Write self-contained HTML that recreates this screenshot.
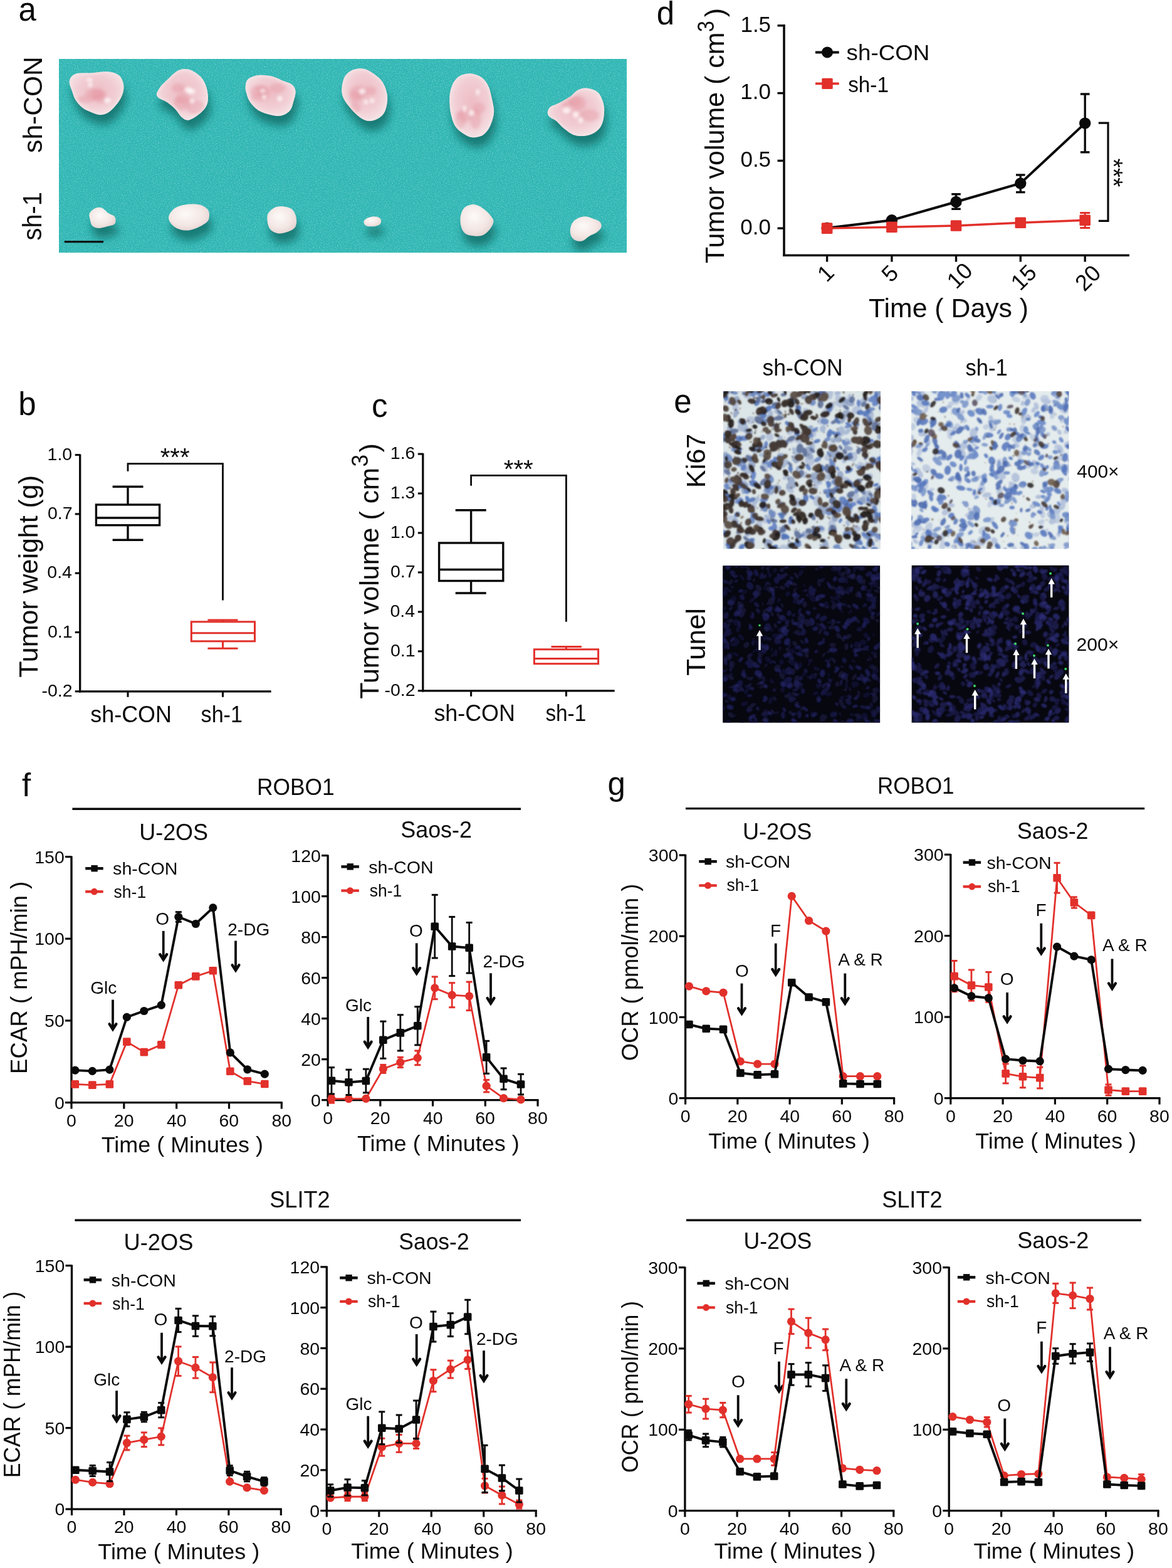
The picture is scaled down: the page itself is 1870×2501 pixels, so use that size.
<!DOCTYPE html>
<html><head><meta charset="utf-8"><title>Figure</title><style>html,body{margin:0;padding:0;background:#fff;}svg{display:block;}</style></head><body>
<svg width="1870" height="2501" viewBox="0 0 1870 2501" font-family="'Liberation Sans', Arial, Helvetica, sans-serif">
<rect width="1870" height="2501" fill="#ffffff"/>
<line x1="114" y1="1365.4" x2="114" y2="1760.3" stroke="#0a0a0a" stroke-width="3.4"/>
<line x1="112.3" y1="1758.6" x2="450.8" y2="1758.6" stroke="#0a0a0a" stroke-width="3.4"/>
<line x1="104" y1="1758.6" x2="114" y2="1758.6" stroke="#0a0a0a" stroke-width="3.2"/>
<text x="86.97" y="1768.8" font-size="28.5" fill="#0a0a0a" textLength="15.85" lengthAdjust="spacingAndGlyphs">0</text>
<line x1="104" y1="1627.93" x2="114" y2="1627.93" stroke="#0a0a0a" stroke-width="3.2"/>
<text x="71.12" y="1638.13" font-size="28.5" fill="#0a0a0a" textLength="31.7" lengthAdjust="spacingAndGlyphs">50</text>
<line x1="104" y1="1497.27" x2="114" y2="1497.27" stroke="#0a0a0a" stroke-width="3.2"/>
<text x="55.27" y="1507.47" font-size="28.5" fill="#0a0a0a" textLength="47.55" lengthAdjust="spacingAndGlyphs">100</text>
<line x1="104" y1="1366.6" x2="114" y2="1366.6" stroke="#0a0a0a" stroke-width="3.2"/>
<text x="55.27" y="1376.8" font-size="28.5" fill="#0a0a0a" textLength="47.55" lengthAdjust="spacingAndGlyphs">150</text>
<line x1="114" y1="1758.6" x2="114" y2="1768.6" stroke="#0a0a0a" stroke-width="3.2"/>
<text x="106.08" y="1796.8" font-size="28.5" fill="#0a0a0a" textLength="15.85" lengthAdjust="spacingAndGlyphs">0</text>
<line x1="197.82" y1="1758.6" x2="197.82" y2="1768.6" stroke="#0a0a0a" stroke-width="3.2"/>
<text x="181.82" y="1796.8" font-size="28.5" fill="#0a0a0a" textLength="31.7" lengthAdjust="spacingAndGlyphs">20</text>
<line x1="281.65" y1="1758.6" x2="281.65" y2="1768.6" stroke="#0a0a0a" stroke-width="3.2"/>
<text x="266.03" y="1796.8" font-size="28.5" fill="#0a0a0a" textLength="31.7" lengthAdjust="spacingAndGlyphs">40</text>
<line x1="365.48" y1="1758.6" x2="365.48" y2="1768.6" stroke="#0a0a0a" stroke-width="3.2"/>
<text x="349.46" y="1796.8" font-size="28.5" fill="#0a0a0a" textLength="31.7" lengthAdjust="spacingAndGlyphs">60</text>
<line x1="449.3" y1="1758.6" x2="449.3" y2="1768.6" stroke="#0a0a0a" stroke-width="3.2"/>
<text x="433.4" y="1796.8" font-size="28.5" fill="#0a0a0a" textLength="31.7" lengthAdjust="spacingAndGlyphs">80</text>
<text x="222.23" y="1339.6" font-size="36" fill="#0a0a0a" textLength="109.83" lengthAdjust="spacingAndGlyphs">U-2OS</text>
<text x="161.72" y="1838.1" font-size="35.5" fill="#0a0a0a" textLength="258.18" lengthAdjust="spacingAndGlyphs">Time ( Minutes )</text>
<text transform="translate(42.7,1712.99) rotate(-90)" font-size="36.5" fill="#0a0a0a" textLength="307.26" lengthAdjust="spacingAndGlyphs">ECAR ( mPH/min )</text>
<line x1="136.2" y1="1385.2" x2="164.7" y2="1385.2" stroke="#0a0a0a" stroke-width="4.4"/>
<rect x="145.4" y="1380" width="10.4" height="10.4" fill="#0a0a0a"/>
<line x1="136.2" y1="1422.2" x2="164.7" y2="1422.2" stroke="#e2302b" stroke-width="4.2"/>
<circle cx="150.4" cy="1422.2" r="5.4" fill="#e2302b"/>
<text x="180.11" y="1395.2" font-size="28.3" fill="#0a0a0a" textLength="103.29" lengthAdjust="spacingAndGlyphs">sh-CON</text>
<text x="181.61" y="1432.2" font-size="28.3" fill="#0a0a0a" textLength="51.49" lengthAdjust="spacingAndGlyphs">sh-1</text>
<line x1="180" y1="1594.6" x2="180" y2="1641.4" stroke="#0a0a0a" stroke-width="3.8"/>
<path d="M174.6,1633.4 L180,1641.8 L185.4,1633.4" fill="none" stroke="#0a0a0a" stroke-width="4.4" stroke-linejoin="miter" stroke-miterlimit="10" stroke-linecap="round"/>
<text x="144.2" y="1584.6" font-size="28" fill="#0a0a0a" textLength="42" lengthAdjust="spacingAndGlyphs">Glc</text>
<line x1="260.7" y1="1484.9" x2="260.7" y2="1530.3" stroke="#0a0a0a" stroke-width="3.8"/>
<path d="M255.3,1522.3 L260.7,1530.7 L266.1,1522.3" fill="none" stroke="#0a0a0a" stroke-width="4.4" stroke-linejoin="miter" stroke-miterlimit="10" stroke-linecap="round"/>
<text x="248.18" y="1475" font-size="28" fill="#0a0a0a" textLength="21.78" lengthAdjust="spacingAndGlyphs">O</text>
<line x1="376" y1="1500.6" x2="376" y2="1547.4" stroke="#0a0a0a" stroke-width="3.8"/>
<path d="M370.6,1539.4 L376,1547.8 L381.4,1539.4" fill="none" stroke="#0a0a0a" stroke-width="4.4" stroke-linejoin="miter" stroke-miterlimit="10" stroke-linecap="round"/>
<text x="363.3" y="1492" font-size="28" fill="#0a0a0a" textLength="66.9" lengthAdjust="spacingAndGlyphs">2-DG</text>
<polyline points="119.87,1729.33 147.36,1730.64 174.86,1729.33 202.35,1661.65 229.85,1678.11 257.34,1666.35 284.84,1571.22 312.33,1557.37 339.82,1548.23 367.32,1708.69 394.81,1724.37 422.31,1729.07" fill="none" stroke="#e2302b" stroke-width="2.8" stroke-linejoin="round"/>
<rect x="113.57" y="1723.03" width="12.6" height="12.6" fill="#e2302b" rx="1.5"/>
<rect x="141.06" y="1724.34" width="12.6" height="12.6" fill="#e2302b" rx="1.5"/>
<rect x="168.56" y="1723.03" width="12.6" height="12.6" fill="#e2302b" rx="1.5"/>
<rect x="196.05" y="1655.35" width="12.6" height="12.6" fill="#e2302b" rx="1.5"/>
<rect x="223.55" y="1671.81" width="12.6" height="12.6" fill="#e2302b" rx="1.5"/>
<rect x="251.04" y="1660.05" width="12.6" height="12.6" fill="#e2302b" rx="1.5"/>
<rect x="278.54" y="1564.92" width="12.6" height="12.6" fill="#e2302b" rx="1.5"/>
<rect x="306.03" y="1551.07" width="12.6" height="12.6" fill="#e2302b" rx="1.5"/>
<rect x="333.52" y="1541.93" width="12.6" height="12.6" fill="#e2302b" rx="1.5"/>
<rect x="361.02" y="1702.39" width="12.6" height="12.6" fill="#e2302b" rx="1.5"/>
<rect x="388.51" y="1718.07" width="12.6" height="12.6" fill="#e2302b" rx="1.5"/>
<rect x="416.01" y="1722.77" width="12.6" height="12.6" fill="#e2302b" rx="1.5"/>
<line x1="284.84" y1="1454.67" x2="284.84" y2="1470.35" stroke="#0a0a0a" stroke-width="2.8"/>
<line x1="279.84" y1="1454.67" x2="289.84" y2="1454.67" stroke="#0a0a0a" stroke-width="3"/>
<line x1="279.84" y1="1470.35" x2="289.84" y2="1470.35" stroke="#0a0a0a" stroke-width="3"/>
<polyline points="119.87,1707.12 147.36,1708.42 174.86,1706.07 202.35,1622.45 229.85,1612.51 257.34,1603.11 284.84,1462.51 312.33,1473.49 339.82,1447.87 367.32,1678.89 394.81,1705.81 422.31,1713.13" fill="none" stroke="#0a0a0a" stroke-width="3.9" stroke-linejoin="round"/>
<circle cx="119.87" cy="1707.12" r="6.6" fill="#0a0a0a"/>
<circle cx="147.36" cy="1708.42" r="6.6" fill="#0a0a0a"/>
<circle cx="174.86" cy="1706.07" r="6.6" fill="#0a0a0a"/>
<circle cx="202.35" cy="1622.45" r="6.6" fill="#0a0a0a"/>
<circle cx="229.85" cy="1612.51" r="6.6" fill="#0a0a0a"/>
<circle cx="257.34" cy="1603.11" r="6.6" fill="#0a0a0a"/>
<circle cx="284.84" cy="1462.51" r="6.6" fill="#0a0a0a"/>
<circle cx="312.33" cy="1473.49" r="6.6" fill="#0a0a0a"/>
<circle cx="339.82" cy="1447.87" r="6.6" fill="#0a0a0a"/>
<circle cx="367.32" cy="1678.89" r="6.6" fill="#0a0a0a"/>
<circle cx="394.81" cy="1705.81" r="6.6" fill="#0a0a0a"/>
<circle cx="422.31" cy="1713.13" r="6.6" fill="#0a0a0a"/>
<line x1="523.1" y1="1363.4" x2="523.1" y2="1756.3" stroke="#0a0a0a" stroke-width="3.4"/>
<line x1="521.4" y1="1754.6" x2="859.5" y2="1754.6" stroke="#0a0a0a" stroke-width="3.4"/>
<line x1="513.1" y1="1754.6" x2="523.1" y2="1754.6" stroke="#0a0a0a" stroke-width="3.2"/>
<text x="496.07" y="1764.8" font-size="28.5" fill="#0a0a0a" textLength="15.85" lengthAdjust="spacingAndGlyphs">0</text>
<line x1="513.1" y1="1689.6" x2="523.1" y2="1689.6" stroke="#0a0a0a" stroke-width="3.2"/>
<text x="480.22" y="1699.8" font-size="28.5" fill="#0a0a0a" textLength="31.7" lengthAdjust="spacingAndGlyphs">20</text>
<line x1="513.1" y1="1624.6" x2="523.1" y2="1624.6" stroke="#0a0a0a" stroke-width="3.2"/>
<text x="480.22" y="1634.8" font-size="28.5" fill="#0a0a0a" textLength="31.7" lengthAdjust="spacingAndGlyphs">40</text>
<line x1="513.1" y1="1559.6" x2="523.1" y2="1559.6" stroke="#0a0a0a" stroke-width="3.2"/>
<text x="480.22" y="1569.8" font-size="28.5" fill="#0a0a0a" textLength="31.7" lengthAdjust="spacingAndGlyphs">60</text>
<line x1="513.1" y1="1494.6" x2="523.1" y2="1494.6" stroke="#0a0a0a" stroke-width="3.2"/>
<text x="480.22" y="1504.8" font-size="28.5" fill="#0a0a0a" textLength="31.7" lengthAdjust="spacingAndGlyphs">80</text>
<line x1="513.1" y1="1429.6" x2="523.1" y2="1429.6" stroke="#0a0a0a" stroke-width="3.2"/>
<text x="464.37" y="1439.8" font-size="28.5" fill="#0a0a0a" textLength="47.55" lengthAdjust="spacingAndGlyphs">100</text>
<line x1="513.1" y1="1364.6" x2="523.1" y2="1364.6" stroke="#0a0a0a" stroke-width="3.2"/>
<text x="464.37" y="1374.8" font-size="28.5" fill="#0a0a0a" textLength="47.55" lengthAdjust="spacingAndGlyphs">120</text>
<line x1="523.1" y1="1754.6" x2="523.1" y2="1764.6" stroke="#0a0a0a" stroke-width="3.2"/>
<text x="515.18" y="1792.8" font-size="28.5" fill="#0a0a0a" textLength="15.85" lengthAdjust="spacingAndGlyphs">0</text>
<line x1="606.83" y1="1754.6" x2="606.83" y2="1764.6" stroke="#0a0a0a" stroke-width="3.2"/>
<text x="590.82" y="1792.8" font-size="28.5" fill="#0a0a0a" textLength="31.7" lengthAdjust="spacingAndGlyphs">20</text>
<line x1="690.55" y1="1754.6" x2="690.55" y2="1764.6" stroke="#0a0a0a" stroke-width="3.2"/>
<text x="674.93" y="1792.8" font-size="28.5" fill="#0a0a0a" textLength="31.7" lengthAdjust="spacingAndGlyphs">40</text>
<line x1="774.28" y1="1754.6" x2="774.28" y2="1764.6" stroke="#0a0a0a" stroke-width="3.2"/>
<text x="758.26" y="1792.8" font-size="28.5" fill="#0a0a0a" textLength="31.7" lengthAdjust="spacingAndGlyphs">60</text>
<line x1="858" y1="1754.6" x2="858" y2="1764.6" stroke="#0a0a0a" stroke-width="3.2"/>
<text x="842.1" y="1792.8" font-size="28.5" fill="#0a0a0a" textLength="31.7" lengthAdjust="spacingAndGlyphs">80</text>
<text x="639.24" y="1336.1" font-size="36" fill="#0a0a0a" textLength="113.77" lengthAdjust="spacingAndGlyphs">Saos-2</text>
<text x="569.92" y="1836.4" font-size="35.5" fill="#0a0a0a" textLength="258.88" lengthAdjust="spacingAndGlyphs">Time ( Minutes )</text>
<line x1="544.4" y1="1382.4" x2="572.9" y2="1382.4" stroke="#0a0a0a" stroke-width="4.4"/>
<rect x="553.6" y="1377.2" width="10.4" height="10.4" fill="#0a0a0a"/>
<line x1="544.4" y1="1420.6" x2="572.9" y2="1420.6" stroke="#e2302b" stroke-width="4.2"/>
<circle cx="558.6" cy="1420.6" r="5.4" fill="#e2302b"/>
<text x="588.31" y="1393.4" font-size="28.3" fill="#0a0a0a" textLength="103.29" lengthAdjust="spacingAndGlyphs">sh-CON</text>
<text x="589.81" y="1430.4" font-size="28.3" fill="#0a0a0a" textLength="51.49" lengthAdjust="spacingAndGlyphs">sh-1</text>
<line x1="587.2" y1="1622" x2="587.2" y2="1669.7" stroke="#0a0a0a" stroke-width="3.8"/>
<path d="M581.8,1661.7 L587.2,1670.1 L592.6,1661.7" fill="none" stroke="#0a0a0a" stroke-width="4.4" stroke-linejoin="miter" stroke-miterlimit="10" stroke-linecap="round"/>
<text x="551" y="1613.4" font-size="28" fill="#0a0a0a" textLength="42" lengthAdjust="spacingAndGlyphs">Glc</text>
<line x1="664.7" y1="1504.4" x2="664.7" y2="1552.2" stroke="#0a0a0a" stroke-width="3.8"/>
<path d="M659.3,1544.2 L664.7,1552.6 L670.1,1544.2" fill="none" stroke="#0a0a0a" stroke-width="4.4" stroke-linejoin="miter" stroke-miterlimit="10" stroke-linecap="round"/>
<text x="652.88" y="1494.2" font-size="28" fill="#0a0a0a" textLength="21.78" lengthAdjust="spacingAndGlyphs">O</text>
<line x1="783" y1="1552.3" x2="783" y2="1600" stroke="#0a0a0a" stroke-width="3.8"/>
<path d="M777.6,1592 L783,1600.4 L788.4,1592" fill="none" stroke="#0a0a0a" stroke-width="4.4" stroke-linejoin="miter" stroke-miterlimit="10" stroke-linecap="round"/>
<text x="770.6" y="1542.7" font-size="28" fill="#0a0a0a" textLength="66.9" lengthAdjust="spacingAndGlyphs">2-DG</text>
<line x1="528.96" y1="1746.15" x2="528.96" y2="1759.15" stroke="#e2302b" stroke-width="2.8"/>
<line x1="523.96" y1="1746.15" x2="533.96" y2="1746.15" stroke="#e2302b" stroke-width="3"/>
<line x1="523.96" y1="1759.15" x2="533.96" y2="1759.15" stroke="#e2302b" stroke-width="3"/>
<line x1="611.35" y1="1698.38" x2="611.35" y2="1711.38" stroke="#e2302b" stroke-width="2.8"/>
<line x1="606.35" y1="1698.38" x2="616.35" y2="1698.38" stroke="#e2302b" stroke-width="3"/>
<line x1="606.35" y1="1711.38" x2="616.35" y2="1711.38" stroke="#e2302b" stroke-width="3"/>
<line x1="638.81" y1="1686.35" x2="638.81" y2="1702.6" stroke="#e2302b" stroke-width="2.8"/>
<line x1="633.81" y1="1686.35" x2="643.81" y2="1686.35" stroke="#e2302b" stroke-width="3"/>
<line x1="633.81" y1="1702.6" x2="643.81" y2="1702.6" stroke="#e2302b" stroke-width="3"/>
<line x1="666.27" y1="1675.95" x2="666.27" y2="1698.7" stroke="#e2302b" stroke-width="2.8"/>
<line x1="661.27" y1="1675.95" x2="671.27" y2="1675.95" stroke="#e2302b" stroke-width="3"/>
<line x1="661.27" y1="1698.7" x2="671.27" y2="1698.7" stroke="#e2302b" stroke-width="3"/>
<line x1="693.73" y1="1557.97" x2="693.73" y2="1593.72" stroke="#e2302b" stroke-width="2.8"/>
<line x1="688.73" y1="1557.97" x2="698.73" y2="1557.97" stroke="#e2302b" stroke-width="3"/>
<line x1="688.73" y1="1593.72" x2="698.73" y2="1593.72" stroke="#e2302b" stroke-width="3"/>
<line x1="721.19" y1="1567.72" x2="721.19" y2="1606.72" stroke="#e2302b" stroke-width="2.8"/>
<line x1="716.19" y1="1567.72" x2="726.19" y2="1567.72" stroke="#e2302b" stroke-width="3"/>
<line x1="716.19" y1="1606.72" x2="726.19" y2="1606.72" stroke="#e2302b" stroke-width="3"/>
<line x1="748.66" y1="1566.1" x2="748.66" y2="1611.6" stroke="#e2302b" stroke-width="2.8"/>
<line x1="743.66" y1="1566.1" x2="753.66" y2="1566.1" stroke="#e2302b" stroke-width="3"/>
<line x1="743.66" y1="1611.6" x2="753.66" y2="1611.6" stroke="#e2302b" stroke-width="3"/>
<line x1="776.12" y1="1722.42" x2="776.12" y2="1741.92" stroke="#e2302b" stroke-width="2.8"/>
<line x1="771.12" y1="1722.42" x2="781.12" y2="1722.42" stroke="#e2302b" stroke-width="3"/>
<line x1="771.12" y1="1741.92" x2="781.12" y2="1741.92" stroke="#e2302b" stroke-width="3"/>
<polyline points="528.96,1752.65 556.42,1752.65 583.88,1752.32 611.35,1704.88 638.81,1694.47 666.27,1687.32 693.73,1575.85 721.19,1587.22 748.66,1588.85 776.12,1732.17 803.58,1751.67 831.04,1753.95" fill="none" stroke="#e2302b" stroke-width="2.8" stroke-linejoin="round"/>
<circle cx="528.96" cy="1752.65" r="6.6" fill="#e2302b"/>
<circle cx="556.42" cy="1752.65" r="6.6" fill="#e2302b"/>
<circle cx="583.88" cy="1752.32" r="6.6" fill="#e2302b"/>
<circle cx="611.35" cy="1704.88" r="6.6" fill="#e2302b"/>
<circle cx="638.81" cy="1694.47" r="6.6" fill="#e2302b"/>
<circle cx="666.27" cy="1687.32" r="6.6" fill="#e2302b"/>
<circle cx="693.73" cy="1575.85" r="6.6" fill="#e2302b"/>
<circle cx="721.19" cy="1587.22" r="6.6" fill="#e2302b"/>
<circle cx="748.66" cy="1588.85" r="6.6" fill="#e2302b"/>
<circle cx="776.12" cy="1732.17" r="6.6" fill="#e2302b"/>
<circle cx="803.58" cy="1751.67" r="6.6" fill="#e2302b"/>
<circle cx="831.04" cy="1753.95" r="6.6" fill="#e2302b"/>
<line x1="528.96" y1="1702.6" x2="528.96" y2="1744.85" stroke="#0a0a0a" stroke-width="2.8"/>
<line x1="523.96" y1="1702.6" x2="533.96" y2="1702.6" stroke="#0a0a0a" stroke-width="3"/>
<line x1="523.96" y1="1744.85" x2="533.96" y2="1744.85" stroke="#0a0a0a" stroke-width="3"/>
<line x1="556.42" y1="1706.17" x2="556.42" y2="1746.47" stroke="#0a0a0a" stroke-width="2.8"/>
<line x1="551.42" y1="1706.17" x2="561.42" y2="1706.17" stroke="#0a0a0a" stroke-width="3"/>
<line x1="551.42" y1="1746.47" x2="561.42" y2="1746.47" stroke="#0a0a0a" stroke-width="3"/>
<line x1="583.88" y1="1705.2" x2="583.88" y2="1742.9" stroke="#0a0a0a" stroke-width="2.8"/>
<line x1="578.88" y1="1705.2" x2="588.88" y2="1705.2" stroke="#0a0a0a" stroke-width="3"/>
<line x1="578.88" y1="1742.9" x2="588.88" y2="1742.9" stroke="#0a0a0a" stroke-width="3"/>
<line x1="611.35" y1="1629.15" x2="611.35" y2="1688.3" stroke="#0a0a0a" stroke-width="2.8"/>
<line x1="606.35" y1="1629.15" x2="616.35" y2="1629.15" stroke="#0a0a0a" stroke-width="3"/>
<line x1="606.35" y1="1688.3" x2="616.35" y2="1688.3" stroke="#0a0a0a" stroke-width="3"/>
<line x1="638.81" y1="1618.75" x2="638.81" y2="1675.95" stroke="#0a0a0a" stroke-width="2.8"/>
<line x1="633.81" y1="1618.75" x2="643.81" y2="1618.75" stroke="#0a0a0a" stroke-width="3"/>
<line x1="633.81" y1="1675.95" x2="643.81" y2="1675.95" stroke="#0a0a0a" stroke-width="3"/>
<line x1="666.27" y1="1605.75" x2="666.27" y2="1666.85" stroke="#0a0a0a" stroke-width="2.8"/>
<line x1="661.27" y1="1605.75" x2="671.27" y2="1605.75" stroke="#0a0a0a" stroke-width="3"/>
<line x1="661.27" y1="1666.85" x2="671.27" y2="1666.85" stroke="#0a0a0a" stroke-width="3"/>
<line x1="693.73" y1="1427.32" x2="693.73" y2="1528.07" stroke="#0a0a0a" stroke-width="2.8"/>
<line x1="688.73" y1="1427.32" x2="698.73" y2="1427.32" stroke="#0a0a0a" stroke-width="3"/>
<line x1="688.73" y1="1528.07" x2="698.73" y2="1528.07" stroke="#0a0a0a" stroke-width="3"/>
<line x1="721.19" y1="1462.42" x2="721.19" y2="1556.67" stroke="#0a0a0a" stroke-width="2.8"/>
<line x1="716.19" y1="1462.42" x2="726.19" y2="1462.42" stroke="#0a0a0a" stroke-width="3"/>
<line x1="716.19" y1="1556.67" x2="726.19" y2="1556.67" stroke="#0a0a0a" stroke-width="3"/>
<line x1="748.66" y1="1471.52" x2="748.66" y2="1552.12" stroke="#0a0a0a" stroke-width="2.8"/>
<line x1="743.66" y1="1471.52" x2="753.66" y2="1471.52" stroke="#0a0a0a" stroke-width="3"/>
<line x1="743.66" y1="1552.12" x2="753.66" y2="1552.12" stroke="#0a0a0a" stroke-width="3"/>
<line x1="776.12" y1="1660.35" x2="776.12" y2="1712.35" stroke="#0a0a0a" stroke-width="2.8"/>
<line x1="771.12" y1="1660.35" x2="781.12" y2="1660.35" stroke="#0a0a0a" stroke-width="3"/>
<line x1="771.12" y1="1712.35" x2="781.12" y2="1712.35" stroke="#0a0a0a" stroke-width="3"/>
<line x1="803.58" y1="1703.9" x2="803.58" y2="1737.7" stroke="#0a0a0a" stroke-width="2.8"/>
<line x1="798.58" y1="1703.9" x2="808.58" y2="1703.9" stroke="#0a0a0a" stroke-width="3"/>
<line x1="798.58" y1="1737.7" x2="808.58" y2="1737.7" stroke="#0a0a0a" stroke-width="3"/>
<line x1="831.04" y1="1713.32" x2="831.04" y2="1745.82" stroke="#0a0a0a" stroke-width="2.8"/>
<line x1="826.04" y1="1713.32" x2="836.04" y2="1713.32" stroke="#0a0a0a" stroke-width="3"/>
<line x1="826.04" y1="1745.82" x2="836.04" y2="1745.82" stroke="#0a0a0a" stroke-width="3"/>
<polyline points="528.96,1723.72 556.42,1726.32 583.88,1724.05 611.35,1658.72 638.81,1647.35 666.27,1636.3 693.73,1477.7 721.19,1509.55 748.66,1511.82 776.12,1686.35 803.58,1720.8 831.04,1729.57" fill="none" stroke="#0a0a0a" stroke-width="3.9" stroke-linejoin="round"/>
<rect x="522.66" y="1717.42" width="12.6" height="12.6" fill="#0a0a0a" rx="1.5"/>
<rect x="550.12" y="1720.02" width="12.6" height="12.6" fill="#0a0a0a" rx="1.5"/>
<rect x="577.58" y="1717.75" width="12.6" height="12.6" fill="#0a0a0a" rx="1.5"/>
<rect x="605.05" y="1652.42" width="12.6" height="12.6" fill="#0a0a0a" rx="1.5"/>
<rect x="632.51" y="1641.05" width="12.6" height="12.6" fill="#0a0a0a" rx="1.5"/>
<rect x="659.97" y="1630" width="12.6" height="12.6" fill="#0a0a0a" rx="1.5"/>
<rect x="687.43" y="1471.4" width="12.6" height="12.6" fill="#0a0a0a" rx="1.5"/>
<rect x="714.89" y="1503.25" width="12.6" height="12.6" fill="#0a0a0a" rx="1.5"/>
<rect x="742.36" y="1505.52" width="12.6" height="12.6" fill="#0a0a0a" rx="1.5"/>
<rect x="769.82" y="1680.05" width="12.6" height="12.6" fill="#0a0a0a" rx="1.5"/>
<rect x="797.28" y="1714.5" width="12.6" height="12.6" fill="#0a0a0a" rx="1.5"/>
<rect x="824.74" y="1723.27" width="12.6" height="12.6" fill="#0a0a0a" rx="1.5"/>
<line x1="114.5" y1="2017.5" x2="114.5" y2="2408.8" stroke="#0a0a0a" stroke-width="3.4"/>
<line x1="112.8" y1="2407.1" x2="449.8" y2="2407.1" stroke="#0a0a0a" stroke-width="3.4"/>
<line x1="104.5" y1="2407.1" x2="114.5" y2="2407.1" stroke="#0a0a0a" stroke-width="3.2"/>
<text x="87.47" y="2417.3" font-size="28.5" fill="#0a0a0a" textLength="15.85" lengthAdjust="spacingAndGlyphs">0</text>
<line x1="104.5" y1="2277.63" x2="114.5" y2="2277.63" stroke="#0a0a0a" stroke-width="3.2"/>
<text x="71.62" y="2287.83" font-size="28.5" fill="#0a0a0a" textLength="31.7" lengthAdjust="spacingAndGlyphs">50</text>
<line x1="104.5" y1="2148.17" x2="114.5" y2="2148.17" stroke="#0a0a0a" stroke-width="3.2"/>
<text x="55.77" y="2158.37" font-size="28.5" fill="#0a0a0a" textLength="47.55" lengthAdjust="spacingAndGlyphs">100</text>
<line x1="104.5" y1="2018.7" x2="114.5" y2="2018.7" stroke="#0a0a0a" stroke-width="3.2"/>
<text x="55.77" y="2028.9" font-size="28.5" fill="#0a0a0a" textLength="47.55" lengthAdjust="spacingAndGlyphs">150</text>
<line x1="114.5" y1="2407.1" x2="114.5" y2="2417.1" stroke="#0a0a0a" stroke-width="3.2"/>
<text x="106.58" y="2445.3" font-size="28.5" fill="#0a0a0a" textLength="15.85" lengthAdjust="spacingAndGlyphs">0</text>
<line x1="197.95" y1="2407.1" x2="197.95" y2="2417.1" stroke="#0a0a0a" stroke-width="3.2"/>
<text x="181.95" y="2445.3" font-size="28.5" fill="#0a0a0a" textLength="31.7" lengthAdjust="spacingAndGlyphs">20</text>
<line x1="281.4" y1="2407.1" x2="281.4" y2="2417.1" stroke="#0a0a0a" stroke-width="3.2"/>
<text x="265.78" y="2445.3" font-size="28.5" fill="#0a0a0a" textLength="31.7" lengthAdjust="spacingAndGlyphs">40</text>
<line x1="364.85" y1="2407.1" x2="364.85" y2="2417.1" stroke="#0a0a0a" stroke-width="3.2"/>
<text x="348.83" y="2445.3" font-size="28.5" fill="#0a0a0a" textLength="31.7" lengthAdjust="spacingAndGlyphs">60</text>
<line x1="448.3" y1="2407.1" x2="448.3" y2="2417.1" stroke="#0a0a0a" stroke-width="3.2"/>
<text x="432.4" y="2445.3" font-size="28.5" fill="#0a0a0a" textLength="31.7" lengthAdjust="spacingAndGlyphs">80</text>
<text x="197.53" y="1993.7" font-size="36" fill="#0a0a0a" textLength="111.03" lengthAdjust="spacingAndGlyphs">U-2OS</text>
<text x="156.32" y="2486.8" font-size="35.5" fill="#0a0a0a" textLength="257.88" lengthAdjust="spacingAndGlyphs">Time ( Minutes )</text>
<text transform="translate(32.3,2357.19) rotate(-90)" font-size="36.5" fill="#0a0a0a" textLength="297.56" lengthAdjust="spacingAndGlyphs">ECAR ( mPH/min )</text>
<line x1="133.6" y1="2041.4" x2="162.1" y2="2041.4" stroke="#0a0a0a" stroke-width="4.4"/>
<rect x="142.8" y="2036.2" width="10.4" height="10.4" fill="#0a0a0a"/>
<line x1="133.6" y1="2078.9" x2="162.1" y2="2078.9" stroke="#e2302b" stroke-width="4.2"/>
<circle cx="147.8" cy="2078.9" r="5.4" fill="#e2302b"/>
<text x="177.71" y="2051.9" font-size="28.3" fill="#0a0a0a" textLength="103.29" lengthAdjust="spacingAndGlyphs">sh-CON</text>
<text x="179.21" y="2088.9" font-size="28.3" fill="#0a0a0a" textLength="51.49" lengthAdjust="spacingAndGlyphs">sh-1</text>
<line x1="186.1" y1="2218.2" x2="186.1" y2="2266.3" stroke="#0a0a0a" stroke-width="3.8"/>
<path d="M180.7,2258.3 L186.1,2266.7 L191.5,2258.3" fill="none" stroke="#0a0a0a" stroke-width="4.4" stroke-linejoin="miter" stroke-miterlimit="10" stroke-linecap="round"/>
<text x="149.2" y="2209.6" font-size="28" fill="#0a0a0a" textLength="42" lengthAdjust="spacingAndGlyphs">Glc</text>
<line x1="258" y1="2125.8" x2="258" y2="2172.5" stroke="#0a0a0a" stroke-width="3.8"/>
<path d="M252.6,2164.5 L258,2172.9 L263.4,2164.5" fill="none" stroke="#0a0a0a" stroke-width="4.4" stroke-linejoin="miter" stroke-miterlimit="10" stroke-linecap="round"/>
<text x="245.58" y="2114.4" font-size="28" fill="#0a0a0a" textLength="21.78" lengthAdjust="spacingAndGlyphs">O</text>
<line x1="370" y1="2181.2" x2="370" y2="2229.4" stroke="#0a0a0a" stroke-width="3.8"/>
<path d="M364.6,2221.4 L370,2229.8 L375.4,2221.4" fill="none" stroke="#0a0a0a" stroke-width="4.4" stroke-linejoin="miter" stroke-miterlimit="10" stroke-linecap="round"/>
<text x="358.1" y="2172.7" font-size="28" fill="#0a0a0a" textLength="66.9" lengthAdjust="spacingAndGlyphs">2-DG</text>
<line x1="202.46" y1="2290.06" x2="202.46" y2="2312.85" stroke="#e2302b" stroke-width="2.8"/>
<line x1="197.46" y1="2290.06" x2="207.46" y2="2290.06" stroke="#e2302b" stroke-width="3"/>
<line x1="197.46" y1="2312.85" x2="207.46" y2="2312.85" stroke="#e2302b" stroke-width="3"/>
<line x1="229.83" y1="2284.88" x2="229.83" y2="2307.67" stroke="#e2302b" stroke-width="2.8"/>
<line x1="224.83" y1="2284.88" x2="234.83" y2="2284.88" stroke="#e2302b" stroke-width="3"/>
<line x1="224.83" y1="2307.67" x2="234.83" y2="2307.67" stroke="#e2302b" stroke-width="3"/>
<line x1="257.2" y1="2277.89" x2="257.2" y2="2304.82" stroke="#e2302b" stroke-width="2.8"/>
<line x1="252.2" y1="2277.89" x2="262.2" y2="2277.89" stroke="#e2302b" stroke-width="3"/>
<line x1="252.2" y1="2304.82" x2="262.2" y2="2304.82" stroke="#e2302b" stroke-width="3"/>
<line x1="284.57" y1="2147.91" x2="284.57" y2="2194.52" stroke="#e2302b" stroke-width="2.8"/>
<line x1="279.57" y1="2147.91" x2="289.57" y2="2147.91" stroke="#e2302b" stroke-width="3"/>
<line x1="279.57" y1="2194.52" x2="289.57" y2="2194.52" stroke="#e2302b" stroke-width="3"/>
<line x1="311.94" y1="2164.48" x2="311.94" y2="2198.14" stroke="#e2302b" stroke-width="2.8"/>
<line x1="306.94" y1="2164.48" x2="316.94" y2="2164.48" stroke="#e2302b" stroke-width="3"/>
<line x1="306.94" y1="2198.14" x2="316.94" y2="2198.14" stroke="#e2302b" stroke-width="3"/>
<line x1="339.31" y1="2173.02" x2="339.31" y2="2220.67" stroke="#e2302b" stroke-width="2.8"/>
<line x1="334.31" y1="2173.02" x2="344.31" y2="2173.02" stroke="#e2302b" stroke-width="3"/>
<line x1="334.31" y1="2220.67" x2="344.31" y2="2220.67" stroke="#e2302b" stroke-width="3"/>
<polyline points="120.34,2360.23 147.71,2364.38 175.08,2366.71 202.46,2301.46 229.83,2296.28 257.2,2291.36 284.57,2171.21 311.94,2181.31 339.31,2196.85 366.69,2363.08 394.06,2372.92 421.43,2377.32" fill="none" stroke="#e2302b" stroke-width="2.8" stroke-linejoin="round"/>
<circle cx="120.34" cy="2360.23" r="6.6" fill="#e2302b"/>
<circle cx="147.71" cy="2364.38" r="6.6" fill="#e2302b"/>
<circle cx="175.08" cy="2366.71" r="6.6" fill="#e2302b"/>
<circle cx="202.46" cy="2301.46" r="6.6" fill="#e2302b"/>
<circle cx="229.83" cy="2296.28" r="6.6" fill="#e2302b"/>
<circle cx="257.2" cy="2291.36" r="6.6" fill="#e2302b"/>
<circle cx="284.57" cy="2171.21" r="6.6" fill="#e2302b"/>
<circle cx="311.94" cy="2181.31" r="6.6" fill="#e2302b"/>
<circle cx="339.31" cy="2196.85" r="6.6" fill="#e2302b"/>
<circle cx="366.69" cy="2363.08" r="6.6" fill="#e2302b"/>
<circle cx="394.06" cy="2372.92" r="6.6" fill="#e2302b"/>
<circle cx="421.43" cy="2377.32" r="6.6" fill="#e2302b"/>
<line x1="147.71" y1="2337.45" x2="147.71" y2="2354.54" stroke="#0a0a0a" stroke-width="2.8"/>
<line x1="142.71" y1="2337.45" x2="152.71" y2="2337.45" stroke="#0a0a0a" stroke-width="3"/>
<line x1="142.71" y1="2354.54" x2="152.71" y2="2354.54" stroke="#0a0a0a" stroke-width="3"/>
<line x1="175.08" y1="2332.53" x2="175.08" y2="2362.56" stroke="#0a0a0a" stroke-width="2.8"/>
<line x1="170.08" y1="2332.53" x2="180.08" y2="2332.53" stroke="#0a0a0a" stroke-width="3"/>
<line x1="170.08" y1="2362.56" x2="180.08" y2="2362.56" stroke="#0a0a0a" stroke-width="3"/>
<line x1="202.46" y1="2252.78" x2="202.46" y2="2275.04" stroke="#0a0a0a" stroke-width="2.8"/>
<line x1="197.46" y1="2252.78" x2="207.46" y2="2252.78" stroke="#0a0a0a" stroke-width="3"/>
<line x1="197.46" y1="2275.04" x2="207.46" y2="2275.04" stroke="#0a0a0a" stroke-width="3"/>
<line x1="229.83" y1="2252.26" x2="229.83" y2="2267.79" stroke="#0a0a0a" stroke-width="2.8"/>
<line x1="224.83" y1="2252.26" x2="234.83" y2="2252.26" stroke="#0a0a0a" stroke-width="3"/>
<line x1="224.83" y1="2267.79" x2="234.83" y2="2267.79" stroke="#0a0a0a" stroke-width="3"/>
<line x1="257.2" y1="2237.5" x2="257.2" y2="2260.8" stroke="#0a0a0a" stroke-width="2.8"/>
<line x1="252.2" y1="2237.5" x2="262.2" y2="2237.5" stroke="#0a0a0a" stroke-width="3"/>
<line x1="252.2" y1="2260.8" x2="262.2" y2="2260.8" stroke="#0a0a0a" stroke-width="3"/>
<line x1="284.57" y1="2087.32" x2="284.57" y2="2124.6" stroke="#0a0a0a" stroke-width="2.8"/>
<line x1="279.57" y1="2087.32" x2="289.57" y2="2087.32" stroke="#0a0a0a" stroke-width="3"/>
<line x1="279.57" y1="2124.6" x2="289.57" y2="2124.6" stroke="#0a0a0a" stroke-width="3"/>
<line x1="311.94" y1="2098.71" x2="311.94" y2="2131.34" stroke="#0a0a0a" stroke-width="2.8"/>
<line x1="306.94" y1="2098.71" x2="316.94" y2="2098.71" stroke="#0a0a0a" stroke-width="3"/>
<line x1="306.94" y1="2131.34" x2="316.94" y2="2131.34" stroke="#0a0a0a" stroke-width="3"/>
<line x1="339.31" y1="2099.75" x2="339.31" y2="2130.82" stroke="#0a0a0a" stroke-width="2.8"/>
<line x1="334.31" y1="2099.75" x2="344.31" y2="2099.75" stroke="#0a0a0a" stroke-width="3"/>
<line x1="334.31" y1="2130.82" x2="344.31" y2="2130.82" stroke="#0a0a0a" stroke-width="3"/>
<line x1="366.69" y1="2337.71" x2="366.69" y2="2353.24" stroke="#0a0a0a" stroke-width="2.8"/>
<line x1="361.69" y1="2337.71" x2="371.69" y2="2337.71" stroke="#0a0a0a" stroke-width="3"/>
<line x1="361.69" y1="2353.24" x2="371.69" y2="2353.24" stroke="#0a0a0a" stroke-width="3"/>
<line x1="394.06" y1="2347.29" x2="394.06" y2="2362.82" stroke="#0a0a0a" stroke-width="2.8"/>
<line x1="389.06" y1="2347.29" x2="399.06" y2="2347.29" stroke="#0a0a0a" stroke-width="3"/>
<line x1="389.06" y1="2362.82" x2="399.06" y2="2362.82" stroke="#0a0a0a" stroke-width="3"/>
<line x1="421.43" y1="2356.61" x2="421.43" y2="2369.55" stroke="#0a0a0a" stroke-width="2.8"/>
<line x1="416.43" y1="2356.61" x2="426.43" y2="2356.61" stroke="#0a0a0a" stroke-width="3"/>
<line x1="416.43" y1="2369.55" x2="426.43" y2="2369.55" stroke="#0a0a0a" stroke-width="3"/>
<polyline points="120.34,2344.7 147.71,2345.99 175.08,2347.55 202.46,2263.91 229.83,2260.03 257.2,2249.15 284.57,2105.96 311.94,2115.02 339.31,2115.28 366.69,2345.47 394.06,2355.05 421.43,2363.08" fill="none" stroke="#0a0a0a" stroke-width="3.9" stroke-linejoin="round"/>
<rect x="114.04" y="2338.4" width="12.6" height="12.6" fill="#0a0a0a" rx="1.5"/>
<rect x="141.41" y="2339.69" width="12.6" height="12.6" fill="#0a0a0a" rx="1.5"/>
<rect x="168.78" y="2341.25" width="12.6" height="12.6" fill="#0a0a0a" rx="1.5"/>
<rect x="196.16" y="2257.61" width="12.6" height="12.6" fill="#0a0a0a" rx="1.5"/>
<rect x="223.53" y="2253.73" width="12.6" height="12.6" fill="#0a0a0a" rx="1.5"/>
<rect x="250.9" y="2242.85" width="12.6" height="12.6" fill="#0a0a0a" rx="1.5"/>
<rect x="278.27" y="2099.66" width="12.6" height="12.6" fill="#0a0a0a" rx="1.5"/>
<rect x="305.64" y="2108.72" width="12.6" height="12.6" fill="#0a0a0a" rx="1.5"/>
<rect x="333.01" y="2108.98" width="12.6" height="12.6" fill="#0a0a0a" rx="1.5"/>
<rect x="360.39" y="2339.17" width="12.6" height="12.6" fill="#0a0a0a" rx="1.5"/>
<rect x="387.76" y="2348.75" width="12.6" height="12.6" fill="#0a0a0a" rx="1.5"/>
<rect x="415.13" y="2356.78" width="12.6" height="12.6" fill="#0a0a0a" rx="1.5"/>
<line x1="521.3" y1="2019.6" x2="521.3" y2="2411.3" stroke="#0a0a0a" stroke-width="3.4"/>
<line x1="519.6" y1="2409.6" x2="856.7" y2="2409.6" stroke="#0a0a0a" stroke-width="3.4"/>
<line x1="511.3" y1="2409.6" x2="521.3" y2="2409.6" stroke="#0a0a0a" stroke-width="3.2"/>
<text x="494.27" y="2419.8" font-size="28.5" fill="#0a0a0a" textLength="15.85" lengthAdjust="spacingAndGlyphs">0</text>
<line x1="511.3" y1="2344.8" x2="521.3" y2="2344.8" stroke="#0a0a0a" stroke-width="3.2"/>
<text x="478.42" y="2355" font-size="28.5" fill="#0a0a0a" textLength="31.7" lengthAdjust="spacingAndGlyphs">20</text>
<line x1="511.3" y1="2280" x2="521.3" y2="2280" stroke="#0a0a0a" stroke-width="3.2"/>
<text x="478.42" y="2290.2" font-size="28.5" fill="#0a0a0a" textLength="31.7" lengthAdjust="spacingAndGlyphs">40</text>
<line x1="511.3" y1="2215.2" x2="521.3" y2="2215.2" stroke="#0a0a0a" stroke-width="3.2"/>
<text x="478.42" y="2225.4" font-size="28.5" fill="#0a0a0a" textLength="31.7" lengthAdjust="spacingAndGlyphs">60</text>
<line x1="511.3" y1="2150.4" x2="521.3" y2="2150.4" stroke="#0a0a0a" stroke-width="3.2"/>
<text x="478.42" y="2160.6" font-size="28.5" fill="#0a0a0a" textLength="31.7" lengthAdjust="spacingAndGlyphs">80</text>
<line x1="511.3" y1="2085.6" x2="521.3" y2="2085.6" stroke="#0a0a0a" stroke-width="3.2"/>
<text x="462.57" y="2095.8" font-size="28.5" fill="#0a0a0a" textLength="47.55" lengthAdjust="spacingAndGlyphs">100</text>
<line x1="511.3" y1="2020.8" x2="521.3" y2="2020.8" stroke="#0a0a0a" stroke-width="3.2"/>
<text x="462.57" y="2031" font-size="28.5" fill="#0a0a0a" textLength="47.55" lengthAdjust="spacingAndGlyphs">120</text>
<line x1="521.3" y1="2409.6" x2="521.3" y2="2419.6" stroke="#0a0a0a" stroke-width="3.2"/>
<text x="513.38" y="2447.8" font-size="28.5" fill="#0a0a0a" textLength="15.85" lengthAdjust="spacingAndGlyphs">0</text>
<line x1="604.77" y1="2409.6" x2="604.77" y2="2419.6" stroke="#0a0a0a" stroke-width="3.2"/>
<text x="588.77" y="2447.8" font-size="28.5" fill="#0a0a0a" textLength="31.7" lengthAdjust="spacingAndGlyphs">20</text>
<line x1="688.25" y1="2409.6" x2="688.25" y2="2419.6" stroke="#0a0a0a" stroke-width="3.2"/>
<text x="672.63" y="2447.8" font-size="28.5" fill="#0a0a0a" textLength="31.7" lengthAdjust="spacingAndGlyphs">40</text>
<line x1="771.73" y1="2409.6" x2="771.73" y2="2419.6" stroke="#0a0a0a" stroke-width="3.2"/>
<text x="755.71" y="2447.8" font-size="28.5" fill="#0a0a0a" textLength="31.7" lengthAdjust="spacingAndGlyphs">60</text>
<line x1="855.2" y1="2409.6" x2="855.2" y2="2419.6" stroke="#0a0a0a" stroke-width="3.2"/>
<text x="839.3" y="2447.8" font-size="28.5" fill="#0a0a0a" textLength="31.7" lengthAdjust="spacingAndGlyphs">80</text>
<text x="636.34" y="1993.2" font-size="36" fill="#0a0a0a" textLength="112.27" lengthAdjust="spacingAndGlyphs">Saos-2</text>
<text x="560.22" y="2486.4" font-size="35.5" fill="#0a0a0a" textLength="258.48" lengthAdjust="spacingAndGlyphs">Time ( Minutes )</text>
<line x1="542.2" y1="2038.2" x2="570.7" y2="2038.2" stroke="#0a0a0a" stroke-width="4.4"/>
<rect x="551.4" y="2033" width="10.4" height="10.4" fill="#0a0a0a"/>
<line x1="542.2" y1="2075.9" x2="570.7" y2="2075.9" stroke="#e2302b" stroke-width="4.2"/>
<circle cx="556.4" cy="2075.9" r="5.4" fill="#e2302b"/>
<text x="585.51" y="2047.7" font-size="28.3" fill="#0a0a0a" textLength="103.29" lengthAdjust="spacingAndGlyphs">sh-CON</text>
<text x="587.01" y="2084.6" font-size="28.3" fill="#0a0a0a" textLength="51.49" lengthAdjust="spacingAndGlyphs">sh-1</text>
<line x1="587.2" y1="2258.7" x2="587.2" y2="2306.5" stroke="#0a0a0a" stroke-width="3.8"/>
<path d="M581.8,2298.5 L587.2,2306.9 L592.6,2298.5" fill="none" stroke="#0a0a0a" stroke-width="4.4" stroke-linejoin="miter" stroke-miterlimit="10" stroke-linecap="round"/>
<text x="551.6" y="2249.1" font-size="28" fill="#0a0a0a" textLength="42" lengthAdjust="spacingAndGlyphs">Glc</text>
<line x1="664.7" y1="2128.1" x2="664.7" y2="2175.9" stroke="#0a0a0a" stroke-width="3.8"/>
<path d="M659.3,2167.9 L664.7,2176.3 L670.1,2167.9" fill="none" stroke="#0a0a0a" stroke-width="4.4" stroke-linejoin="miter" stroke-miterlimit="10" stroke-linecap="round"/>
<text x="652.88" y="2118.5" font-size="28" fill="#0a0a0a" textLength="21.78" lengthAdjust="spacingAndGlyphs">O</text>
<line x1="772" y1="2154.2" x2="772" y2="2202" stroke="#0a0a0a" stroke-width="3.8"/>
<path d="M766.6,2194 L772,2202.4 L777.4,2194" fill="none" stroke="#0a0a0a" stroke-width="4.4" stroke-linejoin="miter" stroke-miterlimit="10" stroke-linecap="round"/>
<text x="759.9" y="2144.7" font-size="28" fill="#0a0a0a" textLength="66.9" lengthAdjust="spacingAndGlyphs">2-DG</text>
<line x1="554.52" y1="2380.76" x2="554.52" y2="2393.72" stroke="#e2302b" stroke-width="2.8"/>
<line x1="549.52" y1="2380.76" x2="559.52" y2="2380.76" stroke="#e2302b" stroke-width="3"/>
<line x1="549.52" y1="2393.72" x2="559.52" y2="2393.72" stroke="#e2302b" stroke-width="3"/>
<line x1="581.9" y1="2380.76" x2="581.9" y2="2393.72" stroke="#e2302b" stroke-width="2.8"/>
<line x1="576.9" y1="2380.76" x2="586.9" y2="2380.76" stroke="#e2302b" stroke-width="3"/>
<line x1="576.9" y1="2393.72" x2="586.9" y2="2393.72" stroke="#e2302b" stroke-width="3"/>
<line x1="609.28" y1="2294.26" x2="609.28" y2="2322.12" stroke="#e2302b" stroke-width="2.8"/>
<line x1="604.28" y1="2294.26" x2="614.28" y2="2294.26" stroke="#e2302b" stroke-width="3"/>
<line x1="604.28" y1="2322.12" x2="614.28" y2="2322.12" stroke="#e2302b" stroke-width="3"/>
<line x1="636.66" y1="2288.42" x2="636.66" y2="2316.29" stroke="#e2302b" stroke-width="2.8"/>
<line x1="631.66" y1="2288.42" x2="641.66" y2="2288.42" stroke="#e2302b" stroke-width="3"/>
<line x1="631.66" y1="2316.29" x2="641.66" y2="2316.29" stroke="#e2302b" stroke-width="3"/>
<line x1="664.04" y1="2294.26" x2="664.04" y2="2310.46" stroke="#e2302b" stroke-width="2.8"/>
<line x1="659.04" y1="2294.26" x2="669.04" y2="2294.26" stroke="#e2302b" stroke-width="3"/>
<line x1="659.04" y1="2310.46" x2="669.04" y2="2310.46" stroke="#e2302b" stroke-width="3"/>
<line x1="691.42" y1="2184.74" x2="691.42" y2="2219.74" stroke="#e2302b" stroke-width="2.8"/>
<line x1="686.42" y1="2184.74" x2="696.42" y2="2184.74" stroke="#e2302b" stroke-width="3"/>
<line x1="686.42" y1="2219.74" x2="696.42" y2="2219.74" stroke="#e2302b" stroke-width="3"/>
<line x1="718.8" y1="2170.16" x2="718.8" y2="2198.03" stroke="#e2302b" stroke-width="2.8"/>
<line x1="713.8" y1="2170.16" x2="723.8" y2="2170.16" stroke="#e2302b" stroke-width="3"/>
<line x1="713.8" y1="2198.03" x2="723.8" y2="2198.03" stroke="#e2302b" stroke-width="3"/>
<line x1="746.18" y1="2154.29" x2="746.18" y2="2183.45" stroke="#e2302b" stroke-width="2.8"/>
<line x1="741.18" y1="2154.29" x2="751.18" y2="2154.29" stroke="#e2302b" stroke-width="3"/>
<line x1="741.18" y1="2183.45" x2="751.18" y2="2183.45" stroke="#e2302b" stroke-width="3"/>
<line x1="773.56" y1="2358.41" x2="773.56" y2="2381.09" stroke="#e2302b" stroke-width="2.8"/>
<line x1="768.56" y1="2358.41" x2="778.56" y2="2358.41" stroke="#e2302b" stroke-width="3"/>
<line x1="768.56" y1="2381.09" x2="778.56" y2="2381.09" stroke="#e2302b" stroke-width="3"/>
<line x1="800.94" y1="2371.04" x2="800.94" y2="2398.91" stroke="#e2302b" stroke-width="2.8"/>
<line x1="795.94" y1="2371.04" x2="805.94" y2="2371.04" stroke="#e2302b" stroke-width="3"/>
<line x1="795.94" y1="2398.91" x2="805.94" y2="2398.91" stroke="#e2302b" stroke-width="3"/>
<line x1="828.32" y1="2393.08" x2="828.32" y2="2406.04" stroke="#e2302b" stroke-width="2.8"/>
<line x1="823.32" y1="2393.08" x2="833.32" y2="2393.08" stroke="#e2302b" stroke-width="3"/>
<line x1="823.32" y1="2406.04" x2="833.32" y2="2406.04" stroke="#e2302b" stroke-width="3"/>
<polyline points="527.14,2389.19 554.52,2387.24 581.9,2387.24 609.28,2308.19 636.66,2302.36 664.04,2302.36 691.42,2202.24 718.8,2184.1 746.18,2168.87 773.56,2369.75 800.94,2384.98 828.32,2399.56" fill="none" stroke="#e2302b" stroke-width="2.8" stroke-linejoin="round"/>
<circle cx="527.14" cy="2389.19" r="6.6" fill="#e2302b"/>
<circle cx="554.52" cy="2387.24" r="6.6" fill="#e2302b"/>
<circle cx="581.9" cy="2387.24" r="6.6" fill="#e2302b"/>
<circle cx="609.28" cy="2308.19" r="6.6" fill="#e2302b"/>
<circle cx="636.66" cy="2302.36" r="6.6" fill="#e2302b"/>
<circle cx="664.04" cy="2302.36" r="6.6" fill="#e2302b"/>
<circle cx="691.42" cy="2202.24" r="6.6" fill="#e2302b"/>
<circle cx="718.8" cy="2184.1" r="6.6" fill="#e2302b"/>
<circle cx="746.18" cy="2168.87" r="6.6" fill="#e2302b"/>
<circle cx="773.56" cy="2369.75" r="6.6" fill="#e2302b"/>
<circle cx="800.94" cy="2384.98" r="6.6" fill="#e2302b"/>
<circle cx="828.32" cy="2399.56" r="6.6" fill="#e2302b"/>
<line x1="527.14" y1="2367.8" x2="527.14" y2="2387.24" stroke="#0a0a0a" stroke-width="2.8"/>
<line x1="522.14" y1="2367.8" x2="532.14" y2="2367.8" stroke="#0a0a0a" stroke-width="3"/>
<line x1="522.14" y1="2387.24" x2="532.14" y2="2387.24" stroke="#0a0a0a" stroke-width="3"/>
<line x1="554.52" y1="2359.7" x2="554.52" y2="2385.62" stroke="#0a0a0a" stroke-width="2.8"/>
<line x1="549.52" y1="2359.7" x2="559.52" y2="2359.7" stroke="#0a0a0a" stroke-width="3"/>
<line x1="549.52" y1="2385.62" x2="559.52" y2="2385.62" stroke="#0a0a0a" stroke-width="3"/>
<line x1="581.9" y1="2361.65" x2="581.9" y2="2384.98" stroke="#0a0a0a" stroke-width="2.8"/>
<line x1="576.9" y1="2361.65" x2="586.9" y2="2361.65" stroke="#0a0a0a" stroke-width="3"/>
<line x1="576.9" y1="2384.98" x2="586.9" y2="2384.98" stroke="#0a0a0a" stroke-width="3"/>
<line x1="609.28" y1="2251.81" x2="609.28" y2="2303.65" stroke="#0a0a0a" stroke-width="2.8"/>
<line x1="604.28" y1="2251.81" x2="614.28" y2="2251.81" stroke="#0a0a0a" stroke-width="3"/>
<line x1="604.28" y1="2303.65" x2="614.28" y2="2303.65" stroke="#0a0a0a" stroke-width="3"/>
<line x1="636.66" y1="2257" x2="636.66" y2="2301.06" stroke="#0a0a0a" stroke-width="2.8"/>
<line x1="631.66" y1="2257" x2="641.66" y2="2257" stroke="#0a0a0a" stroke-width="3"/>
<line x1="631.66" y1="2301.06" x2="641.66" y2="2301.06" stroke="#0a0a0a" stroke-width="3"/>
<line x1="664.04" y1="2233.99" x2="664.04" y2="2294.9" stroke="#0a0a0a" stroke-width="2.8"/>
<line x1="659.04" y1="2233.99" x2="669.04" y2="2233.99" stroke="#0a0a0a" stroke-width="3"/>
<line x1="659.04" y1="2294.9" x2="669.04" y2="2294.9" stroke="#0a0a0a" stroke-width="3"/>
<line x1="691.42" y1="2092.08" x2="691.42" y2="2140.03" stroke="#0a0a0a" stroke-width="2.8"/>
<line x1="686.42" y1="2092.08" x2="696.42" y2="2092.08" stroke="#0a0a0a" stroke-width="3"/>
<line x1="686.42" y1="2140.03" x2="696.42" y2="2140.03" stroke="#0a0a0a" stroke-width="3"/>
<line x1="718.8" y1="2094.67" x2="718.8" y2="2131.61" stroke="#0a0a0a" stroke-width="2.8"/>
<line x1="713.8" y1="2094.67" x2="723.8" y2="2094.67" stroke="#0a0a0a" stroke-width="3"/>
<line x1="713.8" y1="2131.61" x2="723.8" y2="2131.61" stroke="#0a0a0a" stroke-width="3"/>
<line x1="746.18" y1="2073.29" x2="746.18" y2="2127.72" stroke="#0a0a0a" stroke-width="2.8"/>
<line x1="741.18" y1="2073.29" x2="751.18" y2="2073.29" stroke="#0a0a0a" stroke-width="3"/>
<line x1="741.18" y1="2127.72" x2="751.18" y2="2127.72" stroke="#0a0a0a" stroke-width="3"/>
<line x1="773.56" y1="2305.27" x2="773.56" y2="2380.44" stroke="#0a0a0a" stroke-width="2.8"/>
<line x1="768.56" y1="2305.27" x2="778.56" y2="2305.27" stroke="#0a0a0a" stroke-width="3"/>
<line x1="768.56" y1="2380.44" x2="778.56" y2="2380.44" stroke="#0a0a0a" stroke-width="3"/>
<line x1="800.94" y1="2337.02" x2="800.94" y2="2377.85" stroke="#0a0a0a" stroke-width="2.8"/>
<line x1="795.94" y1="2337.02" x2="805.94" y2="2337.02" stroke="#0a0a0a" stroke-width="3"/>
<line x1="795.94" y1="2377.85" x2="805.94" y2="2377.85" stroke="#0a0a0a" stroke-width="3"/>
<line x1="828.32" y1="2359.06" x2="828.32" y2="2395.99" stroke="#0a0a0a" stroke-width="2.8"/>
<line x1="823.32" y1="2359.06" x2="833.32" y2="2359.06" stroke="#0a0a0a" stroke-width="3"/>
<line x1="823.32" y1="2395.99" x2="833.32" y2="2395.99" stroke="#0a0a0a" stroke-width="3"/>
<polyline points="527.14,2377.52 554.52,2372.66 581.9,2373.31 609.28,2277.73 636.66,2279.03 664.04,2264.45 691.42,2116.06 718.8,2113.14 746.18,2100.5 773.56,2342.86 800.94,2357.44 828.32,2377.52" fill="none" stroke="#0a0a0a" stroke-width="3.9" stroke-linejoin="round"/>
<rect x="520.84" y="2371.22" width="12.6" height="12.6" fill="#0a0a0a" rx="1.5"/>
<rect x="548.22" y="2366.36" width="12.6" height="12.6" fill="#0a0a0a" rx="1.5"/>
<rect x="575.6" y="2367.01" width="12.6" height="12.6" fill="#0a0a0a" rx="1.5"/>
<rect x="602.98" y="2271.43" width="12.6" height="12.6" fill="#0a0a0a" rx="1.5"/>
<rect x="630.36" y="2272.73" width="12.6" height="12.6" fill="#0a0a0a" rx="1.5"/>
<rect x="657.74" y="2258.15" width="12.6" height="12.6" fill="#0a0a0a" rx="1.5"/>
<rect x="685.12" y="2109.76" width="12.6" height="12.6" fill="#0a0a0a" rx="1.5"/>
<rect x="712.5" y="2106.84" width="12.6" height="12.6" fill="#0a0a0a" rx="1.5"/>
<rect x="739.88" y="2094.2" width="12.6" height="12.6" fill="#0a0a0a" rx="1.5"/>
<rect x="767.26" y="2336.56" width="12.6" height="12.6" fill="#0a0a0a" rx="1.5"/>
<rect x="794.64" y="2351.14" width="12.6" height="12.6" fill="#0a0a0a" rx="1.5"/>
<rect x="822.02" y="2371.22" width="12.6" height="12.6" fill="#0a0a0a" rx="1.5"/>
<line x1="1093.6" y1="1362.8" x2="1093.6" y2="1753.3" stroke="#0a0a0a" stroke-width="3.4"/>
<line x1="1091.9" y1="1751.6" x2="1428.1" y2="1751.6" stroke="#0a0a0a" stroke-width="3.4"/>
<line x1="1083.6" y1="1751.6" x2="1093.6" y2="1751.6" stroke="#0a0a0a" stroke-width="3.2"/>
<text x="1066.57" y="1761.8" font-size="28.5" fill="#0a0a0a" textLength="15.85" lengthAdjust="spacingAndGlyphs">0</text>
<line x1="1083.6" y1="1622.4" x2="1093.6" y2="1622.4" stroke="#0a0a0a" stroke-width="3.2"/>
<text x="1034.87" y="1632.6" font-size="28.5" fill="#0a0a0a" textLength="47.55" lengthAdjust="spacingAndGlyphs">100</text>
<line x1="1083.6" y1="1493.2" x2="1093.6" y2="1493.2" stroke="#0a0a0a" stroke-width="3.2"/>
<text x="1034.87" y="1503.4" font-size="28.5" fill="#0a0a0a" textLength="47.55" lengthAdjust="spacingAndGlyphs">200</text>
<line x1="1083.6" y1="1364" x2="1093.6" y2="1364" stroke="#0a0a0a" stroke-width="3.2"/>
<text x="1034.87" y="1374.2" font-size="28.5" fill="#0a0a0a" textLength="47.55" lengthAdjust="spacingAndGlyphs">300</text>
<line x1="1093.6" y1="1751.6" x2="1093.6" y2="1761.6" stroke="#0a0a0a" stroke-width="3.2"/>
<text x="1085.68" y="1789.8" font-size="28.5" fill="#0a0a0a" textLength="15.85" lengthAdjust="spacingAndGlyphs">0</text>
<line x1="1176.85" y1="1751.6" x2="1176.85" y2="1761.6" stroke="#0a0a0a" stroke-width="3.2"/>
<text x="1160.85" y="1789.8" font-size="28.5" fill="#0a0a0a" textLength="31.7" lengthAdjust="spacingAndGlyphs">20</text>
<line x1="1260.1" y1="1751.6" x2="1260.1" y2="1761.6" stroke="#0a0a0a" stroke-width="3.2"/>
<text x="1244.48" y="1789.8" font-size="28.5" fill="#0a0a0a" textLength="31.7" lengthAdjust="spacingAndGlyphs">40</text>
<line x1="1343.35" y1="1751.6" x2="1343.35" y2="1761.6" stroke="#0a0a0a" stroke-width="3.2"/>
<text x="1327.33" y="1789.8" font-size="28.5" fill="#0a0a0a" textLength="31.7" lengthAdjust="spacingAndGlyphs">60</text>
<line x1="1426.6" y1="1751.6" x2="1426.6" y2="1761.6" stroke="#0a0a0a" stroke-width="3.2"/>
<text x="1410.7" y="1789.8" font-size="28.5" fill="#0a0a0a" textLength="31.7" lengthAdjust="spacingAndGlyphs">80</text>
<text x="1185.03" y="1339.3" font-size="36" fill="#0a0a0a" textLength="110.33" lengthAdjust="spacingAndGlyphs">U-2OS</text>
<text x="1130.22" y="1832" font-size="35.5" fill="#0a0a0a" textLength="257.68" lengthAdjust="spacingAndGlyphs">Time ( Minutes )</text>
<text transform="translate(1018,1692.22) rotate(-90)" font-size="36.5" fill="#0a0a0a" textLength="282.59" lengthAdjust="spacingAndGlyphs">OCR ( pmol/min )</text>
<line x1="1115.3" y1="1374.1" x2="1143.8" y2="1374.1" stroke="#0a0a0a" stroke-width="4.4"/>
<rect x="1124.5" y="1368.9" width="10.4" height="10.4" fill="#0a0a0a"/>
<line x1="1115.3" y1="1412.4" x2="1143.8" y2="1412.4" stroke="#e2302b" stroke-width="4.2"/>
<circle cx="1129.5" cy="1412.4" r="5.4" fill="#e2302b"/>
<text x="1158.01" y="1384.3" font-size="28.3" fill="#0a0a0a" textLength="103.29" lengthAdjust="spacingAndGlyphs">sh-CON</text>
<text x="1159.51" y="1421.1" font-size="28.3" fill="#0a0a0a" textLength="51.49" lengthAdjust="spacingAndGlyphs">sh-1</text>
<line x1="1183.5" y1="1568.6" x2="1183.5" y2="1616.4" stroke="#0a0a0a" stroke-width="3.8"/>
<path d="M1178.1,1608.4 L1183.5,1616.8 L1188.9,1608.4" fill="none" stroke="#0a0a0a" stroke-width="4.4" stroke-linejoin="miter" stroke-miterlimit="10" stroke-linecap="round"/>
<text x="1172.88" y="1557.5" font-size="28" fill="#0a0a0a" textLength="21.78" lengthAdjust="spacingAndGlyphs">O</text>
<line x1="1237.7" y1="1504.7" x2="1237.7" y2="1554" stroke="#0a0a0a" stroke-width="3.8"/>
<path d="M1232.3,1546 L1237.7,1554.4 L1243.1,1546" fill="none" stroke="#0a0a0a" stroke-width="4.4" stroke-linejoin="miter" stroke-miterlimit="10" stroke-linecap="round"/>
<text x="1229" y="1493.7" font-size="28" fill="#0a0a0a" textLength="17.1" lengthAdjust="spacingAndGlyphs">F</text>
<line x1="1348.3" y1="1552.6" x2="1348.3" y2="1600.4" stroke="#0a0a0a" stroke-width="3.8"/>
<path d="M1342.9,1592.4 L1348.3,1600.8 L1353.7,1592.4" fill="none" stroke="#0a0a0a" stroke-width="4.4" stroke-linejoin="miter" stroke-miterlimit="10" stroke-linecap="round"/>
<text x="1337.24" y="1539.5" font-size="28" fill="#0a0a0a" textLength="71.59" lengthAdjust="spacingAndGlyphs">A &amp; R</text>
<polyline points="1099.43,1573.05 1126.73,1580.93 1154.04,1583.25 1181.35,1692.94 1208.65,1697.08 1235.96,1697.08 1263.26,1429.38 1290.57,1468.52 1317.88,1485.06 1345.18,1716.72 1372.49,1716.72 1399.79,1716.72" fill="none" stroke="#e2302b" stroke-width="2.8" stroke-linejoin="round"/>
<circle cx="1099.43" cy="1573.05" r="6.6" fill="#e2302b"/>
<circle cx="1126.73" cy="1580.93" r="6.6" fill="#e2302b"/>
<circle cx="1154.04" cy="1583.25" r="6.6" fill="#e2302b"/>
<circle cx="1181.35" cy="1692.94" r="6.6" fill="#e2302b"/>
<circle cx="1208.65" cy="1697.08" r="6.6" fill="#e2302b"/>
<circle cx="1235.96" cy="1697.08" r="6.6" fill="#e2302b"/>
<circle cx="1263.26" cy="1429.38" r="6.6" fill="#e2302b"/>
<circle cx="1290.57" cy="1468.52" r="6.6" fill="#e2302b"/>
<circle cx="1317.88" cy="1485.06" r="6.6" fill="#e2302b"/>
<circle cx="1345.18" cy="1716.72" r="6.6" fill="#e2302b"/>
<circle cx="1372.49" cy="1716.72" r="6.6" fill="#e2302b"/>
<circle cx="1399.79" cy="1716.72" r="6.6" fill="#e2302b"/>
<polyline points="1099.43,1634.03 1126.73,1640.75 1154.04,1641.91 1181.35,1711.55 1208.65,1714.39 1235.96,1713.23 1263.26,1567.23 1290.57,1590.49 1317.88,1598.24 1345.18,1728.34 1372.49,1728.99 1399.79,1728.99" fill="none" stroke="#0a0a0a" stroke-width="3.9" stroke-linejoin="round"/>
<rect x="1093.13" y="1627.73" width="12.6" height="12.6" fill="#0a0a0a" rx="1.5"/>
<rect x="1120.43" y="1634.45" width="12.6" height="12.6" fill="#0a0a0a" rx="1.5"/>
<rect x="1147.74" y="1635.61" width="12.6" height="12.6" fill="#0a0a0a" rx="1.5"/>
<rect x="1175.05" y="1705.25" width="12.6" height="12.6" fill="#0a0a0a" rx="1.5"/>
<rect x="1202.35" y="1708.09" width="12.6" height="12.6" fill="#0a0a0a" rx="1.5"/>
<rect x="1229.66" y="1706.93" width="12.6" height="12.6" fill="#0a0a0a" rx="1.5"/>
<rect x="1256.96" y="1560.93" width="12.6" height="12.6" fill="#0a0a0a" rx="1.5"/>
<rect x="1284.27" y="1584.19" width="12.6" height="12.6" fill="#0a0a0a" rx="1.5"/>
<rect x="1311.58" y="1591.94" width="12.6" height="12.6" fill="#0a0a0a" rx="1.5"/>
<rect x="1338.88" y="1722.04" width="12.6" height="12.6" fill="#0a0a0a" rx="1.5"/>
<rect x="1366.19" y="1722.69" width="12.6" height="12.6" fill="#0a0a0a" rx="1.5"/>
<rect x="1393.49" y="1722.69" width="12.6" height="12.6" fill="#0a0a0a" rx="1.5"/>
<line x1="1516.8" y1="1361.9" x2="1516.8" y2="1753.3" stroke="#0a0a0a" stroke-width="3.4"/>
<line x1="1515.1" y1="1751.6" x2="1851.5" y2="1751.6" stroke="#0a0a0a" stroke-width="3.4"/>
<line x1="1506.8" y1="1751.6" x2="1516.8" y2="1751.6" stroke="#0a0a0a" stroke-width="3.2"/>
<text x="1489.77" y="1761.8" font-size="28.5" fill="#0a0a0a" textLength="15.85" lengthAdjust="spacingAndGlyphs">0</text>
<line x1="1506.8" y1="1622.1" x2="1516.8" y2="1622.1" stroke="#0a0a0a" stroke-width="3.2"/>
<text x="1458.07" y="1632.3" font-size="28.5" fill="#0a0a0a" textLength="47.55" lengthAdjust="spacingAndGlyphs">100</text>
<line x1="1506.8" y1="1492.6" x2="1516.8" y2="1492.6" stroke="#0a0a0a" stroke-width="3.2"/>
<text x="1458.07" y="1502.8" font-size="28.5" fill="#0a0a0a" textLength="47.55" lengthAdjust="spacingAndGlyphs">200</text>
<line x1="1506.8" y1="1363.1" x2="1516.8" y2="1363.1" stroke="#0a0a0a" stroke-width="3.2"/>
<text x="1458.07" y="1373.3" font-size="28.5" fill="#0a0a0a" textLength="47.55" lengthAdjust="spacingAndGlyphs">300</text>
<line x1="1516.8" y1="1751.6" x2="1516.8" y2="1761.6" stroke="#0a0a0a" stroke-width="3.2"/>
<text x="1508.88" y="1789.8" font-size="28.5" fill="#0a0a0a" textLength="15.85" lengthAdjust="spacingAndGlyphs">0</text>
<line x1="1600.1" y1="1751.6" x2="1600.1" y2="1761.6" stroke="#0a0a0a" stroke-width="3.2"/>
<text x="1584.1" y="1789.8" font-size="28.5" fill="#0a0a0a" textLength="31.7" lengthAdjust="spacingAndGlyphs">20</text>
<line x1="1683.4" y1="1751.6" x2="1683.4" y2="1761.6" stroke="#0a0a0a" stroke-width="3.2"/>
<text x="1667.78" y="1789.8" font-size="28.5" fill="#0a0a0a" textLength="31.7" lengthAdjust="spacingAndGlyphs">40</text>
<line x1="1766.7" y1="1751.6" x2="1766.7" y2="1761.6" stroke="#0a0a0a" stroke-width="3.2"/>
<text x="1750.68" y="1789.8" font-size="28.5" fill="#0a0a0a" textLength="31.7" lengthAdjust="spacingAndGlyphs">60</text>
<line x1="1850" y1="1751.6" x2="1850" y2="1761.6" stroke="#0a0a0a" stroke-width="3.2"/>
<text x="1834.1" y="1789.8" font-size="28.5" fill="#0a0a0a" textLength="31.7" lengthAdjust="spacingAndGlyphs">80</text>
<text x="1622.84" y="1337.8" font-size="36" fill="#0a0a0a" textLength="113.77" lengthAdjust="spacingAndGlyphs">Saos-2</text>
<text x="1556.22" y="1832" font-size="35.5" fill="#0a0a0a" textLength="256.68" lengthAdjust="spacingAndGlyphs">Time ( Minutes )</text>
<line x1="1536.6" y1="1375.6" x2="1565.1" y2="1375.6" stroke="#0a0a0a" stroke-width="4.4"/>
<rect x="1545.8" y="1370.4" width="10.4" height="10.4" fill="#0a0a0a"/>
<line x1="1536.6" y1="1414.2" x2="1565.1" y2="1414.2" stroke="#e2302b" stroke-width="4.2"/>
<circle cx="1550.8" cy="1414.2" r="5.4" fill="#e2302b"/>
<text x="1574.41" y="1385.7" font-size="28.3" fill="#0a0a0a" textLength="103.29" lengthAdjust="spacingAndGlyphs">sh-CON</text>
<text x="1575.91" y="1422.9" font-size="28.3" fill="#0a0a0a" textLength="51.49" lengthAdjust="spacingAndGlyphs">sh-1</text>
<line x1="1607.1" y1="1583.1" x2="1607.1" y2="1629.4" stroke="#0a0a0a" stroke-width="3.8"/>
<path d="M1601.7,1621.4 L1607.1,1629.8 L1612.5,1621.4" fill="none" stroke="#0a0a0a" stroke-width="4.4" stroke-linejoin="miter" stroke-miterlimit="10" stroke-linecap="round"/>
<text x="1595.68" y="1570.9" font-size="28" fill="#0a0a0a" textLength="21.78" lengthAdjust="spacingAndGlyphs">O</text>
<line x1="1661.3" y1="1472.8" x2="1661.3" y2="1520.6" stroke="#0a0a0a" stroke-width="3.8"/>
<path d="M1655.9,1512.6 L1661.3,1521 L1666.7,1512.6" fill="none" stroke="#0a0a0a" stroke-width="4.4" stroke-linejoin="miter" stroke-miterlimit="10" stroke-linecap="round"/>
<text x="1652.4" y="1461.2" font-size="28" fill="#0a0a0a" textLength="17.1" lengthAdjust="spacingAndGlyphs">F</text>
<line x1="1774.5" y1="1529.4" x2="1774.5" y2="1576.6" stroke="#0a0a0a" stroke-width="3.8"/>
<path d="M1769.1,1568.6 L1774.5,1577 L1779.9,1568.6" fill="none" stroke="#0a0a0a" stroke-width="4.4" stroke-linejoin="miter" stroke-miterlimit="10" stroke-linecap="round"/>
<text x="1759.04" y="1516.9" font-size="28" fill="#0a0a0a" textLength="71.59" lengthAdjust="spacingAndGlyphs">A &amp; R</text>
<line x1="1522.63" y1="1532.49" x2="1522.63" y2="1581.7" stroke="#e2302b" stroke-width="2.8"/>
<line x1="1517.63" y1="1532.49" x2="1527.63" y2="1532.49" stroke="#e2302b" stroke-width="3"/>
<line x1="1517.63" y1="1581.7" x2="1527.63" y2="1581.7" stroke="#e2302b" stroke-width="3"/>
<line x1="1549.95" y1="1546.99" x2="1549.95" y2="1596.2" stroke="#e2302b" stroke-width="2.8"/>
<line x1="1544.95" y1="1546.99" x2="1554.95" y2="1546.99" stroke="#e2302b" stroke-width="3"/>
<line x1="1544.95" y1="1596.2" x2="1554.95" y2="1596.2" stroke="#e2302b" stroke-width="3"/>
<line x1="1577.28" y1="1550.49" x2="1577.28" y2="1598.4" stroke="#e2302b" stroke-width="2.8"/>
<line x1="1572.28" y1="1550.49" x2="1582.28" y2="1550.49" stroke="#e2302b" stroke-width="3"/>
<line x1="1572.28" y1="1598.4" x2="1582.28" y2="1598.4" stroke="#e2302b" stroke-width="3"/>
<line x1="1604.6" y1="1696.82" x2="1604.6" y2="1727.9" stroke="#e2302b" stroke-width="2.8"/>
<line x1="1599.6" y1="1696.82" x2="1609.6" y2="1696.82" stroke="#e2302b" stroke-width="3"/>
<line x1="1599.6" y1="1727.9" x2="1609.6" y2="1727.9" stroke="#e2302b" stroke-width="3"/>
<line x1="1631.92" y1="1699.8" x2="1631.92" y2="1734.76" stroke="#e2302b" stroke-width="2.8"/>
<line x1="1626.92" y1="1699.8" x2="1636.92" y2="1699.8" stroke="#e2302b" stroke-width="3"/>
<line x1="1626.92" y1="1734.76" x2="1636.92" y2="1734.76" stroke="#e2302b" stroke-width="3"/>
<line x1="1659.24" y1="1702.26" x2="1659.24" y2="1735.93" stroke="#e2302b" stroke-width="2.8"/>
<line x1="1654.24" y1="1702.26" x2="1664.24" y2="1702.26" stroke="#e2302b" stroke-width="3"/>
<line x1="1654.24" y1="1735.93" x2="1664.24" y2="1735.93" stroke="#e2302b" stroke-width="3"/>
<line x1="1686.57" y1="1376.31" x2="1686.57" y2="1424.22" stroke="#e2302b" stroke-width="2.8"/>
<line x1="1681.57" y1="1376.31" x2="1691.57" y2="1376.31" stroke="#e2302b" stroke-width="3"/>
<line x1="1681.57" y1="1424.22" x2="1691.57" y2="1424.22" stroke="#e2302b" stroke-width="3"/>
<line x1="1713.89" y1="1430.83" x2="1713.89" y2="1448.18" stroke="#e2302b" stroke-width="2.8"/>
<line x1="1708.89" y1="1430.83" x2="1718.89" y2="1430.83" stroke="#e2302b" stroke-width="3"/>
<line x1="1708.89" y1="1448.18" x2="1718.89" y2="1448.18" stroke="#e2302b" stroke-width="3"/>
<line x1="1768.53" y1="1729.84" x2="1768.53" y2="1747.2" stroke="#e2302b" stroke-width="2.8"/>
<line x1="1763.53" y1="1729.84" x2="1773.53" y2="1729.84" stroke="#e2302b" stroke-width="3"/>
<line x1="1763.53" y1="1747.2" x2="1773.53" y2="1747.2" stroke="#e2302b" stroke-width="3"/>
<polyline points="1522.63,1557.09 1549.95,1571.59 1577.28,1574.44 1604.6,1712.36 1631.92,1717.28 1659.24,1719.1 1686.57,1400.27 1713.89,1439.5 1741.21,1459.84 1768.53,1738.52 1795.86,1740.59 1823.18,1740.59" fill="none" stroke="#e2302b" stroke-width="2.8" stroke-linejoin="round"/>
<rect x="1516.33" y="1550.79" width="12.6" height="12.6" fill="#e2302b" rx="1.5"/>
<rect x="1543.65" y="1565.29" width="12.6" height="12.6" fill="#e2302b" rx="1.5"/>
<rect x="1570.98" y="1568.14" width="12.6" height="12.6" fill="#e2302b" rx="1.5"/>
<rect x="1598.3" y="1706.06" width="12.6" height="12.6" fill="#e2302b" rx="1.5"/>
<rect x="1625.62" y="1710.98" width="12.6" height="12.6" fill="#e2302b" rx="1.5"/>
<rect x="1652.94" y="1712.8" width="12.6" height="12.6" fill="#e2302b" rx="1.5"/>
<rect x="1680.27" y="1393.97" width="12.6" height="12.6" fill="#e2302b" rx="1.5"/>
<rect x="1707.59" y="1433.2" width="12.6" height="12.6" fill="#e2302b" rx="1.5"/>
<rect x="1734.91" y="1453.54" width="12.6" height="12.6" fill="#e2302b" rx="1.5"/>
<rect x="1762.23" y="1732.22" width="12.6" height="12.6" fill="#e2302b" rx="1.5"/>
<rect x="1789.56" y="1734.29" width="12.6" height="12.6" fill="#e2302b" rx="1.5"/>
<rect x="1816.88" y="1734.29" width="12.6" height="12.6" fill="#e2302b" rx="1.5"/>
<polyline points="1522.63,1575.87 1549.95,1588.95 1577.28,1591.93 1604.6,1689.18 1631.92,1691.51 1659.24,1692.68 1686.57,1510.08 1713.89,1525.1 1741.21,1530.93 1768.53,1705.11 1795.86,1706.53 1823.18,1707.44" fill="none" stroke="#0a0a0a" stroke-width="3.9" stroke-linejoin="round"/>
<circle cx="1522.63" cy="1575.87" r="6.6" fill="#0a0a0a"/>
<circle cx="1549.95" cy="1588.95" r="6.6" fill="#0a0a0a"/>
<circle cx="1577.28" cy="1591.93" r="6.6" fill="#0a0a0a"/>
<circle cx="1604.6" cy="1689.18" r="6.6" fill="#0a0a0a"/>
<circle cx="1631.92" cy="1691.51" r="6.6" fill="#0a0a0a"/>
<circle cx="1659.24" cy="1692.68" r="6.6" fill="#0a0a0a"/>
<circle cx="1686.57" cy="1510.08" r="6.6" fill="#0a0a0a"/>
<circle cx="1713.89" cy="1525.1" r="6.6" fill="#0a0a0a"/>
<circle cx="1741.21" cy="1530.93" r="6.6" fill="#0a0a0a"/>
<circle cx="1768.53" cy="1705.11" r="6.6" fill="#0a0a0a"/>
<circle cx="1795.86" cy="1706.53" r="6.6" fill="#0a0a0a"/>
<circle cx="1823.18" cy="1707.44" r="6.6" fill="#0a0a0a"/>
<line x1="1092.9" y1="2020.4" x2="1092.9" y2="2411.3" stroke="#0a0a0a" stroke-width="3.4"/>
<line x1="1091.2" y1="2409.6" x2="1427.3" y2="2409.6" stroke="#0a0a0a" stroke-width="3.4"/>
<line x1="1082.9" y1="2409.6" x2="1092.9" y2="2409.6" stroke="#0a0a0a" stroke-width="3.2"/>
<text x="1065.87" y="2419.8" font-size="28.5" fill="#0a0a0a" textLength="15.85" lengthAdjust="spacingAndGlyphs">0</text>
<line x1="1082.9" y1="2280.27" x2="1092.9" y2="2280.27" stroke="#0a0a0a" stroke-width="3.2"/>
<text x="1034.17" y="2290.47" font-size="28.5" fill="#0a0a0a" textLength="47.55" lengthAdjust="spacingAndGlyphs">100</text>
<line x1="1082.9" y1="2150.93" x2="1092.9" y2="2150.93" stroke="#0a0a0a" stroke-width="3.2"/>
<text x="1034.17" y="2161.13" font-size="28.5" fill="#0a0a0a" textLength="47.55" lengthAdjust="spacingAndGlyphs">200</text>
<line x1="1082.9" y1="2021.6" x2="1092.9" y2="2021.6" stroke="#0a0a0a" stroke-width="3.2"/>
<text x="1034.17" y="2031.8" font-size="28.5" fill="#0a0a0a" textLength="47.55" lengthAdjust="spacingAndGlyphs">300</text>
<line x1="1092.9" y1="2409.6" x2="1092.9" y2="2419.6" stroke="#0a0a0a" stroke-width="3.2"/>
<text x="1084.98" y="2447.8" font-size="28.5" fill="#0a0a0a" textLength="15.85" lengthAdjust="spacingAndGlyphs">0</text>
<line x1="1176.12" y1="2409.6" x2="1176.12" y2="2419.6" stroke="#0a0a0a" stroke-width="3.2"/>
<text x="1160.12" y="2447.8" font-size="28.5" fill="#0a0a0a" textLength="31.7" lengthAdjust="spacingAndGlyphs">20</text>
<line x1="1259.35" y1="2409.6" x2="1259.35" y2="2419.6" stroke="#0a0a0a" stroke-width="3.2"/>
<text x="1243.73" y="2447.8" font-size="28.5" fill="#0a0a0a" textLength="31.7" lengthAdjust="spacingAndGlyphs">40</text>
<line x1="1342.58" y1="2409.6" x2="1342.58" y2="2419.6" stroke="#0a0a0a" stroke-width="3.2"/>
<text x="1326.56" y="2447.8" font-size="28.5" fill="#0a0a0a" textLength="31.7" lengthAdjust="spacingAndGlyphs">60</text>
<line x1="1425.8" y1="2409.6" x2="1425.8" y2="2419.6" stroke="#0a0a0a" stroke-width="3.2"/>
<text x="1409.9" y="2447.8" font-size="28.5" fill="#0a0a0a" textLength="31.7" lengthAdjust="spacingAndGlyphs">80</text>
<text x="1186.53" y="1991.7" font-size="36" fill="#0a0a0a" textLength="108.83" lengthAdjust="spacingAndGlyphs">U-2OS</text>
<text x="1139.52" y="2485.7" font-size="35.5" fill="#0a0a0a" textLength="257.98" lengthAdjust="spacingAndGlyphs">Time ( Minutes )</text>
<text transform="translate(1018,2348.92) rotate(-90)" font-size="36.5" fill="#0a0a0a" textLength="273.89" lengthAdjust="spacingAndGlyphs">OCR ( pmol/min )</text>
<line x1="1112.4" y1="2046.9" x2="1140.9" y2="2046.9" stroke="#0a0a0a" stroke-width="4.4"/>
<rect x="1121.6" y="2041.7" width="10.4" height="10.4" fill="#0a0a0a"/>
<line x1="1112.4" y1="2085.5" x2="1140.9" y2="2085.5" stroke="#e2302b" stroke-width="4.2"/>
<circle cx="1126.6" cy="2085.5" r="5.4" fill="#e2302b"/>
<text x="1156.51" y="2057" font-size="28.3" fill="#0a0a0a" textLength="103.29" lengthAdjust="spacingAndGlyphs">sh-CON</text>
<text x="1158.01" y="2094.8" font-size="28.3" fill="#0a0a0a" textLength="51.49" lengthAdjust="spacingAndGlyphs">sh-1</text>
<line x1="1177.7" y1="2225.3" x2="1177.7" y2="2273.1" stroke="#0a0a0a" stroke-width="3.8"/>
<path d="M1172.3,2265.1 L1177.7,2273.5 L1183.1,2265.1" fill="none" stroke="#0a0a0a" stroke-width="4.4" stroke-linejoin="miter" stroke-miterlimit="10" stroke-linecap="round"/>
<text x="1166.98" y="2213.2" font-size="28" fill="#0a0a0a" textLength="21.78" lengthAdjust="spacingAndGlyphs">O</text>
<line x1="1243" y1="2171.7" x2="1243" y2="2218.9" stroke="#0a0a0a" stroke-width="3.8"/>
<path d="M1237.6,2210.9 L1243,2219.3 L1248.4,2210.9" fill="none" stroke="#0a0a0a" stroke-width="4.4" stroke-linejoin="miter" stroke-miterlimit="10" stroke-linecap="round"/>
<text x="1233.4" y="2160" font-size="28" fill="#0a0a0a" textLength="17.1" lengthAdjust="spacingAndGlyphs">F</text>
<line x1="1350.3" y1="2199.2" x2="1350.3" y2="2247" stroke="#0a0a0a" stroke-width="3.8"/>
<path d="M1344.9,2239 L1350.3,2247.4 L1355.7,2239" fill="none" stroke="#0a0a0a" stroke-width="4.4" stroke-linejoin="miter" stroke-miterlimit="10" stroke-linecap="round"/>
<text x="1339.54" y="2187" font-size="28" fill="#0a0a0a" textLength="71.59" lengthAdjust="spacingAndGlyphs">A &amp; R</text>
<line x1="1098.73" y1="2226.46" x2="1098.73" y2="2253.11" stroke="#e2302b" stroke-width="2.8"/>
<line x1="1093.73" y1="2226.46" x2="1103.73" y2="2226.46" stroke="#e2302b" stroke-width="3"/>
<line x1="1093.73" y1="2253.11" x2="1103.73" y2="2253.11" stroke="#e2302b" stroke-width="3"/>
<line x1="1126.02" y1="2231.25" x2="1126.02" y2="2263.07" stroke="#e2302b" stroke-width="2.8"/>
<line x1="1121.02" y1="2231.25" x2="1131.02" y2="2231.25" stroke="#e2302b" stroke-width="3"/>
<line x1="1121.02" y1="2263.07" x2="1131.02" y2="2263.07" stroke="#e2302b" stroke-width="3"/>
<line x1="1153.32" y1="2237.46" x2="1153.32" y2="2260.74" stroke="#e2302b" stroke-width="2.8"/>
<line x1="1148.32" y1="2237.46" x2="1158.32" y2="2237.46" stroke="#e2302b" stroke-width="3"/>
<line x1="1148.32" y1="2260.74" x2="1158.32" y2="2260.74" stroke="#e2302b" stroke-width="3"/>
<line x1="1235.21" y1="2316.61" x2="1235.21" y2="2337.3" stroke="#e2302b" stroke-width="2.8"/>
<line x1="1230.21" y1="2316.61" x2="1240.21" y2="2316.61" stroke="#e2302b" stroke-width="3"/>
<line x1="1230.21" y1="2337.3" x2="1240.21" y2="2337.3" stroke="#e2302b" stroke-width="3"/>
<line x1="1262.51" y1="2088.08" x2="1262.51" y2="2127.65" stroke="#e2302b" stroke-width="2.8"/>
<line x1="1257.51" y1="2088.08" x2="1267.51" y2="2088.08" stroke="#e2302b" stroke-width="3"/>
<line x1="1257.51" y1="2127.65" x2="1267.51" y2="2127.65" stroke="#e2302b" stroke-width="3"/>
<line x1="1289.81" y1="2102.17" x2="1289.81" y2="2150.03" stroke="#e2302b" stroke-width="2.8"/>
<line x1="1284.81" y1="2102.17" x2="1294.81" y2="2102.17" stroke="#e2302b" stroke-width="3"/>
<line x1="1284.81" y1="2150.03" x2="1294.81" y2="2150.03" stroke="#e2302b" stroke-width="3"/>
<line x1="1317.11" y1="2120.02" x2="1317.11" y2="2153.65" stroke="#e2302b" stroke-width="2.8"/>
<line x1="1312.11" y1="2120.02" x2="1322.11" y2="2120.02" stroke="#e2302b" stroke-width="3"/>
<line x1="1312.11" y1="2153.65" x2="1322.11" y2="2153.65" stroke="#e2302b" stroke-width="3"/>
<polyline points="1098.73,2239.79 1126.02,2247.16 1153.32,2249.1 1180.62,2326.96 1207.92,2326.96 1235.21,2326.96 1262.51,2107.87 1289.81,2126.1 1317.11,2136.84 1344.41,2341.96 1371.7,2344.29 1399,2345.71" fill="none" stroke="#e2302b" stroke-width="2.8" stroke-linejoin="round"/>
<circle cx="1098.73" cy="2239.79" r="6.6" fill="#e2302b"/>
<circle cx="1126.02" cy="2247.16" r="6.6" fill="#e2302b"/>
<circle cx="1153.32" cy="2249.1" r="6.6" fill="#e2302b"/>
<circle cx="1180.62" cy="2326.96" r="6.6" fill="#e2302b"/>
<circle cx="1207.92" cy="2326.96" r="6.6" fill="#e2302b"/>
<circle cx="1235.21" cy="2326.96" r="6.6" fill="#e2302b"/>
<circle cx="1262.51" cy="2107.87" r="6.6" fill="#e2302b"/>
<circle cx="1289.81" cy="2126.1" r="6.6" fill="#e2302b"/>
<circle cx="1317.11" cy="2136.84" r="6.6" fill="#e2302b"/>
<circle cx="1344.41" cy="2341.96" r="6.6" fill="#e2302b"/>
<circle cx="1371.7" cy="2344.29" r="6.6" fill="#e2302b"/>
<circle cx="1399" cy="2345.71" r="6.6" fill="#e2302b"/>
<line x1="1098.73" y1="2281.43" x2="1098.73" y2="2296.95" stroke="#0a0a0a" stroke-width="2.8"/>
<line x1="1093.73" y1="2281.43" x2="1103.73" y2="2281.43" stroke="#0a0a0a" stroke-width="3"/>
<line x1="1093.73" y1="2296.95" x2="1103.73" y2="2296.95" stroke="#0a0a0a" stroke-width="3"/>
<line x1="1126.02" y1="2286.99" x2="1126.02" y2="2307.69" stroke="#0a0a0a" stroke-width="2.8"/>
<line x1="1121.02" y1="2286.99" x2="1131.02" y2="2286.99" stroke="#0a0a0a" stroke-width="3"/>
<line x1="1121.02" y1="2307.69" x2="1131.02" y2="2307.69" stroke="#0a0a0a" stroke-width="3"/>
<line x1="1153.32" y1="2292.42" x2="1153.32" y2="2307.94" stroke="#0a0a0a" stroke-width="2.8"/>
<line x1="1148.32" y1="2292.42" x2="1158.32" y2="2292.42" stroke="#0a0a0a" stroke-width="3"/>
<line x1="1148.32" y1="2307.94" x2="1158.32" y2="2307.94" stroke="#0a0a0a" stroke-width="3"/>
<line x1="1262.51" y1="2175.64" x2="1262.51" y2="2209.26" stroke="#0a0a0a" stroke-width="2.8"/>
<line x1="1257.51" y1="2175.64" x2="1267.51" y2="2175.64" stroke="#0a0a0a" stroke-width="3"/>
<line x1="1257.51" y1="2209.26" x2="1267.51" y2="2209.26" stroke="#0a0a0a" stroke-width="3"/>
<line x1="1289.81" y1="2173.57" x2="1289.81" y2="2211.33" stroke="#0a0a0a" stroke-width="2.8"/>
<line x1="1284.81" y1="2173.57" x2="1294.81" y2="2173.57" stroke="#0a0a0a" stroke-width="3"/>
<line x1="1284.81" y1="2211.33" x2="1294.81" y2="2211.33" stroke="#0a0a0a" stroke-width="3"/>
<line x1="1317.11" y1="2177.83" x2="1317.11" y2="2218.45" stroke="#0a0a0a" stroke-width="2.8"/>
<line x1="1312.11" y1="2177.83" x2="1322.11" y2="2177.83" stroke="#0a0a0a" stroke-width="3"/>
<line x1="1312.11" y1="2218.45" x2="1322.11" y2="2218.45" stroke="#0a0a0a" stroke-width="3"/>
<polyline points="1098.73,2289.19 1126.02,2297.34 1153.32,2300.18 1180.62,2347.26 1207.92,2355.41 1235.21,2354.5 1262.51,2192.45 1289.81,2192.45 1317.11,2198.14 1344.41,2367.57 1371.7,2370.41 1399,2368.99" fill="none" stroke="#0a0a0a" stroke-width="3.9" stroke-linejoin="round"/>
<rect x="1092.43" y="2282.89" width="12.6" height="12.6" fill="#0a0a0a" rx="1.5"/>
<rect x="1119.72" y="2291.04" width="12.6" height="12.6" fill="#0a0a0a" rx="1.5"/>
<rect x="1147.02" y="2293.88" width="12.6" height="12.6" fill="#0a0a0a" rx="1.5"/>
<rect x="1174.32" y="2340.96" width="12.6" height="12.6" fill="#0a0a0a" rx="1.5"/>
<rect x="1201.62" y="2349.11" width="12.6" height="12.6" fill="#0a0a0a" rx="1.5"/>
<rect x="1228.91" y="2348.2" width="12.6" height="12.6" fill="#0a0a0a" rx="1.5"/>
<rect x="1256.21" y="2186.15" width="12.6" height="12.6" fill="#0a0a0a" rx="1.5"/>
<rect x="1283.51" y="2186.15" width="12.6" height="12.6" fill="#0a0a0a" rx="1.5"/>
<rect x="1310.81" y="2191.84" width="12.6" height="12.6" fill="#0a0a0a" rx="1.5"/>
<rect x="1338.11" y="2361.27" width="12.6" height="12.6" fill="#0a0a0a" rx="1.5"/>
<rect x="1365.4" y="2364.11" width="12.6" height="12.6" fill="#0a0a0a" rx="1.5"/>
<rect x="1392.7" y="2362.69" width="12.6" height="12.6" fill="#0a0a0a" rx="1.5"/>
<line x1="1514.2" y1="2020.4" x2="1514.2" y2="2411.3" stroke="#0a0a0a" stroke-width="3.4"/>
<line x1="1512.5" y1="2409.6" x2="1849.5" y2="2409.6" stroke="#0a0a0a" stroke-width="3.4"/>
<line x1="1504.2" y1="2409.6" x2="1514.2" y2="2409.6" stroke="#0a0a0a" stroke-width="3.2"/>
<text x="1487.17" y="2419.8" font-size="28.5" fill="#0a0a0a" textLength="15.85" lengthAdjust="spacingAndGlyphs">0</text>
<line x1="1504.2" y1="2280.27" x2="1514.2" y2="2280.27" stroke="#0a0a0a" stroke-width="3.2"/>
<text x="1455.47" y="2290.47" font-size="28.5" fill="#0a0a0a" textLength="47.55" lengthAdjust="spacingAndGlyphs">100</text>
<line x1="1504.2" y1="2150.93" x2="1514.2" y2="2150.93" stroke="#0a0a0a" stroke-width="3.2"/>
<text x="1455.47" y="2161.13" font-size="28.5" fill="#0a0a0a" textLength="47.55" lengthAdjust="spacingAndGlyphs">200</text>
<line x1="1504.2" y1="2021.6" x2="1514.2" y2="2021.6" stroke="#0a0a0a" stroke-width="3.2"/>
<text x="1455.47" y="2031.8" font-size="28.5" fill="#0a0a0a" textLength="47.55" lengthAdjust="spacingAndGlyphs">300</text>
<line x1="1514.2" y1="2409.6" x2="1514.2" y2="2419.6" stroke="#0a0a0a" stroke-width="3.2"/>
<text x="1506.28" y="2447.8" font-size="28.5" fill="#0a0a0a" textLength="15.85" lengthAdjust="spacingAndGlyphs">0</text>
<line x1="1597.65" y1="2409.6" x2="1597.65" y2="2419.6" stroke="#0a0a0a" stroke-width="3.2"/>
<text x="1581.65" y="2447.8" font-size="28.5" fill="#0a0a0a" textLength="31.7" lengthAdjust="spacingAndGlyphs">20</text>
<line x1="1681.1" y1="2409.6" x2="1681.1" y2="2419.6" stroke="#0a0a0a" stroke-width="3.2"/>
<text x="1665.48" y="2447.8" font-size="28.5" fill="#0a0a0a" textLength="31.7" lengthAdjust="spacingAndGlyphs">40</text>
<line x1="1764.55" y1="2409.6" x2="1764.55" y2="2419.6" stroke="#0a0a0a" stroke-width="3.2"/>
<text x="1748.53" y="2447.8" font-size="28.5" fill="#0a0a0a" textLength="31.7" lengthAdjust="spacingAndGlyphs">60</text>
<line x1="1848" y1="2409.6" x2="1848" y2="2419.6" stroke="#0a0a0a" stroke-width="3.2"/>
<text x="1832.1" y="2447.8" font-size="28.5" fill="#0a0a0a" textLength="31.7" lengthAdjust="spacingAndGlyphs">80</text>
<text x="1623.34" y="1991.2" font-size="36" fill="#0a0a0a" textLength="113.87" lengthAdjust="spacingAndGlyphs">Saos-2</text>
<text x="1553.42" y="2485.7" font-size="35.5" fill="#0a0a0a" textLength="256.68" lengthAdjust="spacingAndGlyphs">Time ( Minutes )</text>
<line x1="1527.8" y1="2037.3" x2="1556.3" y2="2037.3" stroke="#0a0a0a" stroke-width="4.4"/>
<rect x="1537" y="2032.1" width="10.4" height="10.4" fill="#0a0a0a"/>
<line x1="1527.8" y1="2075.9" x2="1556.3" y2="2075.9" stroke="#e2302b" stroke-width="4.2"/>
<circle cx="1542" cy="2075.9" r="5.4" fill="#e2302b"/>
<text x="1572.61" y="2047.7" font-size="28.3" fill="#0a0a0a" textLength="103.29" lengthAdjust="spacingAndGlyphs">sh-CON</text>
<text x="1574.11" y="2084.6" font-size="28.3" fill="#0a0a0a" textLength="51.49" lengthAdjust="spacingAndGlyphs">sh-1</text>
<line x1="1603.3" y1="2262.5" x2="1603.3" y2="2310.9" stroke="#0a0a0a" stroke-width="3.8"/>
<path d="M1597.9,2302.9 L1603.3,2311.3 L1608.7,2302.9" fill="none" stroke="#0a0a0a" stroke-width="4.4" stroke-linejoin="miter" stroke-miterlimit="10" stroke-linecap="round"/>
<text x="1591.28" y="2250.9" font-size="28" fill="#0a0a0a" textLength="21.78" lengthAdjust="spacingAndGlyphs">O</text>
<line x1="1661.9" y1="2139.7" x2="1661.9" y2="2187" stroke="#0a0a0a" stroke-width="3.8"/>
<path d="M1656.5,2179 L1661.9,2187.4 L1667.3,2179" fill="none" stroke="#0a0a0a" stroke-width="4.4" stroke-linejoin="miter" stroke-miterlimit="10" stroke-linecap="round"/>
<text x="1653.2" y="2126.7" font-size="28" fill="#0a0a0a" textLength="17.1" lengthAdjust="spacingAndGlyphs">F</text>
<line x1="1771" y1="2148.4" x2="1771" y2="2196.2" stroke="#0a0a0a" stroke-width="3.8"/>
<path d="M1765.6,2188.2 L1771,2196.6 L1776.4,2188.2" fill="none" stroke="#0a0a0a" stroke-width="4.4" stroke-linejoin="miter" stroke-miterlimit="10" stroke-linecap="round"/>
<text x="1760.84" y="2136" font-size="28" fill="#0a0a0a" textLength="71.59" lengthAdjust="spacingAndGlyphs">A &amp; R</text>
<line x1="1574.78" y1="2260.48" x2="1574.78" y2="2276" stroke="#e2302b" stroke-width="2.8"/>
<line x1="1569.78" y1="2260.48" x2="1579.78" y2="2260.48" stroke="#e2302b" stroke-width="3"/>
<line x1="1569.78" y1="2276" x2="1579.78" y2="2276" stroke="#e2302b" stroke-width="3"/>
<line x1="1684.27" y1="2047.34" x2="1684.27" y2="2078.38" stroke="#e2302b" stroke-width="2.8"/>
<line x1="1679.27" y1="2047.34" x2="1689.27" y2="2047.34" stroke="#e2302b" stroke-width="3"/>
<line x1="1679.27" y1="2078.38" x2="1689.27" y2="2078.38" stroke="#e2302b" stroke-width="3"/>
<line x1="1711.64" y1="2046.04" x2="1711.64" y2="2086.65" stroke="#e2302b" stroke-width="2.8"/>
<line x1="1706.64" y1="2046.04" x2="1716.64" y2="2046.04" stroke="#e2302b" stroke-width="3"/>
<line x1="1706.64" y1="2086.65" x2="1716.64" y2="2086.65" stroke="#e2302b" stroke-width="3"/>
<line x1="1739.01" y1="2054.06" x2="1739.01" y2="2088.98" stroke="#e2302b" stroke-width="2.8"/>
<line x1="1734.01" y1="2054.06" x2="1744.01" y2="2054.06" stroke="#e2302b" stroke-width="3"/>
<line x1="1734.01" y1="2088.98" x2="1744.01" y2="2088.98" stroke="#e2302b" stroke-width="3"/>
<line x1="1821.13" y1="2351.66" x2="1821.13" y2="2367.18" stroke="#e2302b" stroke-width="2.8"/>
<line x1="1816.13" y1="2351.66" x2="1826.13" y2="2351.66" stroke="#e2302b" stroke-width="3"/>
<line x1="1816.13" y1="2367.18" x2="1826.13" y2="2367.18" stroke="#e2302b" stroke-width="3"/>
<polyline points="1520.04,2259.57 1547.41,2264.49 1574.78,2268.24 1602.16,2353.6 1629.53,2351.53 1656.9,2350.75 1684.27,2062.86 1711.64,2066.35 1739.01,2071.52 1766.39,2355.93 1793.76,2357.35 1821.13,2359.42" fill="none" stroke="#e2302b" stroke-width="2.8" stroke-linejoin="round"/>
<circle cx="1520.04" cy="2259.57" r="6.6" fill="#e2302b"/>
<circle cx="1547.41" cy="2264.49" r="6.6" fill="#e2302b"/>
<circle cx="1574.78" cy="2268.24" r="6.6" fill="#e2302b"/>
<circle cx="1602.16" cy="2353.6" r="6.6" fill="#e2302b"/>
<circle cx="1629.53" cy="2351.53" r="6.6" fill="#e2302b"/>
<circle cx="1656.9" cy="2350.75" r="6.6" fill="#e2302b"/>
<circle cx="1684.27" cy="2062.86" r="6.6" fill="#e2302b"/>
<circle cx="1711.64" cy="2066.35" r="6.6" fill="#e2302b"/>
<circle cx="1739.01" cy="2071.52" r="6.6" fill="#e2302b"/>
<circle cx="1766.39" cy="2355.93" r="6.6" fill="#e2302b"/>
<circle cx="1793.76" cy="2357.35" r="6.6" fill="#e2302b"/>
<circle cx="1821.13" cy="2359.42" r="6.6" fill="#e2302b"/>
<line x1="1684.27" y1="2150.67" x2="1684.27" y2="2175.25" stroke="#0a0a0a" stroke-width="2.8"/>
<line x1="1679.27" y1="2150.67" x2="1689.27" y2="2150.67" stroke="#0a0a0a" stroke-width="3"/>
<line x1="1679.27" y1="2175.25" x2="1689.27" y2="2175.25" stroke="#0a0a0a" stroke-width="3"/>
<line x1="1711.64" y1="2143.69" x2="1711.64" y2="2174.73" stroke="#0a0a0a" stroke-width="2.8"/>
<line x1="1706.64" y1="2143.69" x2="1716.64" y2="2143.69" stroke="#0a0a0a" stroke-width="3"/>
<line x1="1706.64" y1="2174.73" x2="1716.64" y2="2174.73" stroke="#0a0a0a" stroke-width="3"/>
<line x1="1739.01" y1="2142.91" x2="1739.01" y2="2171.37" stroke="#0a0a0a" stroke-width="2.8"/>
<line x1="1734.01" y1="2142.91" x2="1744.01" y2="2142.91" stroke="#0a0a0a" stroke-width="3"/>
<line x1="1734.01" y1="2171.37" x2="1744.01" y2="2171.37" stroke="#0a0a0a" stroke-width="3"/>
<polyline points="1520.04,2283.37 1547.41,2286.22 1574.78,2287.77 1602.16,2364.07 1629.53,2363.17 1656.9,2364.07 1684.27,2162.96 1711.64,2159.21 1739.01,2157.14 1766.39,2367.57 1793.76,2368.99 1821.13,2369.89" fill="none" stroke="#0a0a0a" stroke-width="3.9" stroke-linejoin="round"/>
<rect x="1513.74" y="2277.07" width="12.6" height="12.6" fill="#0a0a0a" rx="1.5"/>
<rect x="1541.11" y="2279.92" width="12.6" height="12.6" fill="#0a0a0a" rx="1.5"/>
<rect x="1568.48" y="2281.47" width="12.6" height="12.6" fill="#0a0a0a" rx="1.5"/>
<rect x="1595.86" y="2357.77" width="12.6" height="12.6" fill="#0a0a0a" rx="1.5"/>
<rect x="1623.23" y="2356.87" width="12.6" height="12.6" fill="#0a0a0a" rx="1.5"/>
<rect x="1650.6" y="2357.77" width="12.6" height="12.6" fill="#0a0a0a" rx="1.5"/>
<rect x="1677.97" y="2156.66" width="12.6" height="12.6" fill="#0a0a0a" rx="1.5"/>
<rect x="1705.34" y="2152.91" width="12.6" height="12.6" fill="#0a0a0a" rx="1.5"/>
<rect x="1732.71" y="2150.84" width="12.6" height="12.6" fill="#0a0a0a" rx="1.5"/>
<rect x="1760.09" y="2361.27" width="12.6" height="12.6" fill="#0a0a0a" rx="1.5"/>
<rect x="1787.46" y="2362.69" width="12.6" height="12.6" fill="#0a0a0a" rx="1.5"/>
<rect x="1814.83" y="2363.59" width="12.6" height="12.6" fill="#0a0a0a" rx="1.5"/>
<text x="410.05" y="1267.9" font-size="36" fill="#0a0a0a" textLength="123.72" lengthAdjust="spacingAndGlyphs">ROBO1</text>
<text x="1400.05" y="1266.2" font-size="36" fill="#0a0a0a" textLength="122.52" lengthAdjust="spacingAndGlyphs">ROBO1</text>
<text x="430.24" y="1926.4" font-size="36" fill="#0a0a0a" textLength="96.36" lengthAdjust="spacingAndGlyphs">SLIT2</text>
<text x="1407.24" y="1925.9" font-size="36" fill="#0a0a0a" textLength="96.26" lengthAdjust="spacingAndGlyphs">SLIT2</text>
<line x1="115.4" y1="1290.2" x2="831" y2="1290.2" stroke="#0a0a0a" stroke-width="3.4"/>
<line x1="1094" y1="1289.6" x2="1826.2" y2="1289.6" stroke="#0a0a0a" stroke-width="3.4"/>
<line x1="119.4" y1="1946.2" x2="831" y2="1946.2" stroke="#0a0a0a" stroke-width="3.4"/>
<line x1="1095" y1="1946.2" x2="1821" y2="1946.2" stroke="#0a0a0a" stroke-width="3.4"/>
<text x="29.56" y="33.1" font-size="51" fill="#0a0a0a">a</text>
<text x="29.29" y="661.5" font-size="51" fill="#0a0a0a">b</text>
<text x="593.06" y="665.2" font-size="51" fill="#0a0a0a">c</text>
<text x="1047.86" y="38.5" font-size="51" fill="#0a0a0a">d</text>
<text x="1075.16" y="658" font-size="51" fill="#0a0a0a">e</text>
<text x="34.89" y="1269.8" font-size="51" fill="#0a0a0a">f</text>
<text x="969.46" y="1268.3" font-size="51" fill="#0a0a0a">g</text>
<line x1="1251" y1="39" x2="1251" y2="409" stroke="#0a0a0a" stroke-width="3.6"/>
<line x1="1249.2" y1="407.2" x2="1802" y2="407.2" stroke="#0a0a0a" stroke-width="3.6"/>
<line x1="1240.5" y1="40.81" x2="1251" y2="40.81" stroke="#0a0a0a" stroke-width="3.4"/>
<text x="1181.45" y="50.61" font-size="34.6" fill="#0a0a0a" textLength="48.61" lengthAdjust="spacingAndGlyphs">1.5</text>
<line x1="1240.5" y1="148.57" x2="1251" y2="148.57" stroke="#0a0a0a" stroke-width="3.4"/>
<text x="1181.35" y="158.37" font-size="34.6" fill="#0a0a0a" textLength="48.61" lengthAdjust="spacingAndGlyphs">1.0</text>
<line x1="1240.5" y1="256.34" x2="1251" y2="256.34" stroke="#0a0a0a" stroke-width="3.4"/>
<text x="1181.44" y="266.14" font-size="34.6" fill="#0a0a0a" textLength="48.62" lengthAdjust="spacingAndGlyphs">0.5</text>
<line x1="1240.5" y1="364.1" x2="1251" y2="364.1" stroke="#0a0a0a" stroke-width="3.4"/>
<text x="1181.33" y="373.9" font-size="34.6" fill="#0a0a0a" textLength="48.62" lengthAdjust="spacingAndGlyphs">0.0</text>
<line x1="1319.6" y1="407.2" x2="1319.6" y2="417.6" stroke="#0a0a0a" stroke-width="3.4"/>
<text transform="translate(1333.19,437.42) rotate(-45)" font-size="36" text-anchor="end" fill="#0a0a0a">1</text>
<line x1="1422.9" y1="407.2" x2="1422.9" y2="417.6" stroke="#0a0a0a" stroke-width="3.4"/>
<text transform="translate(1435.54,437.72) rotate(-45)" font-size="36" text-anchor="end" fill="#0a0a0a">5</text>
<line x1="1525.5" y1="407.2" x2="1525.5" y2="417.6" stroke="#0a0a0a" stroke-width="3.4"/>
<text transform="translate(1553.95,434.07) rotate(-45)" font-size="36" text-anchor="end" fill="#0a0a0a">10</text>
<line x1="1628.3" y1="407.2" x2="1628.3" y2="417.6" stroke="#0a0a0a" stroke-width="3.4"/>
<text transform="translate(1656.06,437) rotate(-45)" font-size="36" text-anchor="end" fill="#0a0a0a">15</text>
<line x1="1731.2" y1="407.2" x2="1731.2" y2="417.6" stroke="#0a0a0a" stroke-width="3.4"/>
<text transform="translate(1758.58,437.94) rotate(-45)" font-size="36" text-anchor="end" fill="#0a0a0a">20</text>
<text x="1386.05" y="505.8" font-size="43" fill="#0a0a0a" textLength="255.01" lengthAdjust="spacingAndGlyphs">Time ( Days )</text>
<text transform="translate(1155,420.05) rotate(-90)" font-size="43" fill="#0a0a0a">Tumor volume ( cm</text>
<text transform="translate(1138.6,51.01) rotate(-90)" font-size="37" fill="#0a0a0a" textLength="17.64" lengthAdjust="spacingAndGlyphs">3</text>
<text transform="translate(1155,27.35) rotate(-90)" font-size="43" fill="#0a0a0a">)</text>
<line x1="1301" y1="83.4" x2="1338.7" y2="83.4" stroke="#0a0a0a" stroke-width="4"/>
<circle cx="1320" cy="83.4" r="9" fill="#0a0a0a"/>
<line x1="1301" y1="133.4" x2="1338.7" y2="133.4" stroke="#e2302b" stroke-width="3.6"/>
<rect x="1311.3" y="124.7" width="17.4" height="17.4" fill="#e2302b" rx="1.5"/>
<text x="1350.63" y="95.9" font-size="34.8" fill="#0a0a0a" textLength="132.71" lengthAdjust="spacingAndGlyphs">sh-CON</text>
<text x="1353.13" y="146.7" font-size="34.8" fill="#0a0a0a" textLength="64.89" lengthAdjust="spacingAndGlyphs">sh-1</text>
<line x1="1525.5" y1="309.7" x2="1525.5" y2="333.3" stroke="#0a0a0a" stroke-width="3.4"/>
<line x1="1518.2" y1="309.7" x2="1532.8" y2="309.7" stroke="#0a0a0a" stroke-width="3.4"/>
<line x1="1518.2" y1="333.3" x2="1532.8" y2="333.3" stroke="#0a0a0a" stroke-width="3.4"/>
<line x1="1628.3" y1="279" x2="1628.3" y2="306.6" stroke="#0a0a0a" stroke-width="3.4"/>
<line x1="1621" y1="279" x2="1635.6" y2="279" stroke="#0a0a0a" stroke-width="3.4"/>
<line x1="1621" y1="306.6" x2="1635.6" y2="306.6" stroke="#0a0a0a" stroke-width="3.4"/>
<line x1="1731.2" y1="150" x2="1731.2" y2="242.8" stroke="#0a0a0a" stroke-width="3.4"/>
<line x1="1723.9" y1="150" x2="1738.5" y2="150" stroke="#0a0a0a" stroke-width="3.4"/>
<line x1="1723.9" y1="242.8" x2="1738.5" y2="242.8" stroke="#0a0a0a" stroke-width="3.4"/>
<polyline points="1319.6,363.8 1422.9,351.2 1525.5,322 1628.3,292.4 1731.2,196.6" fill="none" stroke="#0a0a0a" stroke-width="4" stroke-linejoin="round"/>
<circle cx="1319.6" cy="363.8" r="9.2" fill="#0a0a0a"/>
<circle cx="1422.9" cy="351.2" r="9.2" fill="#0a0a0a"/>
<circle cx="1525.5" cy="322" r="9.2" fill="#0a0a0a"/>
<circle cx="1628.3" cy="292.4" r="9.2" fill="#0a0a0a"/>
<circle cx="1731.2" cy="196.6" r="9.2" fill="#0a0a0a"/>
<line x1="1731.2" y1="339.5" x2="1731.2" y2="363.5" stroke="#e2302b" stroke-width="3"/>
<line x1="1723.2" y1="339.5" x2="1739.2" y2="339.5" stroke="#e2302b" stroke-width="3"/>
<line x1="1723.2" y1="363.5" x2="1739.2" y2="363.5" stroke="#e2302b" stroke-width="3"/>
<polyline points="1319.6,364.1 1422.9,362.3 1525.5,360 1628.3,355.3 1731.2,351.2" fill="none" stroke="#e2302b" stroke-width="3.4" stroke-linejoin="round"/>
<rect x="1310.8" y="355.3" width="17.6" height="17.6" fill="#e2302b" rx="1.5"/>
<rect x="1414.1" y="353.5" width="17.6" height="17.6" fill="#e2302b" rx="1.5"/>
<rect x="1516.7" y="351.2" width="17.6" height="17.6" fill="#e2302b" rx="1.5"/>
<rect x="1619.5" y="346.5" width="17.6" height="17.6" fill="#e2302b" rx="1.5"/>
<rect x="1722.4" y="342.4" width="17.6" height="17.6" fill="#e2302b" rx="1.5"/>
<polyline points="1752.8,196.2 1768,196.2 1768,352.4 1752.8,352.4" fill="none" stroke="#0a0a0a" stroke-width="3.2" stroke-linejoin="miter"/>
<text transform="translate(1762.88,252.4) rotate(90)" font-size="40" fill="#0a0a0a" textLength="46" lengthAdjust="spacingAndGlyphs">***</text>
<line x1="127.7" y1="724.6" x2="127.7" y2="1104.5" stroke="#0a0a0a" stroke-width="3.3"/>
<line x1="126.1" y1="1102.8" x2="432.6" y2="1102.8" stroke="#0a0a0a" stroke-width="3.3"/>
<line x1="119.7" y1="725.6" x2="127.7" y2="725.6" stroke="#0a0a0a" stroke-width="3.1"/>
<text x="75.6" y="733.8" font-size="28.5" fill="#0a0a0a" textLength="39.62" lengthAdjust="spacingAndGlyphs">1.0</text>
<line x1="119.7" y1="819.9" x2="127.7" y2="819.9" stroke="#0a0a0a" stroke-width="3.1"/>
<text x="75.91" y="828.1" font-size="28.5" fill="#0a0a0a" textLength="39.62" lengthAdjust="spacingAndGlyphs">0.7</text>
<line x1="119.7" y1="914.2" x2="127.7" y2="914.2" stroke="#0a0a0a" stroke-width="3.1"/>
<text x="75.31" y="922.4" font-size="28.5" fill="#0a0a0a" textLength="39.62" lengthAdjust="spacingAndGlyphs">0.4</text>
<line x1="119.7" y1="1008.5" x2="127.7" y2="1008.5" stroke="#0a0a0a" stroke-width="3.1"/>
<text x="75.88" y="1016.7" font-size="28.5" fill="#0a0a0a" textLength="39.62" lengthAdjust="spacingAndGlyphs">0.1</text>
<line x1="119.7" y1="1102.8" x2="127.7" y2="1102.8" stroke="#0a0a0a" stroke-width="3.1"/>
<text x="66.42" y="1111" font-size="28.5" fill="#0a0a0a" textLength="49.11" lengthAdjust="spacingAndGlyphs">-0.2</text>
<line x1="204" y1="1102.8" x2="204" y2="1111.8" stroke="#0a0a0a" stroke-width="3.1"/>
<line x1="355.5" y1="1102.8" x2="355.5" y2="1111.8" stroke="#0a0a0a" stroke-width="3.1"/>
<rect x="153.4" y="805" width="101.2" height="32.7" fill="none" stroke="#0a0a0a" stroke-width="3.4"/>
<line x1="153.4" y1="826" x2="254.6" y2="826" stroke="#0a0a0a" stroke-width="3.4"/>
<line x1="204" y1="805" x2="204" y2="776.3" stroke="#0a0a0a" stroke-width="3.4"/>
<line x1="204" y1="837.7" x2="204" y2="861.2" stroke="#0a0a0a" stroke-width="3.4"/>
<line x1="179.6" y1="776.3" x2="228.5" y2="776.3" stroke="#0a0a0a" stroke-width="3.4"/>
<line x1="179.6" y1="861.2" x2="228.5" y2="861.2" stroke="#0a0a0a" stroke-width="3.4"/>
<rect x="305.3" y="991.8" width="101.2" height="31" fill="none" stroke="#e2302b" stroke-width="3"/>
<line x1="305.3" y1="1009.7" x2="406.5" y2="1009.7" stroke="#e2302b" stroke-width="3"/>
<line x1="355.5" y1="991.8" x2="355.5" y2="989" stroke="#e2302b" stroke-width="3"/>
<line x1="331.4" y1="989" x2="379.5" y2="989" stroke="#e2302b" stroke-width="3"/>
<line x1="355.5" y1="1022.8" x2="355.5" y2="1034.2" stroke="#e2302b" stroke-width="3"/>
<line x1="331.4" y1="1034.2" x2="379.5" y2="1034.2" stroke="#e2302b" stroke-width="3"/>
<polyline points="204,751.8 204,739.7 355.5,739.7 355.5,957.5" fill="none" stroke="#0a0a0a" stroke-width="2.8" stroke-linejoin="miter"/>
<text x="255.7" y="742.98" font-size="40" fill="#0a0a0a" textLength="46.9" lengthAdjust="spacingAndGlyphs">***</text>
<text transform="translate(59.9,1080.75) rotate(-90)" font-size="43" fill="#0a0a0a" textLength="322.79" lengthAdjust="spacingAndGlyphs">Tumor weight (g)</text>
<text x="144.29" y="1151.7" font-size="36" fill="#0a0a0a" textLength="129.64" lengthAdjust="spacingAndGlyphs">sh-CON</text>
<text x="320.59" y="1151.7" font-size="36" fill="#0a0a0a" textLength="66.38" lengthAdjust="spacingAndGlyphs">sh-1</text>
<line x1="674.8" y1="723.11" x2="674.8" y2="1103.5" stroke="#0a0a0a" stroke-width="3.3"/>
<line x1="673.2" y1="1101.8" x2="980.7" y2="1101.8" stroke="#0a0a0a" stroke-width="3.3"/>
<line x1="666.8" y1="724.11" x2="674.8" y2="724.11" stroke="#0a0a0a" stroke-width="3.1"/>
<text x="622.84" y="732.31" font-size="28.5" fill="#0a0a0a" textLength="39.62" lengthAdjust="spacingAndGlyphs">1.6</text>
<line x1="666.8" y1="787.05" x2="674.8" y2="787.05" stroke="#0a0a0a" stroke-width="3.1"/>
<text x="622.84" y="795.25" font-size="28.5" fill="#0a0a0a" textLength="39.62" lengthAdjust="spacingAndGlyphs">1.3</text>
<line x1="666.8" y1="850" x2="674.8" y2="850" stroke="#0a0a0a" stroke-width="3.1"/>
<text x="622.7" y="858.2" font-size="28.5" fill="#0a0a0a" textLength="39.62" lengthAdjust="spacingAndGlyphs">1.0</text>
<line x1="666.8" y1="912.95" x2="674.8" y2="912.95" stroke="#0a0a0a" stroke-width="3.1"/>
<text x="623.01" y="921.15" font-size="28.5" fill="#0a0a0a" textLength="39.62" lengthAdjust="spacingAndGlyphs">0.7</text>
<line x1="666.8" y1="975.9" x2="674.8" y2="975.9" stroke="#0a0a0a" stroke-width="3.1"/>
<text x="622.41" y="984.1" font-size="28.5" fill="#0a0a0a" textLength="39.62" lengthAdjust="spacingAndGlyphs">0.4</text>
<line x1="666.8" y1="1038.85" x2="674.8" y2="1038.85" stroke="#0a0a0a" stroke-width="3.1"/>
<text x="622.98" y="1047.05" font-size="28.5" fill="#0a0a0a" textLength="39.62" lengthAdjust="spacingAndGlyphs">0.1</text>
<line x1="666.8" y1="1101.8" x2="674.8" y2="1101.8" stroke="#0a0a0a" stroke-width="3.1"/>
<text x="613.52" y="1110" font-size="28.5" fill="#0a0a0a" textLength="49.11" lengthAdjust="spacingAndGlyphs">-0.2</text>
<line x1="751.6" y1="1101.8" x2="751.6" y2="1110.8" stroke="#0a0a0a" stroke-width="3.1"/>
<line x1="903.4" y1="1101.8" x2="903.4" y2="1110.8" stroke="#0a0a0a" stroke-width="3.1"/>
<rect x="700.6" y="866" width="102.2" height="60.5" fill="none" stroke="#0a0a0a" stroke-width="3.4"/>
<line x1="700.6" y1="908.5" x2="802.8" y2="908.5" stroke="#0a0a0a" stroke-width="3.4"/>
<line x1="751.6" y1="866" x2="751.6" y2="813.8" stroke="#0a0a0a" stroke-width="3.4"/>
<line x1="751.6" y1="926.5" x2="751.6" y2="946" stroke="#0a0a0a" stroke-width="3.4"/>
<line x1="726.7" y1="813.8" x2="775.7" y2="813.8" stroke="#0a0a0a" stroke-width="3.4"/>
<line x1="726.7" y1="946" x2="775.7" y2="946" stroke="#0a0a0a" stroke-width="3.4"/>
<rect x="852.4" y="1035.8" width="102.2" height="22.9" fill="none" stroke="#e2302b" stroke-width="3"/>
<line x1="852.4" y1="1050.5" x2="954.6" y2="1050.5" stroke="#e2302b" stroke-width="3"/>
<line x1="903.4" y1="1035.8" x2="903.4" y2="1031.6" stroke="#e2302b" stroke-width="3"/>
<line x1="879.5" y1="1031.6" x2="927.9" y2="1031.6" stroke="#e2302b" stroke-width="3"/>
<polyline points="751.6,774.7 751.6,758.3 903.4,758.3 903.4,991.8" fill="none" stroke="#0a0a0a" stroke-width="2.8" stroke-linejoin="miter"/>
<text x="803.8" y="762.48" font-size="40" fill="#0a0a0a" textLength="46.8" lengthAdjust="spacingAndGlyphs">***</text>
<text transform="translate(604,1114.75) rotate(-90)" font-size="43" fill="#0a0a0a">Tumor volume ( cm</text>
<text transform="translate(587.4,744.61) rotate(-90)" font-size="37" fill="#0a0a0a" textLength="19.54" lengthAdjust="spacingAndGlyphs">3</text>
<text transform="translate(604,721.45) rotate(-90)" font-size="43" fill="#0a0a0a">)</text>
<text x="692.39" y="1150" font-size="36" fill="#0a0a0a" textLength="129.54" lengthAdjust="spacingAndGlyphs">sh-CON</text>
<text x="870.39" y="1150" font-size="36" fill="#0a0a0a" textLength="64.78" lengthAdjust="spacingAndGlyphs">sh-1</text>
<defs><filter id="blur6" x="-50%" y="-50%" width="200%" height="200%"><feGaussianBlur stdDeviation="7"/></filter><filter id="blur2" x="-50%" y="-50%" width="200%" height="200%"><feGaussianBlur stdDeviation="2.2"/></filter><filter id="cloth" x="0" y="0" width="100%" height="100%"><feTurbulence type="fractalNoise" baseFrequency="0.55 0.75" numOctaves="2" seed="3" result="n"/><feColorMatrix in="n" type="matrix" values="0 0 0 0 0.55  0 0 0 0 0.95  0 0 0 0 0.95  0 0 0 2.2 -0.95" result="c"/><feComposite in="c" in2="SourceGraphic" operator="in"/></filter><filter id="cloth2" x="0" y="0" width="100%" height="100%"><feTurbulence type="fractalNoise" baseFrequency="0.6 0.5" numOctaves="2" seed="8" result="n"/><feColorMatrix in="n" type="matrix" values="0 0 0 0 0.02  0 0 0 0 0.45  0 0 0 0 0.45  0 0 0 2.2 -0.95" result="c"/><feComposite in="c" in2="SourceGraphic" operator="in"/></filter><radialGradient id="tpink" cx="0.5" cy="0.45" r="0.62"><stop offset="0" stop-color="#eebcc4"/><stop offset="0.55" stop-color="#f1cdd3"/><stop offset="0.9" stop-color="#f5e1e4"/><stop offset="1" stop-color="#efdcdf"/></radialGradient><radialGradient id="twhite" cx="0.42" cy="0.38" r="0.7"><stop offset="0" stop-color="#fdfaf8"/><stop offset="0.6" stop-color="#f3e7e4"/><stop offset="1" stop-color="#e2d0cf"/></radialGradient><clipPath id="clipA"><rect x="94" y="94" width="906" height="309"/></clipPath></defs>
<rect x="94" y="94" width="906" height="309" fill="#2fb5b2"/>
<g clip-path="url(#clipA)">
<rect x="94" y="94" width="906" height="309" fill="#ffffff" opacity="0.45" filter="url(#cloth)"/>
<rect x="94" y="94" width="906" height="309" fill="#ffffff" opacity="0.35" filter="url(#cloth2)"/>
<path d="M114.86,144.94 C115.79,140.3 118.8,135.9 124.59,133.81 C130.39,131.73 140.82,132.98 149.62,132.42 C158.43,131.86 170.02,129.78 177.43,130.47 C184.85,131.17 190.18,133.25 194.12,136.59 C198.06,139.93 200.15,145.63 201.07,150.5 C202,155.36 201.3,160.69 199.68,165.79 C198.06,170.89 195.05,176.22 191.34,181.09 C187.63,185.96 182.07,191.98 177.43,195 C172.8,198.01 168.16,199.17 163.53,199.17 C158.89,199.17 154.26,196.85 149.62,195 C144.99,193.14 139.89,191.29 135.72,188.04 C131.54,184.8 127.37,179.93 124.59,175.53 C121.81,171.12 120.65,166.72 119.03,161.62 C117.41,156.52 113.93,149.57 114.86,144.94Z" fill="#0b6660" opacity="0.75" filter="url(#blur6)"/>
<path d="M253.91,165.79 C254.38,162.55 257.85,157.22 260.87,153.28 C263.88,149.34 267.36,146.33 271.99,142.15 C276.63,137.98 283.11,130.8 288.68,128.25 C294.24,125.7 299.8,125.47 305.36,126.86 C310.93,128.25 317.65,132.65 322.05,136.59 C326.45,140.53 329.47,144.94 331.78,150.5 C334.1,156.06 335.72,164.17 335.96,169.97 C336.19,175.76 335.49,180.63 333.17,185.26 C330.86,189.9 326.69,194.07 322.05,197.78 C317.42,201.48 310,206.58 305.36,207.51 C300.73,208.44 297.95,206.35 294.24,203.34 C290.53,200.33 287.29,193.6 283.11,189.43 C278.94,185.26 273.38,181.09 269.21,178.31 C265.04,175.53 260.63,174.83 258.08,172.75 C255.54,170.66 253.45,169.04 253.91,165.79Z" fill="#0b6660" opacity="0.75" filter="url(#blur6)"/>
<path d="M395.75,153.28 C396.21,149.57 396.44,145.03 399.92,142.15 C403.4,139.28 410.12,136.73 416.61,136.04 C423.1,135.34 432.37,136.5 438.86,137.98 C445.35,139.47 450.44,142.85 455.54,144.94 C460.64,147.02 466.11,147.72 469.45,150.5 C472.79,153.28 475.1,156.99 475.57,161.62 C476.03,166.26 473.71,173.21 472.23,178.31 C470.75,183.41 469.91,188.51 466.67,192.21 C463.42,195.92 457.86,199.4 452.76,200.56 C447.66,201.72 442.1,200.56 436.08,199.17 C430.05,197.78 422.17,195.69 416.61,192.21 C411.05,188.74 405.95,182.94 402.7,178.31 C399.46,173.67 398.3,168.57 397.14,164.4 C395.98,160.23 395.29,156.99 395.75,153.28Z" fill="#0b6660" opacity="0.75" filter="url(#blur6)"/>
<path d="M549.56,154.67 C550.26,149.11 551.88,141.23 555.12,136.59 C558.37,131.96 563.93,128.62 569.03,126.86 C574.13,125.1 580.15,124.63 585.72,126.02 C591.28,127.41 597.54,131.59 602.4,135.2 C607.27,138.82 611.67,142.39 614.92,147.72 C618.16,153.05 620.94,160.69 621.87,167.18 C622.8,173.67 621.87,181.09 620.48,186.65 C619.09,192.21 617,196.94 613.53,200.56 C610.05,204.17 604.26,207.19 599.62,208.34 C594.99,209.5 590.35,209.27 585.72,207.51 C581.08,205.75 576.21,201.72 571.81,197.78 C567.41,193.84 562.77,188.51 559.3,183.87 C555.82,179.24 552.58,174.83 550.95,169.97 C549.33,165.1 548.87,160.23 549.56,154.67Z" fill="#0b6660" opacity="0.75" filter="url(#blur6)"/>
<path d="M721.99,164.4 C723.01,158.84 724.77,152.35 727.55,147.72 C730.33,143.08 734.04,139 738.68,136.59 C743.31,134.18 749.8,132.79 755.36,133.25 C760.93,133.72 767.42,136.04 772.05,139.37 C776.69,142.71 780.39,147.72 783.17,153.28 C785.96,158.84 787.25,165.79 788.74,172.75 C790.22,179.7 792.54,187.58 792.07,195 C791.61,202.41 788.83,211.22 785.96,217.24 C783.08,223.27 779.47,228.14 774.83,231.15 C770.2,234.16 763.24,235.55 758.14,235.32 C753.05,235.09 748.87,232.77 744.24,229.76 C739.6,226.75 733.81,222.57 730.33,217.24 C726.86,211.91 724.86,203.8 723.38,197.78 C721.9,191.75 721.67,186.65 721.43,181.09 C721.2,175.53 720.97,169.97 721.99,164.4Z" fill="#0b6660" opacity="0.75" filter="url(#blur6)"/>
<path d="M877.73,195 C877.96,192.45 879.12,188.97 881.9,186.65 C884.68,184.33 889.09,183.87 894.42,181.09 C899.75,178.31 908.79,173.44 913.89,169.97 C918.98,166.49 920.84,162.46 925.01,160.23 C929.18,158.01 933.82,156.38 938.92,156.62 C944.01,156.85 951.43,158.93 955.6,161.62 C959.77,164.31 961.86,168.11 963.95,172.75 C966.03,177.38 967.89,182.94 968.12,189.43 C968.35,195.92 967.42,205.66 965.34,211.68 C963.25,217.71 960.01,222.11 955.6,225.59 C951.2,229.06 944.94,231.61 938.92,232.54 C932.89,233.47 925.47,233.24 919.45,231.15 C913.42,229.06 907.4,223.73 902.76,220.03 C898.13,216.32 895.35,211.91 891.64,208.9 C887.93,205.89 882.83,204.27 880.51,201.95 C878.2,199.63 877.5,197.54 877.73,195Z" fill="#0b6660" opacity="0.75" filter="url(#blur6)"/>
<path d="M146.84,356.3 C148.14,353.61 151.94,350 155.18,348.51 C158.43,347.03 162.6,346.1 166.31,347.4 C170.02,348.7 173.96,353.89 177.43,356.3 C180.91,358.71 185.54,359.08 187.17,361.86 C188.79,364.64 189.25,370.44 187.17,372.99 C185.08,375.53 179.06,376 174.65,377.16 C170.25,378.32 164.69,380.17 160.75,379.94 C156.81,379.71 153.24,378.32 151.01,375.77 C148.79,373.22 148.09,367.89 147.4,364.64 C146.7,361.4 145.54,358.99 146.84,356.3Z" fill="#0b6660" opacity="0.75" filter="url(#blur6)"/>
<path d="M273.38,360.47 C274.54,356.53 278.71,350.97 283.11,347.96 C287.52,344.94 293.31,343.32 299.8,342.39 C306.29,341.47 316.02,341 322.05,342.39 C328.08,343.78 333.41,347.03 335.96,350.74 C338.51,354.44 338.27,360.93 337.35,364.64 C336.42,368.35 334.33,370.2 330.39,372.99 C326.45,375.77 318.81,379.57 313.71,381.33 C308.61,383.09 304.44,383.79 299.8,383.55 C295.17,383.32 289.84,381.93 285.9,379.94 C281.96,377.95 278.25,374.84 276.16,371.6 C274.08,368.35 272.22,364.41 273.38,360.47Z" fill="#0b6660" opacity="0.75" filter="url(#blur6)"/>
<path d="M431.9,356.3 C433.76,352.96 437.7,349.25 441.64,347.4 C445.58,345.55 450.91,344.85 455.54,345.17 C460.18,345.5 465.97,346.57 469.45,349.35 C472.92,352.13 475.38,357.23 476.4,361.86 C477.42,366.5 477.65,373.22 475.57,377.16 C473.48,381.1 468.61,383.65 463.89,385.5 C459.16,387.35 452.07,388.98 447.2,388.28 C442.33,387.59 437.47,384.81 434.68,381.33 C431.9,377.85 430.98,371.6 430.51,367.42 C430.05,363.25 430.05,359.64 431.9,356.3Z" fill="#0b6660" opacity="0.75" filter="url(#blur6)"/>
<path d="M584.33,370.2 C584.33,368.26 585.95,366.13 588.5,364.64 C591.05,363.16 596.15,361.54 599.62,361.3 C603.1,361.07 607.27,362 609.36,363.25 C611.44,364.5 612.14,366.96 612.14,368.81 C612.14,370.67 611.44,372.99 609.36,374.38 C607.27,375.77 603.1,376.83 599.62,377.16 C596.15,377.48 591.05,377.48 588.5,376.32 C585.95,375.16 584.33,372.15 584.33,370.2Z" fill="#0b6660" opacity="0.75" filter="url(#blur6)"/>
<path d="M738.68,361.86 C739.37,356.76 741.46,351.2 744.24,347.96 C747.02,344.71 751.66,343.09 755.36,342.39 C759.07,341.7 762.78,342.39 766.49,343.78 C770.2,345.17 774.37,348.19 777.61,350.74 C780.86,353.29 783.64,356.07 785.96,359.08 C788.27,362.09 791.52,365.11 791.52,368.81 C791.52,372.52 788.74,377.62 785.96,381.33 C783.17,385.04 779,389.21 774.83,391.06 C770.66,392.92 765.56,392.78 760.93,392.45 C756.29,392.13 750.5,391.43 747.02,389.12 C743.54,386.8 741.46,383.09 740.07,378.55 C738.68,374.01 737.98,366.96 738.68,361.86Z" fill="#0b6660" opacity="0.75" filter="url(#blur6)"/>
<path d="M913.89,381.33 C914.35,377.62 915.74,373.22 918.06,370.2 C920.38,367.19 924.32,364.73 927.79,363.25 C931.27,361.77 935.21,361.07 938.92,361.3 C942.62,361.54 946.33,363.25 950.04,364.64 C953.75,366.03 958.94,367.33 961.16,369.65 C963.39,371.97 964.32,375.67 963.39,378.55 C962.46,381.42 958.75,384.57 955.6,386.89 C952.45,389.21 948.19,390.23 944.48,392.45 C940.77,394.68 937.06,399.08 933.35,400.24 C929.65,401.4 925.24,400.7 922.23,399.41 C919.22,398.11 916.67,395.47 915.28,392.45 C913.89,389.44 913.42,385.04 913.89,381.33Z" fill="#0b6660" opacity="0.75" filter="url(#blur6)"/>
</g>
<path d="M110.86,128.94 C111.79,124.3 114.8,119.9 120.59,117.81 C126.39,115.73 136.82,116.98 145.62,116.42 C154.43,115.86 166.02,113.78 173.43,114.47 C180.85,115.17 186.18,117.25 190.12,120.59 C194.06,123.93 196.15,129.63 197.07,134.5 C198,139.36 197.3,144.69 195.68,149.79 C194.06,154.89 191.05,160.22 187.34,165.09 C183.63,169.96 178.07,175.98 173.43,179 C168.8,182.01 164.16,183.17 159.53,183.17 C154.89,183.17 150.26,180.85 145.62,179 C140.99,177.14 135.89,175.29 131.72,172.04 C127.54,168.8 123.37,163.93 120.59,159.53 C117.81,155.12 116.65,150.72 115.03,145.62 C113.41,140.52 109.93,133.57 110.86,128.94Z" fill="url(#tpink)"/>
<path d="M249.91,149.79 C250.38,146.55 253.85,141.22 256.87,137.28 C259.88,133.34 263.36,130.33 267.99,126.15 C272.63,121.98 279.11,114.8 284.68,112.25 C290.24,109.7 295.8,109.47 301.36,110.86 C306.93,112.25 313.65,116.65 318.05,120.59 C322.45,124.53 325.47,128.94 327.78,134.5 C330.1,140.06 331.72,148.17 331.96,153.97 C332.19,159.76 331.49,164.63 329.17,169.26 C326.86,173.9 322.69,178.07 318.05,181.78 C313.42,185.48 306,190.58 301.36,191.51 C296.73,192.44 293.95,190.35 290.24,187.34 C286.53,184.33 283.29,177.6 279.11,173.43 C274.94,169.26 269.38,165.09 265.21,162.31 C261.04,159.53 256.63,158.83 254.08,156.75 C251.54,154.66 249.45,153.04 249.91,149.79Z" fill="url(#tpink)"/>
<path d="M391.75,137.28 C392.21,133.57 392.44,129.03 395.92,126.15 C399.4,123.28 406.12,120.73 412.61,120.04 C419.1,119.34 428.37,120.5 434.86,121.98 C441.35,123.47 446.44,126.85 451.54,128.94 C456.64,131.02 462.11,131.72 465.45,134.5 C468.79,137.28 471.1,140.99 471.57,145.62 C472.03,150.26 469.71,157.21 468.23,162.31 C466.75,167.41 465.91,172.51 462.67,176.21 C459.42,179.92 453.86,183.4 448.76,184.56 C443.66,185.72 438.1,184.56 432.08,183.17 C426.05,181.78 418.17,179.69 412.61,176.21 C407.05,172.74 401.95,166.94 398.7,162.31 C395.46,157.67 394.3,152.57 393.14,148.4 C391.98,144.23 391.29,140.99 391.75,137.28Z" fill="url(#tpink)"/>
<path d="M545.56,138.67 C546.26,133.11 547.88,125.23 551.12,120.59 C554.37,115.96 559.93,112.62 565.03,110.86 C570.13,109.1 576.15,108.63 581.72,110.02 C587.28,111.41 593.54,115.59 598.4,119.2 C603.27,122.82 607.67,126.39 610.92,131.72 C614.16,137.05 616.94,144.69 617.87,151.18 C618.8,157.67 617.87,165.09 616.48,170.65 C615.09,176.21 613,180.94 609.53,184.56 C606.05,188.17 600.26,191.19 595.62,192.34 C590.99,193.5 586.35,193.27 581.72,191.51 C577.08,189.75 572.21,185.72 567.81,181.78 C563.41,177.84 558.77,172.51 555.3,167.87 C551.82,163.24 548.58,158.83 546.95,153.97 C545.33,149.1 544.87,144.23 545.56,138.67Z" fill="url(#tpink)"/>
<path d="M717.99,148.4 C719.01,142.84 720.77,136.35 723.55,131.72 C726.33,127.08 730.04,123 734.68,120.59 C739.31,118.18 745.8,116.79 751.36,117.25 C756.93,117.72 763.42,120.04 768.05,123.37 C772.69,126.71 776.39,131.72 779.17,137.28 C781.96,142.84 783.25,149.79 784.74,156.75 C786.22,163.7 788.54,171.58 788.07,179 C787.61,186.41 784.83,195.22 781.96,201.24 C779.08,207.27 775.47,212.14 770.83,215.15 C766.2,218.16 759.24,219.55 754.14,219.32 C749.05,219.09 744.87,216.77 740.24,213.76 C735.6,210.75 729.81,206.57 726.33,201.24 C722.86,195.91 720.86,187.8 719.38,181.78 C717.9,175.75 717.67,170.65 717.43,165.09 C717.2,159.53 716.97,153.97 717.99,148.4Z" fill="url(#tpink)"/>
<path d="M873.73,179 C873.96,176.45 875.12,172.97 877.9,170.65 C880.68,168.33 885.09,167.87 890.42,165.09 C895.75,162.31 904.79,157.44 909.89,153.97 C914.98,150.49 916.84,146.46 921.01,144.23 C925.18,142.01 929.82,140.38 934.92,140.62 C940.01,140.85 947.43,142.93 951.6,145.62 C955.77,148.31 957.86,152.11 959.95,156.75 C962.03,161.38 963.89,166.94 964.12,173.43 C964.35,179.92 963.42,189.66 961.34,195.68 C959.25,201.71 956.01,206.11 951.6,209.59 C947.2,213.06 940.94,215.61 934.92,216.54 C928.89,217.47 921.47,217.24 915.45,215.15 C909.42,213.06 903.4,207.73 898.76,204.03 C894.13,200.32 891.35,195.91 887.64,192.9 C883.93,189.89 878.83,188.27 876.51,185.95 C874.2,183.63 873.5,181.54 873.73,179Z" fill="url(#tpink)"/>
<clipPath id="tc154"><path d="M110.86,128.94 C111.79,124.3 114.8,119.9 120.59,117.81 C126.39,115.73 136.82,116.98 145.62,116.42 C154.43,115.86 166.02,113.78 173.43,114.47 C180.85,115.17 186.18,117.25 190.12,120.59 C194.06,123.93 196.15,129.63 197.07,134.5 C198,139.36 197.3,144.69 195.68,149.79 C194.06,154.89 191.05,160.22 187.34,165.09 C183.63,169.96 178.07,175.98 173.43,179 C168.8,182.01 164.16,183.17 159.53,183.17 C154.89,183.17 150.26,180.85 145.62,179 C140.99,177.14 135.89,175.29 131.72,172.04 C127.54,168.8 123.37,163.93 120.59,159.53 C117.81,155.12 116.65,150.72 115.03,145.62 C113.41,140.52 109.93,133.57 110.86,128.94Z"/></clipPath><g clip-path="url(#tc154)">
<ellipse cx="152.71" cy="149.62" rx="16.59" ry="8.05" fill="#e4929e" opacity="0.35" filter="url(#blur2)"/>
<ellipse cx="155.1" cy="150.57" rx="10.21" ry="8.31" fill="#e4929e" opacity="0.35" filter="url(#blur2)"/>
<ellipse cx="160.36" cy="157.63" rx="9.43" ry="7.16" fill="#e4929e" opacity="0.35" filter="url(#blur2)"/>
<ellipse cx="137.11" cy="158.2" rx="14.6" ry="5.73" fill="#e4929e" opacity="0.35" filter="url(#blur2)"/>
<ellipse cx="171.39" cy="160.1" rx="5.7" ry="4.02" fill="#ffffff" opacity="0.7" filter="url(#blur2)"/>
<ellipse cx="142.95" cy="127.48" rx="5.27" ry="2.87" fill="#ffffff" opacity="0.7" filter="url(#blur2)"/>
<ellipse cx="144.08" cy="135.27" rx="3.55" ry="3.7" fill="#ffffff" opacity="0.7" filter="url(#blur2)"/>
<path d="M110.86,128.94 C111.79,124.3 114.8,119.9 120.59,117.81 C126.39,115.73 136.82,116.98 145.62,116.42 C154.43,115.86 166.02,113.78 173.43,114.47 C180.85,115.17 186.18,117.25 190.12,120.59 C194.06,123.93 196.15,129.63 197.07,134.5 C198,139.36 197.3,144.69 195.68,149.79 C194.06,154.89 191.05,160.22 187.34,165.09 C183.63,169.96 178.07,175.98 173.43,179 C168.8,182.01 164.16,183.17 159.53,183.17 C154.89,183.17 150.26,180.85 145.62,179 C140.99,177.14 135.89,175.29 131.72,172.04 C127.54,168.8 123.37,163.93 120.59,159.53 C117.81,155.12 116.65,150.72 115.03,145.62 C113.41,140.52 109.93,133.57 110.86,128.94Z" fill="none" stroke="#f6e6e8" stroke-width="5" opacity="0.7" filter="url(#blur2)"/>
</g>
<clipPath id="tc291"><path d="M249.91,149.79 C250.38,146.55 253.85,141.22 256.87,137.28 C259.88,133.34 263.36,130.33 267.99,126.15 C272.63,121.98 279.11,114.8 284.68,112.25 C290.24,109.7 295.8,109.47 301.36,110.86 C306.93,112.25 313.65,116.65 318.05,120.59 C322.45,124.53 325.47,128.94 327.78,134.5 C330.1,140.06 331.72,148.17 331.96,153.97 C332.19,159.76 331.49,164.63 329.17,169.26 C326.86,173.9 322.69,178.07 318.05,181.78 C313.42,185.48 306,190.58 301.36,191.51 C296.73,192.44 293.95,190.35 290.24,187.34 C286.53,184.33 283.29,177.6 279.11,173.43 C274.94,169.26 269.38,165.09 265.21,162.31 C261.04,159.53 256.63,158.83 254.08,156.75 C251.54,154.66 249.45,153.04 249.91,149.79Z"/></clipPath><g clip-path="url(#tc291)">
<ellipse cx="289.28" cy="164.99" rx="12.46" ry="10.58" fill="#e4929e" opacity="0.35" filter="url(#blur2)"/>
<ellipse cx="291.71" cy="157.74" rx="11.96" ry="8.25" fill="#e4929e" opacity="0.35" filter="url(#blur2)"/>
<ellipse cx="312.14" cy="171.17" rx="15.1" ry="11.02" fill="#e4929e" opacity="0.35" filter="url(#blur2)"/>
<ellipse cx="284.14" cy="140.28" rx="10.58" ry="6.91" fill="#e4929e" opacity="0.35" filter="url(#blur2)"/>
<ellipse cx="300.46" cy="143.14" rx="6.06" ry="4.16" fill="#ffffff" opacity="0.7" filter="url(#blur2)"/>
<ellipse cx="306.75" cy="161.16" rx="3.28" ry="3.73" fill="#ffffff" opacity="0.7" filter="url(#blur2)"/>
<ellipse cx="305.19" cy="145.94" rx="6.5" ry="4.19" fill="#ffffff" opacity="0.7" filter="url(#blur2)"/>
<path d="M249.91,149.79 C250.38,146.55 253.85,141.22 256.87,137.28 C259.88,133.34 263.36,130.33 267.99,126.15 C272.63,121.98 279.11,114.8 284.68,112.25 C290.24,109.7 295.8,109.47 301.36,110.86 C306.93,112.25 313.65,116.65 318.05,120.59 C322.45,124.53 325.47,128.94 327.78,134.5 C330.1,140.06 331.72,148.17 331.96,153.97 C332.19,159.76 331.49,164.63 329.17,169.26 C326.86,173.9 322.69,178.07 318.05,181.78 C313.42,185.48 306,190.58 301.36,191.51 C296.73,192.44 293.95,190.35 290.24,187.34 C286.53,184.33 283.29,177.6 279.11,173.43 C274.94,169.26 269.38,165.09 265.21,162.31 C261.04,159.53 256.63,158.83 254.08,156.75 C251.54,154.66 249.45,153.04 249.91,149.79Z" fill="none" stroke="#f6e6e8" stroke-width="5" opacity="0.7" filter="url(#blur2)"/>
</g>
<clipPath id="tc431"><path d="M391.75,137.28 C392.21,133.57 392.44,129.03 395.92,126.15 C399.4,123.28 406.12,120.73 412.61,120.04 C419.1,119.34 428.37,120.5 434.86,121.98 C441.35,123.47 446.44,126.85 451.54,128.94 C456.64,131.02 462.11,131.72 465.45,134.5 C468.79,137.28 471.1,140.99 471.57,145.62 C472.03,150.26 469.71,157.21 468.23,162.31 C466.75,167.41 465.91,172.51 462.67,176.21 C459.42,179.92 453.86,183.4 448.76,184.56 C443.66,185.72 438.1,184.56 432.08,183.17 C426.05,181.78 418.17,179.69 412.61,176.21 C407.05,172.74 401.95,166.94 398.7,162.31 C395.46,157.67 394.3,152.57 393.14,148.4 C391.98,144.23 391.29,140.99 391.75,137.28Z"/></clipPath><g clip-path="url(#tc431)">
<ellipse cx="414.38" cy="154.72" rx="14.2" ry="6.55" fill="#e4929e" opacity="0.35" filter="url(#blur2)"/>
<ellipse cx="414.94" cy="145.15" rx="15.68" ry="9.07" fill="#e4929e" opacity="0.35" filter="url(#blur2)"/>
<ellipse cx="416.17" cy="142.37" rx="8.79" ry="5.47" fill="#e4929e" opacity="0.35" filter="url(#blur2)"/>
<ellipse cx="443.27" cy="140.15" rx="12.45" ry="7.47" fill="#e4929e" opacity="0.35" filter="url(#blur2)"/>
<ellipse cx="421.54" cy="154.8" rx="3.61" ry="3.83" fill="#ffffff" opacity="0.7" filter="url(#blur2)"/>
<ellipse cx="419.18" cy="144.77" rx="3.87" ry="3.1" fill="#ffffff" opacity="0.7" filter="url(#blur2)"/>
<ellipse cx="446.46" cy="157.11" rx="4.16" ry="4.29" fill="#ffffff" opacity="0.7" filter="url(#blur2)"/>
<path d="M391.75,137.28 C392.21,133.57 392.44,129.03 395.92,126.15 C399.4,123.28 406.12,120.73 412.61,120.04 C419.1,119.34 428.37,120.5 434.86,121.98 C441.35,123.47 446.44,126.85 451.54,128.94 C456.64,131.02 462.11,131.72 465.45,134.5 C468.79,137.28 471.1,140.99 471.57,145.62 C472.03,150.26 469.71,157.21 468.23,162.31 C466.75,167.41 465.91,172.51 462.67,176.21 C459.42,179.92 453.86,183.4 448.76,184.56 C443.66,185.72 438.1,184.56 432.08,183.17 C426.05,181.78 418.17,179.69 412.61,176.21 C407.05,172.74 401.95,166.94 398.7,162.31 C395.46,157.67 394.3,152.57 393.14,148.4 C391.98,144.23 391.29,140.99 391.75,137.28Z" fill="none" stroke="#f6e6e8" stroke-width="5" opacity="0.7" filter="url(#blur2)"/>
</g>
<clipPath id="tc581"><path d="M545.56,138.67 C546.26,133.11 547.88,125.23 551.12,120.59 C554.37,115.96 559.93,112.62 565.03,110.86 C570.13,109.1 576.15,108.63 581.72,110.02 C587.28,111.41 593.54,115.59 598.4,119.2 C603.27,122.82 607.67,126.39 610.92,131.72 C614.16,137.05 616.94,144.69 617.87,151.18 C618.8,157.67 617.87,165.09 616.48,170.65 C615.09,176.21 613,180.94 609.53,184.56 C606.05,188.17 600.26,191.19 595.62,192.34 C590.99,193.5 586.35,193.27 581.72,191.51 C577.08,189.75 572.21,185.72 567.81,181.78 C563.41,177.84 558.77,172.51 555.3,167.87 C551.82,163.24 548.58,158.83 546.95,153.97 C545.33,149.1 544.87,144.23 545.56,138.67Z"/></clipPath><g clip-path="url(#tc581)">
<ellipse cx="571.26" cy="147.43" rx="13.41" ry="10.81" fill="#e4929e" opacity="0.35" filter="url(#blur2)"/>
<ellipse cx="567.27" cy="171.92" rx="8.77" ry="8.29" fill="#e4929e" opacity="0.35" filter="url(#blur2)"/>
<ellipse cx="591.58" cy="144.74" rx="9.37" ry="7.07" fill="#e4929e" opacity="0.35" filter="url(#blur2)"/>
<ellipse cx="566.9" cy="155.19" rx="8.99" ry="10.55" fill="#e4929e" opacity="0.35" filter="url(#blur2)"/>
<ellipse cx="578.01" cy="145.74" rx="5.67" ry="4.49" fill="#ffffff" opacity="0.7" filter="url(#blur2)"/>
<ellipse cx="583.87" cy="162.75" rx="3.42" ry="3.67" fill="#ffffff" opacity="0.7" filter="url(#blur2)"/>
<ellipse cx="593.53" cy="160.74" rx="3.61" ry="3.76" fill="#ffffff" opacity="0.7" filter="url(#blur2)"/>
<path d="M545.56,138.67 C546.26,133.11 547.88,125.23 551.12,120.59 C554.37,115.96 559.93,112.62 565.03,110.86 C570.13,109.1 576.15,108.63 581.72,110.02 C587.28,111.41 593.54,115.59 598.4,119.2 C603.27,122.82 607.67,126.39 610.92,131.72 C614.16,137.05 616.94,144.69 617.87,151.18 C618.8,157.67 617.87,165.09 616.48,170.65 C615.09,176.21 613,180.94 609.53,184.56 C606.05,188.17 600.26,191.19 595.62,192.34 C590.99,193.5 586.35,193.27 581.72,191.51 C577.08,189.75 572.21,185.72 567.81,181.78 C563.41,177.84 558.77,172.51 555.3,167.87 C551.82,163.24 548.58,158.83 546.95,153.97 C545.33,149.1 544.87,144.23 545.56,138.67Z" fill="none" stroke="#f6e6e8" stroke-width="5" opacity="0.7" filter="url(#blur2)"/>
</g>
<clipPath id="tc750"><path d="M717.99,148.4 C719.01,142.84 720.77,136.35 723.55,131.72 C726.33,127.08 730.04,123 734.68,120.59 C739.31,118.18 745.8,116.79 751.36,117.25 C756.93,117.72 763.42,120.04 768.05,123.37 C772.69,126.71 776.39,131.72 779.17,137.28 C781.96,142.84 783.25,149.79 784.74,156.75 C786.22,163.7 788.54,171.58 788.07,179 C787.61,186.41 784.83,195.22 781.96,201.24 C779.08,207.27 775.47,212.14 770.83,215.15 C766.2,218.16 759.24,219.55 754.14,219.32 C749.05,219.09 744.87,216.77 740.24,213.76 C735.6,210.75 729.81,206.57 726.33,201.24 C722.86,195.91 720.86,187.8 719.38,181.78 C717.9,175.75 717.67,170.65 717.43,165.09 C717.2,159.53 716.97,153.97 717.99,148.4Z"/></clipPath><g clip-path="url(#tc750)">
<ellipse cx="758.99" cy="189.94" rx="8.45" ry="15.92" fill="#e4929e" opacity="0.35" filter="url(#blur2)"/>
<ellipse cx="764.03" cy="172.75" rx="10.04" ry="9.01" fill="#e4929e" opacity="0.35" filter="url(#blur2)"/>
<ellipse cx="734.24" cy="191.08" rx="8.75" ry="13.92" fill="#e4929e" opacity="0.35" filter="url(#blur2)"/>
<ellipse cx="741.95" cy="183.98" rx="11.28" ry="10.56" fill="#e4929e" opacity="0.35" filter="url(#blur2)"/>
<ellipse cx="741.36" cy="173.6" rx="3.02" ry="4.78" fill="#ffffff" opacity="0.7" filter="url(#blur2)"/>
<ellipse cx="752.21" cy="180.34" rx="4.56" ry="4.94" fill="#ffffff" opacity="0.7" filter="url(#blur2)"/>
<ellipse cx="762.32" cy="147.25" rx="2.87" ry="4.91" fill="#ffffff" opacity="0.7" filter="url(#blur2)"/>
<path d="M717.99,148.4 C719.01,142.84 720.77,136.35 723.55,131.72 C726.33,127.08 730.04,123 734.68,120.59 C739.31,118.18 745.8,116.79 751.36,117.25 C756.93,117.72 763.42,120.04 768.05,123.37 C772.69,126.71 776.39,131.72 779.17,137.28 C781.96,142.84 783.25,149.79 784.74,156.75 C786.22,163.7 788.54,171.58 788.07,179 C787.61,186.41 784.83,195.22 781.96,201.24 C779.08,207.27 775.47,212.14 770.83,215.15 C766.2,218.16 759.24,219.55 754.14,219.32 C749.05,219.09 744.87,216.77 740.24,213.76 C735.6,210.75 729.81,206.57 726.33,201.24 C722.86,195.91 720.86,187.8 719.38,181.78 C717.9,175.75 717.67,170.65 717.43,165.09 C717.2,159.53 716.97,153.97 717.99,148.4Z" fill="none" stroke="#f6e6e8" stroke-width="5" opacity="0.7" filter="url(#blur2)"/>
</g>
<clipPath id="tc919"><path d="M873.73,179 C873.96,176.45 875.12,172.97 877.9,170.65 C880.68,168.33 885.09,167.87 890.42,165.09 C895.75,162.31 904.79,157.44 909.89,153.97 C914.98,150.49 916.84,146.46 921.01,144.23 C925.18,142.01 929.82,140.38 934.92,140.62 C940.01,140.85 947.43,142.93 951.6,145.62 C955.77,148.31 957.86,152.11 959.95,156.75 C962.03,161.38 963.89,166.94 964.12,173.43 C964.35,179.92 963.42,189.66 961.34,195.68 C959.25,201.71 956.01,206.11 951.6,209.59 C947.2,213.06 940.94,215.61 934.92,216.54 C928.89,217.47 921.47,217.24 915.45,215.15 C909.42,213.06 903.4,207.73 898.76,204.03 C894.13,200.32 891.35,195.91 887.64,192.9 C883.93,189.89 878.83,188.27 876.51,185.95 C874.2,183.63 873.5,181.54 873.73,179Z"/></clipPath><g clip-path="url(#tc919)">
<ellipse cx="916.91" cy="161.39" rx="10.63" ry="8.31" fill="#e4929e" opacity="0.35" filter="url(#blur2)"/>
<ellipse cx="922.62" cy="164.09" rx="12.31" ry="11.49" fill="#e4929e" opacity="0.35" filter="url(#blur2)"/>
<ellipse cx="941.07" cy="184.03" rx="15.29" ry="9.62" fill="#e4929e" opacity="0.35" filter="url(#blur2)"/>
<ellipse cx="903.11" cy="160.42" rx="9.2" ry="11.6" fill="#e4929e" opacity="0.35" filter="url(#blur2)"/>
<ellipse cx="926.63" cy="191.85" rx="3.69" ry="4.49" fill="#ffffff" opacity="0.7" filter="url(#blur2)"/>
<ellipse cx="918.72" cy="183.03" rx="4.77" ry="5.31" fill="#ffffff" opacity="0.7" filter="url(#blur2)"/>
<ellipse cx="904" cy="176.03" rx="6.28" ry="5.09" fill="#ffffff" opacity="0.7" filter="url(#blur2)"/>
<path d="M873.73,179 C873.96,176.45 875.12,172.97 877.9,170.65 C880.68,168.33 885.09,167.87 890.42,165.09 C895.75,162.31 904.79,157.44 909.89,153.97 C914.98,150.49 916.84,146.46 921.01,144.23 C925.18,142.01 929.82,140.38 934.92,140.62 C940.01,140.85 947.43,142.93 951.6,145.62 C955.77,148.31 957.86,152.11 959.95,156.75 C962.03,161.38 963.89,166.94 964.12,173.43 C964.35,179.92 963.42,189.66 961.34,195.68 C959.25,201.71 956.01,206.11 951.6,209.59 C947.2,213.06 940.94,215.61 934.92,216.54 C928.89,217.47 921.47,217.24 915.45,215.15 C909.42,213.06 903.4,207.73 898.76,204.03 C894.13,200.32 891.35,195.91 887.64,192.9 C883.93,189.89 878.83,188.27 876.51,185.95 C874.2,183.63 873.5,181.54 873.73,179Z" fill="none" stroke="#f6e6e8" stroke-width="5" opacity="0.7" filter="url(#blur2)"/>
</g>
<path d="M142.84,340.3 C144.14,337.61 147.94,334 151.18,332.51 C154.43,331.03 158.6,330.1 162.31,331.4 C166.02,332.7 169.96,337.89 173.43,340.3 C176.91,342.71 181.54,343.08 183.17,345.86 C184.79,348.64 185.25,354.44 183.17,356.99 C181.08,359.53 175.06,360 170.65,361.16 C166.25,362.32 160.69,364.17 156.75,363.94 C152.81,363.71 149.24,362.32 147.01,359.77 C144.79,357.22 144.09,351.89 143.4,348.64 C142.7,345.4 141.54,342.99 142.84,340.3Z" fill="url(#twhite)"/>
<path d="M269.38,344.47 C270.54,340.53 274.71,334.97 279.11,331.96 C283.52,328.94 289.31,327.32 295.8,326.39 C302.29,325.47 312.02,325 318.05,326.39 C324.08,327.78 329.41,331.03 331.96,334.74 C334.51,338.44 334.27,344.93 333.35,348.64 C332.42,352.35 330.33,354.2 326.39,356.99 C322.45,359.77 314.81,363.57 309.71,365.33 C304.61,367.09 300.44,367.79 295.8,367.55 C291.17,367.32 285.84,365.93 281.9,363.94 C277.96,361.95 274.25,358.84 272.16,355.6 C270.08,352.35 268.22,348.41 269.38,344.47Z" fill="url(#twhite)"/>
<path d="M427.9,340.3 C429.76,336.96 433.7,333.25 437.64,331.4 C441.58,329.55 446.91,328.85 451.54,329.17 C456.18,329.5 461.97,330.57 465.45,333.35 C468.92,336.13 471.38,341.23 472.4,345.86 C473.42,350.5 473.65,357.22 471.57,361.16 C469.48,365.1 464.61,367.65 459.89,369.5 C455.16,371.35 448.07,372.98 443.2,372.28 C438.33,371.59 433.47,368.81 430.68,365.33 C427.9,361.85 426.98,355.6 426.51,351.42 C426.05,347.25 426.05,343.64 427.9,340.3Z" fill="url(#twhite)"/>
<path d="M580.33,354.2 C580.33,352.26 581.95,350.13 584.5,348.64 C587.05,347.16 592.15,345.54 595.62,345.3 C599.1,345.07 603.27,346 605.36,347.25 C607.44,348.5 608.14,350.96 608.14,352.81 C608.14,354.67 607.44,356.99 605.36,358.38 C603.27,359.77 599.1,360.83 595.62,361.16 C592.15,361.48 587.05,361.48 584.5,360.32 C581.95,359.16 580.33,356.15 580.33,354.2Z" fill="url(#twhite)"/>
<path d="M734.68,345.86 C735.37,340.76 737.46,335.2 740.24,331.96 C743.02,328.71 747.66,327.09 751.36,326.39 C755.07,325.7 758.78,326.39 762.49,327.78 C766.2,329.17 770.37,332.19 773.61,334.74 C776.86,337.29 779.64,340.07 781.96,343.08 C784.27,346.09 787.52,349.11 787.52,352.81 C787.52,356.52 784.74,361.62 781.96,365.33 C779.17,369.04 775,373.21 770.83,375.06 C766.66,376.92 761.56,376.78 756.93,376.45 C752.29,376.13 746.5,375.43 743.02,373.12 C739.54,370.8 737.46,367.09 736.07,362.55 C734.68,358.01 733.98,350.96 734.68,345.86Z" fill="url(#twhite)"/>
<path d="M909.89,365.33 C910.35,361.62 911.74,357.22 914.06,354.2 C916.38,351.19 920.32,348.73 923.79,347.25 C927.27,345.77 931.21,345.07 934.92,345.3 C938.62,345.54 942.33,347.25 946.04,348.64 C949.75,350.03 954.94,351.33 957.16,353.65 C959.39,355.97 960.32,359.67 959.39,362.55 C958.46,365.42 954.75,368.57 951.6,370.89 C948.45,373.21 944.19,374.23 940.48,376.45 C936.77,378.68 933.06,383.08 929.35,384.24 C925.65,385.4 921.24,384.7 918.23,383.41 C915.22,382.11 912.67,379.47 911.28,376.45 C909.89,373.44 909.42,369.04 909.89,365.33Z" fill="url(#twhite)"/>
<line x1="102.8" y1="385.6" x2="165" y2="385.6" stroke="#111" stroke-width="3.2"/>
<text transform="translate(67.2,243.89) rotate(-90)" font-size="42.5" fill="#0a0a0a" textLength="153.65" lengthAdjust="spacingAndGlyphs">sh-CON</text>
<text transform="translate(66.4,383.39) rotate(-90)" font-size="42.5" fill="#0a0a0a" textLength="77.19" lengthAdjust="spacingAndGlyphs">sh-1</text>
<clipPath id="kc"><rect x="1154" y="624" width="251" height="251.5"/></clipPath>
<rect x="1154" y="624" width="251" height="251.5" fill="#dce5e7"/>
<g clip-path="url(#kc)"><g filter="url(#cbkc)">
<filter id="cbkc" x="-5%" y="-5%" width="110%" height="110%"><feGaussianBlur stdDeviation="0.8"/></filter>
<path fill="#9fb0cf" opacity="0.8" d="M1164.21 746.45a8.75 6.36 40 1 0 -13.4 -11.24a8.75 6.36 40 1 0 13.4 11.24M1249.12 850.9a6.21 3.33 63 1 0 -5.64 -11.07a6.21 3.33 63 1 0 5.64 11.07M1338.54 731.17a5.32 4.27 99 1 0 1.66 -10.51a5.32 4.27 99 1 0 -1.66 10.51M1353.44 642.63a7.28 4.77 33 1 0 -12.21 -7.93a7.28 4.77 33 1 0 12.21 7.93M1407.77 626.72a7.98 6.67 42 1 0 -11.86 -10.68a7.98 6.67 42 1 0 11.86 10.68M1229.19 874.96a6.93 5.11 52 1 0 -8.53 -10.92a6.93 5.11 52 1 0 8.53 10.92M1395.85 807.81a8.85 7.19 76 1 0 -4.28 -17.17a8.85 7.19 76 1 0 4.28 17.17M1357.64 717.59a5.83 3.8 23 1 0 -10.74 -4.56a5.83 3.8 23 1 0 10.74 4.56M1168.32 800.02a5.88 4.58 160 1 0 11.05 -4.02a5.88 4.58 160 1 0 -11.05 4.02M1178.96 737.76a5.17 4.11 75 1 0 -2.68 -9.99a5.17 4.11 75 1 0 2.68 9.99M1332.99 705.89a5.73 3.81 37 1 0 -9.16 -6.9a5.73 3.81 37 1 0 9.16 6.9M1331.52 628.43a5.22 3.42 166 1 0 10.13 -2.53a5.22 3.42 166 1 0 -10.13 2.53M1203.06 804.36a7.34 3.78 120 1 0 7.34 -12.71a7.34 3.78 120 1 0 -7.34 12.71M1190.21 855.62a5 4.19 123 1 0 5.45 -8.38a5 4.19 123 1 0 -5.45 8.38M1217.59 633.48a8.75 5.32 73 1 0 -5.12 -16.74a8.75 5.32 73 1 0 5.12 16.74M1275.42 658.68a7.3 4.78 75 1 0 -3.78 -14.1a7.3 4.78 75 1 0 3.78 14.1M1354.02 838.84a4.56 3.13 70 1 0 -3.12 -8.57a4.56 3.13 70 1 0 3.12 8.57M1359.84 832.54a7.49 3.81 109 1 0 4.87 -14.16a7.49 3.81 109 1 0 -4.87 14.16M1393.23 663.61a7.25 4.67 41 1 0 -10.94 -9.51a7.25 4.67 41 1 0 10.94 9.51M1171.41 773.66a7.84 6.33 34 1 0 -13 -8.77a7.84 6.33 34 1 0 13 8.77M1267.68 726a5.09 2.58 87 1 0 -0.53 -10.17a5.09 2.58 87 1 0 0.53 10.17M1294.79 636.86a8.39 5.68 116 1 0 7.35 -15.07a8.39 5.68 116 1 0 -7.35 15.07M1244.72 746.3a8.83 4.75 135 1 0 12.49 -12.49a8.83 4.75 135 1 0 -12.49 12.49M1352.95 818.52a4.88 3.99 125 1 0 5.59 -7.99a4.88 3.99 125 1 0 -5.59 7.99M1412.45 676.59a5.31 2.77 9 1 0 -10.49 -1.66a5.31 2.77 9 1 0 10.49 1.66M1398.78 803.2a7.53 5.01 39 1 0 -11.71 -9.48a7.53 5.01 39 1 0 11.71 9.48M1358.34 708.45a6.54 3.82 41 1 0 -9.88 -8.58a6.54 3.82 41 1 0 9.88 8.58M1241.14 706.7a6.61 3.96 119 1 0 6.41 -11.56a6.61 3.96 119 1 0 -6.41 11.56M1168.49 684.4a4.73 3.02 15 1 0 -9.13 -2.45a4.73 3.02 15 1 0 9.13 2.45M1221.96 726.66a5.88 3.04 9 1 0 -11.61 -1.84a5.88 3.04 9 1 0 11.61 1.84M1377.09 885.28a7 3.84 123 1 0 7.62 -11.73a7 3.84 123 1 0 -7.62 11.73M1347.38 692.68a6.31 3.45 137 1 0 9.23 -8.61a6.31 3.45 137 1 0 -9.23 8.61M1264.18 802.32a8.09 6.79 170 1 0 15.94 -2.81a8.09 6.79 170 1 0 -15.94 2.81M1373.08 643.55a7.96 5.04 142 1 0 12.55 -9.8a7.96 5.04 142 1 0 -12.55 9.8M1378.99 797.03a7.92 5.55 113 1 0 6.19 -14.58a7.92 5.55 113 1 0 -6.19 14.58M1176.79 674.5a6.11 3.41 158 1 0 11.33 -4.58a6.11 3.41 158 1 0 -11.33 4.58M1345.44 738.64a6.43 3.97 114 1 0 5.23 -11.75a6.43 3.97 114 1 0 -5.23 11.75M1295.67 720.52a7.88 4.61 90 1 0 -0 -15.76a7.88 4.61 90 1 0 0 15.76M1245.53 659.33a5.57 3.53 24 1 0 -10.18 -4.53a5.57 3.53 24 1 0 10.18 4.53M1151.49 759.85a7.14 4.03 99 1 0 2.23 -14.1a7.14 4.03 99 1 0 -2.23 14.1M1316.5 763.2a8.09 5.07 151 1 0 14.16 -7.85a8.09 5.07 151 1 0 -14.16 7.85M1388.41 802.39a8.93 5.24 25 1 0 -16.18 -7.55a8.93 5.24 25 1 0 16.18 7.55M1232.12 832.34a8.09 4.26 42 1 0 -12.02 -10.82a8.09 4.26 42 1 0 12.02 10.82M1371.54 746.89a4.95 2.81 40 1 0 -7.59 -6.37a4.95 2.81 40 1 0 7.59 6.37M1316.67 871.81a4.96 2.66 16 1 0 -9.55 -2.74a4.96 2.66 16 1 0 9.55 2.74M1209.59 719.52a6.56 4.85 21 1 0 -12.26 -4.7a6.56 4.85 21 1 0 12.26 4.7M1330.98 831.82a7.09 4.28 86 1 0 -0.99 -14.15a7.09 4.28 86 1 0 0.99 14.15M1373.25 845.05a5.6 3.69 33 1 0 -9.4 -6.1a5.6 3.69 33 1 0 9.4 6.1M1272.6 724.93a6.83 3.54 55 1 0 -7.83 -11.18a6.83 3.54 55 1 0 7.83 11.18M1155.04 836.78a5.25 3.25 77 1 0 -2.36 -10.23a5.25 3.25 77 1 0 2.36 10.23M1256.71 880.84a8.97 5.17 107 1 0 5.25 -17.16a8.97 5.17 107 1 0 -5.25 17.16M1225.13 744.9a5.79 4.25 31 1 0 -9.92 -5.96a5.79 4.25 31 1 0 9.92 5.96M1344.5 647.33a7.59 3.89 104 1 0 3.67 -14.74a7.59 3.89 104 1 0 -3.67 14.74M1193.89 682.44a8.64 7.16 7 1 0 -17.15 -2.11a8.64 7.16 7 1 0 17.15 2.11M1159.5 626.17a5.45 3.17 156 1 0 9.96 -4.43a5.45 3.17 156 1 0 -9.96 4.43M1224.62 671.19a8.69 4.58 114 1 0 7.07 -15.88a8.69 4.58 114 1 0 -7.07 15.88M1375.98 722.16a6.03 4.74 123 1 0 6.57 -10.12a6.03 4.74 123 1 0 -6.57 10.12M1340.67 696.15a8.23 5.92 99 1 0 2.58 -16.26a8.23 5.92 99 1 0 -2.58 16.26M1310.73 689.03a5.69 4.59 112 1 0 4.26 -10.54a5.69 4.59 112 1 0 -4.26 10.54M1311.15 771.19a8.56 5.34 31 1 0 -14.67 -8.81a8.56 5.34 31 1 0 14.67 8.81M1261.04 801.78a7.25 5.33 166 1 0 14.07 -3.51a7.25 5.33 166 1 0 -14.07 3.51M1202.67 750.92a8.71 5.4 4 1 0 -17.38 -1.22a8.71 5.4 4 1 0 17.38 1.22M1271.18 804.39a4.89 3.84 176 1 0 9.75 -0.68a4.89 3.84 176 1 0 -9.75 0.68"/>
<path fill="#aebcd6" opacity="0.8" d="M1301.81 782.34a7.68 4.02 90 1 0 -0 -15.37a7.68 4.02 90 1 0 0 15.37M1280.98 703.56a6.67 4.98 14 1 0 -12.93 -3.23a6.67 4.98 14 1 0 12.93 3.23M1194.33 872.62a5.38 4.12 118 1 0 5.06 -9.51a5.38 4.12 118 1 0 -5.06 9.51M1290.63 730.33a5.57 3.94 64 1 0 -4.88 -10.01a5.57 3.94 64 1 0 4.88 10.01M1313.37 665a8.91 6.44 126 1 0 10.47 -14.41a8.91 6.44 126 1 0 -10.47 14.41M1359.79 656.42a7.79 6.49 161 1 0 14.74 -5.07a7.79 6.49 161 1 0 -14.74 5.07M1263.71 886.81a8.34 7.01 116 1 0 7.31 -14.98a8.34 7.01 116 1 0 -7.31 14.98M1242.34 883.53a8.82 6.34 127 1 0 10.62 -14.09a8.82 6.34 127 1 0 -10.62 14.09M1192.45 753.01a6.82 4.72 128 1 0 8.4 -10.75a6.82 4.72 128 1 0 -8.4 10.75M1172.39 827.19a6.1 4.3 8 1 0 -12.08 -1.7a6.1 4.3 8 1 0 12.08 1.7M1233.53 865.63a7.42 5.22 2 1 0 -14.84 -0.52a7.42 5.22 2 1 0 14.84 0.52M1323.09 718.09a5.73 3.56 104 1 0 2.77 -11.12a5.73 3.56 104 1 0 -2.77 11.12M1388.44 673.15a8.4 5.52 93 1 0 0.88 -16.78a8.4 5.52 93 1 0 -0.88 16.78M1281.42 761.81a5.25 4.16 122 1 0 5.56 -8.9a5.25 4.16 122 1 0 -5.56 8.9M1315.39 731.33a7.31 5.63 163 1 0 13.98 -4.27a7.31 5.63 163 1 0 -13.98 4.27M1204.94 812.17a6.18 3.85 71 1 0 -4.03 -11.69a6.18 3.85 71 1 0 4.03 11.69M1229.82 703.2a6.81 5.67 75 1 0 -3.52 -13.15a6.81 5.67 75 1 0 3.52 13.15M1361.43 736.9a8.16 5.91 94 1 0 1.14 -16.28a8.16 5.91 94 1 0 -1.14 16.28M1382.54 763.49a5.96 4.81 144 1 0 9.65 -7.01a5.96 4.81 144 1 0 -9.65 7.01M1260.34 880.12a6.72 4.49 97 1 0 1.64 -13.34a6.72 4.49 97 1 0 -1.64 13.34M1400.55 864.11a7.18 4.24 77 1 0 -3.23 -13.99a7.18 4.24 77 1 0 3.23 13.99M1333.52 787.01a7.79 3.97 89 1 0 -0.27 -15.58a7.79 3.97 89 1 0 0.27 15.58M1322.62 834.09a5.1 2.55 141 1 0 7.92 -6.41a5.1 2.55 141 1 0 -7.92 6.41M1325.13 655.1a7.59 4.3 109 1 0 4.94 -14.36a7.59 4.3 109 1 0 -4.94 14.36M1302.85 807.5a8.79 6.39 98 1 0 2.45 -17.41a8.79 6.39 98 1 0 -2.45 17.41M1256.67 842.55a5.38 3.25 16 1 0 -10.35 -2.97a5.38 3.25 16 1 0 10.35 2.97M1363.37 805.84a6.45 3.87 120 1 0 6.45 -11.17a6.45 3.87 120 1 0 -6.45 11.17M1194.08 778.94a8.15 4.27 58 1 0 -8.64 -13.83a8.15 4.27 58 1 0 8.64 13.83M1315.95 632.85a4.99 3.16 18 1 0 -9.49 -3.08a4.99 3.16 18 1 0 9.49 3.08M1254.79 703.25a7.2 4.83 167 1 0 14.03 -3.24a7.2 4.83 167 1 0 -14.03 3.24M1213.92 841.06a5.78 4.86 60 1 0 -5.78 -10a5.78 4.86 60 1 0 5.78 10M1191.68 672.04a6.71 5.55 169 1 0 13.16 -2.56a6.71 5.55 169 1 0 -13.16 2.56M1147.35 750.05a8.5 6.1 109 1 0 5.54 -16.08a8.5 6.1 109 1 0 -5.54 16.08M1270.13 651.06a5.2 2.89 95 1 0 0.91 -10.35a5.2 2.89 95 1 0 -0.91 10.35M1380.32 746.46a6.98 3.76 41 1 0 -10.54 -9.16a6.98 3.76 41 1 0 10.54 9.16M1323.45 637.12a8.53 5.3 94 1 0 1.19 -17.03a8.53 5.3 94 1 0 -1.19 17.03M1346.01 667.88a5.44 2.8 155 1 0 9.86 -4.6a5.44 2.8 155 1 0 -9.86 4.6M1331.6 690.94a6.58 4.33 174 1 0 13.09 -1.38a6.58 4.33 174 1 0 -13.09 1.38M1187.28 633.49a8.26 6.55 144 1 0 13.36 -9.71a8.26 6.55 144 1 0 -13.36 9.71M1398.46 808.12a5.57 4.35 23 1 0 -10.25 -4.35a5.57 4.35 23 1 0 10.25 4.35M1202.35 754.25a6.31 4.33 21 1 0 -11.78 -4.52a6.31 4.33 21 1 0 11.78 4.52M1199.79 628.39a6.93 4.64 146 1 0 11.49 -7.75a6.93 4.64 146 1 0 -11.49 7.75M1280.74 654.76a4.56 3.48 176 1 0 9.09 -0.64a4.56 3.48 176 1 0 -9.09 0.64M1223.08 753.22a5.62 4.19 73 1 0 -3.29 -10.75a5.62 4.19 73 1 0 3.29 10.75M1352.76 790.25a8.8 6.64 179 1 0 17.59 -0.31a8.8 6.64 179 1 0 -17.59 0.31M1225.31 832.45a6.22 3.39 16 1 0 -11.96 -3.43a6.22 3.39 16 1 0 11.96 3.43M1351.7 767.12a4.62 2.39 33 1 0 -7.76 -5.04a4.62 2.39 33 1 0 7.76 5.04M1256.7 693.2a8.78 4.44 135 1 0 12.42 -12.42a8.78 4.44 135 1 0 -12.42 12.42M1343.82 648.78a6.89 3.86 36 1 0 -11.14 -8.1a6.89 3.86 36 1 0 11.14 8.1M1381.83 726.16a5.47 3.27 51 1 0 -6.89 -8.5a5.47 3.27 51 1 0 6.89 8.5M1355.84 799.03a8.59 4.48 126 1 0 10.1 -13.9a8.59 4.48 126 1 0 -10.1 13.9M1253.62 821.27a5.77 4.74 82 1 0 -1.61 -11.42a5.77 4.74 82 1 0 1.61 11.42M1331.34 757.68a5.78 3.05 22 1 0 -10.72 -4.33a5.78 3.05 22 1 0 10.72 4.33M1316.89 844.39a8.73 5.63 3 1 0 -17.44 -0.91a8.73 5.63 3 1 0 17.44 0.91M1391.79 685.36a4.67 2.48 76 1 0 -2.26 -9.06a4.67 2.48 76 1 0 2.26 9.06M1332.82 843.78a7.82 5.58 53 1 0 -9.42 -12.5a7.82 5.58 53 1 0 9.42 12.5M1279.61 856.2a5.58 4.69 139 1 0 8.42 -7.32a5.58 4.69 139 1 0 -8.42 7.32M1362.64 855.39a7.78 5.02 108 1 0 4.81 -14.79a7.78 5.02 108 1 0 -4.81 14.79M1281.68 857.35a5.86 3.51 154 1 0 10.53 -5.14a5.86 3.51 154 1 0 -10.53 5.14M1190.47 669.88a7.18 5.21 176 1 0 14.32 -1a7.18 5.21 176 1 0 -14.32 1M1345.15 638a6.68 5.29 18 1 0 -12.71 -4.13a6.68 5.29 18 1 0 12.71 4.13M1248.98 763.93a6.19 3.35 152 1 0 10.93 -5.81a6.19 3.35 152 1 0 -10.93 5.81M1190.29 622.77a6.21 3.85 18 1 0 -11.82 -3.84a6.21 3.85 18 1 0 11.82 3.84M1343.7 812.11a5.83 3.15 122 1 0 6.18 -9.89a5.83 3.15 122 1 0 -6.18 9.89M1156.61 633.66a7.96 5.13 110 1 0 5.45 -14.97a7.96 5.13 110 1 0 -5.45 14.97M1193.57 628.53a8.23 6.88 153 1 0 14.66 -7.47a8.23 6.88 153 1 0 -14.66 7.47M1197.37 737.01a5.7 4.35 95 1 0 0.99 -11.36a5.7 4.35 95 1 0 -0.99 11.36M1172.81 656.18a7.4 4.67 94 1 0 1.03 -14.76a7.4 4.67 94 1 0 -1.03 14.76M1298.72 739.88a8.42 7.05 35 1 0 -13.79 -9.66a8.42 7.05 35 1 0 13.79 9.66M1354.42 641.23a6.75 3.47 98 1 0 1.88 -13.37a6.75 3.47 98 1 0 -1.88 13.37M1356.67 768.07a6.48 3.47 31 1 0 -11.11 -6.67a6.48 3.47 31 1 0 11.11 6.67M1296.18 698.57a7.12 5.04 99 1 0 2.23 -14.07a7.12 5.04 99 1 0 -2.23 14.07M1300.36 769.37a4.69 3.56 29 1 0 -8.2 -4.55a4.69 3.56 29 1 0 8.2 4.55M1365.62 875.56a7.56 4.5 103 1 0 3.4 -14.73a7.56 4.5 103 1 0 -3.4 14.73M1385.64 745.59a5.2 2.99 67 1 0 -4.06 -9.57a5.2 2.99 67 1 0 4.06 9.57M1266.21 785.57a7.43 4.17 35 1 0 -12.17 -8.52a7.43 4.17 35 1 0 12.17 8.52M1213.32 670.5a6.99 4.11 80 1 0 -2.43 -13.76a6.99 4.11 80 1 0 2.43 13.76M1305.5 675.65a6.41 5.11 132 1 0 8.58 -9.53a6.41 5.11 132 1 0 -8.58 9.53"/>
<path fill="#8c9fc2" opacity="0.8" d="M1303.49 814.45a8.08 6.7 166 1 0 15.68 -3.91a8.08 6.7 166 1 0 -15.68 3.91M1244.71 668.09a5.16 2.7 77 1 0 -2.32 -10.05a5.16 2.7 77 1 0 2.32 10.05M1410.41 626.48a7.87 6.27 4 1 0 -15.71 -1.1a7.87 6.27 4 1 0 15.71 1.1M1361 716.38a7.1 3.57 11 1 0 -13.95 -2.71a7.1 3.57 11 1 0 13.95 2.71M1277.86 854.47a5.63 3.73 150 1 0 9.75 -5.63a5.63 3.73 150 1 0 -9.75 5.63M1229.62 778.66a8.63 5.34 179 1 0 17.26 -0.3a8.63 5.34 179 1 0 -17.26 0.3M1343.05 702.55a6.68 5.02 20 1 0 -12.55 -4.57a6.68 5.02 20 1 0 12.55 4.57M1238.38 803.21a5.76 3.86 176 1 0 11.5 -0.8a5.76 3.86 176 1 0 -11.5 0.8M1287.04 690.98a7.52 4.98 128 1 0 9.26 -11.86a7.52 4.98 128 1 0 -9.26 11.86M1322.48 810.88a7.79 4.36 148 1 0 13.21 -8.25a7.79 4.36 148 1 0 -13.21 8.25M1297.8 729.7a6.08 4.45 18 1 0 -11.56 -3.76a6.08 4.45 18 1 0 11.56 3.76M1369.06 803.23a6.96 5.83 140 1 0 10.67 -8.95a6.96 5.83 140 1 0 -10.67 8.95M1192.64 778.58a7.04 5.88 34 1 0 -11.67 -7.87a7.04 5.88 34 1 0 11.67 7.87M1174.44 840.53a7.48 4.74 83 1 0 -1.82 -14.84a7.48 4.74 83 1 0 1.82 14.84M1396.59 826.43a5.61 3.33 39 1 0 -8.71 -7.06a5.61 3.33 39 1 0 8.71 7.06M1399.12 697.96a7.24 4.82 165 1 0 13.98 -3.75a7.24 4.82 165 1 0 -13.98 3.75M1379.5 856.6a4.57 2.49 72 1 0 -2.83 -8.7a4.57 2.49 72 1 0 2.83 8.7M1187.68 751.08a6.97 4.7 84 1 0 -1.46 -13.87a6.97 4.7 84 1 0 1.46 13.87M1411.21 805.89a4.72 3.75 56 1 0 -5.28 -7.83a4.72 3.75 56 1 0 5.28 7.83M1319.37 874.52a7.71 4.22 74 1 0 -4.25 -14.81a7.71 4.22 74 1 0 4.25 14.81M1381.15 656.58a5.83 4.07 173 1 0 11.57 -1.42a5.83 4.07 173 1 0 -11.57 1.42M1231.88 866.36a6.97 4.03 16 1 0 -13.41 -3.84a6.97 4.03 16 1 0 13.41 3.84M1287.7 727.67a8.32 6.91 109 1 0 5.42 -15.73a8.32 6.91 109 1 0 -5.42 15.73M1186.73 788.21a6.09 3.55 85 1 0 -1.06 -12.14a6.09 3.55 85 1 0 1.06 12.14M1332.57 832.77a6.2 4.67 91 1 0 0.22 -12.4a6.2 4.67 91 1 0 -0.22 12.4M1235.36 785.21a8.83 5.53 9 1 0 -17.43 -2.76a8.83 5.53 9 1 0 17.43 2.76M1200.91 631.89a5.54 2.92 102 1 0 2.3 -10.83a5.54 2.92 102 1 0 -2.3 10.83M1363.26 645.44a8.93 4.97 19 1 0 -16.89 -5.82a8.93 4.97 19 1 0 16.89 5.82M1201.11 690.22a7.54 4.52 16 1 0 -14.5 -4.16a7.54 4.52 16 1 0 14.5 4.16M1274.29 736.92a6.49 4.99 41 1 0 -9.79 -8.51a6.49 4.99 41 1 0 9.79 8.51M1271.27 751.83a4.51 2.45 107 1 0 2.64 -8.62a4.51 2.45 107 1 0 -2.64 8.62M1161.02 877.69a4.65 3.26 123 1 0 5.06 -7.8a4.65 3.26 123 1 0 -5.06 7.8M1326.11 851.24a7.3 5.7 96 1 0 1.53 -14.53a7.3 5.7 96 1 0 -1.53 14.53M1229.13 632.08a5.9 3.74 121 1 0 6.08 -10.12a5.9 3.74 121 1 0 -6.08 10.12M1323.26 724.03a8.92 7.01 177 1 0 17.82 -0.93a8.92 7.01 177 1 0 -17.82 0.93M1245.8 622.18a6.26 3.52 167 1 0 12.19 -2.81a6.26 3.52 167 1 0 -12.19 2.81M1389.45 859.49a7.26 4.61 27 1 0 -12.94 -6.59a7.26 4.61 27 1 0 12.94 6.59M1309.44 822.14a5.51 2.88 144 1 0 8.92 -6.48a5.51 2.88 144 1 0 -8.92 6.48M1193.98 630.11a5.02 3.5 154 1 0 9.02 -4.4a5.02 3.5 154 1 0 -9.02 4.4M1192.82 741.66a6.23 5.08 178 1 0 12.45 -0.43a6.23 5.08 178 1 0 -12.45 0.43M1171.32 666.17a7.27 3.9 112 1 0 5.45 -13.48a7.27 3.9 112 1 0 -5.45 13.48M1229.52 823.13a5.32 4.33 140 1 0 8.16 -6.84a5.32 4.33 140 1 0 -8.16 6.84M1340.85 675.54a6.05 3.32 127 1 0 7.28 -9.66a6.05 3.32 127 1 0 -7.28 9.66M1278.19 634.19a6.39 3.73 170 1 0 12.59 -2.22a6.39 3.73 170 1 0 -12.59 2.22M1172.43 693.88a4.93 3.29 46 1 0 -6.85 -7.1a4.93 3.29 46 1 0 6.85 7.1M1154.01 824.26a6.12 3.1 64 1 0 -5.37 -11.01a6.12 3.1 64 1 0 5.37 11.01M1404.5 741.13a6.62 3.51 71 1 0 -4.31 -12.53a6.62 3.51 71 1 0 4.31 12.53M1396.1 804.98a6.79 3.52 100 1 0 2.36 -13.36a6.79 3.52 100 1 0 -2.36 13.36M1254.44 776.67a8.56 6.21 162 1 0 16.28 -5.29a8.56 6.21 162 1 0 -16.28 5.29M1343.94 659.56a6.83 5.75 179 1 0 13.66 -0.24a6.83 5.75 179 1 0 -13.66 0.24M1148.4 624.36a6.23 3.64 170 1 0 12.28 -2.16a6.23 3.64 170 1 0 -12.28 2.16M1342.19 763.27a6.25 5.15 76 1 0 -3.02 -12.13a6.25 5.15 76 1 0 3.02 12.13M1253.19 726.06a6.55 3.42 0 1 0 -13.11 -0a6.55 3.42 0 1 0 13.11 0M1154.25 732.61a6.36 4.36 113 1 0 4.97 -11.7a6.36 4.36 113 1 0 -4.97 11.7M1291.85 759.86a7.63 5.7 175 1 0 15.21 -1.33a7.63 5.7 175 1 0 -15.21 1.33M1169.15 641.74a6.57 4.78 138 1 0 9.77 -8.79a6.57 4.78 138 1 0 -9.77 8.79M1213.98 700.85a4.51 3.45 132 1 0 6.03 -6.7a4.51 3.45 132 1 0 -6.03 6.7M1399.82 674.94a4.9 3.05 20 1 0 -9.2 -3.35a4.9 3.05 20 1 0 9.2 3.35M1266.25 771.69a6.76 5.63 55 1 0 -7.76 -11.08a6.76 5.63 55 1 0 7.76 11.08"/>
<path fill="#5f7fc2" opacity="0.9" d="M1165.16 877.32a5.54 3.72 66 1 0 -4.5 -10.12a5.54 3.72 66 1 0 4.5 10.12M1412.92 726.76a4.26 2.02 10 1 0 -8.4 -1.48a4.26 2.02 10 1 0 8.4 1.48M1353.09 858.39a6.03 2.93 106 1 0 3.32 -11.58a6.03 2.93 106 1 0 -3.32 11.58M1394.45 870.66a5.86 2.85 62 1 0 -5.51 -10.36a5.86 2.85 62 1 0 5.51 10.36M1187.76 785.67a5.83 3.45 154 1 0 10.47 -5.11a5.83 3.45 154 1 0 -10.47 5.11M1296.04 688.7a5.43 2.54 142 1 0 8.55 -6.68a5.43 2.54 142 1 0 -8.55 6.68M1251.05 821.34a5.16 2.67 8 1 0 -10.22 -1.44a5.16 2.67 8 1 0 10.22 1.44M1330.07 785.24a7.18 3.63 126 1 0 8.45 -11.62a7.18 3.63 126 1 0 -8.45 11.62M1292.71 750.24a5.86 3.4 58 1 0 -6.21 -9.94a5.86 3.4 58 1 0 6.21 9.94M1385.85 855.17a5.88 3.24 19 1 0 -11.11 -3.83a5.88 3.24 19 1 0 11.11 3.83M1200.61 766.01a7.55 3.85 101 1 0 2.88 -14.82a7.55 3.85 101 1 0 -2.88 14.82M1396.4 819.52a6.8 4.17 83 1 0 -1.66 -13.51a6.8 4.17 83 1 0 1.66 13.51M1228.71 835.46a4.28 2.73 56 1 0 -4.79 -7.1a4.28 2.73 56 1 0 4.79 7.1M1226 843.14a7.12 3.97 173 1 0 14.12 -1.73a7.12 3.97 173 1 0 -14.12 1.73M1383.06 851.78a7.06 5.33 174 1 0 14.04 -1.48a7.06 5.33 174 1 0 -14.04 1.48M1364.24 777.25a4.29 2.5 105 1 0 2.22 -8.29a4.29 2.5 105 1 0 -2.22 8.29M1327.13 744.15a4.39 3.3 83 1 0 -1.07 -8.72a4.39 3.3 83 1 0 1.07 8.72M1225.2 745.06a7.56 4.79 131 1 0 9.92 -11.41a7.56 4.79 131 1 0 -9.92 11.41M1180.8 699.34a6.27 4.12 179 1 0 12.54 -0.22a6.27 4.12 179 1 0 -12.54 0.22M1370.31 648.71a5.75 3.14 87 1 0 -0.6 -11.49a5.75 3.14 87 1 0 0.6 11.49M1181.08 707.69a5.39 4.02 3 1 0 -10.77 -0.56a5.39 4.02 3 1 0 10.77 0.56M1173.88 801.36a4.48 3.42 162 1 0 8.52 -2.77a4.48 3.42 162 1 0 -8.52 2.77M1338.53 750.89a4.04 2.25 59 1 0 -4.16 -6.93a4.04 2.25 59 1 0 4.16 6.93M1337.87 817.38a7.65 4.93 98 1 0 2.13 -15.15a7.65 4.93 98 1 0 -2.13 15.15M1227.51 631.98a5.04 3.08 30 1 0 -8.73 -5.04a5.04 3.08 30 1 0 8.73 5.04M1394.37 703.07a4.96 3.3 1 1 0 -9.93 -0.17a4.96 3.3 1 1 0 9.93 0.17M1190.26 738.51a6.24 3.23 26 1 0 -11.22 -5.47a6.24 3.23 26 1 0 11.22 5.47M1249.34 856.32a4.32 2.47 177 1 0 8.62 -0.45a4.32 2.47 177 1 0 -8.62 0.45M1386.06 639.65a7.95 4.69 153 1 0 14.17 -7.22a7.95 4.69 153 1 0 -14.17 7.22M1392.41 646.67a7.11 4.82 138 1 0 10.57 -9.51a7.11 4.82 138 1 0 -10.57 9.51M1322.46 657.35a7.99 4.63 101 1 0 3.05 -15.69a7.99 4.63 101 1 0 -3.05 15.69M1238.81 842.19a5.24 2.96 59 1 0 -5.4 -8.99a5.24 2.96 59 1 0 5.4 8.99M1347.27 709.36a4.35 2.71 76 1 0 -2.1 -8.44a4.35 2.71 76 1 0 2.1 8.44M1267.04 867.29a5.75 4.18 164 1 0 11.06 -3.17a5.75 4.18 164 1 0 -11.06 3.17M1358.2 807.8a4.77 2.84 40 1 0 -7.31 -6.14a4.77 2.84 40 1 0 7.31 6.14M1161.73 780.88a5.29 3.59 65 1 0 -4.47 -9.58a5.29 3.59 65 1 0 4.47 9.58M1374.01 882.4a7.15 4.79 49 1 0 -9.38 -10.8a7.15 4.79 49 1 0 9.38 10.8M1182.86 750.12a5.47 3.71 127 1 0 6.58 -8.74a5.47 3.71 127 1 0 -6.58 8.74M1312.99 783.54a5.63 3.06 174 1 0 11.2 -1.18a5.63 3.06 174 1 0 -11.2 1.18M1350.23 796.87a5.7 4.34 6 1 0 -11.34 -1.19a5.7 4.34 6 1 0 11.34 1.19M1320.84 794.43a7.96 4.53 99 1 0 2.49 -15.73a7.96 4.53 99 1 0 -2.49 15.73M1185.72 800a4.28 3.2 37 1 0 -6.84 -5.15a4.28 3.2 37 1 0 6.84 5.15M1163.34 768.78a6.7 3.76 148 1 0 11.37 -7.1a6.7 3.76 148 1 0 -11.37 7.1M1360.38 772.2a6.55 4.24 24 1 0 -11.97 -5.33a6.55 4.24 24 1 0 11.97 5.33M1198.14 736.61a4.67 2.51 85 1 0 -0.81 -9.3a4.67 2.51 85 1 0 0.81 9.3M1369.3 676.31a5.71 3.08 11 1 0 -11.2 -2.18a5.71 3.08 11 1 0 11.2 2.18M1247.41 735.39a5.48 4.38 50 1 0 -7.04 -8.39a5.48 4.38 50 1 0 7.04 8.39M1246.1 858.61a5.74 4.19 161 1 0 10.86 -3.74a5.74 4.19 161 1 0 -10.86 3.74M1221 715.23a6.03 3.05 100 1 0 2.09 -11.88a6.03 3.05 100 1 0 -2.09 11.88M1148.86 704.09a7.75 5.79 101 1 0 2.96 -15.21a7.75 5.79 101 1 0 -2.96 15.21M1341.34 693.29a4.25 3.09 22 1 0 -7.88 -3.18a4.25 3.09 22 1 0 7.88 3.18M1212.34 798.37a6.46 3.74 171 1 0 12.76 -2.02a6.46 3.74 171 1 0 -12.76 2.02M1389.07 877.3a6.11 4.15 172 1 0 12.1 -1.7a6.11 4.15 172 1 0 -12.1 1.7M1354.11 805.75a6.03 3.62 169 1 0 11.84 -2.3a6.03 3.62 169 1 0 -11.84 2.3M1316.86 746.99a7.61 5.79 2 1 0 -15.22 -0.53a7.61 5.79 2 1 0 15.22 0.53"/>
<path fill="#5274ba" opacity="0.9" d="M1231.53 650.08a6.53 4.87 149 1 0 11.19 -6.72a6.53 4.87 149 1 0 -11.19 6.72M1185.48 700.53a5.82 4.29 10 1 0 -11.45 -2.02a5.82 4.29 10 1 0 11.45 2.02M1381.57 877.93a4.53 3.08 46 1 0 -6.3 -6.52a4.53 3.08 46 1 0 6.3 6.52M1270.93 654.75a4.81 3.81 129 1 0 6.05 -7.48a4.81 3.81 129 1 0 -6.05 7.48M1360.77 808.55a7.57 4.81 0 1 0 -15.13 -0a7.57 4.81 0 1 0 15.13 0M1343.26 803.83a6.45 3.95 158 1 0 11.96 -4.83a6.45 3.95 158 1 0 -11.96 4.83M1157.86 639.72a4.75 3.59 100 1 0 1.65 -9.36a4.75 3.59 100 1 0 -1.65 9.36M1377.68 663.87a7.84 4.28 134 1 0 10.9 -11.28a7.84 4.28 134 1 0 -10.9 11.28M1352.8 734.09a6.64 4.52 113 1 0 5.19 -12.22a6.64 4.52 113 1 0 -5.19 12.22M1209.22 772.35a6.86 5.17 11 1 0 -13.48 -2.62a6.86 5.17 11 1 0 13.48 2.62M1321.22 778.5a4.38 3.09 104 1 0 2.12 -8.49a4.38 3.09 104 1 0 -2.12 8.49M1161.12 642.49a6.51 3.58 168 1 0 12.73 -2.71a6.51 3.58 168 1 0 -12.73 2.71M1179.59 722.79a4.78 2.47 103 1 0 2.15 -9.31a4.78 2.47 103 1 0 -2.15 9.31M1359.1 680.36a5.82 2.69 31 1 0 -9.98 -6a5.82 2.69 31 1 0 9.98 6M1219.7 667.41a5.08 2.4 44 1 0 -7.31 -7.06a5.08 2.4 44 1 0 7.31 7.06M1298.13 705.33a5.57 3.13 162 1 0 10.6 -3.44a5.57 3.13 162 1 0 -10.6 3.44M1376.64 825.34a5.18 2.6 2 1 0 -10.36 -0.36a5.18 2.6 2 1 0 10.36 0.36M1325.23 775.68a5.13 3.62 52 1 0 -6.31 -8.08a5.13 3.62 52 1 0 6.31 8.08M1176.97 779.28a6.82 4.82 124 1 0 7.63 -11.31a6.82 4.82 124 1 0 -7.63 11.31M1397.75 880.04a4.06 1.85 42 1 0 -6.03 -5.43a4.06 1.85 42 1 0 6.03 5.43M1260.8 836.37a6.71 3.4 98 1 0 1.87 -13.28a6.71 3.4 98 1 0 -1.87 13.28M1394.22 741.16a6.27 4.99 82 1 0 -1.74 -12.41a6.27 4.99 82 1 0 1.74 12.41M1366.79 658.26a5.95 3.96 178 1 0 11.89 -0.42a5.95 3.96 178 1 0 -11.89 0.42M1167.91 869.85a5.27 3.3 10 1 0 -10.39 -1.83a5.27 3.3 10 1 0 10.39 1.83M1194.25 861.81a5.11 2.83 171 1 0 10.09 -1.6a5.11 2.83 171 1 0 -10.09 1.6M1261.84 679.63a5.74 3.22 38 1 0 -9.05 -7.07a5.74 3.22 38 1 0 9.05 7.07M1163.06 800.39a7.46 3.62 76 1 0 -3.61 -14.47a7.46 3.62 76 1 0 3.61 14.47M1339 833.99a4.03 2.24 119 1 0 3.9 -7.04a4.03 2.24 119 1 0 -3.9 7.04M1345.42 878.68a4.4 2.78 19 1 0 -8.31 -2.86a4.4 2.78 19 1 0 8.31 2.86M1285.27 801.4a6.69 4.23 93 1 0 0.7 -13.36a6.69 4.23 93 1 0 -0.7 13.36M1240.51 684.81a5.25 3.27 53 1 0 -6.32 -8.39a5.25 3.27 53 1 0 6.32 8.39M1412.28 733.73a6.69 4.1 13 1 0 -13.03 -3.01a6.69 4.1 13 1 0 13.03 3.01M1385.48 800.85a4.16 2.38 88 1 0 -0.29 -8.31a4.16 2.38 88 1 0 0.29 8.31M1222.34 778.23a6.01 3.73 174 1 0 11.96 -1.26a6.01 3.73 174 1 0 -11.96 1.26M1388.9 803.71a7.56 3.7 134 1 0 10.5 -10.88a7.56 3.7 134 1 0 -10.5 10.88M1230.28 877.84a6.63 4.08 143 1 0 10.59 -7.98a6.63 4.08 143 1 0 -10.59 7.98M1274.55 856.12a4.27 2.34 160 1 0 8.02 -2.92a4.27 2.34 160 1 0 -8.02 2.92M1332.79 694.13a4.01 2.63 53 1 0 -4.83 -6.4a4.01 2.63 53 1 0 4.83 6.4M1306.02 854.48a6.02 3.75 28 1 0 -10.62 -5.65a6.02 3.75 28 1 0 10.62 5.65M1393.39 774.8a4.6 2.39 161 1 0 8.69 -2.99a4.6 2.39 161 1 0 -8.69 2.99M1376.58 804.54a5.5 2.7 28 1 0 -9.72 -5.17a5.5 2.7 28 1 0 9.72 5.17M1269.23 695.1a5.46 4.24 118 1 0 5.12 -9.64a5.46 4.24 118 1 0 -5.12 9.64M1307.96 630.46a7.51 5.83 122 1 0 7.96 -12.74a7.51 5.83 122 1 0 -7.96 12.74M1159.3 629.39a6.99 5.43 39 1 0 -10.87 -8.8a6.99 5.43 39 1 0 10.87 8.8M1195.53 801.93a6.09 3.36 65 1 0 -5.15 -11.04a6.09 3.36 65 1 0 5.15 11.04M1404.65 822.84a5.04 3.98 20 1 0 -9.47 -3.45a5.04 3.98 20 1 0 9.47 3.45M1180.03 876.86a5.47 4.06 128 1 0 6.74 -8.62a5.47 4.06 128 1 0 -6.74 8.62M1218.12 667.6a5.41 4 98 1 0 1.51 -10.71a5.41 4 98 1 0 -1.51 10.71M1171.89 824.34a5.39 3.59 137 1 0 7.89 -7.35a5.39 3.59 137 1 0 -7.89 7.35M1299.53 796.14a4.97 2.67 37 1 0 -7.94 -5.99a4.97 2.67 37 1 0 7.94 5.99M1397.56 634.57a4.57 3.24 95 1 0 0.8 -9.11a4.57 3.24 95 1 0 -0.8 9.11M1195.22 800.05a5.43 3.31 149 1 0 9.3 -5.59a5.43 3.31 149 1 0 -9.3 5.59M1262 752.91a5.58 3.42 83 1 0 -1.36 -11.08a5.58 3.42 83 1 0 1.36 11.08M1204.56 647.01a6.22 4.11 125 1 0 7.14 -10.19a6.22 4.11 125 1 0 -7.14 10.19M1237.35 737.79a4.86 2.78 82 1 0 -1.35 -9.62a4.86 2.78 82 1 0 1.35 9.62M1248.7 828.12a5.55 4.1 76 1 0 -2.69 -10.77a5.55 4.1 76 1 0 2.69 10.77M1321.37 698.03a7.04 4 108 1 0 4.35 -13.39a7.04 4 108 1 0 -4.35 13.39M1329.54 821.64a6.81 4.86 87 1 0 -0.71 -13.6a6.81 4.86 87 1 0 0.71 13.6M1259.75 858.39a7.24 3.96 24 1 0 -13.23 -5.89a7.24 3.96 24 1 0 13.23 5.89M1206.18 828.05a6.03 4.29 53 1 0 -7.26 -9.63a6.03 4.29 53 1 0 7.26 9.63M1375.8 868.92a7.76 3.66 46 1 0 -10.78 -11.16a7.76 3.66 46 1 0 10.78 11.16M1218.73 656.89a7.55 4.31 146 1 0 12.52 -8.44a7.55 4.31 146 1 0 -12.52 8.44M1348.7 754.03a6.78 3.57 150 1 0 11.74 -6.78a6.78 3.57 150 1 0 -11.74 6.78M1403.09 824.79a6.44 4.59 136 1 0 9.27 -8.95a6.44 4.59 136 1 0 -9.27 8.95M1376.88 761.11a5.7 2.94 164 1 0 10.96 -3.14a5.7 2.94 164 1 0 -10.96 3.14M1339.83 675.92a5.96 3.24 52 1 0 -7.34 -9.4a5.96 3.24 52 1 0 7.34 9.4"/>
<path fill="#6d88c0" opacity="0.9" d="M1214.16 629.82a6.26 3.45 27 1 0 -11.16 -5.68a6.26 3.45 27 1 0 11.16 5.68M1232.4 770a7.19 4.84 65 1 0 -6.08 -13.04a7.19 4.84 65 1 0 6.08 13.04M1406.46 658.88a4.67 2.25 114 1 0 3.8 -8.53a4.67 2.25 114 1 0 -3.8 8.53M1314.67 844.51a4.65 3.23 26 1 0 -8.36 -4.08a4.65 3.23 26 1 0 8.36 4.08M1199.9 631.33a6.31 3.9 125 1 0 7.24 -10.34a6.31 3.9 125 1 0 -7.24 10.34M1358.77 777.69a5.84 4.5 134 1 0 8.12 -8.41a5.84 4.5 134 1 0 -8.12 8.41M1324.81 727.39a4.41 2.63 58 1 0 -4.67 -7.48a4.41 2.63 58 1 0 4.67 7.48M1385.26 677.1a4.94 2.34 128 1 0 6.09 -7.79a4.94 2.34 128 1 0 -6.09 7.79M1162.9 851.72a7.96 4.14 16 1 0 -15.3 -4.39a7.96 4.14 16 1 0 15.3 4.39M1224.07 740.43a4.28 2.94 62 1 0 -4.02 -7.57a4.28 2.94 62 1 0 4.02 7.57M1194.8 786.97a5.7 4.53 53 1 0 -6.86 -9.1a5.7 4.53 53 1 0 6.86 9.1M1331.66 743.86a7.49 3.52 58 1 0 -7.93 -12.7a7.49 3.52 58 1 0 7.93 12.7M1396.14 652.85a4.25 2.39 9 1 0 -8.4 -1.33a4.25 2.39 9 1 0 8.4 1.33M1364.2 787.07a7.39 3.78 121 1 0 7.61 -12.67a7.39 3.78 121 1 0 -7.61 12.67M1334.87 850.34a6.67 3.06 29 1 0 -11.67 -6.47a6.67 3.06 29 1 0 11.67 6.47M1204.02 633.53a5.9 3.08 57 1 0 -6.43 -9.9a5.9 3.08 57 1 0 6.43 9.9M1350.11 858.65a6.34 4.9 89 1 0 -0.22 -12.67a6.34 4.9 89 1 0 0.22 12.67M1315.19 703.34a5.12 3.14 153 1 0 9.12 -4.65a5.12 3.14 153 1 0 -9.12 4.65M1391.24 670.94a6.19 3.21 41 1 0 -9.34 -8.12a6.19 3.21 41 1 0 9.34 8.12M1205.74 823.75a5.03 3.15 44 1 0 -7.24 -6.99a5.03 3.15 44 1 0 7.24 6.99M1384.05 872.07a7.02 3.98 111 1 0 5.03 -13.12a7.02 3.98 111 1 0 -5.03 13.12M1329.13 873.08a5.97 3.72 168 1 0 11.69 -2.48a5.97 3.72 168 1 0 -11.69 2.48M1267.92 642.4a5.98 4.62 59 1 0 -6.16 -10.26a5.98 4.62 59 1 0 6.16 10.26M1235 826.32a7.77 4.46 63 1 0 -7.05 -13.84a7.77 4.46 63 1 0 7.05 13.84M1172.27 766.66a5.01 3.19 161 1 0 9.48 -3.26a5.01 3.19 161 1 0 -9.48 3.26M1381.92 858.52a4.6 3.66 141 1 0 7.15 -5.79a4.6 3.66 141 1 0 -7.15 5.79M1217.85 740.05a7.85 3.55 122 1 0 8.32 -13.32a7.85 3.55 122 1 0 -8.32 13.32M1367.14 747.59a4.27 2.05 148 1 0 7.25 -4.53a4.27 2.05 148 1 0 -7.25 4.53M1167.5 736.35a7.35 4.83 53 1 0 -8.84 -11.74a7.35 4.83 53 1 0 8.84 11.74M1175.53 742.25a4.29 2.62 171 1 0 8.47 -1.34a4.29 2.62 171 1 0 -8.47 1.34M1369.07 869.04a6.91 3.29 71 1 0 -4.5 -13.06a6.91 3.29 71 1 0 4.5 13.06M1371.24 677.66a4.72 3.3 7 1 0 -9.37 -1.15a4.72 3.3 7 1 0 9.37 1.15M1339.95 769.58a6.8 4.89 5 1 0 -13.54 -1.18a6.8 4.89 5 1 0 13.54 1.18M1323.52 822.34a6.76 5.37 81 1 0 -2.12 -13.36a6.76 5.37 81 1 0 2.12 13.36M1227.12 786.79a6.95 3.91 67 1 0 -5.43 -12.79a6.95 3.91 67 1 0 5.43 12.79M1200.65 835.59a6.13 4.77 84 1 0 -1.28 -12.2a6.13 4.77 84 1 0 1.28 12.2M1205.02 717.15a7.93 4.1 169 1 0 15.57 -3.03a7.93 4.1 169 1 0 -15.57 3.03M1223.09 815.88a7.62 5.01 56 1 0 -8.52 -12.63a7.62 5.01 56 1 0 8.52 12.63M1244.82 846.99a4.7 3 176 1 0 9.37 -0.66a4.7 3 176 1 0 -9.37 0.66M1211.57 673.44a6.6 4.22 169 1 0 12.96 -2.52a6.6 4.22 169 1 0 -12.96 2.52M1408.66 859.84a7.88 3.88 32 1 0 -13.36 -8.35a7.88 3.88 32 1 0 13.36 8.35M1347.44 681.57a4.7 2.38 169 1 0 9.23 -1.79a4.7 2.38 169 1 0 -9.23 1.79M1322.3 673.57a6.63 5.18 11 1 0 -13.02 -2.53a6.63 5.18 11 1 0 13.02 2.53M1235.95 682.95a4.44 3.38 119 1 0 4.31 -7.77a4.44 3.38 119 1 0 -4.31 7.77M1167.14 719a4.29 3.31 142 1 0 6.75 -5.28a4.29 3.31 142 1 0 -6.75 5.28M1337.4 814.63a5.07 3.03 97 1 0 1.24 -10.06a5.07 3.03 97 1 0 -1.24 10.06M1282.77 630.38a5.99 2.83 84 1 0 -1.25 -11.92a5.99 2.83 84 1 0 1.25 11.92M1264.34 870.84a7.21 3.58 171 1 0 14.23 -2.25a7.21 3.58 171 1 0 -14.23 2.25M1285.39 694.27a6.14 4.84 178 1 0 12.26 -0.43a6.14 4.84 178 1 0 -12.26 0.43M1346.34 710.73a5.58 2.99 145 1 0 9.15 -6.4a5.58 2.99 145 1 0 -9.15 6.4M1177.32 627.38a6.32 3.02 10 1 0 -12.44 -2.19a6.32 3.02 10 1 0 12.44 2.19M1299.23 735.99a6.15 3.37 151 1 0 10.75 -5.96a6.15 3.37 151 1 0 -10.75 5.96M1293.32 646.13a5.03 3.62 142 1 0 7.93 -6.2a5.03 3.62 142 1 0 -7.93 6.2M1401.71 784.4a5.97 3.64 161 1 0 11.29 -3.89a5.97 3.64 161 1 0 -11.29 3.89"/>
<path fill="#5d6f98" opacity="0.9" d="M1256.07 709.83a4.38 2.07 86 1 0 -0.61 -8.75a4.38 2.07 86 1 0 0.61 8.75M1308.49 651.24a6.62 4.52 97 1 0 1.61 -13.14a6.62 4.52 97 1 0 -1.61 13.14M1240.31 831.8a6.12 3.05 13 1 0 -11.92 -2.75a6.12 3.05 13 1 0 11.92 2.75M1190.85 675.58a6.78 4.78 26 1 0 -12.19 -5.94a6.78 4.78 26 1 0 12.19 5.94M1308.13 640a5.15 3.26 75 1 0 -2.67 -9.96a5.15 3.26 75 1 0 2.67 9.96M1278.69 668.89a7.85 4.68 72 1 0 -4.85 -14.94a7.85 4.68 72 1 0 4.85 14.94M1256.5 702.77a6.94 4.03 152 1 0 12.26 -6.52a6.94 4.03 152 1 0 -12.26 6.52M1263.69 743.59a4.76 2.46 44 1 0 -6.85 -6.61a4.76 2.46 44 1 0 6.85 6.61M1354.55 652.71a5.54 2.86 33 1 0 -9.28 -6.03a5.54 2.86 33 1 0 9.28 6.03M1333.07 849.01a6.73 4.83 59 1 0 -6.93 -11.54a6.73 4.83 59 1 0 6.93 11.54M1358.47 873.65a4.64 3.12 155 1 0 8.42 -3.93a4.64 3.12 155 1 0 -8.42 3.93M1247.92 660.51a5.15 2.33 38 1 0 -8.12 -6.34a5.15 2.33 38 1 0 8.12 6.34M1275.78 723.32a7.95 5.59 94 1 0 1.11 -15.87a7.95 5.59 94 1 0 -1.11 15.87M1213.04 773.46a7.54 4.26 137 1 0 11.04 -10.29a7.54 4.26 137 1 0 -11.04 10.29M1197.26 735.56a5.76 4.25 58 1 0 -6.11 -9.77a5.76 4.25 58 1 0 6.11 9.77M1165.17 756.78a5.88 3.56 38 1 0 -9.26 -7.24a5.88 3.56 38 1 0 9.26 7.24M1363.72 770.12a5.81 3.95 157 1 0 10.69 -4.54a5.81 3.95 157 1 0 -10.69 4.54M1361.39 729.53a7.76 3.79 2 1 0 -15.51 -0.54a7.76 3.79 2 1 0 15.51 0.54M1154.22 738.72a4.65 2.63 177 1 0 9.28 -0.49a4.65 2.63 177 1 0 -9.28 0.49M1245.13 847.71a7.99 3.96 138 1 0 11.87 -10.69a7.99 3.96 138 1 0 -11.87 10.69M1234.65 667.83a7.94 3.6 174 1 0 15.78 -1.66a7.94 3.6 174 1 0 -15.78 1.66M1228.61 673.99a4.62 3.55 132 1 0 6.19 -6.87a4.62 3.55 132 1 0 -6.19 6.87M1212.28 625.54a5.21 2.76 52 1 0 -6.41 -8.21a5.21 2.76 52 1 0 6.41 8.21M1380.34 788.21a6.76 3.23 47 1 0 -9.23 -9.89a6.76 3.23 47 1 0 9.23 9.89M1351.86 792.53a6.71 4.52 145 1 0 10.98 -7.69a6.71 4.52 145 1 0 -10.98 7.69M1311.34 630.29a4.92 2.7 96 1 0 1.03 -9.78a4.92 2.7 96 1 0 -1.03 9.78M1358.03 642.89a5.58 4.42 103 1 0 2.51 -10.87a5.58 4.42 103 1 0 -2.51 10.87M1300.12 829.45a6.64 3.65 58 1 0 -7.04 -11.26a6.64 3.65 58 1 0 7.04 11.26M1274.12 761.94a6.89 4.95 119 1 0 6.68 -12.05a6.89 4.95 119 1 0 -6.68 12.05M1395.86 835.27a7.31 3.46 109 1 0 4.76 -13.83a7.31 3.46 109 1 0 -4.76 13.83M1295.76 847.71a5.27 4.12 11 1 0 -10.34 -2.01a5.27 4.12 11 1 0 10.34 2.01M1379.07 732.98a4.01 2.17 134 1 0 5.57 -5.77a4.01 2.17 134 1 0 -5.57 5.77M1402.9 653.41a6.33 4.27 129 1 0 7.97 -9.84a6.33 4.27 129 1 0 -7.97 9.84M1192.66 627.8a4.48 2.65 2 1 0 -8.96 -0.31a4.48 2.65 2 1 0 8.96 0.31M1208.24 642.08a6.09 3.13 114 1 0 4.95 -11.12a6.09 3.13 114 1 0 -4.95 11.12M1298.3 849.92a5.78 2.93 92 1 0 0.4 -11.55a5.78 2.93 92 1 0 -0.4 11.55M1368.48 724.28a5.64 3.73 107 1 0 3.3 -10.79a5.64 3.73 107 1 0 -3.3 10.79M1374.71 648.13a4.79 3.39 134 1 0 6.65 -6.88a4.79 3.39 134 1 0 -6.65 6.88M1300.03 721.5a5.26 2.78 40 1 0 -8.06 -6.76a5.26 2.78 40 1 0 8.06 6.76M1325.87 675.27a5.58 2.83 154 1 0 10.03 -4.89a5.58 2.83 154 1 0 -10.03 4.89M1213.93 641.7a4.44 2.9 153 1 0 7.91 -4.03a4.44 2.9 153 1 0 -7.91 4.03M1398.83 787.06a7.41 5.9 127 1 0 8.92 -11.84a7.41 5.9 127 1 0 -8.92 11.84M1350.43 724.16a4.53 3.24 55 1 0 -5.19 -7.42a4.53 3.24 55 1 0 5.19 7.42M1245.54 630.08a4.68 2.69 175 1 0 9.32 -0.82a4.68 2.69 175 1 0 -9.32 0.82M1320.07 754.47a7.27 4.1 89 1 0 -0.25 -14.53a7.27 4.1 89 1 0 0.25 14.53M1199.59 872.51a5.99 4.28 88 1 0 -0.42 -11.98a5.99 4.28 88 1 0 0.42 11.98M1159.18 624.79a5.5 2.97 126 1 0 6.46 -8.89a5.5 2.97 126 1 0 -6.46 8.89M1276.4 859.33a7.39 4.72 60 1 0 -7.39 -12.81a7.39 4.72 60 1 0 7.39 12.81M1217.73 674.04a7.73 5.87 31 1 0 -13.26 -7.97a7.73 5.87 31 1 0 13.26 7.97M1343.47 717.43a4.22 2.55 58 1 0 -4.48 -7.16a4.22 2.55 58 1 0 4.48 7.16M1325.45 803.86a6.41 5.13 117 1 0 5.82 -11.42a6.41 5.13 117 1 0 -5.82 11.42M1246.34 820.44a4.32 3.03 170 1 0 8.5 -1.5a4.32 3.03 170 1 0 -8.5 1.5M1322.12 786.75a6.48 4.87 155 1 0 11.74 -5.47a6.48 4.87 155 1 0 -11.74 5.47M1174.4 850.06a5.18 2.38 167 1 0 10.1 -2.33a5.18 2.38 167 1 0 -10.1 2.33M1195.02 863.12a5.77 2.61 40 1 0 -8.83 -7.41a5.77 2.61 40 1 0 8.83 7.41M1221.49 751.56a5.81 3.1 45 1 0 -8.21 -8.21a5.81 3.1 45 1 0 8.21 8.21M1190.42 737.2a6.82 3.43 22 1 0 -12.65 -5.11a6.82 3.43 22 1 0 12.65 5.11M1391.67 792.36a4.25 2.96 55 1 0 -4.88 -6.97a4.25 2.96 55 1 0 4.88 6.97M1163.73 688.3a7.46 3.95 174 1 0 14.84 -1.56a7.46 3.95 174 1 0 -14.84 1.56M1232.01 853.34a7.76 3.68 160 1 0 14.59 -5.31a7.76 3.68 160 1 0 -14.59 5.31M1388.86 678.19a6.12 2.91 83 1 0 -1.49 -12.15a6.12 2.91 83 1 0 1.49 12.15M1153.57 705.74a4.56 3.61 86 1 0 -0.64 -9.09a4.56 3.61 86 1 0 0.64 9.09M1285.39 728.79a7.49 3.81 79 1 0 -2.86 -14.7a7.49 3.81 79 1 0 2.86 14.7M1334.3 805.2a4.97 3.35 152 1 0 8.77 -4.66a4.97 3.35 152 1 0 -8.77 4.66M1394.42 686.99a7.26 5.39 103 1 0 3.27 -14.15a7.26 5.39 103 1 0 -3.27 14.15"/>
<path fill="#2a2220" opacity="0.92" d="M1303.16 622.04a4.87 3.22 18 1 0 -9.25 -3.01a4.87 3.22 18 1 0 9.25 3.01M1375.91 816.81a3.88 2.07 176 1 0 7.75 -0.54a3.88 2.07 176 1 0 -7.75 0.54M1379.8 848.01a6.62 5.05 94 1 0 0.92 -13.21a6.62 5.05 94 1 0 -0.92 13.21M1160.16 698.58a6.35 5.68 102 1 0 2.64 -12.41a6.35 5.68 102 1 0 -2.64 12.41M1166.75 809.21a7.71 3.98 98 1 0 2.15 -15.28a7.71 3.98 98 1 0 -2.15 15.28M1172.82 710.31a5.27 2.75 20 1 0 -9.9 -3.6a5.27 2.75 20 1 0 9.9 3.6M1267.21 835.49a4.01 3.23 64 1 0 -3.52 -7.21a4.01 3.23 64 1 0 3.52 7.21M1155.72 856.23a6.63 4.77 133 1 0 9.04 -9.69a6.63 4.77 133 1 0 -9.04 9.69M1160.37 673.19a6.19 4.49 100 1 0 2.15 -12.2a6.19 4.49 100 1 0 -2.15 12.2M1331.98 697.91a3.89 2.01 130 1 0 5 -5.95a3.89 2.01 130 1 0 -5 5.95M1265.4 821.81a5.73 2.89 156 1 0 10.46 -4.66a5.73 2.89 156 1 0 -10.46 4.66M1409.05 743.03a6.34 5.26 19 1 0 -11.98 -4.13a6.34 5.26 19 1 0 11.98 4.13M1167.77 704.12a6.72 3.44 114 1 0 5.47 -12.28a6.72 3.44 114 1 0 -5.47 12.28M1377.35 811.43a4 2.89 177 1 0 7.99 -0.42a4 2.89 177 1 0 -7.99 0.42M1247.95 647.91a6.48 5.5 136 1 0 9.33 -9.01a6.48 5.5 136 1 0 -9.33 9.01M1367.34 856.03a5.63 3.69 49 1 0 -7.38 -8.49a5.63 3.69 49 1 0 7.38 8.49M1274.65 691.85a5.73 4.28 50 1 0 -7.36 -8.78a5.73 4.28 50 1 0 7.36 8.78M1293.74 875.78a4.4 2.58 49 1 0 -5.77 -6.64a4.4 2.58 49 1 0 5.77 6.64M1151.95 812.47a7.72 5.1 147 1 0 12.94 -8.4a7.72 5.1 147 1 0 -12.94 8.4M1328.64 794.29a4.68 2.99 65 1 0 -3.95 -8.48a4.68 2.99 65 1 0 3.95 8.48M1282.78 829.85a7.45 6.34 65 1 0 -6.3 -13.5a7.45 6.34 65 1 0 6.3 13.5M1381.58 639.49a5.48 3.08 78 1 0 -2.28 -10.73a5.48 3.08 78 1 0 2.28 10.73M1272.89 776a4.15 2.39 62 1 0 -3.89 -7.32a4.15 2.39 62 1 0 3.89 7.32M1351.12 828.18a5.33 3.96 112 1 0 3.99 -9.89a5.33 3.96 112 1 0 -3.99 9.89M1175.79 846.88a5.57 4.21 154 1 0 10.02 -4.89a5.57 4.21 154 1 0 -10.02 4.89M1331.67 755.33a4.2 3.42 71 1 0 -2.74 -7.95a4.2 3.42 71 1 0 2.74 7.95M1197.92 784.66a5.01 2.59 47 1 0 -6.84 -7.33a5.01 2.59 47 1 0 6.84 7.33M1193.23 757.51a6.6 3.79 0 1 0 -13.2 -0a6.6 3.79 0 1 0 13.2 0M1183.7 676.94a4.83 4.3 108 1 0 2.98 -9.18a4.83 4.3 108 1 0 -2.98 9.18M1379.24 711.97a6.23 3.94 68 1 0 -4.67 -11.56a6.23 3.94 68 1 0 4.67 11.56M1396.74 689.67a7.29 5.83 146 1 0 12.09 -8.15a7.29 5.83 146 1 0 -12.09 8.15M1281.17 659.22a7.74 4.48 173 1 0 15.36 -1.89a7.74 4.48 173 1 0 -15.36 1.89M1223.45 658.01a6.97 5.96 28 1 0 -12.3 -6.54a6.97 5.96 28 1 0 12.3 6.54M1308.94 663.06a7.79 4.92 163 1 0 14.9 -4.56a7.79 4.92 163 1 0 -14.9 4.56M1387.65 873.01a7.58 3.87 97 1 0 1.85 -15.06a7.58 3.87 97 1 0 -1.85 15.06M1389.91 777.89a5.76 4.17 72 1 0 -3.56 -10.95a5.76 4.17 72 1 0 3.56 10.95M1379.91 810.94a5.51 2.8 0 1 0 -11.01 -0a5.51 2.8 0 1 0 11.01 0M1218.15 848.31a7.41 5.1 30 1 0 -12.83 -7.41a7.41 5.1 30 1 0 12.83 7.41M1191.73 809.12a4.07 3.05 144 1 0 6.58 -4.78a4.07 3.05 144 1 0 -6.58 4.78M1302.92 668.29a5.32 3.08 20 1 0 -9.99 -3.64a5.32 3.08 20 1 0 9.99 3.64M1321.96 851.05a6.74 4.6 164 1 0 12.95 -3.71a6.74 4.6 164 1 0 -12.95 3.71M1243.62 696.49a4.51 2.47 29 1 0 -7.88 -4.37a4.51 2.47 29 1 0 7.88 4.37M1311.14 753.48a5.97 3.51 64 1 0 -5.23 -10.73a5.97 3.51 64 1 0 5.23 10.73M1336.39 822.89a7.03 4.32 43 1 0 -10.28 -9.59a7.03 4.32 43 1 0 10.28 9.59M1243.72 831.46a5.63 2.91 178 1 0 11.25 -0.39a5.63 2.91 178 1 0 -11.25 0.39M1231.47 872.65a4.66 3.21 37 1 0 -7.44 -5.61a4.66 3.21 37 1 0 7.44 5.61M1369.21 833.75a7.75 4.22 71 1 0 -5.04 -14.65a7.75 4.22 71 1 0 5.04 14.65M1276.37 665.89a6.75 5.81 176 1 0 13.48 -0.94a6.75 5.81 176 1 0 -13.48 0.94M1189.2 851.37a7.59 5.07 135 1 0 10.73 -10.73a7.59 5.07 135 1 0 -10.73 10.73M1299.72 849.96a5.97 5.17 128 1 0 7.35 -9.41a5.97 5.17 128 1 0 -7.35 9.41M1331.98 720.7a5.82 4.6 65 1 0 -4.92 -10.55a5.82 4.6 65 1 0 4.92 10.55M1245.18 749.25a4.84 3.9 57 1 0 -5.27 -8.11a4.84 3.9 57 1 0 5.27 8.11M1332 663.72a5.1 4.01 176 1 0 10.18 -0.71a5.1 4.01 176 1 0 -10.18 0.71M1253.89 641.27a6.99 3.64 161 1 0 13.21 -4.55a6.99 3.64 161 1 0 -13.21 4.55M1389.68 806.44a4.13 2.4 23 1 0 -7.61 -3.23a4.13 2.4 23 1 0 7.61 3.23M1200.5 712.5a6.52 4.89 149 1 0 11.18 -6.72a6.52 4.89 149 1 0 -11.18 6.72M1178.82 805.51a4.87 3.91 142 1 0 7.67 -5.99a4.87 3.91 142 1 0 -7.67 5.99M1372.64 756.24a7.37 4.53 118 1 0 6.92 -13.02a7.37 4.53 118 1 0 -6.92 13.02M1400.24 803.19a6.52 3.55 76 1 0 -3.15 -12.65a6.52 3.55 76 1 0 3.15 12.65M1387.89 713.76a4.61 2.85 23 1 0 -8.49 -3.6a4.61 2.85 23 1 0 8.49 3.6M1363.98 832.01a6.26 4.38 32 1 0 -10.62 -6.64a6.26 4.38 32 1 0 10.62 6.64M1336.11 771.6a4.96 3.57 110 1 0 3.4 -9.33a4.96 3.57 110 1 0 -3.4 9.33M1179.31 806.79a5.48 2.98 165 1 0 10.59 -2.84a5.48 2.98 165 1 0 -10.59 2.84M1202.32 753.6a7 3.99 64 1 0 -6.14 -12.59a7 3.99 64 1 0 6.14 12.59M1356.9 750.56a4.62 3.86 48 1 0 -6.18 -6.86a4.62 3.86 48 1 0 6.18 6.86M1395.8 831.02a5.87 3.9 10 1 0 -11.57 -2.04a5.87 3.9 10 1 0 11.57 2.04M1257.72 758.4a4 2.49 18 1 0 -7.6 -2.47a4 2.49 18 1 0 7.6 2.47M1283.42 745.3a4.65 2.99 2 1 0 -9.29 -0.32a4.65 2.99 2 1 0 9.29 0.32M1351.06 663.14a6.07 5.13 177 1 0 12.12 -0.64a6.07 5.13 177 1 0 -12.12 0.64M1395.58 788.81a7.7 4.01 140 1 0 11.79 -9.9a7.7 4.01 140 1 0 -11.79 9.9M1283.82 682.1a4.77 2.46 33 1 0 -7.99 -5.19a4.77 2.46 33 1 0 7.99 5.19M1222.62 677.65a4.64 3.79 25 1 0 -8.42 -3.92a4.64 3.79 25 1 0 8.42 3.92M1409 753.78a7.6 4.76 73 1 0 -4.45 -14.54a7.6 4.76 73 1 0 4.45 14.54M1290.58 627.48a5.15 3.74 90 1 0 -0 -10.3a5.15 3.74 90 1 0 0 10.3M1207.09 625.11a6.61 3.47 163 1 0 12.63 -3.86a6.61 3.47 163 1 0 -12.63 3.86M1381.14 777.87a7.69 4.99 139 1 0 11.61 -10.09a7.69 4.99 139 1 0 -11.61 10.09"/>
<path fill="#362c27" opacity="0.92" d="M1386.32 679.04a3.98 2.29 128 1 0 4.9 -6.27a3.98 2.29 128 1 0 -4.9 6.27M1238.14 787.76a6.39 3.27 95 1 0 1.11 -12.74a6.39 3.27 95 1 0 -1.11 12.74M1384.08 715.96a6.24 4.01 140 1 0 9.56 -8.02a6.24 4.01 140 1 0 -9.56 8.02M1304.8 824.78a6.98 6.12 99 1 0 2.18 -13.78a6.98 6.12 99 1 0 -2.18 13.78M1354.23 674.17a5.07 2.81 102 1 0 2.11 -9.91a5.07 2.81 102 1 0 -2.11 9.91M1170.08 791.68a6.66 4.32 85 1 0 -1.16 -13.28a6.66 4.32 85 1 0 1.16 13.28M1218.96 828.41a7.48 3.85 8 1 0 -14.82 -2.08a7.48 3.85 8 1 0 14.82 2.08M1274.38 645.59a5.55 3.54 61 1 0 -5.39 -9.72a5.55 3.54 61 1 0 5.39 9.72M1346.43 733.64a4.54 2.97 145 1 0 7.44 -5.21a4.54 2.97 145 1 0 -7.44 5.21M1244.29 853.09a5.84 3.87 33 1 0 -9.79 -6.36a5.84 3.87 33 1 0 9.79 6.36M1222.85 779.57a7.46 5.71 104 1 0 3.61 -14.48a7.46 5.71 104 1 0 -3.61 14.48M1381.94 816.16a7.3 4.26 177 1 0 14.58 -0.76a7.3 4.26 177 1 0 -14.58 0.76M1273.71 802.44a6.51 5.19 176 1 0 12.99 -0.91a6.51 5.19 176 1 0 -12.99 0.91M1237.42 746.24a6.64 5.93 137 1 0 9.72 -9.06a6.64 5.93 137 1 0 -9.72 9.06M1228.64 718.14a7.41 4.47 159 1 0 13.84 -5.31a7.41 4.47 159 1 0 -13.84 5.31M1265.59 661.4a5.77 3.23 61 1 0 -5.6 -10.1a5.77 3.23 61 1 0 5.6 10.1M1170.88 839.39a6.44 3.26 176 1 0 12.85 -0.9a6.44 3.26 176 1 0 -12.85 0.9M1206.52 704.24a4.32 3.34 144 1 0 6.99 -5.08a4.32 3.34 144 1 0 -6.99 5.08M1217.74 883.43a4.51 3.22 91 1 0 0.16 -9.02a4.51 3.22 91 1 0 -0.16 9.02M1254.12 713.75a7.17 5.16 58 1 0 -7.6 -12.17a7.17 5.16 58 1 0 7.6 12.17M1269.97 805.88a6.8 5.68 48 1 0 -9.11 -10.11a6.8 5.68 48 1 0 9.11 10.11M1229.24 715.75a6.82 6.08 129 1 0 8.59 -10.61a6.82 6.08 129 1 0 -8.59 10.61M1269.51 701.4a6.83 3.6 148 1 0 11.59 -7.24a6.83 3.6 148 1 0 -11.59 7.24M1175.57 863.46a5.7 5.03 111 1 0 4.08 -10.63a5.7 5.03 111 1 0 -4.08 10.63M1243.27 742.9a6.75 4.88 17 1 0 -12.92 -3.95a6.75 4.88 17 1 0 12.92 3.95M1406.29 711.79a7.13 6.37 27 1 0 -12.71 -6.48a7.13 6.37 27 1 0 12.71 6.48M1365.2 693.55a5.19 3.71 79 1 0 -1.98 -10.19a5.19 3.71 79 1 0 1.98 10.19M1345.55 783.67a5.99 4.23 7 1 0 -11.88 -1.46a5.99 4.23 7 1 0 11.88 1.46M1265.68 688.31a6.76 4.4 70 1 0 -4.62 -12.7a6.76 4.4 70 1 0 4.62 12.7M1215.22 713.66a6.77 4.93 54 1 0 -7.96 -10.95a6.77 4.93 54 1 0 7.96 10.95M1286.79 773.3a5.83 4.29 138 1 0 8.66 -7.8a5.83 4.29 138 1 0 -8.66 7.8M1154.57 792.86a5.22 2.84 94 1 0 0.73 -10.41a5.22 2.84 94 1 0 -0.73 10.41M1206.45 848.64a6.44 4.93 7 1 0 -12.77 -1.57a6.44 4.93 7 1 0 12.77 1.57M1188.48 672.47a4.55 2.59 27 1 0 -8.1 -4.13a4.55 2.59 27 1 0 8.1 4.13M1262.75 817.25a5.46 3.26 137 1 0 7.98 -7.44a5.46 3.26 137 1 0 -7.98 7.44M1400.32 805a4.72 2.63 37 1 0 -7.55 -5.69a4.72 2.63 37 1 0 7.55 5.69M1158.58 706.24a7.66 6.36 120 1 0 7.66 -13.28a7.66 6.36 120 1 0 -7.66 13.28M1165.38 875.32a6.36 4.05 123 1 0 6.92 -10.66a6.36 4.05 123 1 0 -6.92 10.66M1276.05 783.73a5.97 4.26 130 1 0 7.68 -9.15a5.97 4.26 130 1 0 -7.68 9.15M1172.25 866.75a3.91 3.47 108 1 0 2.42 -7.43a3.91 3.47 108 1 0 -2.42 7.43M1320.66 875.68a6.6 4.43 1 1 0 -13.2 -0.23a6.6 4.43 1 1 0 13.2 0.23M1323.48 755.82a7.48 5.49 117 1 0 6.79 -13.32a7.48 5.49 117 1 0 -6.79 13.32M1191.89 735.94a4.48 3.69 29 1 0 -7.84 -4.35a4.48 3.69 29 1 0 7.84 4.35M1382.22 653.08a4.97 3.46 109 1 0 3.24 -9.4a4.97 3.46 109 1 0 -3.24 9.4M1260 844.99a5.76 2.96 43 1 0 -8.42 -7.85a5.76 2.96 43 1 0 8.42 7.85M1338.87 810.59a7.2 6.23 58 1 0 -7.63 -12.22a7.2 6.23 58 1 0 7.63 12.22M1206.36 641.38a6.86 4.18 13 1 0 -13.37 -3.09a6.86 4.18 13 1 0 13.37 3.09M1299.14 749.75a4.17 2.54 167 1 0 8.12 -1.88a4.17 2.54 167 1 0 -8.12 1.88M1384.13 729.5a5.6 4.77 46 1 0 -7.78 -8.06a5.6 4.77 46 1 0 7.78 8.06M1248.47 713.33a7.01 5.71 48 1 0 -9.38 -10.41a7.01 5.71 48 1 0 9.38 10.41M1359.05 776.73a3.85 2.78 61 1 0 -3.74 -6.74a3.85 2.78 61 1 0 3.74 6.74M1166.68 710.76a7.53 6.28 167 1 0 14.67 -3.39a7.53 6.28 167 1 0 -14.67 3.39M1206.4 719.08a4.47 3.42 173 1 0 8.87 -1.09a4.47 3.42 173 1 0 -8.87 1.09M1309.33 829.06a4.95 3.67 107 1 0 2.89 -9.46a4.95 3.67 107 1 0 -2.89 9.46M1195.08 761.59a5.01 4.33 11 1 0 -9.84 -1.91a5.01 4.33 11 1 0 9.84 1.91M1160.56 631.33a7.68 4.51 10 1 0 -15.12 -2.67a7.68 4.51 10 1 0 15.12 2.67M1167.57 819.02a5.58 3.61 77 1 0 -2.51 -10.87a5.58 3.61 77 1 0 2.51 10.87M1397.85 690.1a3.89 3.4 155 1 0 7.05 -3.29a3.89 3.4 155 1 0 -7.05 3.29M1172.55 841.85a6.14 5.2 80 1 0 -2.13 -12.09a6.14 5.2 80 1 0 2.13 12.09M1178.42 782.71a6.91 3.71 48 1 0 -9.24 -10.27a6.91 3.71 48 1 0 9.24 10.27M1209.13 662.17a6.46 4.98 109 1 0 4.21 -12.23a6.46 4.98 109 1 0 -4.21 12.23M1187.57 809.69a5.36 3.99 113 1 0 4.19 -9.87a5.36 3.99 113 1 0 -4.19 9.87M1149.28 825.48a6.87 6.1 137 1 0 10.05 -9.37a6.87 6.1 137 1 0 -10.05 9.37M1287.17 692.92a7.48 5.63 72 1 0 -4.62 -14.23a7.48 5.63 72 1 0 4.62 14.23M1364.04 777a6.34 5.04 116 1 0 5.56 -11.4a6.34 5.04 116 1 0 -5.56 11.4M1284.34 743.41a4.06 2.42 51 1 0 -5.11 -6.31a4.06 2.42 51 1 0 5.11 6.31"/>
<path fill="#1e1a19" opacity="0.92" d="M1258.11 648.7a5.93 4.79 140 1 0 9.08 -7.62a5.93 4.79 140 1 0 -9.08 7.62M1330.27 763.85a5.83 4.21 75 1 0 -3.02 -11.26a5.83 4.21 75 1 0 3.02 11.26M1346.72 727.77a7.08 5.91 6 1 0 -14.09 -1.48a7.08 5.91 6 1 0 14.09 1.48M1212.78 808.94a5.72 5.1 141 1 0 8.88 -7.19a5.72 5.1 141 1 0 -8.88 7.19M1273.92 866.72a4.52 2.77 65 1 0 -3.82 -8.2a4.52 2.77 65 1 0 3.82 8.2M1233.06 641.57a6.37 5.06 13 1 0 -12.41 -2.87a6.37 5.06 13 1 0 12.41 2.87M1389.17 855.24a4.33 2.31 42 1 0 -6.44 -5.8a4.33 2.31 42 1 0 6.44 5.8M1199.16 874.55a7.23 5.47 43 1 0 -10.58 -9.87a7.23 5.47 43 1 0 10.58 9.87M1362.32 862.72a7.12 5.4 134 1 0 9.89 -10.25a7.12 5.4 134 1 0 -9.89 10.25M1383.23 822.55a5.69 4.76 12 1 0 -11.14 -2.37a5.69 4.76 12 1 0 11.14 2.37M1234.06 862.11a5.15 3.85 111 1 0 3.69 -9.62a5.15 3.85 111 1 0 -3.69 9.62M1296.49 633.37a6.56 4.84 154 1 0 11.8 -5.75a6.56 4.84 154 1 0 -11.8 5.75M1176.62 794.67a7.75 3.97 17 1 0 -14.83 -4.53a7.75 3.97 17 1 0 14.83 4.53M1276.7 661.56a5.83 4.08 51 1 0 -7.34 -9.06a5.83 4.08 51 1 0 7.34 9.06M1344.77 668.47a6.29 4.65 60 1 0 -6.29 -10.89a6.29 4.65 60 1 0 6.29 10.89M1293.59 691.89a5.18 4.57 31 1 0 -8.87 -5.33a5.18 4.57 31 1 0 8.87 5.33M1308.31 859.15a4.41 3.73 66 1 0 -3.59 -8.07a4.41 3.73 66 1 0 3.59 8.07M1358.55 774a6.69 3.72 28 1 0 -11.81 -6.28a6.69 3.72 28 1 0 11.81 6.28M1165.32 683.44a7.66 4.69 98 1 0 2.13 -15.17a7.66 4.69 98 1 0 -2.13 15.17M1159.57 735.88a4.28 2.49 82 1 0 -1.19 -8.48a4.28 2.49 82 1 0 1.19 8.48M1357.54 857.3a6.3 4.62 16 1 0 -12.12 -3.48a6.3 4.62 16 1 0 12.12 3.48M1189.6 687.03a5.18 2.93 172 1 0 10.26 -1.44a5.18 2.93 172 1 0 -10.26 1.44M1182.75 723.27a6.23 3.64 20 1 0 -11.71 -4.26a6.23 3.64 20 1 0 11.71 4.26M1182.55 716.64a5.78 2.98 27 1 0 -10.31 -5.25a5.78 2.98 27 1 0 10.31 5.25M1193.5 623.98a5.56 4.74 162 1 0 10.57 -3.43a5.56 4.74 162 1 0 -10.57 3.43M1153.71 798.59a4.73 3.58 106 1 0 2.61 -9.1a4.73 3.58 106 1 0 -2.61 9.1M1391.02 763.61a7.2 4.99 14 1 0 -13.97 -3.48a7.2 4.99 14 1 0 13.97 3.48M1290.43 824.75a4.36 3.66 137 1 0 6.37 -5.94a4.36 3.66 137 1 0 -6.37 5.94M1206.11 718.55a5.88 3.58 21 1 0 -10.99 -4.22a5.88 3.58 21 1 0 10.99 4.22M1218.57 866.63a4.19 2.43 103 1 0 1.89 -8.17a4.19 2.43 103 1 0 -1.89 8.17M1389.12 703.44a7.33 6.32 10 1 0 -14.44 -2.55a7.33 6.32 10 1 0 14.44 2.55M1208.21 681.97a4.03 3.37 20 1 0 -7.58 -2.76a4.03 3.37 20 1 0 7.58 2.76M1217.76 738.01a4.43 2.36 119 1 0 4.3 -7.76a4.43 2.36 119 1 0 -4.3 7.76M1317.02 862.2a4.4 2.99 0 1 0 -8.8 -0a4.4 2.99 0 1 0 8.8 0M1404.3 684.47a4.32 2.7 41 1 0 -6.53 -5.67a4.32 2.7 41 1 0 6.53 5.67M1257.21 755.55a4.68 3.9 35 1 0 -7.67 -5.37a4.68 3.9 35 1 0 7.67 5.37M1236.28 862.02a4.2 3.38 81 1 0 -1.31 -8.29a4.2 3.38 81 1 0 1.31 8.29M1317.37 650.89a6.56 3.98 147 1 0 11 -7.14a6.56 3.98 147 1 0 -11 7.14M1377.7 631.89a5.36 3.43 127 1 0 6.45 -8.56a5.36 3.43 127 1 0 -6.45 8.56M1283.61 836.35a5.66 4.12 102 1 0 2.35 -11.07a5.66 4.12 102 1 0 -2.35 11.07M1380.33 781.36a7.01 5.49 22 1 0 -13.01 -5.25a7.01 5.49 22 1 0 13.01 5.25M1282.8 629a5.58 3.29 113 1 0 4.36 -10.27a5.58 3.29 113 1 0 -4.36 10.27M1300.36 857.01a4.68 4.12 84 1 0 -0.98 -9.31a4.68 4.12 84 1 0 0.98 9.31M1338.21 641.84a6.42 3.75 142 1 0 10.13 -7.91a6.42 3.75 142 1 0 -10.13 7.91M1243.7 640.96a4.04 2.28 71 1 0 -2.63 -7.64a4.04 2.28 71 1 0 2.63 7.64M1304.14 754.03a7.31 5.4 104 1 0 3.54 -14.18a7.31 5.4 104 1 0 -3.54 14.18M1346.89 778.44a4.81 3.58 41 1 0 -7.25 -6.3a4.81 3.58 41 1 0 7.25 6.3M1276.86 833.55a6.63 3.5 66 1 0 -5.4 -12.12a6.63 3.5 66 1 0 5.4 12.12M1311.52 729.64a7.39 5.25 69 1 0 -5.3 -13.8a7.39 5.25 69 1 0 5.3 13.8M1306.48 721.1a3.81 2.91 131 1 0 5 -5.76a3.81 2.91 131 1 0 -5 5.76M1377.69 835.81a3.85 3.01 134 1 0 5.35 -5.54a3.85 3.01 134 1 0 -5.35 5.54M1232.76 628.58a4.42 3.69 25 1 0 -8.01 -3.74a4.42 3.69 25 1 0 8.01 3.74M1159.22 629.78a4.89 4.01 86 1 0 -0.68 -9.75a4.89 4.01 86 1 0 0.68 9.75M1235.64 861.68a7.21 5.18 121 1 0 7.43 -12.37a7.21 5.18 121 1 0 -7.43 12.37M1161.36 787.59a5.17 2.91 39 1 0 -8.03 -6.5a5.17 2.91 39 1 0 8.03 6.5M1253.73 629.51a4.03 2.2 76 1 0 -1.95 -7.82a4.03 2.2 76 1 0 1.95 7.82M1289.32 776.02a3.83 3.33 149 1 0 6.57 -3.95a3.83 3.33 149 1 0 -6.57 3.95M1257.77 871.4a5.72 4.55 165 1 0 11.05 -2.96a5.72 4.55 165 1 0 -11.05 2.96M1339.57 866.99a7.47 4.88 69 1 0 -5.35 -13.94a7.47 4.88 69 1 0 5.35 13.94M1240.18 875.55a7.23 3.82 8 1 0 -14.32 -2.01a7.23 3.82 8 1 0 14.32 2.01M1391.19 828.88a7.78 4.43 58 1 0 -8.24 -13.19a7.78 4.43 58 1 0 8.24 13.19M1267.96 797.91a5.94 4.03 50 1 0 -7.64 -9.1a5.94 4.03 50 1 0 7.64 9.1M1213.85 778.91a6.94 3.87 36 1 0 -11.22 -8.15a6.94 3.87 36 1 0 11.22 8.15"/>
<path fill="#463b35" opacity="0.92" d="M1192.33 779.21a6.59 3.85 34 1 0 -10.92 -7.37a6.59 3.85 34 1 0 10.92 7.37M1209.2 737.71a6.92 4.74 46 1 0 -9.61 -9.95a6.92 4.74 46 1 0 9.61 9.95M1226.12 811.76a4.27 3.07 88 1 0 -0.3 -8.53a4.27 3.07 88 1 0 0.3 8.53M1272.2 632.38a5.24 4.64 130 1 0 6.74 -8.03a5.24 4.64 130 1 0 -6.74 8.03M1362.53 873.49a4.58 2.57 35 1 0 -7.51 -5.26a4.58 2.57 35 1 0 7.51 5.26M1155.93 801.69a5.94 4.64 100 1 0 2.06 -11.71a5.94 4.64 100 1 0 -2.06 11.71M1230.29 632.59a5.68 2.9 162 1 0 10.81 -3.51a5.68 2.9 162 1 0 -10.81 3.51M1172.14 764.39a4.46 3.87 134 1 0 6.2 -6.42a4.46 3.87 134 1 0 -6.2 6.42M1178.16 774.68a7.77 6.57 86 1 0 -1.08 -15.5a7.77 6.57 86 1 0 1.08 15.5M1356.39 821.56a5.97 5.14 46 1 0 -8.3 -8.59a5.97 5.14 46 1 0 8.3 8.59M1235.53 677.7a5.4 4.51 18 1 0 -10.26 -3.34a5.4 4.51 18 1 0 10.26 3.34M1285.55 707.47a5.81 3.04 174 1 0 11.55 -1.21a5.81 3.04 174 1 0 -11.55 1.21M1217.89 637.03a3.82 2.97 92 1 0 0.27 -7.64a3.82 2.97 92 1 0 -0.27 7.64M1302.29 636.46a6.06 4.97 29 1 0 -10.61 -5.88a6.06 4.97 29 1 0 10.61 5.88M1192.41 883.52a4.98 3.31 119 1 0 4.82 -8.7a4.98 3.31 119 1 0 -4.82 8.7M1189.91 699.84a6.15 5.2 142 1 0 9.69 -7.57a6.15 5.2 142 1 0 -9.69 7.57M1370.16 702.28a6.27 5.49 5 1 0 -12.49 -1.09a6.27 5.49 5 1 0 12.49 1.09M1188.22 846.62a6.06 4.05 2 1 0 -12.12 -0.42a6.06 4.05 2 1 0 12.12 0.42M1161.66 655.49a5.42 4.75 45 1 0 -7.67 -7.67a5.42 4.75 45 1 0 7.67 7.67M1192.96 873.46a5.83 4.45 156 1 0 10.66 -4.75a5.83 4.45 156 1 0 -10.66 4.75M1232.47 852.06a4.69 2.53 128 1 0 5.77 -7.39a4.69 2.53 128 1 0 -5.77 7.39M1175.48 710.11a3.86 3.16 171 1 0 7.63 -1.21a3.86 3.16 171 1 0 -7.63 1.21M1406.24 749.24a7.27 6.09 67 1 0 -5.68 -13.39a7.27 6.09 67 1 0 5.68 13.39M1291.99 699.97a7.74 6.59 2 1 0 -15.48 -0.54a7.74 6.59 2 1 0 15.48 0.54M1181.56 645.08a4.41 3 62 1 0 -4.15 -7.8a4.41 3 62 1 0 4.15 7.8M1396.59 671.66a5.32 3.88 151 1 0 9.3 -5.16a5.32 3.88 151 1 0 -9.3 5.16M1336.49 715.55a7.22 5.47 8 1 0 -14.31 -2.01a7.22 5.47 8 1 0 14.31 2.01M1155.67 744.44a6.45 5.72 154 1 0 11.59 -5.65a6.45 5.72 154 1 0 -11.59 5.65M1304.05 783.83a7.02 5.21 6 1 0 -13.95 -1.47a7.02 5.21 6 1 0 13.95 1.47M1371.21 774.51a5.25 3.13 27 1 0 -9.35 -4.77a5.25 3.13 27 1 0 9.35 4.77M1242.81 786.15a5.34 4.58 179 1 0 10.67 -0.19a5.34 4.58 179 1 0 -10.67 0.19M1168.23 736.54a7.15 6.43 170 1 0 14.08 -2.48a7.15 6.43 170 1 0 -14.08 2.48M1367.48 754.96a6.44 5.63 166 1 0 12.49 -3.12a6.44 5.63 166 1 0 -12.49 3.12M1304.14 667.38a3.87 1.98 80 1 0 -1.34 -7.62a3.87 1.98 80 1 0 1.34 7.62M1292.47 644.37a6.73 5.55 67 1 0 -5.26 -12.4a6.73 5.55 67 1 0 5.26 12.4M1200.29 824.39a4.89 4.3 154 1 0 8.79 -4.29a4.89 4.3 154 1 0 -8.79 4.29M1397.06 736.65a5.68 4.02 26 1 0 -10.21 -4.98a5.68 4.02 26 1 0 10.21 4.98M1311.45 806.93a5.7 4.18 159 1 0 10.65 -4.09a5.7 4.18 159 1 0 -10.65 4.09M1191.77 838.35a5.95 5.02 111 1 0 4.27 -11.11a5.95 5.02 111 1 0 -4.27 11.11M1239.91 808.89a7.37 3.94 155 1 0 13.36 -6.23a7.37 3.94 155 1 0 -13.36 6.23M1352.79 798.11a4.2 3.06 170 1 0 8.27 -1.46a4.2 3.06 170 1 0 -8.27 1.46M1351.46 778.53a4.77 4.15 56 1 0 -5.34 -7.91a4.77 4.15 56 1 0 5.34 7.91M1286.94 857.3a5.98 4.44 166 1 0 11.61 -2.89a5.98 4.44 166 1 0 -11.61 2.89M1267.65 730.14a7.38 5.57 176 1 0 14.73 -1.03a7.38 5.57 176 1 0 -14.73 1.03M1209.4 851.12a6.24 4.37 161 1 0 11.8 -4.06a6.24 4.37 161 1 0 -11.8 4.06M1239.11 689.78a7.46 4.36 91 1 0 0.26 -14.91a7.46 4.36 91 1 0 -0.26 14.91M1179.62 823.81a4.13 2.92 49 1 0 -5.41 -6.23a4.13 2.92 49 1 0 5.41 6.23M1226.74 676.03a6.76 5.72 112 1 0 5.06 -12.53a6.76 5.72 112 1 0 -5.06 12.53M1203.76 788.17a4.1 3 78 1 0 -1.71 -8.03a4.1 3 78 1 0 1.71 8.03M1284.15 694.74a6.88 5.8 131 1 0 9.03 -10.39a6.88 5.8 131 1 0 -9.03 10.39M1284.01 701.87a6.7 4.86 82 1 0 -1.87 -13.27a6.7 4.86 82 1 0 1.87 13.27M1364.26 704.93a7.22 6.4 161 1 0 13.66 -4.7a7.22 6.4 161 1 0 -13.66 4.7M1160.11 867.38a6.65 5.92 139 1 0 10.04 -8.73a6.65 5.92 139 1 0 -10.04 8.73M1383.05 721.48a5.49 4.68 48 1 0 -7.35 -8.16a5.49 4.68 48 1 0 7.35 8.16M1413.61 640.44a7.63 6.85 16 1 0 -14.67 -4.21a7.63 6.85 16 1 0 14.67 4.21M1302.68 753.9a6.36 4.17 108 1 0 3.93 -12.11a6.36 4.17 108 1 0 -3.93 12.11M1237.15 855.06a4.85 3.87 1 1 0 -9.7 -0.17a4.85 3.87 1 1 0 9.7 0.17M1266.91 679.12a5.24 3.9 22 1 0 -9.72 -3.93a5.24 3.9 22 1 0 9.72 3.93M1195.66 817.6a6.6 5.27 115 1 0 5.58 -11.96a6.6 5.27 115 1 0 -5.58 11.96M1264.45 881.41a6.43 4.37 125 1 0 7.38 -10.54a6.43 4.37 125 1 0 -7.38 10.54M1302.24 743.67a3.8 2.03 152 1 0 6.72 -3.57a3.8 2.03 152 1 0 -6.72 3.57M1238.63 652.82a6.13 4.2 116 1 0 5.38 -11.02a6.13 4.2 116 1 0 -5.38 11.02M1332.58 737.79a4.38 2.39 83 1 0 -1.07 -8.7a4.38 2.39 83 1 0 1.07 8.7M1375.48 842.3a7.06 3.84 140 1 0 10.82 -9.08a7.06 3.84 140 1 0 -10.82 9.08M1363.03 679.91a7.58 4.3 112 1 0 5.68 -14.05a7.58 4.3 112 1 0 -5.68 14.05M1384.29 680.06a7.29 4.28 64 1 0 -6.39 -13.1a7.29 4.28 64 1 0 6.39 13.1M1394.3 743.75a6.75 4.04 5 1 0 -13.46 -1.18a6.75 4.04 5 1 0 13.46 1.18"/>
<path fill="#57493f" opacity="0.92" d="M1156.35 672.4a6.38 5 90 1 0 -0 -12.76a6.38 5 90 1 0 0 12.76M1248.48 731.08a4.78 3.59 144 1 0 7.73 -5.62a4.78 3.59 144 1 0 -7.73 5.62M1317.83 715.6a6.58 4.01 78 1 0 -2.74 -12.87a6.58 4.01 78 1 0 2.74 12.87M1237.91 688.78a4.99 2.5 159 1 0 9.32 -3.58a4.99 2.5 159 1 0 -9.32 3.58M1362.74 848.03a4.43 2.97 50 1 0 -5.69 -6.78a4.43 2.97 50 1 0 5.69 6.78M1368.54 754.66a4.83 3.29 158 1 0 8.95 -3.62a4.83 3.29 158 1 0 -8.95 3.62M1257.67 689.77a4.84 2.97 77 1 0 -2.18 -9.43a4.84 2.97 77 1 0 2.18 9.43M1243.83 744.98a6.59 4.62 103 1 0 2.97 -12.85a6.59 4.62 103 1 0 -2.97 12.85M1323.1 718.58a6.36 5.25 141 1 0 9.89 -8.01a6.36 5.25 141 1 0 -9.89 8.01M1312.03 639.73a7.57 6.18 118 1 0 7.1 -13.36a7.57 6.18 118 1 0 -7.1 13.36M1296.42 860.97a4.58 2.99 157 1 0 8.43 -3.58a4.58 2.99 157 1 0 -8.43 3.58M1398.19 795.74a7.18 5.98 109 1 0 4.67 -13.57a7.18 5.98 109 1 0 -4.67 13.57M1306.44 639.74a5.33 2.84 127 1 0 6.41 -8.51a5.33 2.84 127 1 0 -6.41 8.51M1221.1 689.97a4.8 3.72 165 1 0 9.28 -2.49a4.8 3.72 165 1 0 -9.28 2.49M1296.33 749.14a7.34 4.08 150 1 0 12.71 -7.34a7.34 4.08 150 1 0 -12.71 7.34M1410.1 706.97a4.41 2.4 7 1 0 -8.75 -1.07a4.41 2.4 7 1 0 8.75 1.07M1228.64 762.66a5.02 4.31 35 1 0 -8.22 -5.76a5.02 4.31 35 1 0 8.22 5.76M1344.32 764.99a6.16 4.55 10 1 0 -12.12 -2.14a6.16 4.55 10 1 0 12.12 2.14M1196.49 873.85a4.84 3.96 98 1 0 1.35 -9.59a4.84 3.96 98 1 0 -1.35 9.59M1276.35 762a7.25 5.74 42 1 0 -10.77 -9.7a7.25 5.74 42 1 0 10.77 9.7M1204.4 845.36a4.92 4.41 118 1 0 4.62 -8.68a4.92 4.41 118 1 0 -4.62 8.68M1262.83 686.79a4.72 3.06 41 1 0 -7.13 -6.2a4.72 3.06 41 1 0 7.13 6.2M1166.67 749.74a4.49 3.47 167 1 0 8.74 -2.02a4.49 3.47 167 1 0 -8.74 2.02M1337.88 866.5a6.96 4.93 100 1 0 2.42 -13.7a6.96 4.93 100 1 0 -2.42 13.7M1408.57 834.49a5.83 4.99 77 1 0 -2.62 -11.35a5.83 4.99 77 1 0 2.62 11.35M1227.04 792.3a6.5 4.94 2 1 0 -13 -0.45a6.5 4.94 2 1 0 13 0.45M1352.1 822.96a7.77 6.82 79 1 0 -2.97 -15.26a7.77 6.82 79 1 0 2.97 15.26M1387.6 799.36a5.33 4.25 171 1 0 10.53 -1.67a5.33 4.25 171 1 0 -10.53 1.67M1261.24 633.41a6.97 6.2 152 1 0 12.31 -6.55a6.97 6.2 152 1 0 -12.31 6.55M1388.47 628.99a6.16 3.8 95 1 0 1.07 -12.27a6.16 3.8 95 1 0 -1.07 12.27M1308.85 806.7a6.96 3.87 85 1 0 -1.21 -13.86a6.96 3.87 85 1 0 1.21 13.86M1148.4 831.39a6.64 5.06 155 1 0 12.03 -5.61a6.64 5.06 155 1 0 -12.03 5.61M1164.69 700.15a5.86 4.81 148 1 0 9.94 -6.21a5.86 4.81 148 1 0 -9.94 6.21M1347.87 845.1a4.19 3.75 167 1 0 8.16 -1.88a4.19 3.75 167 1 0 -8.16 1.88M1304.52 765.74a7.64 6.34 135 1 0 10.8 -10.8a7.64 6.34 135 1 0 -10.8 10.8M1318.39 814.86a5.46 2.99 160 1 0 10.27 -3.74a5.46 2.99 160 1 0 -10.27 3.74M1167.47 842.08a7.14 5.99 42 1 0 -10.61 -9.56a7.14 5.99 42 1 0 10.61 9.56M1409.13 634.41a4.34 2.73 85 1 0 -0.76 -8.65a4.34 2.73 85 1 0 0.76 8.65M1340.78 767.85a5.1 2.9 53 1 0 -6.14 -8.15a5.1 2.9 53 1 0 6.14 8.15M1230.81 724.1a6.49 5.66 15 1 0 -12.54 -3.36a6.49 5.66 15 1 0 12.54 3.36M1158.06 770.48a4.67 3.1 107 1 0 2.73 -8.93a4.67 3.1 107 1 0 -2.73 8.93M1319.71 712.61a4.72 3.83 16 1 0 -9.07 -2.6a4.72 3.83 16 1 0 9.07 2.6M1204.8 815.03a4.73 3.59 10 1 0 -9.32 -1.64a4.73 3.59 10 1 0 9.32 1.64M1171.77 793.69a5.37 3.35 146 1 0 8.9 -6.01a5.37 3.35 146 1 0 -8.9 6.01M1221.77 733.94a6.89 6.16 109 1 0 4.49 -13.04a6.89 6.16 109 1 0 -4.49 13.04M1382.12 749.67a6.11 3.87 115 1 0 5.16 -11.07a6.11 3.87 115 1 0 -5.16 11.07M1282.99 790.18a5.78 3.51 110 1 0 3.95 -10.85a5.78 3.51 110 1 0 -3.95 10.85M1178.37 767.87a7.3 4.6 21 1 0 -13.62 -5.23a7.3 4.6 21 1 0 13.62 5.23M1171.81 646.53a7.2 5.4 66 1 0 -5.86 -13.16a7.2 5.4 66 1 0 5.86 13.16M1363.02 705.99a4.48 3.25 93 1 0 0.47 -8.94a4.48 3.25 93 1 0 -0.47 8.94M1204.95 734.28a5.65 3.84 87 1 0 -0.59 -11.28a5.65 3.84 87 1 0 0.59 11.28M1290.99 874.91a4.8 3.57 51 1 0 -6.04 -7.46a4.8 3.57 51 1 0 6.04 7.46M1386.42 693.77a7.29 6.12 80 1 0 -2.53 -14.35a7.29 6.12 80 1 0 2.53 14.35M1238.27 803.52a4.64 3.75 128 1 0 5.72 -7.32a4.64 3.75 128 1 0 -5.72 7.32M1189.92 632.26a5.21 3.03 112 1 0 3.9 -9.66a5.21 3.03 112 1 0 -3.9 9.66M1329.63 823.33a6.34 4.11 170 1 0 12.49 -2.2a6.34 4.11 170 1 0 -12.49 2.2M1216.89 686.7a4.96 4 158 1 0 9.2 -3.72a4.96 4 158 1 0 -9.2 3.72M1279.3 629.62a6.32 4.14 98 1 0 1.76 -12.52a6.32 4.14 98 1 0 -1.76 12.52M1206.09 708.93a5.88 4.24 89 1 0 -0.21 -11.77a5.88 4.24 89 1 0 0.21 11.77M1393.48 849.58a5.05 4.52 116 1 0 4.42 -9.07a5.05 4.52 116 1 0 -4.42 9.07M1251.83 666.86a3.93 2.04 108 1 0 2.43 -7.47a3.93 2.04 108 1 0 -2.43 7.47M1341.03 776.09a7.66 6.54 65 1 0 -6.47 -13.88a7.66 6.54 65 1 0 6.47 13.88M1250.96 734.19a6.26 5.1 20 1 0 -11.76 -4.28a6.26 5.1 20 1 0 11.76 4.28M1357.2 685.04a6.15 3.54 166 1 0 11.94 -2.98a6.15 3.54 166 1 0 -11.94 2.98M1256.19 817.96a7.1 6.32 57 1 0 -7.73 -11.91a7.1 6.32 57 1 0 7.73 11.91M1337.15 856.3a6.78 3.51 32 1 0 -11.51 -7.19a6.78 3.51 32 1 0 11.51 7.19M1278.27 815.31a3.81 3.16 12 1 0 -7.45 -1.58a3.81 3.16 12 1 0 7.45 1.58M1285.09 759.94a4.87 3.27 173 1 0 9.67 -1.19a4.87 3.27 173 1 0 -9.67 1.19"/>
<path fill="#3a2e26" opacity="0.8" d="M1262.81 817.31a1.27 0.77 128 1 0 1.56 -2a1.27 0.77 128 1 0 -1.56 2M1207.86 636.53a1.76 1.4 67 1 0 -1.38 -3.25a1.76 1.4 67 1 0 1.38 3.25M1180.36 700.03a1.34 1.09 150 1 0 2.33 -1.34a1.34 1.09 150 1 0 -2.33 1.34M1196.06 688.68a1.57 1.56 43 1 0 -2.3 -2.14a1.57 1.56 43 1 0 2.3 2.14M1313.91 690.35a1.18 0.9 130 1 0 1.52 -1.81a1.18 0.9 130 1 0 -1.52 1.81M1178.37 821.33a0.8 0.54 51 1 0 -1.01 -1.25a0.8 0.54 51 1 0 1.01 1.25M1386.64 783.28a0.97 0.69 150 1 0 1.67 -0.97a0.97 0.69 150 1 0 -1.67 0.97M1265.44 722.99a0.82 0.62 95 1 0 0.14 -1.63a0.82 0.62 95 1 0 -0.14 1.63M1204.77 635.96a1.79 1.33 41 1 0 -2.7 -2.35a1.79 1.33 41 1 0 2.7 2.35M1197.82 680.03a0.8 0.55 157 1 0 1.48 -0.63a0.8 0.55 157 1 0 -1.48 0.63M1262.52 826.12a1.68 1.12 3 1 0 -3.36 -0.18a1.68 1.12 3 1 0 3.36 0.18M1244.44 716.53a1.33 0.82 15 1 0 -2.57 -0.69a1.33 0.82 15 1 0 2.57 0.69M1273.86 834.46a1.14 0.84 152 1 0 2.02 -1.07a1.14 0.84 152 1 0 -2.02 1.07M1369.12 712.89a1.36 0.83 11 1 0 -2.67 -0.52a1.36 0.83 11 1 0 2.67 0.52M1213.23 814.13a1.02 0.8 151 1 0 1.79 -0.99a1.02 0.8 151 1 0 -1.79 0.99M1161.37 750.45a1.69 1.14 147 1 0 2.84 -1.84a1.69 1.14 147 1 0 -2.84 1.84M1306.67 768.51a0.85 0.71 25 1 0 -1.53 -0.71a0.85 0.71 25 1 0 1.53 0.71M1157.6 857.54a1.76 1.1 52 1 0 -2.16 -2.77a1.76 1.1 52 1 0 2.16 2.77M1195.58 623a1.13 0.99 24 1 0 -2.06 -0.92a1.13 0.99 24 1 0 2.06 0.92M1257.13 868.69a1.1 0.86 179 1 0 2.21 -0.04a1.1 0.86 179 1 0 -2.21 0.04M1361.57 839.56a1.47 0.99 99 1 0 0.46 -2.9a1.47 0.99 99 1 0 -0.46 2.9M1257.24 764.39a1.01 0.92 140 1 0 1.55 -1.3a1.01 0.92 140 1 0 -1.55 1.3M1308.49 630.77a1.72 1.67 77 1 0 -0.77 -3.35a1.72 1.67 77 1 0 0.77 3.35M1319.2 824.53a1.2 0.84 173 1 0 2.39 -0.29a1.2 0.84 173 1 0 -2.39 0.29M1375.59 810.83a0.95 0.95 176 1 0 1.9 -0.13a0.95 0.95 176 1 0 -1.9 0.13M1216.76 790.39a1.31 1.25 57 1 0 -1.43 -2.2a1.31 1.25 57 1 0 1.43 2.2M1277.89 684.25a1.67 1.04 89 1 0 -0.06 -3.33a1.67 1.04 89 1 0 0.06 3.33M1244.62 649.74a1.44 1.04 64 1 0 -1.26 -2.59a1.44 1.04 64 1 0 1.26 2.59M1259.95 862.82a1.38 1.2 13 1 0 -2.69 -0.62a1.38 1.2 13 1 0 2.69 0.62M1166.6 779.06a1.74 1.31 32 1 0 -2.95 -1.84a1.74 1.31 32 1 0 2.95 1.84M1161.87 759.76a1.17 0.96 175 1 0 2.33 -0.2a1.17 0.96 175 1 0 -2.33 0.2M1205.86 691.19a1.47 1.44 27 1 0 -2.63 -1.34a1.47 1.44 27 1 0 2.63 1.34M1197.15 761.64a1.72 1.13 119 1 0 1.67 -3.01a1.72 1.13 119 1 0 -1.67 3.01M1317.8 633.06a1.11 1 139 1 0 1.68 -1.46a1.11 1 139 1 0 -1.68 1.46M1286.89 741.97a1.24 0.78 164 1 0 2.39 -0.68a1.24 0.78 164 1 0 -2.39 0.68M1369.11 660.74a1.31 0.91 93 1 0 0.14 -2.61a1.31 0.91 93 1 0 -0.14 2.61M1375.67 766.7a1.75 1.47 85 1 0 -0.3 -3.48a1.75 1.47 85 1 0 0.3 3.48M1366.43 871.43a1.07 0.7 30 1 0 -1.86 -1.07a1.07 0.7 30 1 0 1.86 1.07M1310.81 758.62a1.57 1.23 175 1 0 3.14 -0.27a1.57 1.23 175 1 0 -3.14 0.27M1305.82 645.73a1.12 0.79 172 1 0 2.21 -0.31a1.12 0.79 172 1 0 -2.21 0.31M1213.63 634.79a1.67 1.17 109 1 0 1.09 -3.16a1.67 1.17 109 1 0 -1.09 3.16M1346.12 839.45a1.3 0.9 120 1 0 1.3 -2.25a1.3 0.9 120 1 0 -1.3 2.25M1203.88 796.33a0.9 0.77 89 1 0 -0.03 -1.8a0.9 0.77 89 1 0 0.03 1.8M1175.95 718.39a1.77 1.43 118 1 0 1.67 -3.13a1.77 1.43 118 1 0 -1.67 3.13M1319.62 680.16a1.24 0.87 134 1 0 1.73 -1.79a1.24 0.87 134 1 0 -1.73 1.79M1241.64 678.75a1.7 1.11 118 1 0 1.59 -3a1.7 1.11 118 1 0 -1.59 3M1319.32 663.41a1.4 1.31 118 1 0 1.32 -2.48a1.4 1.31 118 1 0 -1.32 2.48M1168.49 659.09a1.34 1.16 9 1 0 -2.65 -0.42a1.34 1.16 9 1 0 2.65 0.42M1353.43 859.77a1.21 0.75 153 1 0 2.15 -1.1a1.21 0.75 153 1 0 -2.15 1.1M1271.25 843.86a1.18 1.09 1 1 0 -2.35 -0.04a1.18 1.09 1 1 0 2.35 0.04M1248.27 858.96a0.89 0.6 155 1 0 1.62 -0.76a0.89 0.6 155 1 0 -1.62 0.76M1275.7 845.79a0.99 0.69 10 1 0 -1.96 -0.35a0.99 0.69 10 1 0 1.96 0.35M1365.74 699.31a1.41 1.12 138 1 0 2.1 -1.89a1.41 1.12 138 1 0 -2.1 1.89M1290.29 633.99a1.55 1.14 83 1 0 -0.38 -3.07a1.55 1.14 83 1 0 0.38 3.07M1224.28 713.83a1.69 1.38 3 1 0 -3.37 -0.18a1.69 1.38 3 1 0 3.37 0.18M1347.89 626.74a1.62 1.06 11 1 0 -3.19 -0.62a1.62 1.06 11 1 0 3.19 0.62M1183.62 799.05a1.41 1.25 32 1 0 -2.39 -1.49a1.41 1.25 32 1 0 2.39 1.49M1178.43 624.5a0.97 0.67 146 1 0 1.6 -1.08a0.97 0.67 146 1 0 -1.6 1.08M1273.28 649.06a1.72 1.56 28 1 0 -3.04 -1.62a1.72 1.56 28 1 0 3.04 1.62M1207.74 673.6a1.23 0.89 103 1 0 0.55 -2.4a1.23 0.89 103 1 0 -0.55 2.4M1216.07 738a1.18 0.8 143 1 0 1.89 -1.43a1.18 0.8 143 1 0 -1.89 1.43M1303.16 833.45a1.11 0.95 120 1 0 1.11 -1.92a1.11 0.95 120 1 0 -1.11 1.92M1363.25 849.35a1.72 1.7 136 1 0 2.48 -2.39a1.72 1.7 136 1 0 -2.48 2.39M1178.49 776.84a1.43 1.31 28 1 0 -2.53 -1.35a1.43 1.31 28 1 0 2.53 1.35M1245.87 675.72a1.38 1.01 21 1 0 -2.58 -0.99a1.38 1.01 21 1 0 2.58 0.99M1398.06 780.19a1.49 0.91 17 1 0 -2.85 -0.87a1.49 0.91 17 1 0 2.85 0.87M1295.11 822.88a1.16 1.01 119 1 0 1.12 -2.03a1.16 1.01 119 1 0 -1.12 2.03M1177.45 755.89a1.44 1.27 95 1 0 0.25 -2.86a1.44 1.27 95 1 0 -0.25 2.86M1274.69 621.57a1.09 0.95 52 1 0 -1.35 -1.72a1.09 0.95 52 1 0 1.35 1.72M1359.83 743.93a1.21 1.05 87 1 0 -0.13 -2.43a1.21 1.05 87 1 0 0.13 2.43M1231.61 747.28a1.39 1.01 5 1 0 -2.77 -0.24a1.39 1.01 5 1 0 2.77 0.24M1404.77 780.84a1.67 1.59 104 1 0 0.81 -3.25a1.67 1.59 104 1 0 -0.81 3.25M1350.92 804.89a1.01 1 99 1 0 0.32 -1.99a1.01 1 99 1 0 -0.32 1.99M1195.89 705.04a1.02 0.7 173 1 0 2.03 -0.25a1.02 0.7 173 1 0 -2.03 0.25M1338.97 672.64a0.92 0.71 136 1 0 1.33 -1.28a0.92 0.71 136 1 0 -1.33 1.28M1164.47 780.53a0.9 0.85 27 1 0 -1.6 -0.82a0.9 0.85 27 1 0 1.6 0.82M1402.48 642.95a0.82 0.55 116 1 0 0.72 -1.47a0.82 0.55 116 1 0 -0.72 1.47M1366.84 752.95a1.23 1.14 94 1 0 0.17 -2.45a1.23 1.14 94 1 0 -0.17 2.45M1324.72 765.05a1.14 0.73 45 1 0 -1.61 -1.61a1.14 0.73 45 1 0 1.61 1.61M1375.69 719.94a1.41 0.94 61 1 0 -1.36 -2.46a1.41 0.94 61 1 0 1.36 2.46M1237.09 630.91a1.48 1.15 144 1 0 2.39 -1.74a1.48 1.15 144 1 0 -2.39 1.74M1323.55 828.19a1.63 1.37 84 1 0 -0.34 -3.24a1.63 1.37 84 1 0 0.34 3.24M1233.67 830.98a1.49 1.11 83 1 0 -0.36 -2.96a1.49 1.11 83 1 0 0.36 2.96M1386.54 650.34a1.31 0.91 163 1 0 2.5 -0.77a1.31 0.91 163 1 0 -2.5 0.77M1370.88 622.27a1.38 1.11 113 1 0 1.08 -2.54a1.38 1.11 113 1 0 -1.08 2.54M1233.56 645.6a1.33 1.25 115 1 0 1.12 -2.41a1.33 1.25 115 1 0 -1.12 2.41M1172.42 654.81a1.75 1.38 135 1 0 2.47 -2.47a1.75 1.38 135 1 0 -2.47 2.47M1228.86 642.02a0.86 0.75 123 1 0 0.94 -1.44a0.86 0.75 123 1 0 -0.94 1.44M1360.89 631.58a1.54 0.95 90 1 0 -0 -3.07a1.54 0.95 90 1 0 0 3.07M1329.55 803.16a1.68 1.46 86 1 0 -0.23 -3.35a1.68 1.46 86 1 0 0.23 3.35M1390.68 829.11a1.47 1.47 1 1 0 -2.94 -0.05a1.47 1.47 1 1 0 2.94 0.05M1261.56 755.05a1.55 1.01 116 1 0 1.36 -2.79a1.55 1.01 116 1 0 -1.36 2.79M1223.56 724.62a1.78 1.59 130 1 0 2.29 -2.73a1.78 1.59 130 1 0 -2.29 2.73M1369.26 623.41a1.51 1.12 67 1 0 -1.18 -2.77a1.51 1.12 67 1 0 1.18 2.77M1257.16 623.07a1.07 0.7 174 1 0 2.12 -0.22a1.07 0.7 174 1 0 -2.12 0.22M1264.52 860.07a1.71 1.58 84 1 0 -0.36 -3.39a1.71 1.58 84 1 0 0.36 3.39M1229.47 872.27a0.91 0.88 31 1 0 -1.55 -0.93a0.91 0.88 31 1 0 1.55 0.93M1171.57 729.16a1.06 0.83 141 1 0 1.64 -1.33a1.06 0.83 141 1 0 -1.64 1.33M1189.13 880.93a1.49 1.13 100 1 0 0.52 -2.93a1.49 1.13 100 1 0 -0.52 2.93M1256.72 660.92a1.75 1.54 167 1 0 3.41 -0.79a1.75 1.54 167 1 0 -3.41 0.79M1295.35 701.77a1.14 1.04 106 1 0 0.63 -2.19a1.14 1.04 106 1 0 -0.63 2.19M1388.23 683.18a0.83 0.69 179 1 0 1.67 -0.03a0.83 0.69 179 1 0 -1.67 0.03M1179.17 658.82a1.17 0.83 13 1 0 -2.29 -0.53a1.17 0.83 13 1 0 2.29 0.53M1259.59 718.05a1.27 1.07 115 1 0 1.08 -2.31a1.27 1.07 115 1 0 -1.08 2.31M1154.31 805.26a1.33 1.14 60 1 0 -1.33 -2.31a1.33 1.14 60 1 0 1.33 2.31M1264.54 729.39a1.21 1.17 77 1 0 -0.54 -2.36a1.21 1.17 77 1 0 0.54 2.36M1190.45 696.85a1.14 0.89 119 1 0 1.1 -1.99a1.14 0.89 119 1 0 -1.1 1.99M1314.5 787.43a1.27 0.98 131 1 0 1.67 -1.92a1.27 0.98 131 1 0 -1.67 1.92M1243.6 876.87a1.61 1.51 36 1 0 -2.6 -1.89a1.61 1.51 36 1 0 2.6 1.89M1253.88 727.54a1.38 0.96 43 1 0 -2.02 -1.88a1.38 0.96 43 1 0 2.02 1.88M1176.75 622.68a0.91 0.71 52 1 0 -1.12 -1.43a0.91 0.71 52 1 0 1.12 1.43M1318.01 786.88a1.19 1.12 32 1 0 -2.02 -1.26a1.19 1.12 32 1 0 2.02 1.26M1194.98 767.93a1.53 0.93 173 1 0 3.03 -0.37a1.53 0.93 173 1 0 -3.03 0.37M1328.45 704.11a0.91 0.79 179 1 0 1.81 -0.03a0.91 0.79 179 1 0 -1.81 0.03M1306.03 672.46a1.05 0.82 52 1 0 -1.3 -1.66a1.05 0.82 52 1 0 1.3 1.66M1201.65 660.34a1.02 0.96 98 1 0 0.28 -2.02a1.02 0.96 98 1 0 -0.28 2.02M1401.25 677.52a1.65 1.37 137 1 0 2.42 -2.26a1.65 1.37 137 1 0 -2.42 2.26M1406.97 708.38a1.21 0.81 6 1 0 -2.4 -0.25a1.21 0.81 6 1 0 2.4 0.25M1405.01 718.47a1.34 1.14 174 1 0 2.66 -0.28a1.34 1.14 174 1 0 -2.66 0.28M1193.81 625.58a1.67 1.05 54 1 0 -1.96 -2.7a1.67 1.05 54 1 0 1.96 2.7M1158.48 641.56a0.91 0.67 6 1 0 -1.81 -0.19a0.91 0.67 6 1 0 1.81 0.19M1290.94 725.88a1 0.84 48 1 0 -1.33 -1.48a1 0.84 48 1 0 1.33 1.48M1220.56 641.09a1.67 1.54 11 1 0 -3.27 -0.64a1.67 1.54 11 1 0 3.27 0.64M1354.39 830.96a1.6 1.23 63 1 0 -1.45 -2.85a1.6 1.23 63 1 0 1.45 2.85M1286.53 857.51a0.81 0.78 48 1 0 -1.09 -1.21a0.81 0.78 48 1 0 1.09 1.21M1201.83 732.33a1.45 1.02 50 1 0 -1.87 -2.22a1.45 1.02 50 1 0 1.87 2.22M1386.02 722.49a0.95 0.6 169 1 0 1.87 -0.36a0.95 0.6 169 1 0 -1.87 0.36"/>
<path fill="#6a5a4a" opacity="0.8" d="M1202.07 674.19a1.15 1.08 74 1 0 -0.63 -2.21a1.15 1.08 74 1 0 0.63 2.21M1244.08 767.44a1.26 1.24 47 1 0 -1.73 -1.85a1.26 1.24 47 1 0 1.73 1.85M1383.15 631.79a0.82 0.77 119 1 0 0.8 -1.44a0.82 0.77 119 1 0 -0.8 1.44M1304.73 688.39a1.15 0.98 59 1 0 -1.19 -1.97a1.15 0.98 59 1 0 1.19 1.97M1402.26 853.09a1.79 1.47 174 1 0 3.56 -0.37a1.79 1.47 174 1 0 -3.56 0.37M1334.9 684.86a1.39 1.24 151 1 0 2.44 -1.35a1.39 1.24 151 1 0 -2.44 1.35M1215.25 689.75a1.12 0.9 106 1 0 0.62 -2.16a1.12 0.9 106 1 0 -0.62 2.16M1348.8 805.03a1.23 1.18 171 1 0 2.42 -0.38a1.23 1.18 171 1 0 -2.42 0.38M1320.38 803.24a1.1 0.68 50 1 0 -1.41 -1.68a1.1 0.68 50 1 0 1.41 1.68M1238.33 782.52a1.31 0.99 58 1 0 -1.38 -2.22a1.31 0.99 58 1 0 1.38 2.22M1308.8 787.16a1.06 0.95 80 1 0 -0.37 -2.1a1.06 0.95 80 1 0 0.37 2.1M1357.13 682.35a1.33 1.31 93 1 0 0.14 -2.65a1.33 1.31 93 1 0 -0.14 2.65M1173.28 784.93a1.52 1.25 102 1 0 0.63 -2.97a1.52 1.25 102 1 0 -0.63 2.97M1322.07 711.87a1.18 0.83 179 1 0 2.36 -0.04a1.18 0.83 179 1 0 -2.36 0.04M1280.67 697.21a1.77 1.09 144 1 0 2.87 -2.08a1.77 1.09 144 1 0 -2.87 2.08M1266.14 846.31a0.83 0.61 178 1 0 1.65 -0.06a0.83 0.61 178 1 0 -1.65 0.06M1229.01 826.95a1.49 0.9 143 1 0 2.38 -1.79a1.49 0.9 143 1 0 -2.38 1.79M1185.03 825.9a1.68 1.62 87 1 0 -0.18 -3.35a1.68 1.62 87 1 0 0.18 3.35M1163.82 714.75a1.4 1.26 113 1 0 1.09 -2.57a1.4 1.26 113 1 0 -1.09 2.57M1193.99 672.89a1.79 1.53 91 1 0 0.06 -3.58a1.79 1.53 91 1 0 -0.06 3.58M1210.81 791.53a1.14 0.69 74 1 0 -0.63 -2.19a1.14 0.69 74 1 0 0.63 2.19M1341.49 655.62a1.31 1.1 44 1 0 -1.88 -1.82a1.31 1.1 44 1 0 1.88 1.82M1204.77 665.27a0.92 0.84 140 1 0 1.41 -1.18a0.92 0.84 140 1 0 -1.41 1.18M1405.17 665.92a1.16 0.83 140 1 0 1.78 -1.49a1.16 0.83 140 1 0 -1.78 1.49M1277.67 690.81a1.2 0.77 129 1 0 1.51 -1.86a1.2 0.77 129 1 0 -1.51 1.86M1290.65 846.53a0.93 0.79 27 1 0 -1.66 -0.85a0.93 0.79 27 1 0 1.66 0.85M1243.12 719.13a1.1 0.95 86 1 0 -0.15 -2.19a1.1 0.95 86 1 0 0.15 2.19M1207.85 734.43a0.97 0.81 38 1 0 -1.53 -1.19a0.97 0.81 38 1 0 1.53 1.19M1252.14 699.02a0.82 0.78 94 1 0 0.11 -1.64a0.82 0.78 94 1 0 -0.11 1.64M1203.62 744.46a1.19 0.79 103 1 0 0.53 -2.32a1.19 0.79 103 1 0 -0.53 2.32M1156.08 735.67a1.22 0.81 103 1 0 0.55 -2.37a1.22 0.81 103 1 0 -0.55 2.37M1161.38 672.07a1.47 1.29 58 1 0 -1.55 -2.49a1.47 1.29 58 1 0 1.55 2.49M1233.8 786.02a1.19 0.72 106 1 0 0.66 -2.29a1.19 0.72 106 1 0 -0.66 2.29M1166.62 625.38a1.58 1.3 167 1 0 3.07 -0.71a1.58 1.3 167 1 0 -3.07 0.71M1253.51 658.06a1.63 1.19 75 1 0 -0.84 -3.14a1.63 1.19 75 1 0 0.84 3.14M1261.69 778.69a1.4 1.16 132 1 0 1.87 -2.08a1.4 1.16 132 1 0 -1.87 2.08M1164.46 738.5a1.74 1.66 56 1 0 -1.95 -2.89a1.74 1.66 56 1 0 1.95 2.89M1310.41 639.04a1.61 1.01 7 1 0 -3.19 -0.39a1.61 1.01 7 1 0 3.19 0.39M1182.24 739.36a1.05 0.83 49 1 0 -1.38 -1.59a1.05 0.83 49 1 0 1.38 1.59M1404.83 743.84a0.93 0.67 131 1 0 1.22 -1.4a0.93 0.67 131 1 0 -1.22 1.4M1326.02 656.24a0.82 0.52 114 1 0 0.66 -1.49a0.82 0.52 114 1 0 -0.66 1.49M1184.48 716.56a0.92 0.75 63 1 0 -0.84 -1.64a0.92 0.75 63 1 0 0.84 1.64M1205.7 770.96a1.39 1.01 14 1 0 -2.69 -0.67a1.39 1.01 14 1 0 2.69 0.67M1404.88 635.18a1.41 1.33 103 1 0 0.63 -2.75a1.41 1.33 103 1 0 -0.63 2.75M1280.31 827.64a1.56 1.16 144 1 0 2.52 -1.83a1.56 1.16 144 1 0 -2.52 1.83M1249.85 662.34a0.82 0.61 156 1 0 1.49 -0.66a0.82 0.61 156 1 0 -1.49 0.66M1180.86 653.02a1.35 0.97 85 1 0 -0.24 -2.69a1.35 0.97 85 1 0 0.24 2.69M1388.67 776.49a1.68 1.34 6 1 0 -3.35 -0.35a1.68 1.34 6 1 0 3.35 0.35M1220.52 653.14a1.6 1.25 88 1 0 -0.11 -3.2a1.6 1.25 88 1 0 0.11 3.2M1219.81 632.31a1.53 1.33 41 1 0 -2.31 -2.01a1.53 1.33 41 1 0 2.31 2.01M1334.28 778.73a1.02 0.9 78 1 0 -0.43 -2a1.02 0.9 78 1 0 0.43 2M1386.53 653.42a1.71 1.28 4 1 0 -3.41 -0.24a1.71 1.28 4 1 0 3.41 0.24M1294.36 840.91a1.61 1.52 178 1 0 3.22 -0.11a1.61 1.52 178 1 0 -3.22 0.11M1282.9 744.02a1.4 1.3 47 1 0 -1.92 -2.05a1.4 1.3 47 1 0 1.92 2.05M1242.65 771.04a1.37 0.9 18 1 0 -2.61 -0.85a1.37 0.9 18 1 0 2.61 0.85M1335.54 654.73a0.8 0.56 39 1 0 -1.24 -1.01a0.8 0.56 39 1 0 1.24 1.01M1279.25 669.56a1.3 0.95 3 1 0 -2.6 -0.14a1.3 0.95 3 1 0 2.6 0.14M1280.33 644.33a1.6 1.01 3 1 0 -3.2 -0.17a1.6 1.01 3 1 0 3.2 0.17M1370.05 678.4a0.96 0.61 102 1 0 0.4 -1.88a0.96 0.61 102 1 0 -0.4 1.88M1409.5 786.36a0.92 0.9 54 1 0 -1.08 -1.48a0.92 0.9 54 1 0 1.08 1.48M1304.26 842.26a1.15 1.09 140 1 0 1.76 -1.48a1.15 1.09 140 1 0 -1.76 1.48M1360.05 741.63a1.08 0.92 152 1 0 1.91 -1.01a1.08 0.92 152 1 0 -1.91 1.01M1198.25 706.15a1.45 1.07 111 1 0 1.04 -2.71a1.45 1.07 111 1 0 -1.04 2.71M1373.24 850.42a1.01 0.66 128 1 0 1.24 -1.59a1.01 0.66 128 1 0 -1.24 1.59M1224.34 764.38a1.4 0.97 40 1 0 -2.15 -1.81a1.4 0.97 40 1 0 2.15 1.81M1366.04 841.31a1.61 1.22 90 1 0 -0 -3.21a1.61 1.22 90 1 0 0 3.21M1370.55 817.13a1.13 0.8 95 1 0 0.2 -2.25a1.13 0.8 95 1 0 -0.2 2.25M1168.6 675.53a1.05 0.81 156 1 0 1.92 -0.85a1.05 0.81 156 1 0 -1.92 0.85M1297.68 774.38a1.6 1.31 163 1 0 3.06 -0.93a1.6 1.31 163 1 0 -3.06 0.93M1258.52 845.75a1.73 1.43 157 1 0 3.19 -1.35a1.73 1.43 157 1 0 -3.19 1.35M1180.37 711.37a1.14 0.95 77 1 0 -0.51 -2.21a1.14 0.95 77 1 0 0.51 2.21M1344.39 624.48a1.42 1.26 178 1 0 2.83 -0.1a1.42 1.26 178 1 0 -2.83 0.1M1320.71 875.2a1.6 1.6 103 1 0 0.72 -3.13a1.6 1.6 103 1 0 -0.72 3.13M1399.4 827.89a1.3 1.28 156 1 0 2.37 -1.06a1.3 1.28 156 1 0 -2.37 1.06M1392 815.47a1.38 1.13 156 1 0 2.52 -1.12a1.38 1.13 156 1 0 -2.52 1.12M1221.83 814.48a0.96 0.65 125 1 0 1.1 -1.56a0.96 0.65 125 1 0 -1.1 1.56M1362.28 770.99a0.91 0.55 123 1 0 0.99 -1.52a0.91 0.55 123 1 0 -0.99 1.52M1237.2 875.9a0.85 0.67 45 1 0 -1.2 -1.2a0.85 0.67 45 1 0 1.2 1.2M1149.07 699.02a1.53 1.38 150 1 0 2.65 -1.53a1.53 1.38 150 1 0 -2.65 1.53M1204.7 705.82a1.13 0.81 84 1 0 -0.24 -2.24a1.13 0.81 84 1 0 0.24 2.24M1268.59 760.05a1.08 0.95 171 1 0 2.13 -0.34a1.08 0.95 171 1 0 -2.13 0.34M1347.7 812.95a0.88 0.74 73 1 0 -0.51 -1.68a0.88 0.74 73 1 0 0.51 1.68M1359.16 834.26a1.03 1.02 23 1 0 -1.9 -0.8a1.03 1.02 23 1 0 1.9 0.8M1226.96 643.94a1.33 0.87 112 1 0 0.99 -2.46a1.33 0.87 112 1 0 -0.99 2.46M1269.43 738.8a0.81 0.7 56 1 0 -0.91 -1.35a0.81 0.7 56 1 0 0.91 1.35M1360.22 740.43a1.66 1.2 163 1 0 3.18 -0.97a1.66 1.2 163 1 0 -3.18 0.97M1249.87 662.37a1.24 1.21 22 1 0 -2.29 -0.93a1.24 1.21 22 1 0 2.29 0.93M1313.24 753.36a1.67 1.06 33 1 0 -2.81 -1.82a1.67 1.06 33 1 0 2.81 1.82M1211.85 657.17a1.32 0.92 99 1 0 0.41 -2.62a1.32 0.92 99 1 0 -0.41 2.62M1281.78 644.11a0.93 0.63 41 1 0 -1.4 -1.22a0.93 0.63 41 1 0 1.4 1.22M1179.85 706.31a1.34 1.08 106 1 0 0.74 -2.58a1.34 1.08 106 1 0 -0.74 2.58M1282.14 634.73a1.21 1.04 5 1 0 -2.41 -0.21a1.21 1.04 5 1 0 2.41 0.21M1322.5 859.45a1.77 1.75 81 1 0 -0.56 -3.51a1.77 1.75 81 1 0 0.56 3.51M1160.61 810.17a1.64 1.4 102 1 0 0.68 -3.22a1.64 1.4 102 1 0 -0.68 3.22M1182.36 835.86a1.73 1.62 93 1 0 0.18 -3.46a1.73 1.62 93 1 0 -0.18 3.46M1311.67 824.67a1.27 1.25 46 1 0 -1.76 -1.83a1.27 1.25 46 1 0 1.76 1.83M1373.47 772.24a1.57 1.52 76 1 0 -0.76 -3.05a1.57 1.52 76 1 0 0.76 3.05M1161.61 655.85a1.04 0.78 90 1 0 -0 -2.08a1.04 0.78 90 1 0 0 2.08M1154.4 669.61a1.01 0.83 76 1 0 -0.49 -1.96a1.01 0.83 76 1 0 0.49 1.96M1368.16 830.71a1.3 0.96 146 1 0 2.16 -1.46a1.3 0.96 146 1 0 -2.16 1.46M1308.79 876.02a0.83 0.65 162 1 0 1.58 -0.51a0.83 0.65 162 1 0 -1.58 0.51M1386.77 856.13a1.1 0.68 169 1 0 2.16 -0.42a1.1 0.68 169 1 0 -2.16 0.42M1340.66 703.01a1.21 1.11 153 1 0 2.15 -1.1a1.21 1.11 153 1 0 -2.15 1.1M1391.1 852.64a1.13 0.89 87 1 0 -0.12 -2.25a1.13 0.89 87 1 0 0.12 2.25M1332.56 641.27a0.95 0.57 23 1 0 -1.75 -0.74a0.95 0.57 23 1 0 1.75 0.74M1207.34 811.1a1.28 1.07 158 1 0 2.38 -0.96a1.28 1.07 158 1 0 -2.38 0.96M1265.87 632.85a1.13 0.79 100 1 0 0.39 -2.23a1.13 0.79 100 1 0 -0.39 2.23M1275.25 698.13a1.06 0.82 131 1 0 1.4 -1.61a1.06 0.82 131 1 0 -1.4 1.61M1275.54 877.94a1.55 1.12 165 1 0 3 -0.8a1.55 1.12 165 1 0 -3 0.8M1162.91 800.49a1.43 1.1 82 1 0 -0.4 -2.82a1.43 1.1 82 1 0 0.4 2.82M1231.48 685.09a1.67 1.42 145 1 0 2.74 -1.92a1.67 1.42 145 1 0 -2.74 1.92M1220.52 632.71a1.34 0.86 97 1 0 0.33 -2.67a1.34 0.86 97 1 0 -0.33 2.67M1330.94 710.19a1.29 1.06 143 1 0 2.06 -1.55a1.29 1.06 143 1 0 -2.06 1.55M1325.84 728.95a1.63 1.54 43 1 0 -2.38 -2.22a1.63 1.54 43 1 0 2.38 2.22M1348.71 663.22a1.17 1.05 7 1 0 -2.31 -0.28a1.17 1.05 7 1 0 2.31 0.28M1390.79 711.79a1.76 1.57 126 1 0 2.07 -2.84a1.76 1.57 126 1 0 -2.07 2.84M1237 645.44a1.46 1.3 92 1 0 0.1 -2.91a1.46 1.3 92 1 0 -0.1 2.91M1390.83 794.19a0.95 0.9 16 1 0 -1.83 -0.53a0.95 0.9 16 1 0 1.83 0.53M1361.17 840.62a1.36 1.22 148 1 0 2.3 -1.44a1.36 1.22 148 1 0 -2.3 1.44M1239.13 674.49a0.84 0.62 49 1 0 -1.11 -1.27a0.84 0.62 49 1 0 1.11 1.27M1396.66 864.08a0.93 0.63 141 1 0 1.45 -1.17a0.93 0.63 141 1 0 -1.45 1.17M1301.77 780.25a1.46 1.03 179 1 0 2.92 -0.05a1.46 1.03 179 1 0 -2.92 0.05M1308.14 820.46a1.46 0.96 176 1 0 2.92 -0.2a1.46 0.96 176 1 0 -2.92 0.2M1190.73 835.11a0.88 0.59 128 1 0 1.08 -1.38a0.88 0.59 128 1 0 -1.08 1.38M1242.06 722.04a0.95 0.83 78 1 0 -0.4 -1.86a0.95 0.83 78 1 0 0.4 1.86M1386.36 764.51a1.29 1.07 178 1 0 2.58 -0.09a1.29 1.07 178 1 0 -2.58 0.09M1204.59 688.22a1.44 1.24 129 1 0 1.81 -2.24a1.44 1.24 129 1 0 -1.81 2.24M1383.34 853.45a1.07 0.72 117 1 0 0.97 -1.91a1.07 0.72 117 1 0 -0.97 1.91M1184.29 827a1.66 1.62 46 1 0 -2.3 -2.38a1.66 1.62 46 1 0 2.3 2.38M1317.06 766.54a1.06 0.7 26 1 0 -1.91 -0.93a1.06 0.7 26 1 0 1.91 0.93M1368.09 668.61a1.4 0.87 168 1 0 2.74 -0.58a1.4 0.87 168 1 0 -2.74 0.58M1366.46 769.18a1.24 1.12 167 1 0 2.41 -0.56a1.24 1.12 167 1 0 -2.41 0.56M1234.62 632.36a1.33 1.12 1 1 0 -2.66 -0.05a1.33 1.12 1 1 0 2.66 0.05"/>
</g></g>
<clipPath id="ks"><rect x="1454" y="624" width="251.5" height="251.5"/></clipPath>
<rect x="1454" y="624" width="251.5" height="251.5" fill="#e5eced"/>
<g clip-path="url(#ks)"><g filter="url(#cbks)">
<filter id="cbks" x="-5%" y="-5%" width="110%" height="110%"><feGaussianBlur stdDeviation="0.8"/></filter>
<path fill="#a6b6d6" opacity="0.75" d="M1529.2 663.65a6.6 3.47 137 1 0 9.66 -9.01a6.6 3.47 137 1 0 -9.66 9.01M1473.01 646.47a5.7 4.5 31 1 0 -9.77 -5.87a5.7 4.5 31 1 0 9.77 5.87M1617.8 772.17a4.25 2.99 12 1 0 -8.31 -1.77a4.25 2.99 12 1 0 8.31 1.77M1655.18 747.68a7.69 4.82 63 1 0 -6.99 -13.71a7.69 4.82 63 1 0 6.99 13.71M1524.95 878.82a4.47 2.89 87 1 0 -0.47 -8.93a4.47 2.89 87 1 0 0.47 8.93M1543.99 712.62a5.99 4.66 17 1 0 -11.45 -3.5a5.99 4.66 17 1 0 11.45 3.5M1460.37 741.02a4.67 2.53 15 1 0 -9.03 -2.42a4.67 2.53 15 1 0 9.03 2.42M1646.35 657.55a4.99 3.18 127 1 0 6.01 -7.97a4.99 3.18 127 1 0 -6.01 7.97M1636.78 881.76a6.73 4.26 59 1 0 -6.93 -11.54a6.73 4.26 59 1 0 6.93 11.54M1465.79 662.58a6.63 3.35 150 1 0 11.49 -6.63a6.63 3.35 150 1 0 -11.49 6.63M1691.31 799.92a6.06 4.34 173 1 0 12.03 -1.48a6.06 4.34 173 1 0 -12.03 1.48M1557.26 726.68a5.93 3.79 48 1 0 -7.93 -8.81a5.93 3.79 48 1 0 7.93 8.81M1709.51 736.29a4.44 3.15 26 1 0 -7.98 -3.89a4.44 3.15 26 1 0 7.98 3.89M1604.49 761.66a7.8 5.57 18 1 0 -14.83 -4.82a7.8 5.57 18 1 0 14.83 4.82M1466.92 646.8a5.37 3.18 177 1 0 10.73 -0.56a5.37 3.18 177 1 0 -10.73 0.56M1576.2 673.8a7.81 4.89 176 1 0 15.58 -1.09a7.81 4.89 176 1 0 -15.58 1.09M1619.85 784.53a7.15 5.48 49 1 0 -9.39 -10.8a7.15 5.48 49 1 0 9.39 10.8M1662.27 816.9a4.91 3.34 91 1 0 0.17 -9.81a4.91 3.34 91 1 0 -0.17 9.81M1565.64 871.1a7.95 6.63 93 1 0 0.83 -15.88a7.95 6.63 93 1 0 -0.83 15.88M1502.74 680.58a4.79 2.74 159 1 0 8.94 -3.43a4.79 2.74 159 1 0 -8.94 3.43M1567.36 790.82a7.2 3.81 169 1 0 14.13 -2.75a7.2 3.81 169 1 0 -14.13 2.75M1560.01 869.35a6.9 3.86 32 1 0 -11.7 -7.31a6.9 3.86 32 1 0 11.7 7.31M1626.75 711.25a6.19 3.38 3 1 0 -12.37 -0.65a6.19 3.38 3 1 0 12.37 0.65M1590.02 866.92a5.74 4.62 54 1 0 -6.74 -9.28a5.74 4.62 54 1 0 6.74 9.28M1661.74 851.35a4.52 2.5 130 1 0 5.81 -6.93a4.52 2.5 130 1 0 -5.81 6.93M1681.56 825.46a6.43 4.96 38 1 0 -10.14 -7.92a6.43 4.96 38 1 0 10.14 7.92M1655.65 653.4a6.24 3.66 70 1 0 -4.27 -11.73a6.24 3.66 70 1 0 4.27 11.73M1688.14 856.29a4.81 3.16 106 1 0 2.65 -9.25a4.81 3.16 106 1 0 -2.65 9.25M1590.07 640.16a7.94 6.16 26 1 0 -14.27 -6.96a7.94 6.16 26 1 0 14.27 6.96M1630.45 647.24a4.23 3.13 108 1 0 2.61 -8.05a4.23 3.13 108 1 0 -2.61 8.05M1515.84 626.21a4.35 2.57 155 1 0 7.89 -3.68a4.35 2.57 155 1 0 -7.89 3.68M1692.66 693.46a4.52 3.09 61 1 0 -4.38 -7.9a4.52 3.09 61 1 0 4.38 7.9M1655.94 881.3a4.15 2.1 129 1 0 5.22 -6.45a4.15 2.1 129 1 0 -5.22 6.45M1621.93 769.05a7.55 6.34 78 1 0 -3.14 -14.78a7.55 6.34 78 1 0 3.14 14.78M1697.97 711.2a7.33 5.48 162 1 0 13.94 -4.53a7.33 5.48 162 1 0 -13.94 4.53M1451.68 719.76a5.32 4.49 82 1 0 -1.48 -10.53a5.32 4.49 82 1 0 1.48 10.53M1478.39 692.5a6.62 3.89 1 1 0 -13.25 -0.23a6.62 3.89 1 1 0 13.25 0.23M1642.8 809.25a5.98 3.58 158 1 0 11.08 -4.48a5.98 3.58 158 1 0 -11.08 4.48M1453.8 836.89a7.57 5.45 179 1 0 15.13 -0.26a7.57 5.45 179 1 0 -15.13 0.26M1692.37 815.81a6.27 4.92 4 1 0 -12.52 -0.88a6.27 4.92 4 1 0 12.52 0.88M1445.75 831.77a6.99 4.73 137 1 0 10.23 -9.54a6.99 4.73 137 1 0 -10.23 9.54M1676.92 641.37a7.64 4.59 11 1 0 -15 -2.92a7.64 4.59 11 1 0 15 2.92M1471.23 663.14a5.02 3.81 77 1 0 -2.26 -9.77a5.02 3.81 77 1 0 2.26 9.77M1448.17 636.01a5.08 3.73 177 1 0 10.14 -0.53a5.08 3.73 177 1 0 -10.14 0.53M1622.41 700.78a6.07 4.02 119 1 0 5.88 -10.61a6.07 4.02 119 1 0 -5.88 10.61M1705.06 766.98a5.25 2.78 121 1 0 5.4 -8.99a5.25 2.78 121 1 0 -5.4 8.99M1480.37 711.18a5.3 3.28 101 1 0 2.02 -10.4a5.3 3.28 101 1 0 -2.02 10.4M1667.68 694.13a4.21 3.08 162 1 0 8 -2.6a4.21 3.08 162 1 0 -8 2.6M1674.4 834.81a6.52 5.35 141 1 0 10.14 -8.21a6.52 5.35 141 1 0 -10.14 8.21M1521.55 693.14a6.95 5.07 103 1 0 3.13 -13.55a6.95 5.07 103 1 0 -3.13 13.55M1532.28 768.28a5.58 3.12 41 1 0 -8.42 -7.32a5.58 3.12 41 1 0 8.42 7.32M1556.99 765.21a4.98 2.79 142 1 0 7.84 -6.13a4.98 2.79 142 1 0 -7.84 6.13M1517.76 872.58a4.5 3.05 161 1 0 8.52 -2.93a4.5 3.05 161 1 0 -8.52 2.93M1509.88 648.78a4.62 3.15 174 1 0 9.18 -0.97a4.62 3.15 174 1 0 -9.18 0.97M1691.33 813.16a6.59 5.06 117 1 0 5.98 -11.74a6.59 5.06 117 1 0 -5.98 11.74M1705.15 785.44a6.11 3.99 28 1 0 -10.79 -5.74a6.11 3.99 28 1 0 10.79 5.74M1471.7 761.4a6.33 4.03 57 1 0 -6.9 -10.62a6.33 4.03 57 1 0 6.9 10.62M1447.07 699.76a5.84 4.88 165 1 0 11.29 -3.02a5.84 4.88 165 1 0 -11.29 3.02M1637.95 719.39a5.59 2.81 74 1 0 -3.08 -10.74a5.59 2.81 74 1 0 3.08 10.74M1504.42 821.53a5.18 4.32 126 1 0 6.09 -8.38a5.18 4.32 126 1 0 -6.09 8.38M1675.89 749.46a7.64 3.97 152 1 0 13.49 -7.18a7.64 3.97 152 1 0 -13.49 7.18M1688.11 638.04a4.09 2.9 106 1 0 2.26 -7.87a4.09 2.9 106 1 0 -2.26 7.87M1635.22 673.49a5.8 4.34 80 1 0 -2.01 -11.42a5.8 4.34 80 1 0 2.01 11.42M1498.31 623.38a5.12 3.19 31 1 0 -8.78 -5.27a5.12 3.19 31 1 0 8.78 5.27M1553.5 821.45a5.23 4.09 22 1 0 -9.71 -3.92a5.23 4.09 22 1 0 9.71 3.92M1462.34 632.9a4.25 3.49 65 1 0 -3.59 -7.7a4.25 3.49 65 1 0 3.59 7.7M1638.99 855.27a5.36 3.19 157 1 0 9.86 -4.19a5.36 3.19 157 1 0 -9.86 4.19M1523.3 805.97a5.27 3.14 0 1 0 -10.53 -0a5.27 3.14 0 1 0 10.53 0M1547.21 825.77a4.32 2.46 40 1 0 -6.61 -5.55a4.32 2.46 40 1 0 6.61 5.55M1604.08 796.15a6.99 5.57 170 1 0 13.77 -2.43a6.99 5.57 170 1 0 -13.77 2.43M1497.47 686.85a4.98 2.76 148 1 0 8.45 -5.28a4.98 2.76 148 1 0 -8.45 5.28M1538.79 729.61a7.97 5.4 59 1 0 -8.21 -13.66a7.97 5.4 59 1 0 8.21 13.66M1690.74 634.32a5.17 2.8 48 1 0 -6.93 -7.69a5.17 2.8 48 1 0 6.93 7.69M1694.42 723.41a7.46 4.91 66 1 0 -6.07 -13.64a7.46 4.91 66 1 0 6.07 13.64M1481.81 674.15a5.02 3.56 166 1 0 9.74 -2.43a5.02 3.56 166 1 0 -9.74 2.43M1468.78 633.97a5.98 4 104 1 0 2.89 -11.61a5.98 4 104 1 0 -2.89 11.61M1652.02 793.35a4.62 3.17 167 1 0 9 -2.08a4.62 3.17 167 1 0 -9 2.08M1551.03 698.01a7.95 5.84 106 1 0 4.38 -15.29a7.95 5.84 106 1 0 -4.38 15.29M1530.77 772.43a5.43 3.51 93 1 0 0.57 -10.84a5.43 3.51 93 1 0 -0.57 10.84M1484.23 647.62a6.31 3.96 41 1 0 -9.53 -8.28a6.31 3.96 41 1 0 9.53 8.28M1645.26 668.23a5.39 3 43 1 0 -7.89 -7.35a5.39 3 43 1 0 7.89 7.35M1465.94 806.82a6.75 5.48 163 1 0 12.92 -3.95a6.75 5.48 163 1 0 -12.92 3.95M1607.29 782.33a4.78 3.18 144 1 0 7.74 -5.62a4.78 3.18 144 1 0 -7.74 5.62M1464.47 866.4a4.63 2.89 38 1 0 -7.29 -5.7a4.63 2.89 38 1 0 7.29 5.7M1697.17 832.33a4.77 3.86 172 1 0 9.45 -1.33a4.77 3.86 172 1 0 -9.45 1.33M1578.73 669.9a4.01 3.39 119 1 0 3.89 -7.02a4.01 3.39 119 1 0 -3.89 7.02M1475.55 658.6a5.72 3.04 113 1 0 4.47 -10.53a5.72 3.04 113 1 0 -4.47 10.53M1455.61 659.7a7.69 4.69 130 1 0 9.88 -11.78a7.69 4.69 130 1 0 -9.88 11.78M1468.65 753.85a5.51 4.59 34 1 0 -9.14 -6.16a5.51 4.59 34 1 0 9.14 6.16M1676.96 883.72a6.93 5.44 49 1 0 -9.09 -10.46a6.93 5.44 49 1 0 9.09 10.46M1710.57 752.88a7.83 6.42 42 1 0 -11.63 -10.47a7.83 6.42 42 1 0 11.63 10.47"/>
<path fill="#b6c4dc" opacity="0.75" d="M1542.74 640.68a6.03 3.09 111 1 0 4.32 -11.26a6.03 3.09 111 1 0 -4.32 11.26M1466.56 845.35a5.16 2.84 30 1 0 -8.93 -5.16a5.16 2.84 30 1 0 8.93 5.16M1598.34 800.26a4.41 3.09 48 1 0 -5.9 -6.56a4.41 3.09 48 1 0 5.9 6.56M1471.52 809.79a6.26 4.48 127 1 0 7.53 -9.99a6.26 4.48 127 1 0 -7.53 9.99M1631.72 689.63a6.3 4.31 87 1 0 -0.66 -12.58a6.3 4.31 87 1 0 0.66 12.58M1686 734.26a7.85 4.14 142 1 0 12.37 -9.66a7.85 4.14 142 1 0 -12.37 9.66M1688.49 743.14a6.66 3.47 179 1 0 13.31 -0.23a6.66 3.47 179 1 0 -13.31 0.23M1616.92 884.93a7.29 4.37 98 1 0 2.03 -14.43a7.29 4.37 98 1 0 -2.03 14.43M1491.42 729.03a5.11 2.8 110 1 0 3.5 -9.61a5.11 2.8 110 1 0 -3.5 9.61M1513.59 624.4a5.68 3.57 144 1 0 9.18 -6.67a5.68 3.57 144 1 0 -9.18 6.67M1562.26 850.72a7.81 5.76 143 1 0 12.47 -9.4a7.81 5.76 143 1 0 -12.47 9.4M1609.09 663.55a5.01 3.11 93 1 0 0.52 -10a5.01 3.11 93 1 0 -0.52 10M1477.54 846.99a7.97 5.29 123 1 0 8.68 -13.37a7.97 5.29 123 1 0 -8.68 13.37M1649.41 703.36a6.57 3.5 66 1 0 -5.35 -12.01a6.57 3.5 66 1 0 5.35 12.01M1682.68 716.16a4.89 3.37 128 1 0 6.02 -7.71a4.89 3.37 128 1 0 -6.02 7.71M1701.51 827.62a5.89 3.34 154 1 0 10.59 -5.16a5.89 3.34 154 1 0 -10.59 5.16M1691.04 827.96a7 4.67 45 1 0 -9.9 -9.9a7 4.67 45 1 0 9.9 9.9M1653.41 713.36a7.2 6.05 101 1 0 2.75 -14.14a7.2 6.05 101 1 0 -2.75 14.14M1482.84 858.2a7.23 3.98 152 1 0 12.76 -6.78a7.23 3.98 152 1 0 -12.76 6.78M1517.37 700.56a4.96 3.5 66 1 0 -4.04 -9.07a4.96 3.5 66 1 0 4.04 9.07M1659.64 637.13a6.96 5.67 169 1 0 13.66 -2.66a6.96 5.67 169 1 0 -13.66 2.66M1482.28 781.13a4.48 2.34 174 1 0 8.91 -0.94a4.48 2.34 174 1 0 -8.91 0.94M1656.41 753.47a6.25 4.79 16 1 0 -12.01 -3.44a6.25 4.79 16 1 0 12.01 3.44M1536.69 878.62a6.42 3.66 70 1 0 -4.39 -12.07a6.42 3.66 70 1 0 4.39 12.07M1577.75 833.92a6.03 3.54 133 1 0 8.23 -8.82a6.03 3.54 133 1 0 -8.23 8.82M1555.75 707.4a6.68 4.34 54 1 0 -7.86 -10.82a6.68 4.34 54 1 0 7.86 10.82M1648.9 853.66a4.62 3.47 169 1 0 9.07 -1.76a4.62 3.47 169 1 0 -9.07 1.76M1494.29 852.3a7.87 4.54 24 1 0 -14.38 -6.4a7.87 4.54 24 1 0 14.38 6.4M1677.36 668.51a6.67 3.86 110 1 0 4.56 -12.54a6.67 3.86 110 1 0 -4.56 12.54M1543.26 671.16a5.27 3.97 4 1 0 -10.52 -0.74a5.27 3.97 4 1 0 10.52 0.74M1589.97 735.76a4.07 2.51 159 1 0 7.6 -2.92a4.07 2.51 159 1 0 -7.6 2.92M1524.88 634.15a7.12 4.23 33 1 0 -11.94 -7.75a7.12 4.23 33 1 0 11.94 7.75M1664.78 800.72a7.78 5 137 1 0 11.39 -10.62a7.78 5 137 1 0 -11.39 10.62M1462.77 847.55a5.82 3.6 141 1 0 9.04 -7.32a5.82 3.6 141 1 0 -9.04 7.32M1697.07 689.58a4.72 3.9 160 1 0 8.88 -3.23a4.72 3.9 160 1 0 -8.88 3.23M1589.89 678.82a5.78 4.25 69 1 0 -4.14 -10.8a5.78 4.25 69 1 0 4.14 10.8M1577.83 685.15a5.79 4.23 166 1 0 11.23 -2.8a5.79 4.23 166 1 0 -11.23 2.8M1559.03 711.49a4.22 2.3 18 1 0 -8.02 -2.61a4.22 2.3 18 1 0 8.02 2.61M1557.59 639.55a6.66 4.22 129 1 0 8.38 -10.35a6.66 4.22 129 1 0 -8.38 10.35M1606.95 803.63a4.18 2.36 68 1 0 -3.13 -7.75a4.18 2.36 68 1 0 3.13 7.75M1459.36 853.83a4.87 2.75 85 1 0 -0.85 -9.71a4.87 2.75 85 1 0 0.85 9.71M1524.13 643.78a5.6 2.88 5 1 0 -11.15 -0.98a5.6 2.88 5 1 0 11.15 0.98M1533.88 684.41a6.34 4.35 39 1 0 -9.86 -7.98a6.34 4.35 39 1 0 9.86 7.98M1471.4 637.38a6.55 5.47 96 1 0 1.37 -13.03a6.55 5.47 96 1 0 -1.37 13.03M1591.21 788.23a6.5 4.8 125 1 0 7.46 -10.66a6.5 4.8 125 1 0 -7.46 10.66M1627.66 639.4a6.95 4.09 19 1 0 -13.14 -4.52a6.95 4.09 19 1 0 13.14 4.52M1508.69 820.68a4.92 3.58 117 1 0 4.47 -8.77a4.92 3.58 117 1 0 -4.47 8.77M1527.41 645.43a6.03 5.11 68 1 0 -4.52 -11.18a6.03 5.11 68 1 0 4.52 11.18M1508.37 868.23a4.84 3.41 36 1 0 -7.84 -5.69a4.84 3.41 36 1 0 7.84 5.69M1703.66 657.83a7.28 4.94 28 1 0 -12.86 -6.84a7.28 4.94 28 1 0 12.86 6.84M1515.99 852.95a5.94 3.02 0 1 0 -11.89 -0a5.94 3.02 0 1 0 11.89 0M1626.15 732.08a6.91 4.46 96 1 0 1.44 -13.74a6.91 4.46 96 1 0 -1.44 13.74M1695.67 674.43a4.05 3.07 64 1 0 -3.55 -7.27a4.05 3.07 64 1 0 3.55 7.27M1464.43 728.32a7.48 3.94 109 1 0 4.87 -14.14a7.48 3.94 109 1 0 -4.87 14.14M1514.17 694.98a6.04 3.42 95 1 0 1.05 -12.04a6.04 3.42 95 1 0 -1.05 12.04M1642.41 636.81a6.93 4.56 35 1 0 -11.35 -7.95a6.93 4.56 35 1 0 11.35 7.95M1574.3 862.6a6.2 3.47 106 1 0 3.42 -11.92a6.2 3.47 106 1 0 -3.42 11.92M1504.46 861.06a5.99 3.46 85 1 0 -1.04 -11.93a5.99 3.46 85 1 0 1.04 11.93M1540.07 716.21a7.24 4.13 5 1 0 -14.42 -1.26a7.24 4.13 5 1 0 14.42 1.26M1554.02 814.8a4.84 2.88 15 1 0 -9.35 -2.51a4.84 2.88 15 1 0 9.35 2.51M1472.14 857.92a5.54 4.02 110 1 0 3.79 -10.41a5.54 4.02 110 1 0 -3.79 10.41M1668.13 850.02a4.09 2.09 121 1 0 4.21 -7.01a4.09 2.09 121 1 0 -4.21 7.01M1446.31 728.34a7.71 6.08 119 1 0 7.47 -13.48a7.71 6.08 119 1 0 -7.47 13.48M1600.16 631.38a7.13 4.14 9 1 0 -14.08 -2.23a7.13 4.14 9 1 0 14.08 2.23M1568.5 682.13a4.99 4.17 166 1 0 9.68 -2.41a4.99 4.17 166 1 0 -9.68 2.41M1471.44 672.95a7.54 5.48 20 1 0 -14.17 -5.16a7.54 5.48 20 1 0 14.17 5.16M1503.65 730.3a5.48 3.69 178 1 0 10.96 -0.38a5.48 3.69 178 1 0 -10.96 0.38M1505.96 876.18a5.25 4.13 59 1 0 -5.4 -8.99a5.25 4.13 59 1 0 5.4 8.99M1705.17 865.57a5.32 3 134 1 0 7.39 -7.65a5.32 3 134 1 0 -7.39 7.65M1458.85 797.9a5.51 3.48 84 1 0 -1.15 -10.97a5.51 3.48 84 1 0 1.15 10.97M1633.87 676.89a6.17 4.05 82 1 0 -1.72 -12.21a6.17 4.05 82 1 0 1.72 12.21M1635.2 745.37a6.53 3.83 160 1 0 12.27 -4.46a6.53 3.83 160 1 0 -12.27 4.46M1455.47 686.53a5.9 4.93 98 1 0 1.64 -11.69a5.9 4.93 98 1 0 -1.64 11.69M1691.59 831.6a4.53 3.05 2 1 0 -9.06 -0.32a4.53 3.05 2 1 0 9.06 0.32M1664.51 826.89a6.43 3.95 81 1 0 -2.01 -12.7a6.43 3.95 81 1 0 2.01 12.7M1560.29 792.45a5.93 4.09 41 1 0 -8.95 -7.78a5.93 4.09 41 1 0 8.95 7.78M1683.88 878.4a5.06 2.68 24 1 0 -9.24 -4.12a5.06 2.68 24 1 0 9.24 4.12M1577.76 809.75a5.79 3.37 106 1 0 3.19 -11.13a5.79 3.37 106 1 0 -3.19 11.13M1654.51 700.91a5.12 3.04 65 1 0 -4.33 -9.28a5.12 3.04 65 1 0 4.33 9.28M1621.81 880.93a4.41 2.94 59 1 0 -4.54 -7.56a4.41 2.94 59 1 0 4.54 7.56M1477 781.16a6.48 3.73 94 1 0 0.9 -12.93a6.48 3.73 94 1 0 -0.9 12.93M1656.2 834.6a5.64 3.55 158 1 0 10.45 -4.22a5.64 3.55 158 1 0 -10.45 4.22M1557.35 730.08a7.77 5.06 40 1 0 -11.9 -9.99a7.77 5.06 40 1 0 11.9 9.99M1459.93 765.59a6.56 5.37 22 1 0 -12.17 -4.92a6.56 5.37 22 1 0 12.17 4.92M1482.87 752.82a7.22 6.05 50 1 0 -9.28 -11.06a7.22 6.05 50 1 0 9.28 11.06M1490.57 866.51a7.9 5.29 13 1 0 -15.4 -3.56a7.9 5.29 13 1 0 15.4 3.56M1618.1 706.03a5.56 3.67 160 1 0 10.45 -3.8a5.56 3.67 160 1 0 -10.45 3.8M1618.07 704.97a5 3.18 94 1 0 0.7 -9.97a5 3.18 94 1 0 -0.7 9.97M1562.2 786.76a7.28 5.77 121 1 0 7.49 -12.47a7.28 5.77 121 1 0 -7.49 12.47"/>
<path fill="#6585c6" opacity="0.88" d="M1555.02 715.98a3.69 2.29 156 1 0 6.74 -3a3.69 2.29 156 1 0 -6.74 3M1489.05 864.87a4.47 2.25 24 1 0 -8.18 -3.64a4.47 2.25 24 1 0 8.18 3.64M1618.21 852.2a6.63 3.92 67 1 0 -5.18 -12.2a6.63 3.92 67 1 0 5.18 12.2M1611.66 754.31a5.47 2.78 0 1 0 -10.94 -0a5.47 2.78 0 1 0 10.94 0M1469.78 628.41a4.24 2.15 26 1 0 -7.63 -3.72a4.24 2.15 26 1 0 7.63 3.72M1632.31 627.66a6.88 4.89 119 1 0 6.67 -12.03a6.88 4.89 119 1 0 -6.67 12.03M1644.75 741.2a4.4 2.14 59 1 0 -4.54 -7.55a4.4 2.14 59 1 0 4.54 7.55M1484.8 857.91a7.2 5.62 67 1 0 -5.63 -13.26a7.2 5.62 67 1 0 5.63 13.26M1522.26 866.46a7.08 3.4 129 1 0 8.91 -11a7.08 3.4 129 1 0 -8.91 11M1463.39 652.56a5.99 3.03 36 1 0 -9.69 -7.04a5.99 3.03 36 1 0 9.69 7.04M1463.82 657.69a6.07 2.82 17 1 0 -11.62 -3.55a6.07 2.82 17 1 0 11.62 3.55M1463.5 776.67a4.95 3.65 136 1 0 7.13 -6.88a4.95 3.65 136 1 0 -7.13 6.88M1495.78 631.04a7.3 5.61 162 1 0 13.88 -4.51a7.3 5.61 162 1 0 -13.88 4.51M1527.82 711.65a4.54 2.6 72 1 0 -2.81 -8.64a4.54 2.6 72 1 0 2.81 8.64M1669.63 783.83a3.62 2.15 111 1 0 2.6 -6.77a3.62 2.15 111 1 0 -2.6 6.77M1498.41 621.31a4.31 3.09 13 1 0 -8.4 -1.94a4.31 3.09 13 1 0 8.4 1.94M1573.27 648.74a6.05 2.89 178 1 0 12.08 -0.42a6.05 2.89 178 1 0 -12.08 0.42M1545.24 852.47a4.43 2.71 136 1 0 6.38 -6.16a4.43 2.71 136 1 0 -6.38 6.16M1621.36 788.3a5.32 2.97 160 1 0 9.99 -3.64a5.32 2.97 160 1 0 -9.99 3.64M1685.28 706.74a3.54 2.63 27 1 0 -6.31 -3.22a3.54 2.63 27 1 0 6.31 3.22M1472.52 773.37a5.66 3.97 131 1 0 7.43 -8.55a5.66 3.97 131 1 0 -7.43 8.55M1591.21 714.22a5.83 3.96 53 1 0 -7.02 -9.31a5.83 3.96 53 1 0 7.02 9.31M1499.11 804.99a5.62 3.99 112 1 0 4.21 -10.43a5.62 3.99 112 1 0 -4.21 10.43M1591.43 692.23a4.44 2.21 126 1 0 5.22 -7.18a4.44 2.21 126 1 0 -5.22 7.18M1580.38 859.18a6.3 3.38 42 1 0 -9.37 -8.43a6.3 3.38 42 1 0 9.37 8.43M1615.7 633.31a5.94 4.09 84 1 0 -1.24 -11.81a5.94 4.09 84 1 0 1.24 11.81M1603.78 783.32a6.29 4.14 174 1 0 12.5 -1.31a6.29 4.14 174 1 0 -12.5 1.31M1683.54 634.54a3.63 1.71 166 1 0 7.04 -1.76a3.63 1.71 166 1 0 -7.04 1.76M1547.63 705.98a5.9 4.63 124 1 0 6.6 -9.78a5.9 4.63 124 1 0 -6.6 9.78M1519.58 622.71a4.55 2.72 150 1 0 7.88 -4.55a4.55 2.72 150 1 0 -7.88 4.55M1609.76 800.71a5.36 2.8 65 1 0 -4.53 -9.72a5.36 2.8 65 1 0 4.53 9.72M1650.38 664.9a5.89 3.36 132 1 0 7.88 -8.75a5.89 3.36 132 1 0 -7.88 8.75M1519.93 631.37a4.3 2.21 21 1 0 -8.04 -3.08a4.3 2.21 21 1 0 8.04 3.08M1691.29 806.61a3.86 2.17 59 1 0 -3.98 -6.62a3.86 2.17 59 1 0 3.98 6.62M1555.28 720.26a5.02 3.03 36 1 0 -8.12 -5.9a5.02 3.03 36 1 0 8.12 5.9M1575.16 862.37a6.7 3.38 56 1 0 -7.49 -11.1a6.7 3.38 56 1 0 7.49 11.1M1689.5 851.37a7.05 3.52 114 1 0 5.74 -12.89a7.05 3.52 114 1 0 -5.74 12.89M1666.95 748.91a6.01 3.01 56 1 0 -6.72 -9.97a6.01 3.01 56 1 0 6.72 9.97M1656.53 690.95a3.94 2.4 123 1 0 4.29 -6.6a3.94 2.4 123 1 0 -4.29 6.6M1711.94 862.61a3.89 2.14 41 1 0 -5.87 -5.1a3.89 2.14 41 1 0 5.87 5.1M1664.92 757.38a4.42 2.26 153 1 0 7.88 -4.01a4.42 2.26 153 1 0 -7.88 4.01M1615.36 664.14a4.75 3.06 7 1 0 -9.42 -1.16a4.75 3.06 7 1 0 9.42 1.16M1588.46 805.1a3.91 2.95 45 1 0 -5.53 -5.53a3.91 2.95 45 1 0 5.53 5.53M1526.01 743.37a5.84 4.19 28 1 0 -10.32 -5.49a5.84 4.19 28 1 0 10.32 5.49M1708.77 822.78a7.25 4.87 10 1 0 -14.28 -2.52a7.25 4.87 10 1 0 14.28 2.52M1667.89 783.58a7.17 4.79 160 1 0 13.48 -4.91a7.17 4.79 160 1 0 -13.48 4.91M1570.73 768.06a5.95 3.65 79 1 0 -2.27 -11.68a5.95 3.65 79 1 0 2.27 11.68M1660.13 807.01a7.16 3.54 26 1 0 -12.87 -6.28a7.16 3.54 26 1 0 12.87 6.28M1584.17 760.47a6.24 3.66 91 1 0 0.22 -12.48a6.24 3.66 91 1 0 -0.22 12.48M1629.26 817.57a3.87 2.23 93 1 0 0.4 -7.73a3.87 2.23 93 1 0 -0.4 7.73M1668.63 675.75a7.07 4.2 15 1 0 -13.66 -3.66a7.07 4.2 15 1 0 13.66 3.66M1540.09 883.72a6.05 2.81 105 1 0 3.13 -11.68a6.05 2.81 105 1 0 -3.13 11.68M1611.68 658.4a5.57 3.5 7 1 0 -11.06 -1.36a5.57 3.5 7 1 0 11.06 1.36M1467.89 871.1a5.46 3.35 110 1 0 3.74 -10.26a5.46 3.35 110 1 0 -3.74 10.26M1516.32 631.63a6.01 4.52 149 1 0 10.31 -6.2a6.01 4.52 149 1 0 -10.31 6.2M1539.58 741.68a5.04 2.37 101 1 0 1.92 -9.9a5.04 2.37 101 1 0 -1.92 9.9M1560.28 729.04a6.35 2.91 62 1 0 -5.96 -11.21a6.35 2.91 62 1 0 5.96 11.21M1594.45 655.3a5.64 3.3 103 1 0 2.54 -10.98a5.64 3.3 103 1 0 -2.54 10.98M1699.26 650.17a6.55 4.45 10 1 0 -12.91 -2.28a6.55 4.45 10 1 0 12.91 2.28M1702.91 800.38a3.65 2.05 88 1 0 -0.25 -7.29a3.65 2.05 88 1 0 0.25 7.29M1594.54 876.95a6.05 3.87 63 1 0 -5.49 -10.78a6.05 3.87 63 1 0 5.49 10.78M1698.16 753.36a6.64 3.73 91 1 0 0.23 -13.27a6.64 3.73 91 1 0 -0.23 13.27M1510.82 636.32a5.77 3.86 103 1 0 2.59 -11.24a5.77 3.86 103 1 0 -2.59 11.24M1696.54 753.63a5.5 2.78 76 1 0 -2.66 -10.67a5.5 2.78 76 1 0 2.66 10.67M1485.98 683a4.05 2.73 102 1 0 1.69 -7.93a4.05 2.73 102 1 0 -1.69 7.93M1703.59 846.15a5.42 2.85 95 1 0 0.94 -10.79a5.42 2.85 95 1 0 -0.94 10.79M1447.99 834.05a6.2 4.02 120 1 0 6.2 -10.74a6.2 4.02 120 1 0 -6.2 10.74M1704.18 678.47a6.5 3.43 64 1 0 -5.7 -11.68a6.5 3.43 64 1 0 5.7 11.68M1585.17 804.5a6.44 4.95 145 1 0 10.55 -7.39a6.44 4.95 145 1 0 -10.55 7.39M1666.85 801.61a6.7 3.33 128 1 0 8.25 -10.56a6.7 3.33 128 1 0 -8.25 10.56M1551.93 781.46a5.12 2.39 10 1 0 -10.08 -1.78a5.12 2.39 10 1 0 10.08 1.78M1488.76 813.95a4.87 3.49 174 1 0 9.68 -1.02a4.87 3.49 174 1 0 -9.68 1.02M1457.79 778.39a3.9 2.5 154 1 0 7.01 -3.42a3.9 2.5 154 1 0 -7.01 3.42M1452.58 880.94a5.26 3.82 124 1 0 5.88 -8.72a5.26 3.82 124 1 0 -5.88 8.72M1457.65 709.42a4.1 2.57 8 1 0 -8.13 -1.14a4.1 2.57 8 1 0 8.13 1.14M1626.86 739.69a4.42 3.47 132 1 0 5.91 -6.56a4.42 3.47 132 1 0 -5.91 6.56M1539.23 758.78a4.75 2.35 159 1 0 8.86 -3.4a4.75 2.35 159 1 0 -8.86 3.4M1695.82 705.68a4.84 3 58 1 0 -5.13 -8.21a4.84 3 58 1 0 5.13 8.21M1637.1 691.2a5.79 3.94 87 1 0 -0.61 -11.56a5.79 3.94 87 1 0 0.61 11.56M1677.82 790.52a4.29 3.03 33 1 0 -7.19 -4.67a4.29 3.03 33 1 0 7.19 4.67M1476.39 833.97a7 3.99 34 1 0 -11.61 -7.83a7 3.99 34 1 0 11.61 7.83M1656.45 876.61a5.1 3.97 3 1 0 -10.18 -0.53a5.1 3.97 3 1 0 10.18 0.53M1560.23 877.81a7.25 4.85 31 1 0 -12.43 -7.47a7.25 4.85 31 1 0 12.43 7.47M1646.68 858.87a6.98 5.23 41 1 0 -10.54 -9.16a6.98 5.23 41 1 0 10.54 9.16M1688.14 721.41a4.35 3.16 6 1 0 -8.65 -0.91a4.35 3.16 6 1 0 8.65 0.91M1702.84 629.59a7.15 3.59 90 1 0 -0 -14.29a7.15 3.59 90 1 0 0 14.29M1675.45 875.46a3.63 1.93 160 1 0 6.83 -2.48a3.63 1.93 160 1 0 -6.83 2.48M1463.81 752.93a4.43 2.66 26 1 0 -7.96 -3.88a4.43 2.66 26 1 0 7.96 3.88M1582.16 622.03a4.4 2.81 162 1 0 8.36 -2.72a4.4 2.81 162 1 0 -8.36 2.72M1643.82 692.07a4.21 2.28 17 1 0 -8.05 -2.46a4.21 2.28 17 1 0 8.05 2.46M1503.47 638.59a6.66 5.21 68 1 0 -4.99 -12.35a6.66 5.21 68 1 0 4.99 12.35M1554.68 663.09a6.54 4.96 36 1 0 -10.59 -7.69a6.54 4.96 36 1 0 10.59 7.69M1668.04 792.69a3.85 2.57 8 1 0 -7.62 -1.07a3.85 2.57 8 1 0 7.62 1.07M1610.14 720.11a3.68 2.22 93 1 0 0.38 -7.34a3.68 2.22 93 1 0 -0.38 7.34M1559.25 728.37a7.24 4.89 6 1 0 -14.41 -1.51a7.24 4.89 6 1 0 14.41 1.51M1653.37 821.08a3.97 2.09 19 1 0 -7.51 -2.59a3.97 2.09 19 1 0 7.51 2.59M1587.39 628.43a7.45 4.07 67 1 0 -5.83 -13.72a7.45 4.07 67 1 0 5.83 13.72M1631.05 663.15a7.22 4.11 116 1 0 6.33 -12.98a7.22 4.11 116 1 0 -6.33 12.98"/>
<path fill="#5576bd" opacity="0.88" d="M1682.47 742.27a4.52 3.56 122 1 0 4.79 -7.66a4.52 3.56 122 1 0 -4.79 7.66M1606.46 783.23a4.45 2.58 50 1 0 -5.72 -6.82a4.45 2.58 50 1 0 5.72 6.82M1554.22 789.78a4.61 2.61 96 1 0 0.96 -9.18a4.61 2.61 96 1 0 -0.96 9.18M1455.7 625.6a4.92 2.4 91 1 0 0.17 -9.84a4.92 2.4 91 1 0 -0.17 9.84M1555.16 701.61a4.03 2.33 121 1 0 4.16 -6.92a4.03 2.33 121 1 0 -4.16 6.92M1659.07 725.59a5.84 3.78 43 1 0 -8.54 -7.97a5.84 3.78 43 1 0 8.54 7.97M1681.17 821.78a6.34 3.71 63 1 0 -5.76 -11.31a6.34 3.71 63 1 0 5.76 11.31M1668.32 785.85a4.65 2.25 25 1 0 -8.43 -3.93a4.65 2.25 25 1 0 8.43 3.93M1701.81 758.38a5.81 2.94 54 1 0 -6.83 -9.4a5.81 2.94 54 1 0 6.83 9.4M1677.29 629.37a4.32 2.34 139 1 0 6.53 -5.67a4.32 2.34 139 1 0 -6.53 5.67M1570.9 854.03a4.45 2.3 77 1 0 -2 -8.68a4.45 2.3 77 1 0 2 8.68M1637.82 879.34a6.39 4.23 89 1 0 -0.22 -12.78a6.39 4.23 89 1 0 0.22 12.78M1515.37 870.02a4.53 3.56 26 1 0 -8.15 -3.98a4.53 3.56 26 1 0 8.15 3.98M1625.96 773.49a6.09 4.54 170 1 0 11.99 -2.11a6.09 4.54 170 1 0 -11.99 2.11M1668.04 747.93a3.58 2.69 132 1 0 4.79 -5.32a3.58 2.69 132 1 0 -4.79 5.32M1613.44 840.14a5.59 3.32 116 1 0 4.9 -10.04a5.59 3.32 116 1 0 -4.9 10.04M1693.08 785.93a6.2 4.05 27 1 0 -11.05 -5.63a6.2 4.05 27 1 0 11.05 5.63M1498.73 655.59a6.61 4.84 162 1 0 12.57 -4.08a6.61 4.84 162 1 0 -12.57 4.08M1651.29 685.78a6.32 4.36 109 1 0 4.11 -11.95a6.32 4.36 109 1 0 -4.11 11.95M1532.91 751.83a5.99 2.88 92 1 0 0.42 -11.98a5.99 2.88 92 1 0 -0.42 11.98M1691.46 845.43a3.73 2.76 83 1 0 -0.91 -7.4a3.73 2.76 83 1 0 0.91 7.4M1622.23 688.23a3.91 1.95 59 1 0 -4.02 -6.7a3.91 1.95 59 1 0 4.02 6.7M1648.49 712.76a4.11 3.15 136 1 0 5.91 -5.71a4.11 3.15 136 1 0 -5.91 5.71M1580.55 752.59a7.09 3.27 106 1 0 3.91 -13.63a7.09 3.27 106 1 0 -3.91 13.63M1534.42 847.18a4.96 3.06 134 1 0 6.9 -7.14a4.96 3.06 134 1 0 -6.9 7.14M1509.98 795.34a5.33 3.82 25 1 0 -9.66 -4.51a5.33 3.82 25 1 0 9.66 4.51M1677.33 660.61a4.74 3.31 77 1 0 -2.13 -9.23a4.74 3.31 77 1 0 2.13 9.23M1560.92 624.72a5.05 3.32 168 1 0 9.88 -2.1a5.05 3.32 168 1 0 -9.88 2.1M1575.68 730.18a3.91 2.64 54 1 0 -4.59 -6.32a3.91 2.64 54 1 0 4.59 6.32M1615.96 732.13a3.54 2.42 22 1 0 -6.56 -2.65a3.54 2.42 22 1 0 6.56 2.65M1636.66 668.83a3.7 2.67 177 1 0 7.39 -0.39a3.7 2.67 177 1 0 -7.39 0.39M1536.84 870.49a6.41 3.94 42 1 0 -9.53 -8.58a6.41 3.94 42 1 0 9.53 8.58M1659.14 740.36a3.85 2.82 16 1 0 -7.4 -2.12a3.85 2.82 16 1 0 7.4 2.12M1548.18 769.62a5.11 3.22 38 1 0 -8.05 -6.29a5.11 3.22 38 1 0 8.05 6.29M1468.37 676.6a6.98 4.52 150 1 0 12.1 -6.98a6.98 4.52 150 1 0 -12.1 6.98M1513.33 824.72a5.2 4.07 151 1 0 9.1 -5.05a5.2 4.07 151 1 0 -9.1 5.05M1584.5 741.33a6.66 5.2 73 1 0 -3.89 -12.73a6.66 5.2 73 1 0 3.89 12.73M1547.01 634.22a5.14 2.81 46 1 0 -7.14 -7.39a5.14 2.81 46 1 0 7.14 7.39M1669.74 855.24a6.42 4.6 44 1 0 -9.24 -8.92a6.42 4.6 44 1 0 9.24 8.92M1486.81 799.72a6.01 3.11 78 1 0 -2.5 -11.76a6.01 3.11 78 1 0 2.5 11.76M1588.44 759.78a5.65 2.58 22 1 0 -10.48 -4.23a5.65 2.58 22 1 0 10.48 4.23M1484.54 854.32a5.67 3 58 1 0 -6.01 -9.61a5.67 3 58 1 0 6.01 9.61M1510.42 733.81a6.03 3.48 135 1 0 8.53 -8.53a6.03 3.48 135 1 0 -8.53 8.53M1467.28 778.71a7.23 4.37 130 1 0 9.29 -11.07a7.23 4.37 130 1 0 -9.29 11.07M1584.94 694.56a7.45 4.12 5 1 0 -14.84 -1.3a7.45 4.12 5 1 0 14.84 1.3M1660.01 712.69a6.55 4.14 173 1 0 13.01 -1.6a6.55 4.14 173 1 0 -13.01 1.6M1553.21 764.93a3.97 2.34 146 1 0 6.58 -4.44a3.97 2.34 146 1 0 -6.58 4.44M1527.15 765.99a6.71 4.04 96 1 0 1.4 -13.35a6.71 4.04 96 1 0 -1.4 13.35M1599.26 716.36a7.29 5.01 134 1 0 10.13 -10.49a7.29 5.01 134 1 0 -10.13 10.49M1471.45 720.01a5.1 3.3 146 1 0 8.46 -5.71a5.1 3.3 146 1 0 -8.46 5.71M1560.19 783.18a4.5 2.09 150 1 0 7.79 -4.5a4.5 2.09 150 1 0 -7.79 4.5M1697.99 755.8a7.3 3.91 99 1 0 2.28 -14.42a7.3 3.91 99 1 0 -2.28 14.42M1698.32 736.64a7.15 4.6 99 1 0 2.24 -14.13a7.15 4.6 99 1 0 -2.24 14.13M1655.83 685.38a4.02 2.08 139 1 0 6.07 -5.27a4.02 2.08 139 1 0 -6.07 5.27M1605.11 719.12a4.49 2.97 54 1 0 -5.27 -7.26a4.49 2.97 54 1 0 5.27 7.26M1461.24 807.91a4.08 1.86 22 1 0 -7.57 -3.06a4.08 1.86 22 1 0 7.57 3.06M1662.9 818.42a4.27 3 22 1 0 -7.92 -3.2a4.27 3 22 1 0 7.92 3.2M1522.49 836.47a5.1 2.93 118 1 0 4.78 -9a5.1 2.93 118 1 0 -4.78 9M1680.89 647.32a4.67 2.54 155 1 0 8.46 -3.94a4.67 2.54 155 1 0 -8.46 3.94M1494.57 815.63a5.71 3.83 45 1 0 -8.07 -8.07a5.71 3.83 45 1 0 8.07 8.07M1650.29 637.1a6.31 4.62 66 1 0 -5.13 -11.53a6.31 4.62 66 1 0 5.13 11.53M1496.78 712.33a3.87 2.6 35 1 0 -6.34 -4.44a3.87 2.6 35 1 0 6.34 4.44M1489.63 790.01a6.29 3.13 36 1 0 -10.18 -7.4a6.29 3.13 36 1 0 10.18 7.4M1540.73 835.48a5.69 4.08 43 1 0 -8.33 -7.77a5.69 4.08 43 1 0 8.33 7.77M1454.04 749.85a3.67 2.8 77 1 0 -1.65 -7.16a3.67 2.8 77 1 0 1.65 7.16M1620.42 789.41a7.24 4.91 64 1 0 -6.35 -13.02a7.24 4.91 64 1 0 6.35 13.02M1539.9 870.23a5.6 4.28 174 1 0 11.14 -1.17a5.6 4.28 174 1 0 -11.14 1.17M1475.94 811.25a4.74 3.16 97 1 0 1.16 -9.41a4.74 3.16 97 1 0 -1.16 9.41M1585.94 755.89a5.21 3.32 160 1 0 9.8 -3.57a5.21 3.32 160 1 0 -9.8 3.57M1604.92 701.93a5.78 4.53 123 1 0 6.3 -9.7a5.78 4.53 123 1 0 -6.3 9.7M1532.38 714.35a7.04 3.24 48 1 0 -9.42 -10.46a7.04 3.24 48 1 0 9.42 10.46M1546.21 686.81a5.27 2.85 58 1 0 -5.58 -8.93a5.27 2.85 58 1 0 5.58 8.93M1495.79 799.57a6.34 3.35 117 1 0 5.75 -11.29a6.34 3.35 117 1 0 -5.75 11.29M1595.17 872.85a4.27 2.63 23 1 0 -7.85 -3.33a4.27 2.63 23 1 0 7.85 3.33M1466.23 786.21a6.08 4.01 121 1 0 6.26 -10.42a6.08 4.01 121 1 0 -6.26 10.42M1508.69 848.32a5.93 3.98 171 1 0 11.72 -1.86a5.93 3.98 171 1 0 -11.72 1.86M1516.25 694.09a5.5 2.98 145 1 0 9.01 -6.31a5.5 2.98 145 1 0 -9.01 6.31M1616.77 788.97a4.95 2.72 60 1 0 -4.95 -8.58a4.95 2.72 60 1 0 4.95 8.58M1622.59 703.91a6.55 4.65 130 1 0 8.42 -10.04a6.55 4.65 130 1 0 -8.42 10.04M1505.78 760.19a7 4.72 7 1 0 -13.9 -1.71a7 4.72 7 1 0 13.9 1.71M1656.78 733.31a5.65 3.71 142 1 0 8.91 -6.96a5.65 3.71 142 1 0 -8.91 6.96M1468.93 832.52a7.41 3.72 160 1 0 13.92 -5.07a7.41 3.72 160 1 0 -13.92 5.07M1460.54 767.48a5.14 3.97 168 1 0 10.05 -2.14a5.14 3.97 168 1 0 -10.05 2.14M1457.97 631.73a6.34 3.39 90 1 0 -0 -12.67a6.34 3.39 90 1 0 0 12.67M1531.83 734.13a4.61 3.5 127 1 0 5.55 -7.37a4.61 3.5 127 1 0 -5.55 7.37M1706.69 830.24a5.41 4.2 68 1 0 -4.05 -10.03a5.41 4.2 68 1 0 4.05 10.03M1665.72 697.63a4.83 2.99 63 1 0 -4.38 -8.6a4.83 2.99 63 1 0 4.38 8.6M1540.12 780.01a7.33 3.84 13 1 0 -14.28 -3.3a7.33 3.84 13 1 0 14.28 3.3M1669.54 814.28a3.68 2.66 112 1 0 2.76 -6.83a3.68 2.66 112 1 0 -2.76 6.83M1569.23 659.68a7.24 5 28 1 0 -12.79 -6.8a7.24 5 28 1 0 12.79 6.8M1460.44 855.11a3.76 1.84 124 1 0 4.2 -6.23a3.76 1.84 124 1 0 -4.2 6.23M1591.72 843.87a7.33 3.5 55 1 0 -8.41 -12.01a7.33 3.5 55 1 0 8.41 12.01M1511.27 757.44a7.45 5.16 96 1 0 1.56 -14.83a7.45 5.16 96 1 0 -1.56 14.83M1682.44 748.23a6.39 4.04 122 1 0 6.77 -10.83a6.39 4.04 122 1 0 -6.77 10.83M1713.37 642.23a6.53 3.77 52 1 0 -8.04 -10.29a6.53 3.77 52 1 0 8.04 10.29M1659.16 685.66a4.19 3.09 117 1 0 3.8 -7.47a4.19 3.09 117 1 0 -3.8 7.47M1618.89 809.68a4.2 2.65 1 1 0 -8.39 -0.15a4.2 2.65 1 1 0 8.39 0.15M1512.55 766.03a3.5 1.89 151 1 0 6.13 -3.4a3.5 1.89 151 1 0 -6.13 3.4M1500.82 637.07a5.09 2.53 2 1 0 -10.17 -0.36a5.09 2.53 2 1 0 10.17 0.36M1482.71 644.48a6.51 4.22 14 1 0 -12.64 -3.15a6.51 4.22 14 1 0 12.64 3.15M1633.49 748.86a3.72 2.57 106 1 0 2.05 -7.15a3.72 2.57 106 1 0 -2.05 7.15M1709.61 838.93a6.99 3.5 85 1 0 -1.22 -13.92a6.99 3.5 85 1 0 1.22 13.92"/>
<path fill="#7a95c9" opacity="0.88" d="M1461 713.61a6.52 3.3 157 1 0 12.01 -5.1a6.52 3.3 157 1 0 -12.01 5.1M1645.49 719.41a5 2.9 37 1 0 -7.99 -6.02a5 2.9 37 1 0 7.99 6.02M1540.17 642.04a4.42 2.94 12 1 0 -8.65 -1.84a4.42 2.94 12 1 0 8.65 1.84M1657.55 688.94a6.06 4.81 149 1 0 10.38 -6.24a6.06 4.81 149 1 0 -10.38 6.24M1515.45 767.54a5.24 3.81 133 1 0 7.15 -7.67a5.24 3.81 133 1 0 -7.15 7.67M1499.32 859.18a6.87 3.58 40 1 0 -10.52 -8.83a6.87 3.58 40 1 0 10.52 8.83M1574.34 760.72a3.53 1.62 59 1 0 -3.63 -6.04a3.53 1.62 59 1 0 3.63 6.04M1545.19 805.07a5.65 2.97 23 1 0 -10.4 -4.42a5.65 2.97 23 1 0 10.4 4.42M1536.56 649.91a6.28 4.64 126 1 0 7.38 -10.16a6.28 4.64 126 1 0 -7.38 10.16M1536.39 705.55a4.12 3.07 169 1 0 8.09 -1.57a4.12 3.07 169 1 0 -8.09 1.57M1499.59 737.36a6.59 4.3 32 1 0 -11.18 -6.99a6.59 4.3 32 1 0 11.18 6.99M1700.87 651.28a5.04 4 77 1 0 -2.27 -9.82a5.04 4 77 1 0 2.27 9.82M1574.25 629.01a6.92 4.17 56 1 0 -7.74 -11.47a6.92 4.17 56 1 0 7.74 11.47M1686.09 686.18a5.1 3.57 40 1 0 -7.81 -6.56a5.1 3.57 40 1 0 7.81 6.56M1519.2 681.49a6.36 4.98 51 1 0 -8.01 -9.89a6.36 4.98 51 1 0 8.01 9.89M1701.86 669.87a5.56 4.31 157 1 0 10.23 -4.34a5.56 4.31 157 1 0 -10.23 4.34M1568.63 701.31a5.69 2.81 120 1 0 5.69 -9.86a5.69 2.81 120 1 0 -5.69 9.86M1568.44 830.52a6.7 3.85 167 1 0 13.05 -3.01a6.7 3.85 167 1 0 -13.05 3.01M1602.49 803.3a7.41 3.57 140 1 0 11.35 -9.52a7.41 3.57 140 1 0 -11.35 9.52M1540.28 730.83a7.34 3.5 163 1 0 14.04 -4.29a7.34 3.5 163 1 0 -14.04 4.29M1524.98 713.07a4.51 2.11 74 1 0 -2.48 -8.66a4.51 2.11 74 1 0 2.48 8.66M1539.13 751.88a4.83 3.84 129 1 0 6.09 -7.51a4.83 3.84 129 1 0 -6.09 7.51M1704.05 796.44a6.67 3.77 81 1 0 -2.09 -13.17a6.67 3.77 81 1 0 2.09 13.17M1679.46 729.6a3.9 3.03 3 1 0 -7.79 -0.41a3.9 3.03 3 1 0 7.79 0.41M1636.63 647.23a6.01 4.2 117 1 0 5.46 -10.72a6.01 4.2 117 1 0 -5.46 10.72M1544.14 828.21a7.28 5.27 145 1 0 11.93 -8.35a7.28 5.27 145 1 0 -11.93 8.35M1519.29 639.09a7.4 5.15 153 1 0 13.18 -6.72a7.4 5.15 153 1 0 -13.18 6.72M1530.51 660.75a7.06 5.63 37 1 0 -11.28 -8.5a7.06 5.63 37 1 0 11.28 8.5M1699.68 831.43a5.69 4.11 127 1 0 6.85 -9.09a5.69 4.11 127 1 0 -6.85 9.09M1591.52 764.79a5.44 3.17 59 1 0 -5.6 -9.32a5.44 3.17 59 1 0 5.6 9.32M1577 672.46a4.35 2.1 179 1 0 8.7 -0.15a4.35 2.1 179 1 0 -8.7 0.15M1702.08 797.05a5.07 3.08 40 1 0 -7.77 -6.52a5.07 3.08 40 1 0 7.77 6.52M1702.47 881.33a4.39 2.03 65 1 0 -3.71 -7.95a4.39 2.03 65 1 0 3.71 7.95M1458 658.37a6.52 5.08 173 1 0 12.94 -1.59a6.52 5.08 173 1 0 -12.94 1.59M1602.52 740.6a6.11 3.76 95 1 0 1.07 -12.17a6.11 3.76 95 1 0 -1.07 12.17M1690.53 723.51a3.59 1.71 86 1 0 -0.5 -7.16a3.59 1.71 86 1 0 0.5 7.16M1502.33 741.48a7.06 4.26 38 1 0 -11.12 -8.69a7.06 4.26 38 1 0 11.12 8.69M1559.47 687.51a3.6 2.34 75 1 0 -1.86 -6.96a3.6 2.34 75 1 0 1.86 6.96M1664.53 657.06a6.52 5.15 110 1 0 4.46 -12.25a6.52 5.15 110 1 0 -4.46 12.25M1664.39 877.68a4.08 2.75 113 1 0 3.19 -7.51a4.08 2.75 113 1 0 -3.19 7.51M1458.02 800.99a5.58 4.15 14 1 0 -10.83 -2.7a5.58 4.15 14 1 0 10.83 2.7M1690.97 748.79a6.99 3.8 47 1 0 -9.53 -10.22a6.99 3.8 47 1 0 9.53 10.22M1635.82 776.26a5.91 2.73 13 1 0 -11.52 -2.66a5.91 2.73 13 1 0 11.52 2.66M1533.94 685.22a4.84 2.92 144 1 0 7.83 -5.69a4.84 2.92 144 1 0 -7.83 5.69M1657.81 840.35a3.71 2.34 174 1 0 7.39 -0.78a3.71 2.34 174 1 0 -7.39 0.78M1616.71 685.99a5.58 3.36 10 1 0 -10.99 -1.94a5.58 3.36 10 1 0 10.99 1.94M1476.6 713.34a4.17 1.96 131 1 0 5.47 -6.29a4.17 1.96 131 1 0 -5.47 6.29M1685.09 859.77a5.81 3.17 22 1 0 -10.77 -4.35a5.81 3.17 22 1 0 10.77 4.35M1671.55 782.78a5.78 3.92 51 1 0 -7.28 -8.98a5.78 3.92 51 1 0 7.28 8.98M1447.61 715.79a6.95 3.71 142 1 0 10.95 -8.55a6.95 3.71 142 1 0 -10.95 8.55M1554.44 795.06a4.06 2.12 156 1 0 7.42 -3.3a4.06 2.12 156 1 0 -7.42 3.3M1659.78 759.89a6.46 4.58 121 1 0 6.65 -11.07a6.46 4.58 121 1 0 -6.65 11.07M1475.07 863.02a4.8 3.57 62 1 0 -4.5 -8.47a4.8 3.57 62 1 0 4.5 8.47M1510 732.15a7.14 3.24 12 1 0 -13.97 -2.97a7.14 3.24 12 1 0 13.97 2.97M1673.23 872.23a5.45 3.29 159 1 0 10.17 -3.9a5.45 3.29 159 1 0 -10.17 3.9M1660.42 753.29a3.94 3.01 176 1 0 7.86 -0.55a3.94 3.01 176 1 0 -7.86 0.55M1668.34 881.5a7.05 4.21 40 1 0 -10.81 -9.07a7.05 4.21 40 1 0 10.81 9.07M1664.83 777.05a6.17 3.2 127 1 0 7.43 -9.86a6.17 3.2 127 1 0 -7.43 9.86M1621.61 802.68a5.82 2.91 60 1 0 -5.82 -10.07a5.82 2.91 60 1 0 5.82 10.07M1525.61 856.22a6.76 3.76 154 1 0 12.16 -5.93a6.76 3.76 154 1 0 -12.16 5.93M1576.4 709.94a5.24 2.87 6 1 0 -10.43 -1.1a5.24 2.87 6 1 0 10.43 1.1M1593.55 747.86a6.68 3.57 94 1 0 0.93 -13.33a6.68 3.57 94 1 0 -0.93 13.33M1655.48 681.33a4.25 3.24 17 1 0 -8.13 -2.49a4.25 3.24 17 1 0 8.13 2.49M1688.13 666.12a4.97 3.62 176 1 0 9.91 -0.69a4.97 3.62 176 1 0 -9.91 0.69M1681.44 632.73a6.32 3.86 102 1 0 2.63 -12.35a6.32 3.86 102 1 0 -2.63 12.35M1637.27 633.3a3.66 1.85 50 1 0 -4.71 -5.61a3.66 1.85 50 1 0 4.71 5.61M1593.46 806.36a4.52 2.72 175 1 0 9 -0.79a4.52 2.72 175 1 0 -9 0.79M1562.46 819.26a7.49 4.99 56 1 0 -8.38 -12.42a7.49 4.99 56 1 0 8.38 12.42M1611.1 742.86a6.56 4.86 29 1 0 -11.48 -6.37a6.56 4.86 29 1 0 11.48 6.37M1473.15 816.13a3.6 2.12 37 1 0 -5.75 -4.33a3.6 2.12 37 1 0 5.75 4.33M1617.67 716.86a4.42 2.2 94 1 0 0.62 -8.82a4.42 2.2 94 1 0 -0.62 8.82M1463.84 782.5a6.83 4.3 36 1 0 -11.06 -8.03a6.83 4.3 36 1 0 11.06 8.03M1451.84 872.27a4.21 2.96 96 1 0 0.88 -8.36a4.21 2.96 96 1 0 -0.88 8.36M1708.62 871.14a5.98 4.39 15 1 0 -11.55 -3.1a5.98 4.39 15 1 0 11.55 3.1M1692.28 646.37a7.45 3.88 29 1 0 -13.04 -7.23a7.45 3.88 29 1 0 13.04 7.23M1541.29 768.03a5.12 2.41 86 1 0 -0.71 -10.22a5.12 2.41 86 1 0 0.71 10.22M1682.07 827.85a5.51 4.21 60 1 0 -5.51 -9.55a5.51 4.21 60 1 0 5.51 9.55M1558.62 824.67a7.22 4.73 36 1 0 -11.68 -8.49a7.22 4.73 36 1 0 11.68 8.49M1685.82 773.4a3.82 1.96 148 1 0 6.48 -4.05a3.82 1.96 148 1 0 -6.48 4.05M1538.12 670.22a7.09 4.55 42 1 0 -10.54 -9.49a7.09 4.55 42 1 0 10.54 9.49M1508.16 626.82a3.69 2.24 154 1 0 6.63 -3.24a3.69 2.24 154 1 0 -6.63 3.24M1530.15 846.64a3.61 2.24 156 1 0 6.59 -2.94a3.61 2.24 156 1 0 -6.59 2.94M1489.18 846.75a6.69 3.21 156 1 0 12.21 -5.44a6.69 3.21 156 1 0 -12.21 5.44M1683.25 769.31a7.45 3.5 157 1 0 13.72 -5.82a7.45 3.5 157 1 0 -13.72 5.82M1494.65 626.52a4.34 2.76 23 1 0 -7.99 -3.39a4.34 2.76 23 1 0 7.99 3.39M1646 825.63a4.74 3.41 116 1 0 4.15 -8.52a4.74 3.41 116 1 0 -4.15 8.52M1584.99 675.97a6.61 3.57 155 1 0 11.98 -5.59a6.61 3.57 155 1 0 -11.98 5.59M1544.14 808.41a5.27 3.95 54 1 0 -6.19 -8.52a5.27 3.95 54 1 0 6.19 8.52M1614.62 624.94a6.73 5.18 172 1 0 13.32 -1.87a6.73 5.18 172 1 0 -13.32 1.87M1549.15 765.91a6.24 3.77 171 1 0 12.33 -1.95a6.24 3.77 171 1 0 -12.33 1.95M1565.5 774.59a5.39 3.65 120 1 0 5.39 -9.34a5.39 3.65 120 1 0 -5.39 9.34M1603.24 882.55a4.44 2.97 96 1 0 0.93 -8.83a4.44 2.97 96 1 0 -0.93 8.83M1629.25 722.8a5.61 3.72 173 1 0 11.13 -1.37a5.61 3.72 173 1 0 -11.13 1.37M1471.09 832.57a6.16 4.76 67 1 0 -4.81 -11.34a6.16 4.76 67 1 0 4.81 11.34M1623.16 836.07a7.08 5.33 11 1 0 -13.89 -2.7a7.08 5.33 11 1 0 13.89 2.7M1554.2 840.2a6.77 3.34 39 1 0 -10.52 -8.52a6.77 3.34 39 1 0 10.52 8.52M1471.56 791.68a6.94 3.61 108 1 0 4.29 -13.19a6.94 3.61 108 1 0 -4.29 13.19M1637.07 701.27a5.13 3.47 65 1 0 -4.34 -9.3a5.13 3.47 65 1 0 4.34 9.3M1508.52 842.63a4.02 2.68 148 1 0 6.81 -4.26a4.02 2.68 148 1 0 -6.81 4.26M1639.3 726.54a3.66 2.52 141 1 0 5.69 -4.61a3.66 2.52 141 1 0 -5.69 4.61M1625.13 703.82a4.49 2.62 111 1 0 3.22 -8.39a4.49 2.62 111 1 0 -3.22 8.39"/>
<path fill="#4d6cb2" opacity="0.88" d="M1655.33 695.17a6.57 3.07 92 1 0 0.46 -13.14a6.57 3.07 92 1 0 -0.46 13.14M1588.93 775.32a7.03 3.42 137 1 0 10.28 -9.59a7.03 3.42 137 1 0 -10.28 9.59M1636.1 815.38a4.39 2.42 160 1 0 8.24 -3a4.39 2.42 160 1 0 -8.24 3M1458.57 836.77a7.07 4.65 148 1 0 11.99 -7.49a7.07 4.65 148 1 0 -11.99 7.49M1606.11 793.63a4.29 2.55 132 1 0 5.74 -6.37a4.29 2.55 132 1 0 -5.74 6.37M1665.71 666.3a4.74 2.63 12 1 0 -9.27 -1.97a4.74 2.63 12 1 0 9.27 1.97M1494.22 722.79a5.9 3.44 161 1 0 11.17 -3.84a5.9 3.44 161 1 0 -11.17 3.84M1632.8 719.27a4.78 3.77 128 1 0 5.89 -7.54a4.78 3.77 128 1 0 -5.89 7.54M1617.68 714.2a5.11 3 22 1 0 -9.47 -3.82a5.11 3 22 1 0 9.47 3.82M1566.59 675.68a6.05 2.95 52 1 0 -7.45 -9.54a6.05 2.95 52 1 0 7.45 9.54M1573 662.02a5.91 3.5 62 1 0 -5.55 -10.44a5.91 3.5 62 1 0 5.55 10.44M1620.2 687.15a5.03 2.37 19 1 0 -9.51 -3.27a5.03 2.37 19 1 0 9.51 3.27M1527.49 731.13a7.31 5.78 100 1 0 2.54 -14.41a7.31 5.78 100 1 0 -2.54 14.41M1571.75 770.26a4.4 3.47 90 1 0 -0 -8.81a4.4 3.47 90 1 0 0 8.81M1493.24 709.29a6.28 3.92 75 1 0 -3.25 -12.14a6.28 3.92 75 1 0 3.25 12.14M1482.3 876.19a3.85 3.08 102 1 0 1.6 -7.53a3.85 3.08 102 1 0 -1.6 7.53M1594.68 636.39a4.7 2.13 48 1 0 -6.29 -6.99a4.7 2.13 48 1 0 6.29 6.99M1601.87 793.46a6.66 5.11 156 1 0 12.16 -5.41a6.66 5.11 156 1 0 -12.16 5.41M1564.54 703.82a5.22 3.52 13 1 0 -10.18 -2.35a5.22 3.52 13 1 0 10.18 2.35M1593.93 632.38a3.98 2.92 147 1 0 6.67 -4.33a3.98 2.92 147 1 0 -6.67 4.33M1677.32 656.62a3.57 2.51 62 1 0 -3.35 -6.31a3.57 2.51 62 1 0 3.35 6.31M1698.75 657.32a7.32 3.71 106 1 0 4.03 -14.06a7.32 3.71 106 1 0 -4.03 14.06M1676.33 811.82a3.56 1.79 79 1 0 -1.36 -6.99a3.56 1.79 79 1 0 1.36 6.99M1705.97 688.19a5.05 2.94 59 1 0 -5.2 -8.66a5.05 2.94 59 1 0 5.2 8.66M1553.96 759.7a4.54 3.37 82 1 0 -1.26 -8.99a4.54 3.37 82 1 0 1.26 8.99M1456.85 880.38a5 2.43 161 1 0 9.45 -3.25a5 2.43 161 1 0 -9.45 3.25M1469.95 766.56a6.98 4.26 16 1 0 -13.42 -3.85a6.98 4.26 16 1 0 13.42 3.85M1466.85 766.76a3.61 2.79 66 1 0 -2.94 -6.6a3.61 2.79 66 1 0 2.94 6.6M1493.34 758.12a6.02 4.37 54 1 0 -7.08 -9.75a6.02 4.37 54 1 0 7.08 9.75M1543.94 838.84a6.96 4.33 3 1 0 -13.9 -0.73a6.96 4.33 3 1 0 13.9 0.73M1459.41 808.03a5.8 4.35 91 1 0 0.2 -11.6a5.8 4.35 91 1 0 -0.2 11.6M1702.07 643.39a4.93 2.64 82 1 0 -1.37 -9.76a4.93 2.64 82 1 0 1.37 9.76M1596.81 856.82a4.67 2.28 126 1 0 5.49 -7.55a4.67 2.28 126 1 0 -5.49 7.55M1471.22 803.33a4.28 1.95 153 1 0 7.63 -3.89a4.28 1.95 153 1 0 -7.63 3.89M1628.62 740.26a5.09 3.98 4 1 0 -10.15 -0.71a5.09 3.98 4 1 0 10.15 0.71M1472.5 735.54a5.52 2.52 35 1 0 -9.04 -6.33a5.52 2.52 35 1 0 9.04 6.33M1508.11 680.36a5.55 3.24 149 1 0 9.51 -5.72a5.55 3.24 149 1 0 -9.51 5.72M1589.74 780.87a4.89 3.33 132 1 0 6.55 -7.27a4.89 3.33 132 1 0 -6.55 7.27M1557.6 830.31a6.99 4.63 97 1 0 1.7 -13.88a6.99 4.63 97 1 0 -1.7 13.88M1626.33 698.28a4.91 2.82 134 1 0 6.82 -7.06a4.91 2.82 134 1 0 -6.82 7.06M1617.42 628.19a6.48 5.16 97 1 0 1.58 -12.87a6.48 5.16 97 1 0 -1.58 12.87M1591.35 753.96a7.18 5.18 137 1 0 10.5 -9.8a7.18 5.18 137 1 0 -10.5 9.8M1655.8 705.7a6.26 2.83 77 1 0 -2.82 -12.2a6.26 2.83 77 1 0 2.82 12.2M1679.63 856.66a5.56 2.78 50 1 0 -7.14 -8.51a5.56 2.78 50 1 0 7.14 8.51M1496.19 717.09a4.25 3.35 74 1 0 -2.34 -8.16a4.25 3.35 74 1 0 2.34 8.16M1507.63 730.98a6.02 3.93 76 1 0 -2.91 -11.68a6.02 3.93 76 1 0 2.91 11.68M1583.16 683.83a5.31 2.63 66 1 0 -4.32 -9.7a5.31 2.63 66 1 0 4.32 9.7M1678.38 657.05a5.55 3.55 69 1 0 -3.98 -10.37a5.55 3.55 69 1 0 3.98 10.37M1587.22 717.86a7.3 4.41 87 1 0 -0.76 -14.58a7.3 4.41 87 1 0 0.76 14.58M1585.66 797.87a4.32 2.96 32 1 0 -7.33 -4.58a4.32 2.96 32 1 0 7.33 4.58M1633.51 746.33a5.43 3.79 1 1 0 -10.86 -0.19a5.43 3.79 1 1 0 10.86 0.19M1475.83 706.93a7.35 3.72 113 1 0 5.74 -13.53a7.35 3.72 113 1 0 -5.74 13.53M1594.93 700.14a5.73 2.67 119 1 0 5.56 -10.02a5.73 2.67 119 1 0 -5.56 10.02M1478.4 809.47a7.42 4.8 27 1 0 -13.22 -6.74a7.42 4.8 27 1 0 13.22 6.74M1474.78 636.1a6.34 4.83 16 1 0 -12.19 -3.5a6.34 4.83 16 1 0 12.19 3.5M1625.78 739.91a3.84 2.62 95 1 0 0.67 -7.65a3.84 2.62 95 1 0 -0.67 7.65M1607.06 869.7a5.56 3.4 175 1 0 11.08 -0.97a5.56 3.4 175 1 0 -11.08 0.97M1636.58 870.97a5.34 2.63 34 1 0 -8.85 -5.97a5.34 2.63 34 1 0 8.85 5.97M1664.16 656.84a4.99 3.53 91 1 0 0.17 -9.98a4.99 3.53 91 1 0 -0.17 9.98M1454.4 856.44a4.47 2.57 177 1 0 8.93 -0.47a4.47 2.57 177 1 0 -8.93 0.47M1465.05 687.42a4.1 3.18 175 1 0 8.17 -0.71a4.1 3.18 175 1 0 -8.17 0.71M1668.68 776.84a4.5 3.6 68 1 0 -3.37 -8.35a4.5 3.6 68 1 0 3.37 8.35M1501.75 838.18a6.41 3.63 119 1 0 6.21 -11.21a6.41 3.63 119 1 0 -6.21 11.21M1711.09 633.31a5.74 4.13 51 1 0 -7.23 -8.93a5.74 4.13 51 1 0 7.23 8.93M1487.55 680.17a7.06 4.83 103 1 0 3.17 -13.75a7.06 4.83 103 1 0 -3.17 13.75M1712.56 714.56a6.6 3.96 17 1 0 -12.62 -3.86a6.6 3.96 17 1 0 12.62 3.86M1622.55 780.51a4.82 3.42 66 1 0 -3.92 -8.81a4.82 3.42 66 1 0 3.92 8.81M1540.15 760.27a4.6 2.47 142 1 0 7.24 -5.66a4.6 2.47 142 1 0 -7.24 5.66M1640.07 741.93a5.09 3.03 164 1 0 9.78 -2.81a5.09 3.03 164 1 0 -9.78 2.81M1535.08 636.03a5.31 2.92 84 1 0 -1.11 -10.57a5.31 2.92 84 1 0 1.11 10.57M1705.92 853.11a6.37 3.76 81 1 0 -1.99 -12.59a6.37 3.76 81 1 0 1.99 12.59M1548.73 720.65a6.15 3.89 77 1 0 -2.77 -11.99a6.15 3.89 77 1 0 2.77 11.99M1625.97 693.55a4.66 2.83 28 1 0 -8.23 -4.38a4.66 2.83 28 1 0 8.23 4.38M1545.45 759.56a4.45 2.58 87 1 0 -0.47 -8.89a4.45 2.58 87 1 0 0.47 8.89M1532.35 767.94a7.17 3.87 67 1 0 -5.6 -13.2a7.17 3.87 67 1 0 5.6 13.2M1463.62 679.05a6.94 3.32 114 1 0 5.65 -12.68a6.94 3.32 114 1 0 -5.65 12.68M1602.35 745.17a5.35 3.98 106 1 0 2.95 -10.28a5.35 3.98 106 1 0 -2.95 10.28M1526.78 691.49a6.94 4.47 130 1 0 8.92 -10.63a6.94 4.47 130 1 0 -8.92 10.63M1527.11 658.01a4.33 2.94 118 1 0 4.07 -7.65a4.33 2.94 118 1 0 -4.07 7.65"/>
<path fill="#3b322c" opacity="0.88" d="M1639.69 625.41a3.24 2.85 82 1 0 -0.9 -6.41a3.24 2.85 82 1 0 0.9 6.41M1477.19 864.27a6.49 5.68 134 1 0 9.01 -9.33a6.49 5.68 134 1 0 -9.01 9.33M1515.08 816.16a3.63 2.96 76 1 0 -1.75 -7.04a3.63 2.96 76 1 0 1.75 7.04M1585.7 653.68a4.64 2.62 137 1 0 6.78 -6.33a4.64 2.62 137 1 0 -6.78 6.33M1690.18 810.53a4.87 2.9 24 1 0 -8.9 -3.96a4.87 2.9 24 1 0 8.9 3.96M1665.46 712.97a5.84 4 46 1 0 -8.11 -8.4a5.84 4 46 1 0 8.11 8.4M1456.06 758.2a4.16 2.19 154 1 0 7.47 -3.64a4.16 2.19 154 1 0 -7.47 3.64M1680.97 732.48a4.07 2.52 154 1 0 7.31 -3.57a4.07 2.52 154 1 0 -7.31 3.57M1621.3 660.46a5.64 3.39 106 1 0 3.11 -10.84a5.64 3.39 106 1 0 -3.11 10.84M1612.19 696.61a5.67 3.49 139 1 0 8.56 -7.44a5.67 3.49 139 1 0 -8.56 7.44M1663.87 841.12a3.42 2.33 3 1 0 -6.84 -0.36a3.42 2.33 3 1 0 6.84 0.36M1670.95 809.13a6.26 3.54 45 1 0 -8.85 -8.85a6.26 3.54 45 1 0 8.85 8.85"/>
<path fill="#4d4038" opacity="0.88" d="M1572.39 863.7a4.56 3.88 14 1 0 -8.84 -2.2a4.56 3.88 14 1 0 8.84 2.2M1503.26 810.86a5.62 4.61 136 1 0 8.09 -7.81a5.62 4.61 136 1 0 -8.09 7.81M1491.23 859.7a3.72 2.01 24 1 0 -6.8 -3.03a3.72 2.01 24 1 0 6.8 3.03M1631.14 660.74a3.2 2.49 10 1 0 -6.3 -1.11a3.2 2.49 10 1 0 6.3 1.11M1638.97 703.49a3.9 2.81 54 1 0 -4.59 -6.32a3.9 2.81 54 1 0 4.59 6.32M1530.63 712.49a5.63 3.93 23 1 0 -10.36 -4.4a5.63 3.93 23 1 0 10.36 4.4M1580.51 846.11a5.09 3.65 22 1 0 -9.44 -3.82a5.09 3.65 22 1 0 9.44 3.82M1690.11 633.5a5.1 4.52 88 1 0 -0.36 -10.19a5.1 4.52 88 1 0 0.36 10.19M1551.24 632.35a3.14 2.3 105 1 0 1.62 -6.06a3.14 2.3 105 1 0 -1.62 6.06M1583.78 718.12a3.69 2.44 52 1 0 -4.55 -5.82a3.69 2.44 52 1 0 4.55 5.82M1480.92 638.53a5.77 4.5 53 1 0 -6.95 -9.22a5.77 4.5 53 1 0 6.95 9.22M1511.99 684.68a5.71 4.03 15 1 0 -11.04 -2.96a5.71 4.03 15 1 0 11.04 2.96M1465.62 707.7a3.34 1.96 177 1 0 6.68 -0.35a3.34 1.96 177 1 0 -6.68 0.35M1535.09 866.78a5.75 2.95 62 1 0 -5.4 -10.16a5.75 2.95 62 1 0 5.4 10.16M1643.3 798.17a3.53 2.25 35 1 0 -5.78 -4.05a3.53 2.25 35 1 0 5.78 4.05M1598.39 832.24a4.72 3.82 127 1 0 5.69 -7.55a4.72 3.82 127 1 0 -5.69 7.55M1641.74 842.23a3.84 2.82 143 1 0 6.13 -4.62a3.84 2.82 143 1 0 -6.13 4.62M1663.41 671.72a3.95 3.49 92 1 0 0.28 -7.9a3.95 3.49 92 1 0 -0.28 7.9M1582.86 871.57a4.77 4.27 48 1 0 -6.39 -7.1a4.77 4.27 48 1 0 6.39 7.1M1460.36 707.64a3.48 3.07 69 1 0 -2.49 -6.5a3.48 3.07 69 1 0 2.49 6.5M1578.52 877.12a4.26 3.67 82 1 0 -1.19 -8.44a4.26 3.67 82 1 0 1.19 8.44M1668.89 750.47a3.17 2.26 35 1 0 -5.19 -3.64a3.17 2.26 35 1 0 5.19 3.64M1685.3 778.79a6.4 5.19 92 1 0 0.45 -12.79a6.4 5.19 92 1 0 -0.45 12.79M1477.93 865.27a5.18 3.63 104 1 0 2.51 -10.05a5.18 3.63 104 1 0 -2.51 10.05"/>
<path fill="#2a2422" opacity="0.88" d="M1492.76 668.39a4.17 2.75 9 1 0 -8.23 -1.3a4.17 2.75 9 1 0 8.23 1.3M1560.24 839.39a3.27 2.58 41 1 0 -4.93 -4.29a3.27 2.58 41 1 0 4.93 4.29M1491.83 867.86a4.16 3.48 122 1 0 4.41 -7.06a4.16 3.48 122 1 0 -4.41 7.06M1485.02 649.25a6.08 3.32 127 1 0 7.31 -9.71a6.08 3.32 127 1 0 -7.31 9.71M1507.14 784.56a5.96 4.86 23 1 0 -10.97 -4.66a5.96 4.86 23 1 0 10.97 4.66M1489.31 724.08a5.24 4.58 131 1 0 6.87 -7.91a5.24 4.58 131 1 0 -6.87 7.91M1649.17 775.59a5.29 3.99 17 1 0 -10.12 -3.1a5.29 3.99 17 1 0 10.12 3.1M1507.29 855.98a5.14 4.4 100 1 0 1.78 -10.12a5.14 4.4 100 1 0 -1.78 10.12M1691.48 832.45a3.21 2.44 126 1 0 3.77 -5.19a3.21 2.44 126 1 0 -3.77 5.19M1586.51 850.12a3.57 2.84 43 1 0 -5.22 -4.87a3.57 2.84 43 1 0 5.22 4.87M1475.95 691.32a4.38 2.86 120 1 0 4.38 -7.58a4.38 2.86 120 1 0 -4.38 7.58M1587.96 805.22a4.07 3.01 92 1 0 0.28 -8.13a4.07 3.01 92 1 0 -0.28 8.13"/>
<path fill="#6a5848" opacity="0.88" d="M1583.12 627.38a5.52 4.39 42 1 0 -8.21 -7.39a5.52 4.39 42 1 0 8.21 7.39M1655.39 870.79a4.45 3.4 65 1 0 -3.76 -8.07a4.45 3.4 65 1 0 3.76 8.07M1695.84 796.45a3.81 3.39 83 1 0 -0.93 -7.56a3.81 3.39 83 1 0 0.93 7.56M1493.88 699.58a5.29 4.12 50 1 0 -6.8 -8.11a5.29 4.12 50 1 0 6.8 8.11M1693.73 793.25a3.18 2.01 115 1 0 2.68 -5.76a3.18 2.01 115 1 0 -2.68 5.76M1470.75 670.1a5.94 5.35 108 1 0 3.67 -11.31a5.94 5.35 108 1 0 -3.67 11.31M1505.59 677a4.16 3.7 0 1 0 -8.32 -0a4.16 3.7 0 1 0 8.32 0M1683.86 770.52a6.27 5.36 12 1 0 -12.26 -2.61a6.27 5.36 12 1 0 12.26 2.61M1622.48 727.64a5.19 4.2 87 1 0 -0.54 -10.37a5.19 4.2 87 1 0 0.54 10.37M1697.91 852.42a4.66 3.1 76 1 0 -2.26 -9.05a4.66 3.1 76 1 0 2.26 9.05M1455.92 713.11a6.47 3.72 113 1 0 5.06 -11.92a6.47 3.72 113 1 0 -5.06 11.92M1624.9 830.04a3.42 2.65 10 1 0 -6.74 -1.19a3.42 2.65 10 1 0 6.74 1.19M1554.26 627.64a5.99 3.24 62 1 0 -5.62 -10.57a5.99 3.24 62 1 0 5.62 10.57M1584.27 709.77a3.93 2.43 78 1 0 -1.64 -7.69a3.93 2.43 78 1 0 1.64 7.69M1543.53 702.77a4.79 2.69 155 1 0 8.69 -4.05a4.79 2.69 155 1 0 -8.69 4.05M1553.94 874.47a5.27 4.33 173 1 0 10.46 -1.28a5.27 4.33 173 1 0 -10.46 1.28M1518.93 855.6a4.66 3.49 112 1 0 3.49 -8.64a4.66 3.49 112 1 0 -3.49 8.64M1698.99 852.55a6.06 3.27 154 1 0 10.9 -5.32a6.06 3.27 154 1 0 -10.9 5.32"/>
<path fill="#585060" opacity="0.88" d="M1517.47 828.53a4.02 3.15 151 1 0 7.03 -3.9a4.02 3.15 151 1 0 -7.03 3.9M1565.57 786.87a3.17 2.68 18 1 0 -6.03 -1.96a3.17 2.68 18 1 0 6.03 1.96M1667.57 699.97a3.81 2.8 81 1 0 -1.19 -7.53a3.81 2.8 81 1 0 1.19 7.53M1489.5 695.56a6.13 5.13 58 1 0 -6.49 -10.39a6.13 5.13 58 1 0 6.49 10.39M1642.03 741.75a5.61 3.06 41 1 0 -8.47 -7.37a5.61 3.06 41 1 0 8.47 7.37M1607.09 649.4a4.99 2.74 169 1 0 9.81 -1.91a4.99 2.74 169 1 0 -9.81 1.91M1515.32 803.56a4.06 2.12 119 1 0 3.94 -7.1a4.06 2.12 119 1 0 -3.94 7.1M1555.79 647.87a5.28 4.41 86 1 0 -0.74 -10.54a5.28 4.41 86 1 0 0.74 10.54M1486.25 764.41a3.29 2.16 119 1 0 3.19 -5.76a3.29 2.16 119 1 0 -3.19 5.76M1592.35 794.04a5.58 4.3 141 1 0 8.67 -7.02a5.58 4.3 141 1 0 -8.67 7.02M1634.72 627.7a6.06 5.19 30 1 0 -10.5 -6.06a6.06 5.19 30 1 0 10.5 6.06M1502.13 861.54a4.78 4.3 44 1 0 -6.87 -6.64a4.78 4.3 44 1 0 6.87 6.64M1650.29 704.74a3.53 2.84 120 1 0 3.53 -6.12a3.53 2.84 120 1 0 -3.53 6.12M1669.46 730.05a3.27 2.15 101 1 0 1.25 -6.42a3.27 2.15 101 1 0 -1.25 6.42"/>
<path fill="#3a2e26" opacity="0.7" d="M1506.63 809.84a1.33 1.16 33 1 0 -2.23 -1.45a1.33 1.16 33 1 0 2.23 1.45M1507.93 841.34a0.89 0.58 72 1 0 -0.55 -1.69a0.89 0.58 72 1 0 0.55 1.69M1606.92 855.1a0.95 0.7 145 1 0 1.55 -1.09a0.95 0.7 145 1 0 -1.55 1.09M1543.44 802.26a0.76 0.71 83 1 0 -0.18 -1.5a0.76 0.71 83 1 0 0.18 1.5M1602.82 775.21a0.73 0.59 119 1 0 0.7 -1.27a0.73 0.59 119 1 0 -0.7 1.27M1574.5 697.36a1.45 1.43 135 1 0 2.05 -2.05a1.45 1.43 135 1 0 -2.05 2.05M1505.81 826.38a0.87 0.81 147 1 0 1.45 -0.94a0.87 0.81 147 1 0 -1.45 0.94M1507.75 666.25a1.35 0.95 95 1 0 0.24 -2.69a1.35 0.95 95 1 0 -0.24 2.69M1700.4 848.93a1.19 0.81 157 1 0 2.2 -0.93a1.19 0.81 157 1 0 -2.2 0.93M1478.16 663.94a1.31 0.82 132 1 0 1.75 -1.94a1.31 0.82 132 1 0 -1.75 1.94M1564.31 672.47a1.26 0.86 67 1 0 -0.99 -2.33a1.26 0.86 67 1 0 0.99 2.33M1596.86 802.1a1.48 1.33 5 1 0 -2.95 -0.26a1.48 1.33 5 1 0 2.95 0.26M1708.19 857.3a1.34 1.06 32 1 0 -2.27 -1.42a1.34 1.06 32 1 0 2.27 1.42M1586.11 685.41a1.01 0.75 168 1 0 1.98 -0.42a1.01 0.75 168 1 0 -1.98 0.42M1650.66 809.1a0.83 0.79 111 1 0 0.59 -1.55a0.83 0.79 111 1 0 -0.59 1.55M1487.17 648.99a1.28 1.04 7 1 0 -2.55 -0.31a1.28 1.04 7 1 0 2.55 0.31M1661.5 873.15a0.77 0.7 52 1 0 -0.95 -1.21a0.77 0.7 52 1 0 0.95 1.21M1671.69 708.16a1.15 0.9 163 1 0 2.2 -0.67a1.15 0.9 163 1 0 -2.2 0.67M1452.8 673.47a0.98 0.94 25 1 0 -1.78 -0.83a0.98 0.94 25 1 0 1.78 0.83M1606.13 650.74a1.1 0.83 179 1 0 2.2 -0.04a1.1 0.83 179 1 0 -2.2 0.04M1657.98 851.34a0.7 0.58 57 1 0 -0.77 -1.18a0.7 0.58 57 1 0 0.77 1.18M1512.54 856.38a0.86 0.52 119 1 0 0.83 -1.5a0.86 0.52 119 1 0 -0.83 1.5M1518.88 660.12a0.71 0.65 26 1 0 -1.28 -0.63a0.71 0.65 26 1 0 1.28 0.63M1689.08 621.08a1.38 1.14 21 1 0 -2.58 -0.99a1.38 1.14 21 1 0 2.58 0.99M1632.01 791.83a1.19 0.93 171 1 0 2.35 -0.37a1.19 0.93 171 1 0 -2.35 0.37M1594.91 674.87a0.85 0.68 117 1 0 0.77 -1.51a0.85 0.68 117 1 0 -0.77 1.51M1482.46 789.1a0.87 0.67 28 1 0 -1.53 -0.81a0.87 0.67 28 1 0 1.53 0.81M1592.42 711.81a0.78 0.69 25 1 0 -1.41 -0.66a0.78 0.69 25 1 0 1.41 0.66M1648.74 621.84a0.76 0.49 177 1 0 1.52 -0.08a0.76 0.49 177 1 0 -1.52 0.08M1583.98 738.48a1.03 0.87 166 1 0 1.99 -0.5a1.03 0.87 166 1 0 -1.99 0.5M1689.1 810.48a1.34 1.29 15 1 0 -2.58 -0.69a1.34 1.29 15 1 0 2.58 0.69M1625.28 655.39a1.43 1.32 14 1 0 -2.77 -0.69a1.43 1.32 14 1 0 2.77 0.69M1648.34 838.56a1.5 1.35 70 1 0 -1.02 -2.81a1.5 1.35 70 1 0 1.02 2.81M1451.29 820.38a0.89 0.66 20 1 0 -1.67 -0.61a0.89 0.66 20 1 0 1.67 0.61M1477.16 835.15a0.95 0.81 93 1 0 0.1 -1.9a0.95 0.81 93 1 0 -0.1 1.9M1588.62 870.79a0.83 0.67 166 1 0 1.61 -0.4a0.83 0.67 166 1 0 -1.61 0.4M1692.04 726.21a1.43 1.25 161 1 0 2.71 -0.93a1.43 1.25 161 1 0 -2.71 0.93M1634.91 876.9a0.84 0.65 175 1 0 1.68 -0.15a0.84 0.65 175 1 0 -1.68 0.15M1629.77 814.77a1.3 0.91 65 1 0 -1.1 -2.36a1.3 0.91 65 1 0 1.1 2.36M1472.63 845.06a1.21 1.03 167 1 0 2.36 -0.55a1.21 1.03 167 1 0 -2.36 0.55M1621.47 775.49a1.26 0.91 16 1 0 -2.41 -0.69a1.26 0.91 16 1 0 2.41 0.69M1534.64 673.93a1.01 0.92 27 1 0 -1.8 -0.92a1.01 0.92 27 1 0 1.8 0.92M1658.96 794.74a0.92 0.56 48 1 0 -1.23 -1.37a0.92 0.56 48 1 0 1.23 1.37M1672.28 654.79a1.47 1.1 45 1 0 -2.08 -2.08a1.47 1.1 45 1 0 2.08 2.08M1544.88 811.49a1 0.66 169 1 0 1.96 -0.38a1 0.66 169 1 0 -1.96 0.38M1677.22 856.05a0.83 0.75 7 1 0 -1.65 -0.2a0.83 0.75 7 1 0 1.65 0.2M1518.17 622.73a0.78 0.59 94 1 0 0.11 -1.56a0.78 0.59 94 1 0 -0.11 1.56M1563.87 651.35a0.75 0.56 120 1 0 0.75 -1.31a0.75 0.56 120 1 0 -0.75 1.31M1504.7 642.37a0.91 0.88 117 1 0 0.83 -1.63a0.91 0.88 117 1 0 -0.83 1.63M1466.99 803.38a1.08 0.76 130 1 0 1.39 -1.65a1.08 0.76 130 1 0 -1.39 1.65M1611.43 830.72a1.42 1.22 175 1 0 2.83 -0.25a1.42 1.22 175 1 0 -2.83 0.25M1487.54 830a1.46 1.31 94 1 0 0.2 -2.91a1.46 1.31 94 1 0 -0.2 2.91M1631.14 625.03a1.07 0.95 115 1 0 0.9 -1.93a1.07 0.95 115 1 0 -0.9 1.93M1695.49 681.38a1.08 0.87 125 1 0 1.24 -1.77a1.08 0.87 125 1 0 -1.24 1.77M1624.52 625.96a1 0.66 0 1 0 -2 -0a1 0.66 0 1 0 2 0M1607.51 687.96a1.06 0.88 98 1 0 0.3 -2.11a1.06 0.88 98 1 0 -0.3 2.11M1518.5 766.39a0.92 0.7 35 1 0 -1.51 -1.05a0.92 0.7 35 1 0 1.51 1.05M1601.43 850.55a0.75 0.52 42 1 0 -1.11 -1a0.75 0.52 42 1 0 1.11 1M1600.95 737.6a1.03 0.98 169 1 0 2.02 -0.39a1.03 0.98 169 1 0 -2.02 0.39M1673.01 869.21a0.92 0.89 104 1 0 0.44 -1.78a0.92 0.89 104 1 0 -0.44 1.78M1463.6 858.14a0.78 0.48 74 1 0 -0.43 -1.51a0.78 0.48 74 1 0 0.43 1.51M1512.45 791.64a1.17 1.08 133 1 0 1.59 -1.71a1.17 1.08 133 1 0 -1.59 1.71M1618.38 727.38a1.47 1.03 18 1 0 -2.79 -0.91a1.47 1.03 18 1 0 2.79 0.91M1477.99 752.68a1.41 1.19 165 1 0 2.72 -0.73a1.41 1.19 165 1 0 -2.72 0.73M1544.68 870.13a1.31 1.23 164 1 0 2.53 -0.72a1.31 1.23 164 1 0 -2.53 0.72M1491.48 637.33a1.06 0.92 150 1 0 1.84 -1.06a1.06 0.92 150 1 0 -1.84 1.06M1501.87 624.95a1.13 1 69 1 0 -0.81 -2.11a1.13 1 69 1 0 0.81 2.11"/>
<path fill="#8a7a60" opacity="0.7" d="M1651.09 723.82a1.45 1.3 87 1 0 -0.15 -2.9a1.45 1.3 87 1 0 0.15 2.9M1552.66 829.66a0.98 0.66 36 1 0 -1.59 -1.15a0.98 0.66 36 1 0 1.59 1.15M1624.49 854.17a0.81 0.59 16 1 0 -1.55 -0.44a0.81 0.59 16 1 0 1.55 0.44M1466.94 621.9a1.16 0.8 110 1 0 0.79 -2.18a1.16 0.8 110 1 0 -0.79 2.18M1643.83 833.71a1.22 1.16 33 1 0 -2.04 -1.33a1.22 1.16 33 1 0 2.04 1.33M1608.42 691.96a0.75 0.63 130 1 0 0.97 -1.15a0.75 0.63 130 1 0 -0.97 1.15M1451.67 783.5a0.81 0.58 15 1 0 -1.57 -0.42a0.81 0.58 15 1 0 1.57 0.42M1697.58 691.8a0.77 0.5 99 1 0 0.24 -1.52a0.77 0.5 99 1 0 -0.24 1.52M1507.64 846.2a1.5 1.38 136 1 0 2.15 -2.08a1.5 1.38 136 1 0 -2.15 2.08M1620.29 686.47a1.21 1.01 110 1 0 0.83 -2.28a1.21 1.01 110 1 0 -0.83 2.28M1465.61 673.6a0.71 0.67 161 1 0 1.34 -0.46a0.71 0.67 161 1 0 -1.34 0.46M1594.74 784.01a1.15 0.84 90 1 0 -0 -2.3a1.15 0.84 90 1 0 0 2.3M1478.56 812.02a1.25 0.96 7 1 0 -2.49 -0.31a1.25 0.96 7 1 0 2.49 0.31M1649.83 710.19a1.39 1.03 120 1 0 1.39 -2.4a1.39 1.03 120 1 0 -1.39 2.4M1692.67 670.79a0.92 0.85 132 1 0 1.23 -1.37a0.92 0.85 132 1 0 -1.23 1.37M1694.03 734.29a1.16 1.12 175 1 0 2.31 -0.2a1.16 1.12 175 1 0 -2.31 0.2M1648.59 768.83a1.28 1.2 43 1 0 -1.87 -1.74a1.28 1.2 43 1 0 1.87 1.74M1618.42 844.95a1.49 1.32 120 1 0 1.49 -2.58a1.49 1.32 120 1 0 -1.49 2.58M1555.76 864.51a1.47 1.34 11 1 0 -2.88 -0.56a1.47 1.34 11 1 0 2.88 0.56M1499.25 829.81a0.83 0.67 27 1 0 -1.48 -0.75a0.83 0.67 27 1 0 1.48 0.75M1544.2 699.11a1.31 0.86 155 1 0 2.37 -1.11a1.31 0.86 155 1 0 -2.37 1.11M1610.78 697.01a0.9 0.59 76 1 0 -0.44 -1.76a0.9 0.59 76 1 0 0.44 1.76M1456.55 719.39a0.83 0.55 167 1 0 1.62 -0.37a0.83 0.55 167 1 0 -1.62 0.37M1453.4 760.54a0.97 0.8 91 1 0 0.03 -1.94a0.97 0.8 91 1 0 -0.03 1.94M1618.63 677.78a1.3 1.24 66 1 0 -1.06 -2.38a1.3 1.24 66 1 0 1.06 2.38M1588.56 639.67a0.76 0.63 126 1 0 0.89 -1.23a0.76 0.63 126 1 0 -0.89 1.23M1688.65 738.18a1.42 1 101 1 0 0.54 -2.79a1.42 1 101 1 0 -0.54 2.79M1630.14 666.28a1.49 1.42 117 1 0 1.35 -2.66a1.49 1.42 117 1 0 -1.35 2.66M1683.61 661.24a1.23 1.02 169 1 0 2.41 -0.47a1.23 1.02 169 1 0 -2.41 0.47M1496.76 658.05a0.78 0.77 98 1 0 0.22 -1.54a0.78 0.77 98 1 0 -0.22 1.54M1620.13 767.86a0.88 0.55 3 1 0 -1.75 -0.09a0.88 0.55 3 1 0 1.75 0.09M1618.95 851.22a1.31 1.23 61 1 0 -1.27 -2.29a1.31 1.23 61 1 0 1.27 2.29M1522.28 743.31a1.09 0.7 142 1 0 1.72 -1.34a1.09 0.7 142 1 0 -1.72 1.34M1474.88 651.49a1.08 0.73 59 1 0 -1.12 -1.86a1.08 0.73 59 1 0 1.12 1.86M1693.48 764.59a0.76 0.52 55 1 0 -0.87 -1.24a0.76 0.52 55 1 0 0.87 1.24M1479.38 865.65a1.12 0.78 43 1 0 -1.64 -1.53a1.12 0.78 43 1 0 1.64 1.53M1468.38 737.74a0.95 0.65 169 1 0 1.87 -0.36a0.95 0.65 169 1 0 -1.87 0.36M1588.32 681.01a1.1 0.93 166 1 0 2.13 -0.53a1.1 0.93 166 1 0 -2.13 0.53M1670.93 695.44a1.48 1.39 77 1 0 -0.67 -2.88a1.48 1.39 77 1 0 0.67 2.88M1602.39 863.84a1.02 0.89 3 1 0 -2.04 -0.11a1.02 0.89 3 1 0 2.04 0.11M1610.61 677.38a1.37 0.93 116 1 0 1.2 -2.46a1.37 0.93 116 1 0 -1.2 2.46M1508.77 870.39a0.96 0.73 87 1 0 -0.1 -1.91a0.96 0.73 87 1 0 0.1 1.91M1524 871.9a1.4 1.07 135 1 0 1.97 -1.97a1.4 1.07 135 1 0 -1.97 1.97M1671.34 830.02a1.22 0.98 29 1 0 -2.14 -1.19a1.22 0.98 29 1 0 2.14 1.19M1562.24 773.72a0.9 0.68 177 1 0 1.8 -0.09a0.9 0.68 177 1 0 -1.8 0.09M1613.23 742.44a1.24 1.14 2 1 0 -2.47 -0.09a1.24 1.14 2 1 0 2.47 0.09M1574.23 796.84a1.27 1.09 46 1 0 -1.76 -1.82a1.27 1.09 46 1 0 1.76 1.82M1699.26 824.59a0.89 0.68 53 1 0 -1.07 -1.42a0.89 0.68 53 1 0 1.07 1.42M1554.03 656.05a1.3 0.97 92 1 0 0.09 -2.59a1.3 0.97 92 1 0 -0.09 2.59M1622.6 819.66a0.8 0.55 55 1 0 -0.92 -1.31a0.8 0.55 55 1 0 0.92 1.31M1571.89 738.81a0.97 0.79 88 1 0 -0.07 -1.93a0.97 0.79 88 1 0 0.07 1.93M1532.56 831.37a1.25 1.09 41 1 0 -1.89 -1.65a1.25 1.09 41 1 0 1.89 1.65M1615.01 804.36a1.47 1 77 1 0 -0.66 -2.87a1.47 1 77 1 0 0.66 2.87"/>
</g></g>
<clipPath id="tc"><rect x="1153.2" y="902.2" width="250.9" height="250.5"/></clipPath>
<rect x="1153.2" y="902.2" width="250.9" height="250.5" fill="#06070f"/>
<g clip-path="url(#tc)"><g filter="url(#cbtc)">
<filter id="cbtc" x="-5%" y="-5%" width="110%" height="110%"><feGaussianBlur stdDeviation="1.1"/></filter>
<path fill="#18183f" opacity="0.72" d="M1276.35 1131.69a3.28 2.04 157 1 0 6.04 -2.57a3.28 2.04 157 1 0 -6.04 2.57M1189.78 913.15a3.46 2.59 151 1 0 6.06 -3.36a3.46 2.59 151 1 0 -6.06 3.36M1161.93 1000.61a4.72 1.93 108 1 0 2.92 -8.98a4.72 1.93 108 1 0 -2.92 8.98M1187.27 1032.8a5.58 4.12 133 1 0 7.61 -8.16a5.58 4.12 133 1 0 -7.61 8.16M1190.61 973.9a5.42 4.07 7 1 0 -10.77 -1.32a5.42 4.07 7 1 0 10.77 1.32M1148.87 915.46a3.73 2.07 156 1 0 6.82 -3.03a3.73 2.07 156 1 0 -6.82 3.03M1402.27 991.85a3.49 2.18 35 1 0 -5.72 -4.01a3.49 2.18 35 1 0 5.72 4.01M1235.77 1138.14a3.97 1.79 161 1 0 7.51 -2.58a3.97 1.79 161 1 0 -7.51 2.58M1257.03 918.66a3.66 2.36 46 1 0 -5.09 -5.27a3.66 2.36 46 1 0 5.09 5.27M1170.62 990.4a4.65 2.85 6 1 0 -9.24 -0.97a4.65 2.85 6 1 0 9.24 0.97M1272.32 933.09a6.39 2.83 13 1 0 -12.45 -2.88a6.39 2.83 13 1 0 12.45 2.88M1344.04 1075.94a3.05 1.53 156 1 0 5.58 -2.48a3.05 1.53 156 1 0 -5.58 2.48M1306.68 958.36a3.21 1.63 76 1 0 -1.55 -6.22a3.21 1.63 76 1 0 1.55 6.22M1280.07 992.62a5.93 3.32 53 1 0 -7.14 -9.47a5.93 3.32 53 1 0 7.14 9.47M1194.32 1004.87a4.14 1.94 139 1 0 6.25 -5.43a4.14 1.94 139 1 0 -6.25 5.43M1193.03 1083.96a5.31 2.41 160 1 0 9.97 -3.63a5.31 2.41 160 1 0 -9.97 3.63M1268.33 1125.41a4.13 3.03 131 1 0 5.42 -6.24a4.13 3.03 131 1 0 -5.42 6.24M1272.52 904.24a6.21 2.99 57 1 0 -6.77 -10.42a6.21 2.99 57 1 0 6.77 10.42M1400.44 979.71a3.32 1.76 177 1 0 6.63 -0.35a3.32 1.76 177 1 0 -6.63 0.35M1356.95 1102.63a3.62 1.7 78 1 0 -1.51 -7.09a3.62 1.7 78 1 0 1.51 7.09M1308.58 1149.88a4.95 3.79 150 1 0 8.57 -4.95a4.95 3.79 150 1 0 -8.57 4.95M1284.11 968.93a5.14 4.01 88 1 0 -0.36 -10.28a5.14 4.01 88 1 0 0.36 10.28M1235.83 1138.68a4.94 2.03 53 1 0 -5.94 -7.88a4.94 2.03 53 1 0 5.94 7.88M1162.5 933.21a5.51 2.91 126 1 0 6.48 -8.91a5.51 2.91 126 1 0 -6.48 8.91M1196.41 907.88a4.02 1.62 30 1 0 -6.97 -4.02a4.02 1.62 30 1 0 6.97 4.02M1204.17 1059.24a4.33 2.21 47 1 0 -5.91 -6.34a4.33 2.21 47 1 0 5.91 6.34M1362.07 924.9a5.64 4.15 86 1 0 -0.79 -11.25a5.64 4.15 86 1 0 0.79 11.25M1215.39 1081.05a3.89 3.1 47 1 0 -5.31 -5.69a3.89 3.1 47 1 0 5.31 5.69M1388.99 1066.31a5.37 3.32 167 1 0 10.47 -2.42a5.37 3.32 167 1 0 -10.47 2.42M1358.07 969.06a3.56 2.59 31 1 0 -6.11 -3.67a3.56 2.59 31 1 0 6.11 3.67M1214.69 941.82a6.12 4.12 46 1 0 -8.51 -8.81a6.12 4.12 46 1 0 8.51 8.81M1365.91 952.44a5.66 3.87 123 1 0 6.17 -9.5a5.66 3.87 123 1 0 -6.17 9.5M1195.17 1052.44a4.49 3.07 89 1 0 -0.16 -8.99a4.49 3.07 89 1 0 0.16 8.99M1265.86 1010.1a5.6 2.99 159 1 0 10.46 -4.02a5.6 2.99 159 1 0 -10.46 4.02M1195.44 1128.04a6 3.2 151 1 0 10.5 -5.82a6 3.2 151 1 0 -10.5 5.82M1348.19 1018.01a5.85 3.82 154 1 0 10.52 -5.13a5.85 3.82 154 1 0 -10.52 5.13M1347.5 946.71a5.55 3.2 14 1 0 -10.77 -2.69a5.55 3.2 14 1 0 10.77 2.69M1349.61 1019.34a3.09 2.46 101 1 0 1.18 -6.07a3.09 2.46 101 1 0 -1.18 6.07M1202.1 928.35a3.2 1.8 107 1 0 1.87 -6.11a3.2 1.8 107 1 0 -1.87 6.11M1192.4 1095.44a4.5 2.44 141 1 0 6.99 -5.66a4.5 2.44 141 1 0 -6.99 5.66M1308.58 1148.25a5.5 2.95 123 1 0 6 -9.23a5.5 2.95 123 1 0 -6 9.23M1229.54 965.27a6.37 5.09 99 1 0 1.99 -12.58a6.37 5.09 99 1 0 -1.99 12.58M1213.88 1048.68a4.28 3.26 74 1 0 -2.36 -8.24a4.28 3.26 74 1 0 2.36 8.24M1283.7 985.51a5.06 3.13 46 1 0 -7.03 -7.28a5.06 3.13 46 1 0 7.03 7.28M1390.92 941.75a3.43 1.55 3 1 0 -6.85 -0.36a3.43 1.55 3 1 0 6.85 0.36M1371.22 1108.44a3.79 2.07 71 1 0 -2.47 -7.17a3.79 2.07 71 1 0 2.47 7.17M1154.99 977.07a5.29 3.46 0 1 0 -10.57 -0a5.29 3.46 0 1 0 10.57 0M1319.27 1042.26a5.52 2.32 136 1 0 7.94 -7.67a5.52 2.32 136 1 0 -7.94 7.67M1314.99 926.87a5.48 2.37 11 1 0 -10.75 -2.09a5.48 2.37 11 1 0 10.75 2.09M1300.88 955.06a5.1 3.54 173 1 0 10.12 -1.24a5.1 3.54 173 1 0 -10.12 1.24M1208.33 944.69a3.67 1.59 141 1 0 5.7 -4.62a3.67 1.59 141 1 0 -5.7 4.62M1207.42 1092.04a6.09 2.48 154 1 0 10.95 -5.34a6.09 2.48 154 1 0 -10.95 5.34M1391.84 988.91a4.73 3.67 92 1 0 0.33 -9.46a4.73 3.67 92 1 0 -0.33 9.46M1271.66 1029.2a4.8 3.04 38 1 0 -7.56 -5.9a4.8 3.04 38 1 0 7.56 5.9M1216.46 909.83a6.35 2.79 96 1 0 1.33 -12.63a6.35 2.79 96 1 0 -1.33 12.63M1263.56 1057.39a3.85 1.87 26 1 0 -6.91 -3.37a3.85 1.87 26 1 0 6.91 3.37M1304.5 1076.44a3.31 2.61 11 1 0 -6.5 -1.26a3.31 2.61 11 1 0 6.5 1.26M1343.37 1129.22a3.51 2.14 105 1 0 1.82 -6.78a3.51 2.14 105 1 0 -1.82 6.78M1170.47 1083.91a5.27 3.47 39 1 0 -8.19 -6.63a5.27 3.47 39 1 0 8.19 6.63M1380.62 1091.88a5.8 2.66 69 1 0 -4.16 -10.83a5.8 2.66 69 1 0 4.16 10.83M1261.03 1110.57a5 3.07 2 1 0 -9.99 -0.35a5 3.07 2 1 0 9.99 0.35M1371.69 903.57a5 2.3 167 1 0 9.75 -2.25a5 2.3 167 1 0 -9.75 2.25M1156.55 986.72a3.41 2.19 77 1 0 -1.54 -6.65a3.41 2.19 77 1 0 1.54 6.65M1310.08 1146.44a5.43 3.93 155 1 0 9.85 -4.59a5.43 3.93 155 1 0 -9.85 4.59M1361.56 1115.35a3.12 2.32 156 1 0 5.71 -2.54a3.12 2.32 156 1 0 -5.71 2.54M1231.4 1048.18a3.11 1.54 107 1 0 1.82 -5.95a3.11 1.54 107 1 0 -1.82 5.95M1281.96 1004.37a5.04 2.34 61 1 0 -4.89 -8.82a5.04 2.34 61 1 0 4.89 8.82M1231.73 1019.72a4.56 2.86 8 1 0 -9.03 -1.27a4.56 2.86 8 1 0 9.03 1.27M1252.76 939.29a5.01 3.04 22 1 0 -9.29 -3.75a5.01 3.04 22 1 0 9.29 3.75M1266.05 1139.42a4.65 3.03 29 1 0 -8.14 -4.51a4.65 3.03 29 1 0 8.14 4.51M1398.12 967.43a3.99 2.94 12 1 0 -7.81 -1.66a3.99 2.94 12 1 0 7.81 1.66M1371.42 994.08a5.53 2.92 51 1 0 -6.96 -8.6a5.53 2.92 51 1 0 6.96 8.6M1332.67 1057.73a4.67 2.74 60 1 0 -4.67 -8.09a4.67 2.74 60 1 0 4.67 8.09M1192.28 1132.61a3.42 2.43 120 1 0 3.42 -5.93a3.42 2.43 120 1 0 -3.42 5.93M1239.09 1002.48a4.66 2.43 68 1 0 -3.49 -8.65a4.66 2.43 68 1 0 3.49 8.65M1347.1 1023.57a4.56 2.52 57 1 0 -4.97 -7.65a4.56 2.52 57 1 0 4.97 7.65M1320.85 1001.57a5.67 3.09 173 1 0 11.25 -1.38a5.67 3.09 173 1 0 -11.25 1.38M1235.43 1067.52a5.75 4.5 149 1 0 9.86 -5.92a5.75 4.5 149 1 0 -9.86 5.92M1354.96 922.17a3.12 2.05 54 1 0 -3.67 -5.05a3.12 2.05 54 1 0 3.67 5.05M1152.96 961.54a4.29 1.9 78 1 0 -1.78 -8.39a4.29 1.9 78 1 0 1.78 8.39M1345.69 1126.32a6.03 3.31 58 1 0 -6.39 -10.22a6.03 3.31 58 1 0 6.39 10.22M1397.23 1105.8a4.7 3.43 68 1 0 -3.52 -8.71a4.7 3.43 68 1 0 3.52 8.71M1288.42 1049.56a4.27 2.89 70 1 0 -2.92 -8.03a4.27 2.89 70 1 0 2.92 8.03M1359.91 1084.89a6.1 2.45 121 1 0 6.29 -10.47a6.1 2.45 121 1 0 -6.29 10.47M1215.56 1149.07a5.73 4.32 172 1 0 11.36 -1.6a5.73 4.32 172 1 0 -11.36 1.6M1335.19 964.43a3.48 1.52 161 1 0 6.57 -2.26a3.48 1.52 161 1 0 -6.57 2.26M1394 1114.84a5.53 3.69 101 1 0 2.11 -10.86a5.53 3.69 101 1 0 -2.11 10.86M1392.67 1121.44a6.49 3.65 123 1 0 7.07 -10.88a6.49 3.65 123 1 0 -7.07 10.88M1266.63 945.21a4.45 2.06 112 1 0 3.33 -8.25a4.45 2.06 112 1 0 -3.33 8.25M1271.99 1088.09a5.56 4.26 87 1 0 -0.58 -11.11a5.56 4.26 87 1 0 0.58 11.11M1251.06 1083.41a6.27 3.67 56 1 0 -7.02 -10.4a6.27 3.67 56 1 0 7.02 10.4M1350.12 1037.15a5.87 3.17 94 1 0 0.82 -11.71a5.87 3.17 94 1 0 -0.82 11.71M1323 1028.7a5.44 3.16 178 1 0 10.87 -0.38a5.44 3.16 178 1 0 -10.87 0.38M1157.23 1071.6a3.2 1.5 114 1 0 2.61 -5.85a3.2 1.5 114 1 0 -2.61 5.85M1280.58 1025.54a3.21 2.09 58 1 0 -3.4 -5.44a3.21 2.09 58 1 0 3.4 5.44M1245.27 912.7a4.28 3.21 126 1 0 5.03 -6.93a4.28 3.21 126 1 0 -5.03 6.93M1226.62 910.08a3.4 2.66 64 1 0 -2.98 -6.12a3.4 2.66 64 1 0 2.98 6.12M1230.18 932.91a3.86 1.88 34 1 0 -6.39 -4.31a3.86 1.88 34 1 0 6.39 4.31M1371.74 1032.92a3.16 1.76 82 1 0 -0.88 -6.26a3.16 1.76 82 1 0 0.88 6.26M1338.48 1080.64a5.85 3.58 122 1 0 6.2 -9.91a5.85 3.58 122 1 0 -6.2 9.91M1372.86 907.06a5.9 3.39 35 1 0 -9.66 -6.77a5.9 3.39 35 1 0 9.66 6.77M1232.19 944.05a5.76 3.96 41 1 0 -8.69 -7.55a5.76 3.96 41 1 0 8.69 7.55M1286.21 1045.88a5.42 3.44 100 1 0 1.88 -10.67a5.42 3.44 100 1 0 -1.88 10.67M1242.14 937.91a3.35 1.79 23 1 0 -6.18 -2.62a3.35 1.79 23 1 0 6.18 2.62M1249.89 1156.37a5.3 2.96 28 1 0 -9.36 -4.98a5.3 2.96 28 1 0 9.36 4.98M1375.21 1144.36a6.24 3.88 23 1 0 -11.49 -4.88a6.24 3.88 23 1 0 11.49 4.88M1306.85 1011.85a4.38 2.34 112 1 0 3.28 -8.12a4.38 2.34 112 1 0 -3.28 8.12M1403.2 944.67a4.86 2.28 22 1 0 -9.02 -3.64a4.86 2.28 22 1 0 9.02 3.64M1258.92 998.78a3.08 1.8 9 1 0 -6.08 -0.96a3.08 1.8 9 1 0 6.08 0.96M1398.93 1049.43a3.64 2.56 46 1 0 -5.05 -5.23a3.64 2.56 46 1 0 5.05 5.23M1220.1 1064.97a4.08 1.74 119 1 0 3.95 -7.13a4.08 1.74 119 1 0 -3.95 7.13M1336.05 1095.87a4.57 2.99 86 1 0 -0.64 -9.11a4.57 2.99 86 1 0 0.64 9.11M1304.25 910.38a3.08 2.12 65 1 0 -2.6 -5.58a3.08 2.12 65 1 0 2.6 5.58M1307.89 935.9a5.04 2.59 76 1 0 -2.44 -9.79a5.04 2.59 76 1 0 2.44 9.79M1386.95 1055.09a3.04 1.89 59 1 0 -3.13 -5.2a3.04 1.89 59 1 0 3.13 5.2M1303.01 971.2a3.49 2.17 9 1 0 -6.89 -1.09a3.49 2.17 9 1 0 6.89 1.09M1207.51 949.88a3.92 2.89 141 1 0 6.1 -4.94a3.92 2.89 141 1 0 -6.1 4.94M1216.62 977.16a5.5 2.2 140 1 0 8.42 -7.07a5.5 2.2 140 1 0 -8.42 7.07M1386.59 1037.77a3.62 1.83 24 1 0 -6.61 -2.94a3.62 1.83 24 1 0 6.61 2.94M1351.72 1088.92a4.63 1.99 79 1 0 -1.77 -9.1a4.63 1.99 79 1 0 1.77 9.1M1187.11 968.57a5.91 2.87 26 1 0 -10.63 -5.18a5.91 2.87 26 1 0 10.63 5.18M1411.53 1058.27a4.48 2.13 26 1 0 -8.05 -3.93a4.48 2.13 26 1 0 8.05 3.93M1362.82 1141.26a3.89 1.79 25 1 0 -7.05 -3.29a3.89 1.79 25 1 0 7.05 3.29M1351.19 916.51a4.59 3.35 111 1 0 3.29 -8.56a4.59 3.35 111 1 0 -3.29 8.56M1333.72 938.75a5.27 3.33 15 1 0 -10.18 -2.73a5.27 3.33 15 1 0 10.18 2.73M1291.21 941.23a3.54 1.95 114 1 0 2.88 -6.48a3.54 1.95 114 1 0 -2.88 6.48M1260.25 1037.93a3.9 2.62 28 1 0 -6.89 -3.66a3.9 2.62 28 1 0 6.89 3.66M1186.73 967.13a6.21 3.31 35 1 0 -10.17 -7.12a6.21 3.31 35 1 0 10.17 7.12M1341.79 1017.63a5.1 3.58 44 1 0 -7.34 -7.09a5.1 3.58 44 1 0 7.34 7.09M1227.67 1160.39a4.57 3.11 107 1 0 2.67 -8.73a4.57 3.11 107 1 0 -2.67 8.73M1347.69 902.61a3.56 1.56 140 1 0 5.46 -4.58a3.56 1.56 140 1 0 -5.46 4.58M1163.8 1119.26a3.75 2.14 9 1 0 -7.4 -1.17a3.75 2.14 9 1 0 7.4 1.17M1199.62 1084.93a5.2 2.1 29 1 0 -9.09 -5.04a5.2 2.1 29 1 0 9.09 5.04M1346.2 1101.4a3.02 2.36 155 1 0 5.48 -2.56a3.02 2.36 155 1 0 -5.48 2.56M1312.11 1048.04a4.33 1.77 123 1 0 4.71 -7.26a4.33 1.77 123 1 0 -4.71 7.26M1166.21 1065.72a5.94 4.25 104 1 0 2.87 -11.52a5.94 4.25 104 1 0 -2.87 11.52M1355.15 920.22a3.28 2.2 128 1 0 4.04 -5.17a3.28 2.2 128 1 0 -4.04 5.17M1263.93 1076.84a5.44 3.62 107 1 0 3.18 -10.41a5.44 3.62 107 1 0 -3.18 10.41M1306.43 996.68a3.76 2.21 165 1 0 7.26 -1.95a3.76 2.21 165 1 0 -7.26 1.95M1369.39 928.79a4.49 3.53 160 1 0 8.44 -3.07a4.49 3.53 160 1 0 -8.44 3.07M1389.7 1087.26a3.24 2.5 37 1 0 -5.18 -3.9a3.24 2.5 37 1 0 5.18 3.9M1170.42 1144.37a5.68 3.69 42 1 0 -8.44 -7.6a5.68 3.69 42 1 0 8.44 7.6M1233.79 983.36a4.58 2.19 66 1 0 -3.72 -8.36a4.58 2.19 66 1 0 3.72 8.36M1245.42 988.27a6.01 2.53 63 1 0 -5.45 -10.7a6.01 2.53 63 1 0 5.45 10.7M1378.91 931.52a3.98 2.05 91 1 0 0.14 -7.95a3.98 2.05 91 1 0 -0.14 7.95M1162.24 1096.6a4.61 2.01 171 1 0 9.11 -1.44a4.61 2.01 171 1 0 -9.11 1.44M1222.01 964.36a3.44 1.7 147 1 0 5.77 -3.75a3.44 1.7 147 1 0 -5.77 3.75M1224.19 1007.37a4.81 2.8 59 1 0 -4.95 -8.24a4.81 2.8 59 1 0 4.95 8.24M1249.69 969.09a3.96 1.94 67 1 0 -3.09 -7.29a3.96 1.94 67 1 0 3.09 7.29M1407.7 938.77a4.52 2.54 12 1 0 -8.85 -1.88a4.52 2.54 12 1 0 8.85 1.88M1161.7 1158.79a4.09 3.26 59 1 0 -4.21 -7.01a4.09 3.26 59 1 0 4.21 7.01M1211.36 1096.98a3.35 1.92 165 1 0 6.48 -1.74a3.35 1.92 165 1 0 -6.48 1.74M1220.26 1041.31a5.11 2.2 115 1 0 4.32 -9.27a5.11 2.2 115 1 0 -4.32 9.27M1326.71 997.35a4.52 2.35 132 1 0 6.05 -6.71a4.52 2.35 132 1 0 -6.05 6.71M1238.46 1117.23a3.86 2.73 52 1 0 -4.76 -6.09a3.86 2.73 52 1 0 4.76 6.09M1179.57 983.75a6.08 4.17 126 1 0 7.15 -9.84a6.08 4.17 126 1 0 -7.15 9.84M1187.98 1102.54a4.74 1.93 18 1 0 -9.02 -2.93a4.74 1.93 18 1 0 9.02 2.93M1341.68 953.81a3.85 1.99 44 1 0 -5.54 -5.35a3.85 1.99 44 1 0 5.54 5.35M1370.49 908.56a5.74 4.28 132 1 0 7.69 -8.54a5.74 4.28 132 1 0 -7.69 8.54M1155.73 1050.29a6.25 4.55 165 1 0 12.07 -3.24a6.25 4.55 165 1 0 -12.07 3.24M1352.23 1157.39a6.47 3.22 34 1 0 -10.73 -7.24a6.47 3.22 34 1 0 10.73 7.24M1272.31 1108.7a4.82 3.07 22 1 0 -8.93 -3.61a4.82 3.07 22 1 0 8.93 3.61M1290.74 999.51a6.12 4.74 67 1 0 -4.79 -11.27a6.12 4.74 67 1 0 4.79 11.27M1167.33 904.85a4.86 2.18 61 1 0 -4.71 -8.51a4.86 2.18 61 1 0 4.71 8.51M1342.63 920.08a5.07 2.94 121 1 0 5.22 -8.69a5.07 2.94 121 1 0 -5.22 8.69M1327.58 972.09a5.24 4 119 1 0 5.09 -9.17a5.24 4 119 1 0 -5.09 9.17M1222.33 1097.68a3.37 2.23 48 1 0 -4.51 -5.01a3.37 2.23 48 1 0 4.51 5.01M1274 923.34a6.2 2.48 57 1 0 -6.76 -10.4a6.2 2.48 57 1 0 6.76 10.4M1392.12 923.34a3.49 2.72 176 1 0 6.96 -0.49a3.49 2.72 176 1 0 -6.96 0.49M1347 938.95a5.46 2.34 19 1 0 -10.33 -3.56a5.46 2.34 19 1 0 10.33 3.56"/>
<path fill="#1e1e56" opacity="0.72" d="M1335.78 948a6.31 4.93 108 1 0 3.9 -12.01a6.31 4.93 108 1 0 -3.9 12.01M1351.19 1002.77a5.61 2.47 74 1 0 -3.09 -10.79a5.61 2.47 74 1 0 3.09 10.79M1325.44 1089.95a4.48 1.95 68 1 0 -3.35 -8.3a4.48 1.95 68 1 0 3.35 8.3M1291.36 950.69a3.24 1.55 23 1 0 -5.97 -2.53a3.24 1.55 23 1 0 5.97 2.53M1188.87 1059.51a6.35 2.68 142 1 0 10.01 -7.82a6.35 2.68 142 1 0 -10.01 7.82M1340.99 1093.57a5.01 2.07 103 1 0 2.26 -9.77a5.01 2.07 103 1 0 -2.26 9.77M1276.76 1085.27a3.87 2.69 108 1 0 2.39 -7.36a3.87 2.69 108 1 0 -2.39 7.36M1395.82 1109.44a3.92 1.83 30 1 0 -6.79 -3.92a3.92 1.83 30 1 0 6.79 3.92M1232.98 1102.03a3.03 2.37 151 1 0 5.3 -2.94a3.03 2.37 151 1 0 -5.3 2.94M1402.08 1159.08a5.91 2.62 89 1 0 -0.21 -11.83a5.91 2.62 89 1 0 0.21 11.83M1280.45 1106.72a4.41 3.25 99 1 0 1.38 -8.72a4.41 3.25 99 1 0 -1.38 8.72M1280.03 996.84a6.32 3.04 98 1 0 1.76 -12.51a6.32 3.04 98 1 0 -1.76 12.51M1186.85 956.7a4.9 3.73 55 1 0 -5.62 -8.03a4.9 3.73 55 1 0 5.62 8.03M1377.18 968.24a3.86 2.27 134 1 0 5.37 -5.56a3.86 2.27 134 1 0 -5.37 5.56M1349.1 905.77a5.32 2.84 57 1 0 -5.79 -8.92a5.32 2.84 57 1 0 5.79 8.92M1221.69 935.68a4.04 1.68 103 1 0 1.82 -7.88a4.04 1.68 103 1 0 -1.82 7.88M1269.29 1149.4a3.15 1.48 36 1 0 -5.09 -3.7a3.15 1.48 36 1 0 5.09 3.7M1310.3 1108.72a6.24 3.45 128 1 0 7.68 -9.83a6.24 3.45 128 1 0 -7.68 9.83M1412.38 1091.37a5.26 3.08 26 1 0 -9.46 -4.61a5.26 3.08 26 1 0 9.46 4.61M1373.46 954.72a5.52 2.77 75 1 0 -2.86 -10.67a5.52 2.77 75 1 0 2.86 10.67M1292.5 1083.64a3.26 2.23 109 1 0 2.13 -6.17a3.26 2.23 109 1 0 -2.13 6.17M1164.26 1050.94a4.78 3.53 93 1 0 0.5 -9.54a4.78 3.53 93 1 0 -0.5 9.54M1386.2 989.03a4.8 3.64 8 1 0 -9.51 -1.34a4.8 3.64 8 1 0 9.51 1.34M1336.74 925.68a6.08 4.43 174 1 0 12.1 -1.27a6.08 4.43 174 1 0 -12.1 1.27M1255.03 996.71a4.31 3.44 104 1 0 2.09 -8.36a4.31 3.44 104 1 0 -2.09 8.36M1288.03 1072.1a3.5 2.45 46 1 0 -4.87 -5.04a3.5 2.45 46 1 0 4.87 5.04M1264.94 1054.56a6.01 3.77 67 1 0 -4.7 -11.06a6.01 3.77 67 1 0 4.7 11.06M1212.04 977.7a4.32 2.61 53 1 0 -5.2 -6.9a4.32 2.61 53 1 0 5.2 6.9M1155.68 1131.98a5.72 3.31 43 1 0 -8.37 -7.8a5.72 3.31 43 1 0 8.37 7.8M1308.48 965.93a3.7 2.51 172 1 0 7.33 -1.03a3.7 2.51 172 1 0 -7.33 1.03M1397.2 970a3.57 1.91 4 1 0 -7.13 -0.5a3.57 1.91 4 1 0 7.13 0.5M1360.78 1068.55a4.9 2.82 53 1 0 -5.9 -7.83a4.9 2.82 53 1 0 5.9 7.83M1169.17 919.94a4.12 2.4 170 1 0 8.11 -1.43a4.12 2.4 170 1 0 -8.11 1.43M1350.97 965.81a3.2 1.75 20 1 0 -6.02 -2.19a3.2 1.75 20 1 0 6.02 2.19M1342.18 1082.03a6.26 4.82 145 1 0 10.25 -7.18a6.26 4.82 145 1 0 -10.25 7.18M1405.43 1016.85a4.65 2.25 114 1 0 3.78 -8.49a4.65 2.25 114 1 0 -3.78 8.49M1179.2 973.87a4.44 3.46 101 1 0 1.7 -8.73a4.44 3.46 101 1 0 -1.7 8.73M1224.97 1006.89a6.49 4.93 90 1 0 -0 -12.97a6.49 4.93 90 1 0 0 12.97M1258.37 982.65a4.62 3.59 99 1 0 1.45 -9.13a4.62 3.59 99 1 0 -1.45 9.13M1173.01 915.13a4.56 3.38 25 1 0 -8.27 -3.86a4.56 3.38 25 1 0 8.27 3.86M1208.75 919.67a6.02 3.34 69 1 0 -4.32 -11.25a6.02 3.34 69 1 0 4.32 11.25M1381.35 1098.72a3.42 2.37 151 1 0 5.99 -3.32a3.42 2.37 151 1 0 -5.99 3.32M1240.36 930.93a5.4 3.98 76 1 0 -2.61 -10.47a5.4 3.98 76 1 0 2.61 10.47M1280.07 1013.68a5.51 4.06 109 1 0 3.59 -10.43a5.51 4.06 109 1 0 -3.59 10.43M1195.07 1044.69a3.12 2.11 172 1 0 6.18 -0.87a3.12 2.11 172 1 0 -6.18 0.87M1215.75 1141.23a4.47 3.57 146 1 0 7.42 -5a4.47 3.57 146 1 0 -7.42 5M1355.38 946.95a3.9 1.9 27 1 0 -6.94 -3.54a3.9 1.9 27 1 0 6.94 3.54M1381.29 1129a4.78 2.41 17 1 0 -9.14 -2.8a4.78 2.41 17 1 0 9.14 2.8M1378.24 1156.92a6.37 3.16 145 1 0 10.43 -7.3a6.37 3.16 145 1 0 -10.43 7.3M1281.22 1092.79a4.8 2.01 30 1 0 -8.31 -4.8a4.8 2.01 30 1 0 8.31 4.8M1386.01 931.98a5.68 2.47 160 1 0 10.68 -3.89a5.68 2.47 160 1 0 -10.68 3.89M1203.26 985.39a3.69 2.59 25 1 0 -6.68 -3.12a3.69 2.59 25 1 0 6.68 3.12M1180.25 1001.3a5.74 2.5 82 1 0 -1.6 -11.37a5.74 2.5 82 1 0 1.6 11.37M1392.53 1127.19a3.62 1.59 56 1 0 -4.04 -6a3.62 1.59 56 1 0 4.04 6M1307.33 906.42a5.47 3.15 138 1 0 8.14 -7.33a5.47 3.15 138 1 0 -8.14 7.33M1245.85 1026.26a6.26 4.24 41 1 0 -9.46 -8.22a6.26 4.24 41 1 0 9.46 8.22M1217.7 1033.8a6.35 4.34 48 1 0 -8.5 -9.44a6.35 4.34 48 1 0 8.5 9.44M1271.3 1011.69a3.94 2.11 176 1 0 7.87 -0.55a3.94 2.11 176 1 0 -7.87 0.55M1378.75 993.47a4.9 2.48 167 1 0 9.54 -2.2a4.9 2.48 167 1 0 -9.54 2.2M1274.22 977.39a4.05 1.95 116 1 0 3.55 -7.27a4.05 1.95 116 1 0 -3.55 7.27M1254.03 1095.75a5.95 4.51 130 1 0 7.65 -9.12a5.95 4.51 130 1 0 -7.65 9.12M1215.21 919.8a4.12 2.57 174 1 0 8.19 -0.86a4.12 2.57 174 1 0 -8.19 0.86M1348.44 1130.95a3.04 2.3 78 1 0 -1.26 -5.94a3.04 2.3 78 1 0 1.26 5.94M1252.13 1086.08a6.11 4.24 161 1 0 11.56 -3.98a6.11 4.24 161 1 0 -11.56 3.98M1363.66 1116.48a5.46 2.57 130 1 0 7.01 -8.36a5.46 2.57 130 1 0 -7.01 8.36M1261.35 1043.27a3.19 2.45 13 1 0 -6.21 -1.43a3.19 2.45 13 1 0 6.21 1.43M1268.07 1108.99a3.76 1.93 167 1 0 7.33 -1.69a3.76 1.93 167 1 0 -7.33 1.69M1378.49 1086.23a6.19 3.45 66 1 0 -5.03 -11.3a6.19 3.45 66 1 0 5.03 11.3M1266.28 997.4a5.36 2.34 76 1 0 -2.59 -10.4a5.36 2.34 76 1 0 2.59 10.4M1333.27 908.74a4.84 3.44 73 1 0 -2.83 -9.25a4.84 3.44 73 1 0 2.83 9.25M1334.2 992.93a3.62 1.95 173 1 0 7.18 -0.88a3.62 1.95 173 1 0 -7.18 0.88M1316.2 951.78a3.89 2.15 3 1 0 -7.77 -0.41a3.89 2.15 3 1 0 7.77 0.41M1150.59 1026.81a3.69 1.96 90 1 0 -0 -7.39a3.69 1.96 90 1 0 0 7.39M1355.6 1115.69a3.41 2.63 101 1 0 1.3 -6.69a3.41 2.63 101 1 0 -1.3 6.69M1190.73 1133.96a5.08 2.94 167 1 0 9.9 -2.29a5.08 2.94 167 1 0 -9.9 2.29M1348.35 1057.64a4.55 3.43 74 1 0 -2.51 -8.74a4.55 3.43 74 1 0 2.51 8.74M1381.31 918.58a5.72 3.64 150 1 0 9.91 -5.72a5.72 3.64 150 1 0 -9.91 5.72M1388.76 959.41a6.11 2.76 141 1 0 9.49 -7.69a6.11 2.76 141 1 0 -9.49 7.69M1176.3 1095.75a6.43 4.35 127 1 0 7.74 -10.27a6.43 4.35 127 1 0 -7.74 10.27M1313.53 1027.2a4.83 2.2 95 1 0 0.84 -9.63a4.83 2.2 95 1 0 -0.84 9.63M1227.42 1140.29a3.45 2.62 83 1 0 -0.84 -6.85a3.45 2.62 83 1 0 0.84 6.85M1158.75 986.99a5.75 3.1 96 1 0 1.2 -11.43a5.75 3.1 96 1 0 -1.2 11.43M1278.83 984.05a3.78 2.26 62 1 0 -3.55 -6.68a3.78 2.26 62 1 0 3.55 6.68M1324.73 1141.36a5.9 4.21 162 1 0 11.23 -3.65a5.9 4.21 162 1 0 -11.23 3.65M1323.58 968.92a3.12 1.49 8 1 0 -6.18 -0.87a3.12 1.49 8 1 0 6.18 0.87M1172.12 928.93a3.2 2.03 142 1 0 5.05 -3.94a3.2 2.03 142 1 0 -5.05 3.94M1402.23 925.42a6.42 4.14 83 1 0 -1.56 -12.74a6.42 4.14 83 1 0 1.56 12.74M1245.17 925.74a6.06 3.16 71 1 0 -3.94 -11.46a6.06 3.16 71 1 0 3.94 11.46M1197.35 1151.55a4.58 3.07 85 1 0 -0.8 -9.12a4.58 3.07 85 1 0 0.8 9.12M1400.77 1150.47a3.41 2.29 22 1 0 -6.31 -2.55a3.41 2.29 22 1 0 6.31 2.55M1384.9 918.37a4.06 2.2 115 1 0 3.43 -7.35a4.06 2.2 115 1 0 -3.43 7.35M1303 1115.99a3.95 1.84 125 1 0 4.53 -6.47a3.95 1.84 125 1 0 -4.53 6.47M1228.07 983a5.13 2.06 25 1 0 -9.3 -4.34a5.13 2.06 25 1 0 9.3 4.34M1323.52 1055.71a4.1 1.84 20 1 0 -7.71 -2.81a4.1 1.84 20 1 0 7.71 2.81M1315.69 1004.85a3.15 2.05 103 1 0 1.42 -6.14a3.15 2.05 103 1 0 -1.42 6.14M1352.58 1112.2a3 1.22 126 1 0 3.53 -4.86a3 1.22 126 1 0 -3.53 4.86M1328.9 956.5a3.32 1.43 57 1 0 -3.62 -5.57a3.32 1.43 57 1 0 3.62 5.57M1390.46 967.14a6.44 2.63 124 1 0 7.2 -10.67a6.44 2.63 124 1 0 -7.2 10.67M1200.39 939.45a6.4 5.12 53 1 0 -7.7 -10.22a6.4 5.12 53 1 0 7.7 10.22M1275.69 1145.8a6.28 3.55 87 1 0 -0.66 -12.55a6.28 3.55 87 1 0 0.66 12.55M1322.78 1012.44a4.93 3.45 28 1 0 -8.7 -4.63a4.93 3.45 28 1 0 8.7 4.63M1162.59 928.99a6.05 2.74 13 1 0 -11.79 -2.72a6.05 2.74 13 1 0 11.79 2.72M1209.62 1133.44a3.39 2.51 78 1 0 -1.41 -6.64a3.39 2.51 78 1 0 1.41 6.64M1311.47 1097.38a4.87 2.35 129 1 0 6.13 -7.57a4.87 2.35 129 1 0 -6.13 7.57M1246.56 1008.37a5.36 2.94 131 1 0 7.03 -8.09a5.36 2.94 131 1 0 -7.03 8.09M1302.42 942.39a5.5 3.51 15 1 0 -10.63 -2.85a5.5 3.51 15 1 0 10.63 2.85M1356.51 1124.14a5.86 3.97 59 1 0 -6.04 -10.04a5.86 3.97 59 1 0 6.04 10.04M1166.2 1071.31a3.13 2.03 79 1 0 -1.19 -6.14a3.13 2.03 79 1 0 1.19 6.14M1245.54 922.4a4.95 3.64 141 1 0 7.7 -6.24a4.95 3.64 141 1 0 -7.7 6.24M1161.22 1003.72a6.26 4.16 56 1 0 -7 -10.38a6.26 4.16 56 1 0 7 10.38M1405.69 1135.36a5.35 4.05 48 1 0 -7.16 -7.95a5.35 4.05 48 1 0 7.16 7.95M1266.22 923.36a3.32 2.16 24 1 0 -6.07 -2.7a3.32 2.16 24 1 0 6.07 2.7M1344.31 950.18a5.16 2.84 99 1 0 1.61 -10.2a5.16 2.84 99 1 0 -1.61 10.2M1192.08 1062.59a5.8 4.5 164 1 0 11.15 -3.2a5.8 4.5 164 1 0 -11.15 3.2M1234.14 958.42a5.98 2.79 89 1 0 -0.21 -11.96a5.98 2.79 89 1 0 0.21 11.96M1218.97 1043.03a3.6 2.83 74 1 0 -1.98 -6.92a3.6 2.83 74 1 0 1.98 6.92M1198.44 924.29a3.66 2.75 25 1 0 -6.63 -3.09a3.66 2.75 25 1 0 6.63 3.09M1213.15 923.59a5.64 2.36 109 1 0 3.67 -10.66a5.64 2.36 109 1 0 -3.67 10.66M1249.7 1146.56a5.75 3.1 87 1 0 -0.6 -11.47a5.75 3.1 87 1 0 0.6 11.47M1402.41 1033.68a4.41 2.65 87 1 0 -0.46 -8.81a4.41 2.65 87 1 0 0.46 8.81M1253.84 1049.4a3.69 2.59 67 1 0 -2.89 -6.8a3.69 2.59 67 1 0 2.89 6.8M1177.16 970.13a5.09 2.47 145 1 0 8.35 -5.84a5.09 2.47 145 1 0 -8.35 5.84M1163.47 1029.59a4.92 2.84 48 1 0 -6.59 -7.32a4.92 2.84 48 1 0 6.59 7.32M1356.58 922.49a4.52 3.61 133 1 0 6.17 -6.62a4.52 3.61 133 1 0 -6.17 6.62M1337.6 910.52a4.18 3.15 117 1 0 3.79 -7.45a4.18 3.15 117 1 0 -3.79 7.45M1196.94 1152.97a6.08 2.55 175 1 0 12.12 -1.06a6.08 2.55 175 1 0 -12.12 1.06M1265.16 983.98a3.01 1.89 115 1 0 2.54 -5.45a3.01 1.89 115 1 0 -2.54 5.45M1155.12 1013.86a5.41 3.13 152 1 0 9.55 -5.08a5.41 3.13 152 1 0 -9.55 5.08M1300.42 948.25a5.88 4.1 29 1 0 -10.29 -5.7a5.88 4.1 29 1 0 10.29 5.7M1270.19 1115.81a4.34 2.11 26 1 0 -7.79 -3.8a4.34 2.11 26 1 0 7.79 3.8M1278.03 998.74a4.71 2.16 39 1 0 -7.32 -5.93a4.71 2.16 39 1 0 7.32 5.93M1265.67 953.89a5.5 4.14 155 1 0 9.97 -4.65a5.5 4.14 155 1 0 -9.97 4.65M1382.08 1085.5a6.34 2.83 19 1 0 -11.98 -4.13a6.34 2.83 19 1 0 11.98 4.13M1307.88 989.37a6.42 3.88 153 1 0 11.44 -5.83a6.42 3.88 153 1 0 -11.44 5.83M1156.69 1010.8a6.05 3.59 141 1 0 9.41 -7.62a6.05 3.59 141 1 0 -9.41 7.62M1220.2 1087.08a3.64 1.85 70 1 0 -2.49 -6.84a3.64 1.85 70 1 0 2.49 6.84M1346.52 964.07a3.57 2.14 13 1 0 -6.96 -1.61a3.57 2.14 13 1 0 6.96 1.61M1267.51 1034.1a4.68 2.77 159 1 0 8.74 -3.35a4.68 2.77 159 1 0 -8.74 3.35M1317.93 1102.82a5.6 2.86 115 1 0 4.73 -10.14a5.6 2.86 115 1 0 -4.73 10.14M1343.79 970.69a3.58 2.39 5 1 0 -7.14 -0.62a3.58 2.39 5 1 0 7.14 0.62M1258.88 936.73a4.6 3.07 43 1 0 -6.73 -6.28a4.6 3.07 43 1 0 6.73 6.28M1279.58 1002.07a6.1 4.45 55 1 0 -7 -9.99a6.1 4.45 55 1 0 7 9.99M1393.48 1144.23a5.46 4.13 102 1 0 2.27 -10.69a5.46 4.13 102 1 0 -2.27 10.69M1169.96 918.54a4.38 2.5 57 1 0 -4.78 -7.35a4.38 2.5 57 1 0 4.78 7.35M1201.92 1029.82a3.75 2 80 1 0 -1.3 -7.39a3.75 2 80 1 0 1.3 7.39M1244.38 972.66a4.37 2.81 41 1 0 -6.6 -5.74a4.37 2.81 41 1 0 6.6 5.74M1210.74 967.72a4.96 2.96 44 1 0 -7.13 -6.89a4.96 2.96 44 1 0 7.13 6.89M1277.82 964.02a4.76 3.44 50 1 0 -6.12 -7.29a4.76 3.44 50 1 0 6.12 7.29M1179.29 982.32a5.38 3.82 102 1 0 2.24 -10.52a5.38 3.82 102 1 0 -2.24 10.52M1363.71 1041.93a4.29 3.34 99 1 0 1.34 -8.47a4.29 3.34 99 1 0 -1.34 8.47M1264.76 1100.93a4.63 2.1 169 1 0 9.1 -1.77a4.63 2.1 169 1 0 -9.1 1.77M1302.67 987.43a5.08 2.9 118 1 0 4.77 -8.97a5.08 2.9 118 1 0 -4.77 8.97M1248.97 1093.66a6.29 3.75 129 1 0 7.91 -9.77a6.29 3.75 129 1 0 -7.91 9.77M1201.19 949.54a3.03 1.48 112 1 0 2.27 -5.62a3.03 1.48 112 1 0 -2.27 5.62M1305.67 1094.88a3.06 1.86 148 1 0 5.19 -3.25a3.06 1.86 148 1 0 -5.19 3.25"/>
<path fill="#262668" opacity="0.72" d="M1272.56 994.76a3.48 2.6 1 1 0 -6.97 -0.12a3.48 2.6 1 1 0 6.97 0.12M1402.35 903.61a5.68 2.72 51 1 0 -7.14 -8.82a5.68 2.72 51 1 0 7.14 8.82M1195.58 1145.35a5.61 3.09 155 1 0 10.17 -4.74a5.61 3.09 155 1 0 -10.17 4.74M1152.86 928.49a3.78 1.92 22 1 0 -7 -2.83a3.78 1.92 22 1 0 7 2.83M1170.18 1097.73a4.78 3.74 143 1 0 7.64 -5.76a4.78 3.74 143 1 0 -7.64 5.76M1299.47 1040.81a3.29 2.04 151 1 0 5.76 -3.19a3.29 2.04 151 1 0 -5.76 3.19M1286.71 1144.42a3.1 2.47 111 1 0 2.22 -5.79a3.1 2.47 111 1 0 -2.22 5.79M1278.79 1038.75a6.18 2.64 164 1 0 11.89 -3.41a6.18 2.64 164 1 0 -11.89 3.41M1170.35 1128.66a5.55 3.72 7 1 0 -11.01 -1.35a5.55 3.72 7 1 0 11.01 1.35M1317.47 950.18a6.06 2.62 1 1 0 -12.12 -0.21a6.06 2.62 1 1 0 12.12 0.21M1395.63 1036.3a4.46 3.39 121 1 0 4.59 -7.65a4.46 3.39 121 1 0 -4.59 7.65M1362.14 1150.48a5.75 4.38 1 1 0 -11.5 -0.2a5.75 4.38 1 1 0 11.5 0.2M1396 924.41a4.11 2.05 154 1 0 7.39 -3.61a4.11 2.05 154 1 0 -7.39 3.61M1226.5 1035.48a5.64 3.22 23 1 0 -10.38 -4.41a5.64 3.22 23 1 0 10.38 4.41M1226.28 1035.13a4.68 3.73 45 1 0 -6.61 -6.61a4.68 3.73 45 1 0 6.61 6.61M1189 1078.91a5.6 2.36 71 1 0 -3.65 -10.59a5.6 2.36 71 1 0 3.65 10.59M1369.43 1045.82a3.04 1.89 12 1 0 -5.94 -1.26a3.04 1.89 12 1 0 5.94 1.26M1151.53 1084.44a5.05 3.98 168 1 0 9.89 -2.1a5.05 3.98 168 1 0 -9.89 2.1M1147.94 1072.37a4.45 2.26 163 1 0 8.51 -2.6a4.45 2.26 163 1 0 -8.51 2.6M1161.24 909.15a5.94 4.06 91 1 0 0.21 -11.88a5.94 4.06 91 1 0 -0.21 11.88M1224.71 975.98a5.55 4.02 129 1 0 6.99 -8.63a5.55 4.02 129 1 0 -6.99 8.63M1336.02 1037.01a6.29 3.97 3 1 0 -12.56 -0.66a6.29 3.97 3 1 0 12.56 0.66M1217.75 1119.58a4.15 2.89 132 1 0 5.56 -6.17a4.15 2.89 132 1 0 -5.56 6.17M1233.95 949a5.44 2.86 81 1 0 -1.7 -10.74a5.44 2.86 81 1 0 1.7 10.74M1276.5 1127.72a4.14 2.81 24 1 0 -7.56 -3.37a4.14 2.81 24 1 0 7.56 3.37M1359.57 1127.38a5.01 2.16 169 1 0 9.83 -1.91a5.01 2.16 169 1 0 -9.83 1.91M1370.15 971.16a6.45 2.89 40 1 0 -9.88 -8.29a6.45 2.89 40 1 0 9.88 8.29M1253.4 1135.62a4.16 2.03 60 1 0 -4.16 -7.21a4.16 2.03 60 1 0 4.16 7.21M1316.15 965.92a5.04 2.33 16 1 0 -9.69 -2.78a5.04 2.33 16 1 0 9.69 2.78M1281.33 903.45a6.27 2.75 148 1 0 10.64 -6.65a6.27 2.75 148 1 0 -10.64 6.65M1321.07 902.41a5.74 4.31 42 1 0 -8.53 -7.68a5.74 4.31 42 1 0 8.53 7.68M1371.55 1084.89a3.18 2.2 48 1 0 -4.26 -4.73a3.18 2.2 48 1 0 4.26 4.73M1331.14 1072.83a5.07 2.23 140 1 0 7.77 -6.52a5.07 2.23 140 1 0 -7.77 6.52M1325.19 938.49a5.88 2.52 65 1 0 -4.97 -10.66a5.88 2.52 65 1 0 4.97 10.66M1294.27 1142.53a5.37 3.38 152 1 0 9.49 -5.04a5.37 3.38 152 1 0 -9.49 5.04M1172.66 983.26a5.31 3.69 119 1 0 5.15 -9.28a5.31 3.69 119 1 0 -5.15 9.28M1272.12 1154.09a5.98 3.31 37 1 0 -9.55 -7.2a5.98 3.31 37 1 0 9.55 7.2M1389.85 1129.16a4.74 2.72 6 1 0 -9.43 -0.99a4.74 2.72 6 1 0 9.43 0.99M1171.83 962.36a5.82 4.61 12 1 0 -11.39 -2.42a5.82 4.61 12 1 0 11.39 2.42M1165.12 1023.86a5.06 2.04 132 1 0 6.77 -7.52a5.06 2.04 132 1 0 -6.77 7.52M1348.88 1019.6a3.12 2.22 75 1 0 -1.62 -6.03a3.12 2.22 75 1 0 1.62 6.03M1357.36 991.55a5.89 3.54 140 1 0 9.02 -7.57a5.89 3.54 140 1 0 -9.02 7.57M1338.93 1007.83a5.7 3.85 57 1 0 -6.21 -9.57a5.7 3.85 57 1 0 6.21 9.57M1385.14 971.02a3.12 1.97 147 1 0 5.23 -3.4a3.12 1.97 147 1 0 -5.23 3.4M1237.75 1019.15a3.78 1.77 152 1 0 6.68 -3.55a3.78 1.77 152 1 0 -6.68 3.55M1194.77 920.35a5.3 3.99 111 1 0 3.8 -9.89a5.3 3.99 111 1 0 -3.8 9.89M1255.55 1013.68a5 3.88 52 1 0 -6.16 -7.88a5 3.88 52 1 0 6.16 7.88M1374.58 1067.33a5.24 3.04 28 1 0 -9.26 -4.92a5.24 3.04 28 1 0 9.26 4.92M1321.71 1065.63a4.38 2.75 94 1 0 0.61 -8.73a4.38 2.75 94 1 0 -0.61 8.73M1164.45 1115.12a4.87 3.45 179 1 0 9.73 -0.17a4.87 3.45 179 1 0 -9.73 0.17M1226.19 902.73a3.34 1.84 164 1 0 6.43 -1.84a3.34 1.84 164 1 0 -6.43 1.84M1148.63 1016.34a3.94 1.82 167 1 0 7.69 -1.77a3.94 1.82 167 1 0 -7.69 1.77M1224.95 1096.48a4.02 2.56 35 1 0 -6.58 -4.61a4.02 2.56 35 1 0 6.58 4.61M1393.34 950.49a6.03 3.05 9 1 0 -11.9 -1.89a6.03 3.05 9 1 0 11.9 1.89M1338.9 1066.26a3.53 2.48 9 1 0 -6.97 -1.1a3.53 2.48 9 1 0 6.97 1.1M1239.96 992.98a3.39 2.17 170 1 0 6.67 -1.18a3.39 2.17 170 1 0 -6.67 1.18M1289.07 1134.34a5.77 2.47 40 1 0 -8.85 -7.42a5.77 2.47 40 1 0 8.85 7.42M1399.43 1083.42a5.61 4.22 47 1 0 -7.65 -8.21a5.61 4.22 47 1 0 7.65 8.21M1380.2 1087.68a4.68 3.58 113 1 0 3.66 -8.62a4.68 3.58 113 1 0 -3.66 8.62M1252.13 989.86a5.38 4.03 54 1 0 -6.32 -8.7a5.38 4.03 54 1 0 6.32 8.7M1212.23 1062.93a5.11 2.98 8 1 0 -10.11 -1.42a5.11 2.98 8 1 0 10.11 1.42M1326.08 991.44a3.4 1.87 150 1 0 5.89 -3.4a3.4 1.87 150 1 0 -5.89 3.4M1377.33 1001.99a5.45 3.24 107 1 0 3.19 -10.42a5.45 3.24 107 1 0 -3.19 10.42M1364.08 1047.77a3.78 1.56 95 1 0 0.66 -7.53a3.78 1.56 95 1 0 -0.66 7.53M1179.13 1055.73a4.74 2.78 127 1 0 5.71 -7.58a4.74 2.78 127 1 0 -5.71 7.58M1206.1 954.11a6.49 3.48 90 1 0 -0 -12.99a6.49 3.48 90 1 0 0 12.99M1392.88 910.91a5.03 3.85 140 1 0 7.71 -6.47a5.03 3.85 140 1 0 -7.71 6.47M1295.55 997.88a6.22 4.73 85 1 0 -1.08 -12.4a6.22 4.73 85 1 0 1.08 12.4M1366.19 1156.49a5.48 3.2 175 1 0 10.92 -0.96a5.48 3.2 175 1 0 -10.92 0.96M1356.16 993.07a4.07 2.28 132 1 0 5.45 -6.05a4.07 2.28 132 1 0 -5.45 6.05M1264.97 930a5.2 3.37 13 1 0 -10.14 -2.34a5.2 3.37 13 1 0 10.14 2.34M1238.41 1056.89a3.38 1.41 15 1 0 -6.53 -1.75a3.38 1.41 15 1 0 6.53 1.75M1154.24 1109.59a6.19 2.6 63 1 0 -5.62 -11.04a6.19 2.6 63 1 0 5.62 11.04M1311.33 1080a6.2 4.09 99 1 0 1.94 -12.24a6.2 4.09 99 1 0 -1.94 12.24M1256.87 1097.36a5.02 3.77 140 1 0 7.69 -6.45a5.02 3.77 140 1 0 -7.69 6.45M1372.97 929.69a6.48 4.43 78 1 0 -2.69 -12.67a6.48 4.43 78 1 0 2.69 12.67M1389.77 980.21a3.57 2.43 149 1 0 6.12 -3.68a3.57 2.43 149 1 0 -6.12 3.68M1336.89 1125.96a3.29 1.88 58 1 0 -3.49 -5.58a3.29 1.88 58 1 0 3.49 5.58M1163.87 973.4a3.43 1.45 125 1 0 3.93 -5.61a3.43 1.45 125 1 0 -3.93 5.61M1387.15 1078.71a6.37 3.16 64 1 0 -5.58 -11.44a6.37 3.16 64 1 0 5.58 11.44M1390.52 1160.81a5.75 3.22 127 1 0 6.92 -9.18a5.75 3.22 127 1 0 -6.92 9.18M1251.84 906.3a3.15 2.1 157 1 0 5.8 -2.46a3.15 2.1 157 1 0 -5.8 2.46M1145.66 1006.91a3.81 2.64 177 1 0 7.61 -0.4a3.81 2.64 177 1 0 -7.61 0.4M1246.49 1008.19a6.08 4.64 131 1 0 7.98 -9.18a6.08 4.64 131 1 0 -7.98 9.18M1325.35 1094.65a4.5 2.5 37 1 0 -7.19 -5.42a4.5 2.5 37 1 0 7.19 5.42M1385.06 1022.63a3.56 1.88 107 1 0 2.08 -6.81a3.56 1.88 107 1 0 -2.08 6.81M1207.85 1149.21a3.28 1.78 46 1 0 -4.55 -4.71a3.28 1.78 46 1 0 4.55 4.71M1315.41 1001.33a3.73 2.69 55 1 0 -4.28 -6.11a3.73 2.69 55 1 0 4.28 6.11M1219.02 989.92a6.04 4.24 128 1 0 7.44 -9.52a6.04 4.24 128 1 0 -7.44 9.52M1259.8 1076.27a6.37 4.87 79 1 0 -2.43 -12.51a6.37 4.87 79 1 0 2.43 12.51M1281.15 1045.22a5.89 2.77 16 1 0 -11.32 -3.25a5.89 2.77 16 1 0 11.32 3.25M1178.16 943.81a3.95 2.25 158 1 0 7.33 -2.96a3.95 2.25 158 1 0 -7.33 2.96M1213.97 899.68a3.53 2.4 172 1 0 7 -0.98a3.53 2.4 172 1 0 -7 0.98M1293.41 979a4.15 3.27 25 1 0 -7.52 -3.51a4.15 3.27 25 1 0 7.52 3.51M1249.8 1011.37a4.91 2.95 93 1 0 0.51 -9.8a4.91 2.95 93 1 0 -0.51 9.8M1158.61 1061.5a6.07 2.5 82 1 0 -1.69 -12.03a6.07 2.5 82 1 0 1.69 12.03M1248.18 973.36a6.43 3.54 2 1 0 -12.86 -0.45a6.43 3.54 2 1 0 12.86 0.45M1354.75 913.88a3.55 2.26 89 1 0 -0.12 -7.1a3.55 2.26 89 1 0 0.12 7.1M1376.65 1037.49a5.3 2.16 146 1 0 8.78 -5.93a5.3 2.16 146 1 0 -8.78 5.93M1215.71 1077.46a6.48 5.04 29 1 0 -11.33 -6.28a6.48 5.04 29 1 0 11.33 6.28M1199.31 1003.85a4.84 2.18 67 1 0 -3.78 -8.91a4.84 2.18 67 1 0 3.78 8.91M1236.08 940.15a4.29 3 9 1 0 -8.47 -1.34a4.29 3 9 1 0 8.47 1.34M1374.56 941.5a4.77 3.69 126 1 0 5.61 -7.72a4.77 3.69 126 1 0 -5.61 7.72M1163.56 1034.99a4.41 2.66 47 1 0 -6.01 -6.45a4.41 2.66 47 1 0 6.01 6.45M1240.34 1016.37a5.05 3.72 165 1 0 9.75 -2.61a5.05 3.72 165 1 0 -9.75 2.61M1304.88 1028.02a4.34 2.66 153 1 0 7.74 -3.94a4.34 2.66 153 1 0 -7.74 3.94M1304.86 1120.19a4.17 3.33 118 1 0 3.92 -7.37a4.17 3.33 118 1 0 -3.92 7.37M1212.62 1090.99a3.5 2.41 150 1 0 6.06 -3.5a3.5 2.41 150 1 0 -6.06 3.5M1342.47 1079.91a3.04 1.98 145 1 0 4.98 -3.49a3.04 1.98 145 1 0 -4.98 3.49M1203.52 1099.03a3.86 2.3 13 1 0 -7.53 -1.74a3.86 2.3 13 1 0 7.53 1.74M1263.66 950.14a4.73 2.82 155 1 0 8.58 -4a4.73 2.82 155 1 0 -8.58 4M1273.29 1068.78a5.94 3.22 69 1 0 -4.26 -11.09a5.94 3.22 69 1 0 4.26 11.09M1277.24 960.8a4.46 2.3 127 1 0 5.37 -7.13a4.46 2.3 127 1 0 -5.37 7.13M1215.67 981.28a5.22 3.17 175 1 0 10.4 -0.91a5.22 3.17 175 1 0 -10.4 0.91M1383.57 1152.26a4.82 2.43 68 1 0 -3.61 -8.94a4.82 2.43 68 1 0 3.61 8.94M1189.49 1080.7a4.99 3.65 56 1 0 -5.58 -8.28a4.99 3.65 56 1 0 5.58 8.28M1278.36 1035.95a3.55 1.47 49 1 0 -4.65 -5.35a3.55 1.47 49 1 0 4.65 5.35M1232.63 1138.76a4.05 2.25 10 1 0 -7.98 -1.41a4.05 2.25 10 1 0 7.98 1.41M1363.69 1038.55a6.43 2.65 163 1 0 12.3 -3.76a6.43 2.65 163 1 0 -12.3 3.76M1336.81 1157.43a6.27 3.14 59 1 0 -6.46 -10.74a6.27 3.14 59 1 0 6.46 10.74M1145.92 1022.87a5.54 2.77 178 1 0 11.06 -0.39a5.54 2.77 178 1 0 -11.06 0.39M1309.16 1090.21a4.16 2.99 65 1 0 -3.52 -7.55a4.16 2.99 65 1 0 3.52 7.55M1217.61 986.82a4.22 3.33 133 1 0 5.75 -6.17a4.22 3.33 133 1 0 -5.75 6.17M1179.33 1102.83a5.41 3.31 19 1 0 -10.23 -3.52a5.41 3.31 19 1 0 10.23 3.52M1214.02 1059.32a6.09 2.45 68 1 0 -4.56 -11.28a6.09 2.45 68 1 0 4.56 11.28M1288.45 1025.92a4.67 2.77 69 1 0 -3.35 -8.72a4.67 2.77 69 1 0 3.35 8.72M1296.26 1003.55a4.66 3.34 169 1 0 9.16 -1.78a4.66 3.34 169 1 0 -9.16 1.78M1303.34 959.44a5.09 2.27 98 1 0 1.42 -10.07a5.09 2.27 98 1 0 -1.42 10.07M1202.73 982.61a3.85 1.62 65 1 0 -3.26 -6.98a3.85 1.62 65 1 0 3.26 6.98M1266.14 1118.58a4.38 2.78 32 1 0 -7.42 -4.64a4.38 2.78 32 1 0 7.42 4.64M1343.19 966.78a4.62 3.23 15 1 0 -8.92 -2.39a4.62 3.23 15 1 0 8.92 2.39M1369.25 1005.17a3.01 1.62 171 1 0 5.94 -0.94a3.01 1.62 171 1 0 -5.94 0.94M1349.99 1003.62a4.23 2.78 52 1 0 -5.21 -6.67a4.23 2.78 52 1 0 5.21 6.67M1253.22 1046.98a4.5 2.64 147 1 0 7.55 -4.9a4.5 2.64 147 1 0 -7.55 4.9M1351.39 998.39a5.83 4.2 106 1 0 3.21 -11.2a5.83 4.2 106 1 0 -3.21 11.2M1247.6 1071a6.09 2.64 14 1 0 -11.82 -2.95a6.09 2.64 14 1 0 11.82 2.95M1148.5 952.12a5.88 2.44 133 1 0 8.02 -8.6a5.88 2.44 133 1 0 -8.02 8.6M1392.97 927a5.76 4.44 93 1 0 0.6 -11.5a5.76 4.44 93 1 0 -0.6 11.5M1253.11 1028.92a6.19 4.55 117 1 0 5.62 -11.04a6.19 4.55 117 1 0 -5.62 11.04M1202.38 1058.73a3.13 1.28 160 1 0 5.89 -2.14a3.13 1.28 160 1 0 -5.89 2.14M1149.8 1112.65a5.89 2.4 150 1 0 10.2 -5.89a5.89 2.4 150 1 0 -10.2 5.89M1173.89 904.9a3.51 2.46 114 1 0 2.85 -6.41a3.51 2.46 114 1 0 -2.85 6.41M1251.4 1007.9a4.19 2.26 161 1 0 7.92 -2.73a4.19 2.26 161 1 0 -7.92 2.73M1251.86 1095.4a5.11 3.66 54 1 0 -6 -8.26a5.11 3.66 54 1 0 6 8.26M1186.6 1099.27a3.62 1.95 9 1 0 -7.15 -1.13a3.62 1.95 9 1 0 7.15 1.13M1273.24 1097.39a6.47 4.31 70 1 0 -4.42 -12.15a6.47 4.31 70 1 0 4.42 12.15M1356.68 944.99a4.97 2.53 109 1 0 3.24 -9.4a4.97 2.53 109 1 0 -3.24 9.4M1224.57 1114.87a3.85 2.79 32 1 0 -6.53 -4.08a3.85 2.79 32 1 0 6.53 4.08M1158.05 1024.97a4.17 2.46 71 1 0 -2.71 -7.88a4.17 2.46 71 1 0 2.71 7.88M1191.55 1109.99a4.46 1.92 177 1 0 8.92 -0.47a4.46 1.92 177 1 0 -8.92 0.47M1281.67 942.73a3.36 1.53 168 1 0 6.57 -1.4a3.36 1.53 168 1 0 -6.57 1.4M1358.55 1033.7a3.26 1.59 94 1 0 0.45 -6.5a3.26 1.59 94 1 0 -0.45 6.5M1330.69 927.2a4.12 2.72 114 1 0 3.35 -7.52a4.12 2.72 114 1 0 -3.35 7.52M1263.35 1141.82a4.11 2.08 144 1 0 6.65 -4.83a4.11 2.08 144 1 0 -6.65 4.83M1224.61 1154.04a4.89 2.78 55 1 0 -5.61 -8.01a4.89 2.78 55 1 0 5.61 8.01"/>
<path fill="#16163a" opacity="0.72" d="M1255.02 986.57a3.15 2.15 1 1 0 -6.3 -0.11a3.15 2.15 1 1 0 6.3 0.11M1155.9 921.54a4.89 1.99 21 1 0 -9.13 -3.5a4.89 1.99 21 1 0 9.13 3.5M1377.42 931.49a6.09 3.32 53 1 0 -7.33 -9.72a6.09 3.32 53 1 0 7.33 9.72M1307.59 928.3a5.74 2.36 143 1 0 9.18 -6.91a5.74 2.36 143 1 0 -9.18 6.91M1345.49 976.72a3.41 1.94 36 1 0 -5.52 -4.01a3.41 1.94 36 1 0 5.52 4.01M1296.78 1108.21a5.32 2.71 152 1 0 9.4 -5a5.32 2.71 152 1 0 -9.4 5M1188.11 1107.47a6.01 2.89 121 1 0 6.19 -10.3a6.01 2.89 121 1 0 -6.19 10.3M1163.86 959.03a3.48 1.53 125 1 0 3.99 -5.7a3.48 1.53 125 1 0 -3.99 5.7M1208.71 1019.16a4.3 3.38 146 1 0 7.13 -4.81a4.3 3.38 146 1 0 -7.13 4.81M1370.91 908.13a5.09 3.28 173 1 0 10.1 -1.24a5.09 3.28 173 1 0 -10.1 1.24M1171.79 1065.36a3.29 1.45 6 1 0 -6.54 -0.69a3.29 1.45 6 1 0 6.54 0.69M1218.83 1022.32a5.14 3.22 112 1 0 3.85 -9.53a5.14 3.22 112 1 0 -3.85 9.53M1231.61 1014.57a5.12 3.61 171 1 0 10.12 -1.6a5.12 3.61 171 1 0 -10.12 1.6M1200.64 1040.92a4.17 1.7 141 1 0 6.49 -5.25a4.17 1.7 141 1 0 -6.49 5.25M1161.22 948.72a5.72 3.82 24 1 0 -10.46 -4.66a5.72 3.82 24 1 0 10.46 4.66M1274.93 919.09a5.83 3.26 118 1 0 5.47 -10.29a5.83 3.26 118 1 0 -5.47 10.29M1362.59 912.99a6.5 2.96 106 1 0 3.58 -12.49a6.5 2.96 106 1 0 -3.58 12.49M1339.44 1118.34a5.33 3.45 131 1 0 6.99 -8.04a5.33 3.45 131 1 0 -6.99 8.04M1398.07 982.3a4.6 2.37 136 1 0 6.62 -6.39a4.6 2.37 136 1 0 -6.62 6.39M1225.86 920.58a3.91 1.87 149 1 0 6.7 -4.02a3.91 1.87 149 1 0 -6.7 4.02M1398.46 1033.26a6.01 2.55 136 1 0 8.65 -8.35a6.01 2.55 136 1 0 -8.65 8.35M1349.07 941.88a6.33 4.08 165 1 0 12.24 -3.28a6.33 4.08 165 1 0 -12.24 3.28M1227.88 917.98a4.38 2.58 78 1 0 -1.82 -8.56a4.38 2.58 78 1 0 1.82 8.56M1278.5 1041.22a4.43 3.04 68 1 0 -3.32 -8.21a4.43 3.04 68 1 0 3.32 8.21M1310.13 998.93a4.59 2.06 27 1 0 -8.19 -4.17a4.59 2.06 27 1 0 8.19 4.17M1287.94 1061.93a3.38 1.35 144 1 0 5.46 -3.97a3.38 1.35 144 1 0 -5.46 3.97M1312.95 1006.47a4.47 3.07 71 1 0 -2.91 -8.45a4.47 3.07 71 1 0 2.91 8.45M1171.13 938.65a3.38 2.03 36 1 0 -5.46 -3.97a3.38 2.03 36 1 0 5.46 3.97M1180.74 1159.79a5.3 3.31 117 1 0 4.81 -9.44a5.3 3.31 117 1 0 -4.81 9.44M1234.42 1090.12a4.57 2.73 50 1 0 -5.87 -7a4.57 2.73 50 1 0 5.87 7M1391.2 976.65a3.87 2.64 40 1 0 -5.92 -4.97a3.87 2.64 40 1 0 5.92 4.97M1238.88 1028.37a5.37 4.14 94 1 0 0.75 -10.71a5.37 4.14 94 1 0 -0.75 10.71M1364.97 1148.08a4.75 3.35 169 1 0 9.33 -1.81a4.75 3.35 169 1 0 -9.33 1.81M1166.11 1152.09a3.57 2.4 14 1 0 -6.92 -1.73a3.57 2.4 14 1 0 6.92 1.73M1170.22 1143.45a3.31 1.66 143 1 0 5.29 -3.99a3.31 1.66 143 1 0 -5.29 3.99M1276.96 1065.78a4.73 2.92 94 1 0 0.66 -9.44a4.73 2.92 94 1 0 -0.66 9.44M1290.27 992.37a4.06 2.81 33 1 0 -6.81 -4.42a4.06 2.81 33 1 0 6.81 4.42M1394.36 1136.2a5.93 3.08 166 1 0 11.51 -2.87a5.93 3.08 166 1 0 -11.51 2.87M1378.26 901.56a3.26 2.59 23 1 0 -6 -2.55a3.26 2.59 23 1 0 6 2.55M1200.92 1132.95a3.66 1.94 31 1 0 -6.28 -3.77a3.66 1.94 31 1 0 6.28 3.77M1259.62 1120.19a4.53 3.17 129 1 0 5.7 -7.04a4.53 3.17 129 1 0 -5.7 7.04M1264.74 961.13a5.4 4.03 154 1 0 9.71 -4.74a5.4 4.03 154 1 0 -9.71 4.74M1365.96 1005.21a5.21 3.33 157 1 0 9.59 -4.07a5.21 3.33 157 1 0 -9.59 4.07M1253.2 1078.3a6.29 2.74 73 1 0 -3.68 -12.03a6.29 2.74 73 1 0 3.68 12.03M1234.82 913.28a3.8 2.93 115 1 0 3.21 -6.88a3.8 2.93 115 1 0 -3.21 6.88M1411.74 1041.86a4.18 2.77 23 1 0 -7.69 -3.27a4.18 2.77 23 1 0 7.69 3.27M1261.39 1113.3a5.31 3.56 74 1 0 -2.93 -10.21a5.31 3.56 74 1 0 2.93 10.21M1354.58 1111.04a3.03 1.58 11 1 0 -5.95 -1.16a3.03 1.58 11 1 0 5.95 1.16M1381.78 956.28a5.16 4.12 172 1 0 10.22 -1.44a5.16 4.12 172 1 0 -10.22 1.44M1400.1 1043.44a5.6 2.92 13 1 0 -10.91 -2.52a5.6 2.92 13 1 0 10.91 2.52M1221.13 1143.86a6.34 4.43 95 1 0 1.1 -12.62a6.34 4.43 95 1 0 -1.1 12.62M1288.56 1054.61a4.17 3.08 171 1 0 8.23 -1.3a4.17 3.08 171 1 0 -8.23 1.3M1403.82 1103.65a4.92 2.99 47 1 0 -6.72 -7.2a4.92 2.99 47 1 0 6.72 7.2M1215.59 1054.48a5.94 2.79 63 1 0 -5.4 -10.59a5.94 2.79 63 1 0 5.4 10.59M1302.65 1082.17a5.92 2.78 36 1 0 -9.57 -6.96a5.92 2.78 36 1 0 9.57 6.96M1379 1149.37a6.32 4.64 96 1 0 1.32 -12.56a6.32 4.64 96 1 0 -1.32 12.56M1171.37 960.3a5.03 3.81 87 1 0 -0.53 -10.04a5.03 3.81 87 1 0 0.53 10.04M1338.13 953.96a4.16 3.22 3 1 0 -8.31 -0.44a4.16 3.22 3 1 0 8.31 0.44M1354.85 1121.01a4.08 2.55 41 1 0 -6.16 -5.35a4.08 2.55 41 1 0 6.16 5.35M1273.21 1063.63a3.01 1.76 101 1 0 1.15 -5.9a3.01 1.76 101 1 0 -1.15 5.9M1377.29 1111.27a6.12 3.56 154 1 0 10.99 -5.36a6.12 3.56 154 1 0 -10.99 5.36M1227.85 1123.15a6 3.39 107 1 0 3.51 -11.48a6 3.39 107 1 0 -3.51 11.48M1222.76 941.29a3.58 1.88 48 1 0 -4.8 -5.33a3.58 1.88 48 1 0 4.8 5.33M1306.86 1098.84a4.86 2.5 58 1 0 -5.15 -8.24a4.86 2.5 58 1 0 5.15 8.24M1247.63 1060.37a4.58 3.45 82 1 0 -1.27 -9.07a4.58 3.45 82 1 0 1.27 9.07M1383.09 945.84a3.86 2.64 152 1 0 6.82 -3.63a3.86 2.64 152 1 0 -6.82 3.63M1318.9 1061.33a3.37 1.47 107 1 0 1.97 -6.44a3.37 1.47 107 1 0 -1.97 6.44M1231.47 1039.29a3.44 1.58 91 1 0 0.12 -6.88a3.44 1.58 91 1 0 -0.12 6.88M1258.05 1034.58a5.21 2.19 106 1 0 2.87 -10.02a5.21 2.19 106 1 0 -2.87 10.02M1316.57 1107.52a5.57 3.66 174 1 0 11.07 -1.16a5.57 3.66 174 1 0 -11.07 1.16M1404.55 1153.49a3.89 2.52 125 1 0 4.46 -6.37a3.89 2.52 125 1 0 -4.46 6.37M1165.23 1028.15a6.45 3.28 176 1 0 12.87 -0.9a6.45 3.28 176 1 0 -12.87 0.9M1181.81 985.64a6.11 3.57 114 1 0 4.97 -11.17a6.11 3.57 114 1 0 -4.97 11.17M1186.86 923.79a4.96 2.05 46 1 0 -6.89 -7.14a4.96 2.05 46 1 0 6.89 7.14M1273.06 1098.3a4.86 2.69 144 1 0 7.86 -5.71a4.86 2.69 144 1 0 -7.86 5.71M1371.55 921.75a3.23 2.25 161 1 0 6.11 -2.11a3.23 2.25 161 1 0 -6.11 2.11M1240.88 960.65a3.76 2.64 121 1 0 3.88 -6.45a3.76 2.64 121 1 0 -3.88 6.45M1216.79 923.54a4.59 1.88 132 1 0 6.15 -6.83a4.59 1.88 132 1 0 -6.15 6.83M1177.92 1027.76a5.72 4.34 63 1 0 -5.2 -10.2a5.72 4.34 63 1 0 5.2 10.2M1370.94 1026.02a5.7 4.27 168 1 0 11.15 -2.37a5.7 4.27 168 1 0 -11.15 2.37M1313.07 1107.46a3.22 2.1 170 1 0 6.35 -1.12a3.22 2.1 170 1 0 -6.35 1.12M1280.96 1077.51a4.52 2.76 134 1 0 6.28 -6.5a4.52 2.76 134 1 0 -6.28 6.5M1392.36 1073.16a5.59 3.57 148 1 0 9.48 -5.93a5.59 3.57 148 1 0 -9.48 5.93M1228.94 1055.56a5.27 3.88 46 1 0 -7.33 -7.59a5.27 3.88 46 1 0 7.33 7.59M1244.08 1037.69a3.65 2.07 101 1 0 1.39 -7.16a3.65 2.07 101 1 0 -1.39 7.16M1217.56 965.62a3.14 1.7 71 1 0 -2.05 -5.94a3.14 1.7 71 1 0 2.05 5.94M1153.94 974.84a3.67 2.61 26 1 0 -6.59 -3.21a3.67 2.61 26 1 0 6.59 3.21M1283.23 936.75a3.02 1.57 88 1 0 -0.21 -6.04a3.02 1.57 88 1 0 0.21 6.04M1260.78 1044.45a5.49 3.94 113 1 0 4.29 -10.11a5.49 3.94 113 1 0 -4.29 10.11M1152.46 1051.7a3.34 1.59 150 1 0 5.79 -3.34a3.34 1.59 150 1 0 -5.79 3.34M1373.46 1031.3a6.12 4.59 28 1 0 -10.8 -5.74a6.12 4.59 28 1 0 10.8 5.74M1386.49 1017.05a5.45 3.72 37 1 0 -8.7 -6.56a5.45 3.72 37 1 0 8.7 6.56M1312.78 1156.71a3.82 2.6 178 1 0 7.63 -0.27a3.82 2.6 178 1 0 -7.63 0.27M1376.18 1036.65a6.1 3.77 145 1 0 10 -7a6.1 3.77 145 1 0 -10 7M1185.03 1072.93a3.26 1.99 124 1 0 3.64 -5.4a3.26 1.99 124 1 0 -3.64 5.4M1178.88 1101.57a5.04 3.27 119 1 0 4.88 -8.81a5.04 3.27 119 1 0 -4.88 8.81M1340.74 1142.08a3.19 1.84 84 1 0 -0.67 -6.34a3.19 1.84 84 1 0 0.67 6.34M1388.45 1136.38a4.43 2.66 152 1 0 7.81 -4.16a4.43 2.66 152 1 0 -7.81 4.16M1151.33 1034.22a3.48 2.62 168 1 0 6.81 -1.45a3.48 2.62 168 1 0 -6.81 1.45M1227.9 1059.09a3.65 2.78 123 1 0 3.98 -6.13a3.65 2.78 123 1 0 -3.98 6.13M1350.39 1098.91a5.34 2.35 92 1 0 0.37 -10.67a5.34 2.35 92 1 0 -0.37 10.67M1353.48 913.08a6.19 3.14 69 1 0 -4.44 -11.56a6.19 3.14 69 1 0 4.44 11.56M1244.7 1009.31a4.14 2.92 83 1 0 -1.01 -8.21a4.14 2.92 83 1 0 1.01 8.21M1359.06 987.09a3.48 1.77 3 1 0 -6.96 -0.36a3.48 1.77 3 1 0 6.96 0.36M1359.86 1096a5.94 3.92 140 1 0 9.1 -7.63a5.94 3.92 140 1 0 -9.1 7.63M1209.96 1023.99a3.44 1.45 5 1 0 -6.84 -0.6a3.44 1.45 5 1 0 6.84 0.6M1328.98 1085.46a3.15 2.34 20 1 0 -5.92 -2.16a3.15 2.34 20 1 0 5.92 2.16M1261.41 1060.17a6.04 3.27 159 1 0 11.28 -4.33a6.04 3.27 159 1 0 -11.28 4.33M1254.87 951.48a4.6 3.47 117 1 0 4.17 -8.19a4.6 3.47 117 1 0 -4.17 8.19M1151.9 1031.48a6.04 4.79 162 1 0 11.49 -3.73a6.04 4.79 162 1 0 -11.49 3.73M1162.94 1075.41a3.32 1.86 174 1 0 6.6 -0.69a3.32 1.86 174 1 0 -6.6 0.69M1173.91 998.28a5.65 4.31 93 1 0 0.59 -11.28a5.65 4.31 93 1 0 -0.59 11.28M1198.28 1096.37a5.45 2.82 14 1 0 -10.58 -2.64a5.45 2.82 14 1 0 10.58 2.64M1391.66 1052.33a3.57 1.89 39 1 0 -5.54 -4.49a3.57 1.89 39 1 0 5.54 4.49M1182.4 1124.79a5.86 3.75 158 1 0 10.87 -4.39a5.86 3.75 158 1 0 -10.87 4.39M1204.1 1024.26a3.25 2.16 68 1 0 -2.44 -6.03a3.25 2.16 68 1 0 2.44 6.03M1210.06 1041.46a4.06 2.73 105 1 0 2.1 -7.85a4.06 2.73 105 1 0 -2.1 7.85M1298.29 1138.33a3.03 2.15 20 1 0 -5.69 -2.07a3.03 2.15 20 1 0 5.69 2.07M1231.85 1007.92a4.18 2.15 81 1 0 -1.31 -8.26a4.18 2.15 81 1 0 1.31 8.26M1280.65 906.68a6.07 2.81 58 1 0 -6.43 -10.3a6.07 2.81 58 1 0 6.43 10.3M1177.02 1008.49a4.8 3.52 95 1 0 0.84 -9.56a4.8 3.52 95 1 0 -0.84 9.56M1346.72 1064.51a3.12 1.95 17 1 0 -5.97 -1.83a3.12 1.95 17 1 0 5.97 1.83M1351.6 930.62a6.27 3.99 64 1 0 -5.5 -11.27a6.27 3.99 64 1 0 5.5 11.27M1365.01 1056.93a4.13 1.84 39 1 0 -6.42 -5.2a4.13 1.84 39 1 0 6.42 5.2M1183.58 946.23a5.06 2.57 156 1 0 9.25 -4.12a5.06 2.57 156 1 0 -9.25 4.12M1381.42 942.86a4.75 2.54 86 1 0 -0.66 -9.47a4.75 2.54 86 1 0 0.66 9.47M1322.11 1079.89a3.26 1.56 96 1 0 0.68 -6.48a3.26 1.56 96 1 0 -0.68 6.48M1160.49 944.99a5.9 4.55 35 1 0 -9.67 -6.77a5.9 4.55 35 1 0 9.67 6.77M1338.25 961.94a3.62 1.92 83 1 0 -0.88 -7.18a3.62 1.92 83 1 0 0.88 7.18M1370.25 1092.09a6.04 4 12 1 0 -11.81 -2.51a6.04 4 12 1 0 11.81 2.51M1159.56 1014.74a5.49 2.31 146 1 0 9.1 -6.14a5.49 2.31 146 1 0 -9.1 6.14M1403.82 1085.79a5.6 3.34 37 1 0 -8.94 -6.74a5.6 3.34 37 1 0 8.94 6.74M1342.93 917.32a3.95 2.83 43 1 0 -5.78 -5.39a3.95 2.83 43 1 0 5.78 5.39M1317.48 971.03a5.87 4.51 95 1 0 1.02 -11.7a5.87 4.51 95 1 0 -1.02 11.7M1205.98 1036.98a6.46 4.54 166 1 0 12.53 -3.12a6.46 4.54 166 1 0 -12.53 3.12M1168.38 1114.78a5.17 3.92 32 1 0 -8.77 -5.48a5.17 3.92 32 1 0 8.77 5.48M1337.89 909.28a6.39 4.12 11 1 0 -12.54 -2.44a6.39 4.12 11 1 0 12.54 2.44M1393.45 936.02a5.78 4.11 131 1 0 7.58 -8.72a5.78 4.11 131 1 0 -7.58 8.72M1161.84 940.24a3.18 1.76 44 1 0 -4.58 -4.42a3.18 1.76 44 1 0 4.58 4.42M1371.65 1149.98a4.29 3.11 72 1 0 -2.65 -8.16a4.29 3.11 72 1 0 2.65 8.16M1278.34 1025.18a3.17 1.98 177 1 0 6.33 -0.33a3.17 1.98 177 1 0 -6.33 0.33M1385.99 1064.95a4.92 2.41 149 1 0 8.43 -5.06a4.92 2.41 149 1 0 -8.43 5.06M1149.46 973.06a5.26 2.18 160 1 0 9.89 -3.6a5.26 2.18 160 1 0 -9.89 3.6M1167.94 944.16a4.32 2.06 27 1 0 -7.71 -3.93a4.32 2.06 27 1 0 7.71 3.93M1247.87 1104.67a4.75 3.61 100 1 0 1.65 -9.36a4.75 3.61 100 1 0 -1.65 9.36M1210.25 1082.84a5.7 2.42 160 1 0 10.71 -3.9a5.7 2.42 160 1 0 -10.71 3.9M1294.61 1080.22a4.12 1.92 5 1 0 -8.2 -0.72a4.12 1.92 5 1 0 8.2 0.72M1256.26 1044.66a3.03 1.53 31 1 0 -5.19 -3.12a3.03 1.53 31 1 0 5.19 3.12M1179.36 1046.77a5.76 2.39 30 1 0 -9.97 -5.76a5.76 2.39 30 1 0 9.97 5.76M1333.75 962.04a4.48 2.77 23 1 0 -8.25 -3.5a4.48 2.77 23 1 0 8.25 3.5M1152.34 1080.28a5.49 2.8 162 1 0 10.44 -3.39a5.49 2.8 162 1 0 -10.44 3.39M1252.7 1070.04a5.9 4.06 165 1 0 11.39 -3.05a5.9 4.06 165 1 0 -11.39 3.05M1195.54 960.71a6.3 2.92 141 1 0 9.79 -7.93a6.3 2.92 141 1 0 -9.79 7.93M1186.76 1021.13a6.15 2.95 49 1 0 -8.06 -9.28a6.15 2.95 49 1 0 8.06 9.28M1156.85 992.42a4.06 1.86 161 1 0 7.68 -2.64a4.06 1.86 161 1 0 -7.68 2.64M1264.03 1040.07a3.32 1.84 173 1 0 6.59 -0.81a3.32 1.84 173 1 0 -6.59 0.81M1293.21 996.37a4.35 3.1 92 1 0 0.3 -8.69a4.35 3.1 92 1 0 -0.3 8.69M1353.8 978.04a4.11 2.18 140 1 0 6.3 -5.29a4.11 2.18 140 1 0 -6.3 5.29M1300.81 959.37a6.17 4.52 48 1 0 -8.25 -9.16a6.17 4.52 48 1 0 8.25 9.16M1308.13 1068.3a5.6 2.87 18 1 0 -10.65 -3.46a5.6 2.87 18 1 0 10.65 3.46M1344.68 1158.87a3.47 1.96 82 1 0 -0.97 -6.87a3.47 1.96 82 1 0 0.97 6.87M1395.57 1015.36a3.06 1.53 59 1 0 -3.15 -5.25a3.06 1.53 59 1 0 3.15 5.25M1322.38 1055.12a4.46 2.1 126 1 0 5.24 -7.21a4.46 2.1 126 1 0 -5.24 7.21M1290.48 939.44a4.47 2.44 137 1 0 6.54 -6.09a4.47 2.44 137 1 0 -6.54 6.09M1167.9 1065.83a6.41 2.8 79 1 0 -2.45 -12.59a6.41 2.8 79 1 0 2.45 12.59M1181.12 905.02a6.19 3.23 152 1 0 10.93 -5.81a6.19 3.23 152 1 0 -10.93 5.81M1390.11 939.83a3.81 1.59 96 1 0 0.8 -7.58a3.81 1.59 96 1 0 -0.8 7.58M1187.73 925.71a3.32 1.79 42 1 0 -4.94 -4.45a3.32 1.79 42 1 0 4.94 4.45M1325.73 994.11a3.1 2.05 24 1 0 -5.66 -2.52a3.1 2.05 24 1 0 5.66 2.52M1237.56 1047.56a5.79 3.47 92 1 0 0.4 -11.57a5.79 3.47 92 1 0 -0.4 11.57"/>
</g></g>
<clipPath id="ts"><rect x="1454.7" y="901.8" width="250.8" height="250.8"/></clipPath>
<rect x="1454.7" y="901.8" width="250.8" height="250.8" fill="#07070f"/>
<g clip-path="url(#ts)"><g filter="url(#cbts)">
<filter id="cbts" x="-5%" y="-5%" width="110%" height="110%"><feGaussianBlur stdDeviation="1.1"/></filter>
<path fill="#1e1e56" opacity="0.8" d="M1633.23 955.09a5.16 3.52 151 1 0 9.03 -5a5.16 3.52 151 1 0 -9.03 5M1546.82 1088.93a4.19 2.38 42 1 0 -6.23 -5.61a4.19 2.38 42 1 0 6.23 5.61M1680.38 944.06a4.5 3.1 139 1 0 6.8 -5.91a4.5 3.1 139 1 0 -6.8 5.91M1649.34 1055.31a4.5 3.18 108 1 0 2.78 -8.55a4.5 3.18 108 1 0 -2.78 8.55M1524.44 994.58a6.26 3.24 3 1 0 -12.5 -0.66a6.26 3.24 3 1 0 12.5 0.66M1497.53 1152.15a5.36 3.91 10 1 0 -10.56 -1.86a5.36 3.91 10 1 0 10.56 1.86M1497.01 997.61a4.67 2.46 146 1 0 7.74 -5.22a4.67 2.46 146 1 0 -7.74 5.22M1629.36 1137.36a5.42 2.5 136 1 0 7.8 -7.53a5.42 2.5 136 1 0 -7.8 7.53M1647.84 1075.06a4.04 2.82 166 1 0 7.85 -1.96a4.04 2.82 166 1 0 -7.85 1.96M1645.74 1009.05a5.63 3.04 5 1 0 -11.21 -0.98a5.63 3.04 5 1 0 11.21 0.98M1603.92 1038.53a6.47 3.52 130 1 0 8.32 -9.92a6.47 3.52 130 1 0 -8.32 9.92M1635.72 1053.48a3.2 2.26 156 1 0 5.84 -2.6a3.2 2.26 156 1 0 -5.84 2.6M1467.55 1124.95a4.85 2.72 97 1 0 1.18 -9.62a4.85 2.72 97 1 0 -1.18 9.62M1614.86 1035.42a4.82 3.68 44 1 0 -6.94 -6.7a4.82 3.68 44 1 0 6.94 6.7M1680.03 971.64a5.5 2.69 166 1 0 10.68 -2.66a5.5 2.69 166 1 0 -10.68 2.66M1490.12 1023.81a4.67 3.68 31 1 0 -8.01 -4.81a4.67 3.68 31 1 0 8.01 4.81M1481.22 1121.22a4.79 3.02 36 1 0 -7.76 -5.63a4.79 3.02 36 1 0 7.76 5.63M1698.52 1053.12a4.57 3.76 131 1 0 5.99 -6.89a4.57 3.76 131 1 0 -5.99 6.89M1470.79 1106.77a5.24 2.86 29 1 0 -9.16 -5.08a5.24 2.86 29 1 0 9.16 5.08M1674.11 1115.07a5.03 4.15 179 1 0 10.05 -0.18a5.03 4.15 179 1 0 -10.05 0.18M1561.68 964.44a4.54 3.3 69 1 0 -3.26 -8.48a4.54 3.3 69 1 0 3.26 8.48M1490.82 1126.7a4.55 2.17 19 1 0 -8.6 -2.96a4.55 2.17 19 1 0 8.6 2.96M1593.03 1150.16a3.28 2.01 104 1 0 1.59 -6.36a3.28 2.01 104 1 0 -1.59 6.36M1565.4 951.11a3.03 1.42 133 1 0 4.13 -4.43a3.03 1.42 133 1 0 -4.13 4.43M1453.79 1145.71a3.07 1.59 84 1 0 -0.64 -6.11a3.07 1.59 84 1 0 0.64 6.11M1526.18 960.65a4.52 2.91 62 1 0 -4.24 -7.98a4.52 2.91 62 1 0 4.24 7.98M1577.8 969.26a5.74 3.44 139 1 0 8.66 -7.53a5.74 3.44 139 1 0 -8.66 7.53M1585.26 1134.47a3.23 2.3 157 1 0 5.95 -2.52a3.23 2.3 157 1 0 -5.95 2.52M1694.5 929.29a3.75 3.04 101 1 0 1.43 -7.36a3.75 3.04 101 1 0 -1.43 7.36M1514.48 1135.93a4.68 3.23 119 1 0 4.54 -8.18a4.68 3.23 119 1 0 -4.54 8.18M1673.91 1136.81a3.27 2.03 141 1 0 5.08 -4.11a3.27 2.03 141 1 0 -5.08 4.11M1702.41 1013.48a4.04 2.19 9 1 0 -7.98 -1.26a4.04 2.19 9 1 0 7.98 1.26M1507.78 1046.15a4.14 1.99 45 1 0 -5.86 -5.86a4.14 1.99 45 1 0 5.86 5.86M1628.96 954.17a5.61 3.67 167 1 0 10.93 -2.52a5.61 3.67 167 1 0 -10.93 2.52M1643.84 982.34a3.62 2.4 119 1 0 3.51 -6.33a3.62 2.4 119 1 0 -3.51 6.33M1675.95 1003.58a4.31 3.15 100 1 0 1.5 -8.48a4.31 3.15 100 1 0 -1.5 8.48M1578.72 1047.56a4.75 2.73 114 1 0 3.86 -8.68a4.75 2.73 114 1 0 -3.86 8.68M1547.29 992.02a3.85 2.24 7 1 0 -7.64 -0.94a3.85 2.24 7 1 0 7.64 0.94M1534.2 953.54a4.84 3.79 165 1 0 9.36 -2.51a4.84 3.79 165 1 0 -9.36 2.51M1542.85 1050.4a5.97 3.5 41 1 0 -9.01 -7.83a5.97 3.5 41 1 0 9.01 7.83M1523.91 1151.42a6.47 4.72 127 1 0 7.79 -10.33a6.47 4.72 127 1 0 -7.79 10.33M1701.5 912.74a6.1 3.01 23 1 0 -11.23 -4.77a6.1 3.01 23 1 0 11.23 4.77M1586.47 928.79a6.46 3.19 116 1 0 5.67 -11.62a6.46 3.19 116 1 0 -5.67 11.62M1545.81 915.71a4.63 3.16 69 1 0 -3.32 -8.65a4.63 3.16 69 1 0 3.32 8.65M1588.15 951.62a5.37 3.93 29 1 0 -9.4 -5.21a5.37 3.93 29 1 0 9.4 5.21M1583.57 941.31a3.17 2.4 92 1 0 0.22 -6.33a3.17 2.4 92 1 0 -0.22 6.33M1712.35 1118.78a5.1 3.56 45 1 0 -7.21 -7.21a5.1 3.56 45 1 0 7.21 7.21M1516.08 940.48a5.6 2.83 174 1 0 11.14 -1.17a5.6 2.83 174 1 0 -11.14 1.17M1510.37 1014.93a6.04 2.99 76 1 0 -2.92 -11.72a6.04 2.99 76 1 0 2.92 11.72M1508.92 1052.75a3.11 1.66 65 1 0 -2.63 -5.64a3.11 1.66 65 1 0 2.63 5.64M1580.9 1030.69a4.45 3.05 133 1 0 6.07 -6.51a4.45 3.05 133 1 0 -6.07 6.51M1689.57 937.68a4.84 3.74 68 1 0 -3.63 -8.97a4.84 3.74 68 1 0 3.63 8.97M1623.48 1052.28a4.75 3.88 153 1 0 8.47 -4.32a4.75 3.88 153 1 0 -8.47 4.32M1617.57 1034.53a4.31 3.2 142 1 0 6.79 -5.3a4.31 3.2 142 1 0 -6.79 5.3M1706.88 1100.19a4.79 3.44 75 1 0 -2.48 -9.26a4.79 3.44 75 1 0 2.48 9.26M1541.4 1141.94a6.12 3.17 39 1 0 -9.52 -7.71a6.12 3.17 39 1 0 9.52 7.71M1541.56 1144.79a4.4 2.22 20 1 0 -8.27 -3.01a4.4 2.22 20 1 0 8.27 3.01M1528.41 1020.08a6.26 3.1 87 1 0 -0.65 -12.5a6.26 3.1 87 1 0 0.65 12.5M1634.07 1147.49a4.55 3.05 163 1 0 8.71 -2.66a4.55 3.05 163 1 0 -8.71 2.66M1587.01 964.05a5.4 3.33 115 1 0 4.57 -9.79a5.4 3.33 115 1 0 -4.57 9.79M1501.37 1141.52a3.03 2.26 57 1 0 -3.3 -5.08a3.03 2.26 57 1 0 3.3 5.08M1529.58 1056.92a4.27 2.21 33 1 0 -7.16 -4.65a4.27 2.21 33 1 0 7.16 4.65M1542.48 997.59a3.74 2.21 106 1 0 2.06 -7.19a3.74 2.21 106 1 0 -2.06 7.19M1491.18 1066.36a5.56 2.85 132 1 0 7.44 -8.26a5.56 2.85 132 1 0 -7.44 8.26M1659.7 941.58a4.5 3.56 77 1 0 -2.03 -8.78a4.5 3.56 77 1 0 2.03 8.78M1583.39 1076.79a3.78 2.39 5 1 0 -7.54 -0.66a3.78 2.39 5 1 0 7.54 0.66M1558.94 1150.05a4.37 2.77 86 1 0 -0.61 -8.72a4.37 2.77 86 1 0 0.61 8.72M1490.11 903.69a6.1 3.41 172 1 0 12.09 -1.7a6.1 3.41 172 1 0 -12.09 1.7M1644.41 1146.43a6.25 3.38 142 1 0 9.85 -7.69a6.25 3.38 142 1 0 -9.85 7.69M1574.23 1117.4a5.79 3.09 154 1 0 10.4 -5.07a5.79 3.09 154 1 0 -10.4 5.07M1637.18 917.88a5.8 2.73 141 1 0 9.02 -7.31a5.8 2.73 141 1 0 -9.02 7.31M1528.02 1003.19a4.19 2.82 166 1 0 8.14 -2.03a4.19 2.82 166 1 0 -8.14 2.03M1584.93 1101.3a5.4 3.89 162 1 0 10.26 -3.33a5.4 3.89 162 1 0 -10.26 3.33M1602.25 1044.89a5.32 2.49 10 1 0 -10.48 -1.85a5.32 2.49 10 1 0 10.48 1.85M1550.31 959.42a4.56 2.71 96 1 0 0.95 -9.07a4.56 2.71 96 1 0 -0.95 9.07M1516.57 1124.97a5.8 2.75 20 1 0 -10.89 -3.96a5.8 2.75 20 1 0 10.89 3.96M1461.53 954.59a3.86 2.68 69 1 0 -2.76 -7.2a3.86 2.68 69 1 0 2.76 7.2M1620.39 914.79a5.66 2.84 42 1 0 -8.41 -7.57a5.66 2.84 42 1 0 8.41 7.57M1495.91 1082.23a3.03 1.57 176 1 0 6.04 -0.42a3.03 1.57 176 1 0 -6.04 0.42M1526.23 1064.13a5.41 4.44 67 1 0 -4.23 -9.96a5.41 4.44 67 1 0 4.23 9.96M1568.83 1052.2a4.73 2.66 13 1 0 -9.21 -2.13a4.73 2.66 13 1 0 9.21 2.13M1545.52 968.52a4.17 3 60 1 0 -4.17 -7.23a4.17 3 60 1 0 4.17 7.23M1448.37 1013.98a4.22 2.86 128 1 0 5.2 -6.65a4.22 2.86 128 1 0 -5.2 6.65M1587.2 986.6a6.37 4.11 49 1 0 -8.36 -9.62a6.37 4.11 49 1 0 8.36 9.62M1563.96 943.77a3.11 2.06 113 1 0 2.43 -5.72a3.11 2.06 113 1 0 -2.43 5.72M1644.07 942.16a6.23 4.51 121 1 0 6.42 -10.68a6.23 4.51 121 1 0 -6.42 10.68M1536.05 920.65a5.73 4.7 119 1 0 5.56 -10.03a5.73 4.7 119 1 0 -5.56 10.03M1590.63 1115.93a3.41 2.01 176 1 0 6.8 -0.48a3.41 2.01 176 1 0 -6.8 0.48M1629.96 1088.04a6.42 4.63 33 1 0 -10.78 -7a6.42 4.63 33 1 0 10.78 7M1462.97 912.95a5.75 4.8 25 1 0 -10.43 -4.86a5.75 4.8 25 1 0 10.43 4.86M1690.09 921.56a4.51 3.28 50 1 0 -5.8 -6.91a4.51 3.28 50 1 0 5.8 6.91M1454.77 1056.91a4.35 2.02 96 1 0 0.91 -8.66a4.35 2.02 96 1 0 -0.91 8.66M1706.67 1094.56a5.36 4.08 112 1 0 4.02 -9.95a5.36 4.08 112 1 0 -4.02 9.95M1478.08 1127.99a4.62 2.93 78 1 0 -1.92 -9.03a4.62 2.93 78 1 0 1.92 9.03M1449.1 918.27a4.07 2.91 155 1 0 7.38 -3.44a4.07 2.91 155 1 0 -7.38 3.44M1536.84 918.03a6.18 4.95 99 1 0 1.93 -12.21a6.18 4.95 99 1 0 -1.93 12.21M1507.06 1031.3a4.17 2.43 24 1 0 -7.62 -3.39a4.17 2.43 24 1 0 7.62 3.39M1651.68 1092.01a5.36 3.3 121 1 0 5.52 -9.19a5.36 3.3 121 1 0 -5.52 9.19M1691.99 944.92a3.5 2.19 54 1 0 -4.11 -5.66a3.5 2.19 54 1 0 4.11 5.66M1610.18 1007.16a3.07 1.86 90 1 0 -0 -6.14a3.07 1.86 90 1 0 0 6.14M1628.29 1086.74a5.07 4 129 1 0 6.39 -7.89a5.07 4 129 1 0 -6.39 7.89M1457.15 917.54a5.95 4.72 114 1 0 4.84 -10.88a5.95 4.72 114 1 0 -4.84 10.88M1471.81 907.91a3.7 2.87 55 1 0 -4.25 -6.06a3.7 2.87 55 1 0 4.25 6.06M1572.19 1160.39a4.7 2.52 101 1 0 1.79 -9.23a4.7 2.52 101 1 0 -1.79 9.23M1492.19 979.78a4.78 3.37 100 1 0 1.66 -9.42a4.78 3.37 100 1 0 -1.66 9.42M1554.13 1003.87a5.95 4.26 65 1 0 -5.03 -10.78a5.95 4.26 65 1 0 5.03 10.78M1466.04 944.92a3.83 1.77 133 1 0 5.22 -5.6a3.83 1.77 133 1 0 -5.22 5.6M1503.25 1134.25a4.82 2.43 101 1 0 1.84 -9.47a4.82 2.43 101 1 0 -1.84 9.47M1680.76 1146.03a4.91 3.92 173 1 0 9.75 -1.2a4.91 3.92 173 1 0 -9.75 1.2M1623.43 1004.6a4.44 3.22 72 1 0 -2.74 -8.45a4.44 3.22 72 1 0 2.74 8.45M1488.29 937.21a4.05 1.89 118 1 0 3.8 -7.15a4.05 1.89 118 1 0 -3.8 7.15M1653.81 1099.5a4.92 2.82 105 1 0 2.54 -9.5a4.92 2.82 105 1 0 -2.54 9.5M1604.76 1096.44a4.97 2.61 155 1 0 9.01 -4.2a4.97 2.61 155 1 0 -9.01 4.2M1542.66 916.32a3.15 2.13 123 1 0 3.43 -5.28a3.15 2.13 123 1 0 -3.43 5.28M1688.94 1080.84a5.13 3.39 63 1 0 -4.66 -9.15a5.13 3.39 63 1 0 4.66 9.15M1499.76 1144.33a4.75 2.57 50 1 0 -6.11 -7.28a4.75 2.57 50 1 0 6.11 7.28M1638.21 962.43a6.17 4.04 79 1 0 -2.36 -12.12a6.17 4.04 79 1 0 2.36 12.12M1450.28 994a5.3 3.97 154 1 0 9.52 -4.64a5.3 3.97 154 1 0 -9.52 4.64M1542.2 1135a5.67 2.63 110 1 0 3.88 -10.67a5.67 2.63 110 1 0 -3.88 10.67M1543.52 1134.97a4.87 3.86 124 1 0 5.45 -8.08a4.87 3.86 124 1 0 -5.45 8.08M1594.65 924.68a5.53 2.5 52 1 0 -6.82 -8.72a5.53 2.5 52 1 0 6.82 8.72M1629.93 1000.19a4.89 4.1 155 1 0 8.87 -4.14a4.89 4.1 155 1 0 -8.87 4.14M1545.01 1143.96a4.28 2.94 141 1 0 6.65 -5.38a4.28 2.94 141 1 0 -6.65 5.38M1507.32 1129.52a5.43 4.42 55 1 0 -6.23 -8.89a5.43 4.42 55 1 0 6.23 8.89M1560.93 995.52a5.07 2.55 34 1 0 -8.4 -5.67a5.07 2.55 34 1 0 8.4 5.67M1574.31 996.17a4.15 2.67 132 1 0 5.55 -6.17a4.15 2.67 132 1 0 -5.55 6.17M1618.9 933.13a5.75 2.7 46 1 0 -7.99 -8.27a5.75 2.7 46 1 0 7.99 8.27M1467.3 985.49a4.99 4.01 143 1 0 7.97 -6a4.99 4.01 143 1 0 -7.97 6M1499.99 938.44a3.17 1.52 145 1 0 5.19 -3.63a3.17 1.52 145 1 0 -5.19 3.63M1686.05 1075.67a6.37 5.03 150 1 0 11.03 -6.37a6.37 5.03 150 1 0 -11.03 6.37M1694.96 1097.59a3.33 2.39 98 1 0 0.93 -6.59a3.33 2.39 98 1 0 -0.93 6.59M1516.35 1060.27a3.02 2.4 54 1 0 -3.55 -4.89a3.02 2.4 54 1 0 3.55 4.89M1579.74 1117.3a3.34 1.72 106 1 0 1.84 -6.41a3.34 1.72 106 1 0 -1.84 6.41M1511.55 914.15a4.15 2.52 22 1 0 -7.69 -3.11a4.15 2.52 22 1 0 7.69 3.11M1539.86 1068.12a3.76 2.67 67 1 0 -2.94 -6.93a3.76 2.67 67 1 0 2.94 6.93M1498.87 1144.78a6.28 3.57 93 1 0 0.66 -12.55a6.28 3.57 93 1 0 -0.66 12.55M1532.59 1022.08a3.05 2.35 56 1 0 -3.41 -5.05a3.05 2.35 56 1 0 3.41 5.05M1505.13 928.34a3.4 2.31 122 1 0 3.61 -5.77a3.4 2.31 122 1 0 -3.61 5.77M1658.3 911.82a3.67 2.52 143 1 0 5.86 -4.42a3.67 2.52 143 1 0 -5.86 4.42M1510.88 1004.5a5.1 3.48 173 1 0 10.12 -1.24a5.1 3.48 173 1 0 -10.12 1.24M1536.79 993.69a5.97 3.65 53 1 0 -7.19 -9.53a5.97 3.65 53 1 0 7.19 9.53M1629.14 1111.85a6.41 3.67 114 1 0 5.22 -11.72a6.41 3.67 114 1 0 -5.22 11.72M1605.94 1077.48a5.95 4.03 90 1 0 -0 -11.9a5.95 4.03 90 1 0 0 11.9M1532.26 1050.81a5.13 4.17 64 1 0 -4.5 -9.22a5.13 4.17 64 1 0 4.5 9.22M1620.9 937.19a4.48 2.86 154 1 0 8.05 -3.93a4.48 2.86 154 1 0 -8.05 3.93M1561.06 1139.26a5.41 3.85 107 1 0 3.16 -10.34a5.41 3.85 107 1 0 -3.16 10.34M1567.93 1106.21a3.57 3.01 74 1 0 -1.97 -6.87a3.57 3.01 74 1 0 1.97 6.87M1614.74 1154.24a6.49 3.36 161 1 0 12.26 -4.22a6.49 3.36 161 1 0 -12.26 4.22M1624.29 944.73a4.9 4.14 23 1 0 -9.02 -3.83a4.9 4.14 23 1 0 9.02 3.83M1518.67 1084.08a3.26 1.77 141 1 0 5.06 -4.1a3.26 1.77 141 1 0 -5.06 4.1M1682.04 1066.86a4.9 4.11 46 1 0 -6.81 -7.06a4.9 4.11 46 1 0 6.81 7.06M1505.87 1014.04a5.44 2.46 65 1 0 -4.6 -9.87a5.44 2.46 65 1 0 4.6 9.87M1547.68 917.33a3.22 1.98 15 1 0 -6.21 -1.66a3.22 1.98 15 1 0 6.21 1.66M1573.85 1068a3.38 2.03 146 1 0 5.61 -3.78a3.38 2.03 146 1 0 -5.61 3.78M1667.71 983.39a5.65 3.56 4 1 0 -11.28 -0.79a5.65 3.56 4 1 0 11.28 0.79M1548.32 1127.35a5.62 4.26 22 1 0 -10.42 -4.21a5.62 4.26 22 1 0 10.42 4.21M1679.78 995.06a4.93 2.26 141 1 0 7.66 -6.21a4.93 2.26 141 1 0 -7.66 6.21M1699.86 1098.82a3.27 2.7 57 1 0 -3.57 -5.49a3.27 2.7 57 1 0 3.57 5.49M1533.91 998.51a5.28 3.78 21 1 0 -9.86 -3.78a5.28 3.78 21 1 0 9.86 3.78M1682.66 1004.45a5.99 4.72 106 1 0 3.3 -11.51a5.99 4.72 106 1 0 -3.3 11.51M1600.94 1055.69a4.33 3.14 159 1 0 8.08 -3.1a4.33 3.14 159 1 0 -8.08 3.1M1499.51 937.02a5.32 3.59 12 1 0 -10.4 -2.21a5.32 3.59 12 1 0 10.4 2.21M1645.8 922.86a6.34 3.78 70 1 0 -4.34 -11.92a6.34 3.78 70 1 0 4.34 11.92M1618.95 1112.93a4.71 3.01 11 1 0 -9.25 -1.8a4.71 3.01 11 1 0 9.25 1.8M1632.43 977.81a5.18 2.42 9 1 0 -10.24 -1.62a5.18 2.42 9 1 0 10.24 1.62M1606.51 1003.67a5.06 2.71 113 1 0 3.95 -9.31a5.06 2.71 113 1 0 -3.95 9.31M1471.99 935.79a4.05 3.23 126 1 0 4.76 -6.56a4.05 3.23 126 1 0 -4.76 6.56M1603.95 989.71a4 2.38 134 1 0 5.55 -5.75a4 2.38 134 1 0 -5.55 5.75M1660.51 1059.07a6.13 3.43 46 1 0 -8.52 -8.82a6.13 3.43 46 1 0 8.52 8.82M1609.87 1032.2a6.21 3.27 72 1 0 -3.84 -11.81a6.21 3.27 72 1 0 3.84 11.81M1659.43 934.93a5.39 3.89 136 1 0 7.76 -7.49a5.39 3.89 136 1 0 -7.76 7.49M1536.27 994.79a4.35 2.58 86 1 0 -0.61 -8.67a4.35 2.58 86 1 0 0.61 8.67M1655.18 965.98a4.05 2.94 49 1 0 -5.31 -6.11a4.05 2.94 49 1 0 5.31 6.11M1540.39 971.78a3.86 3.12 129 1 0 4.86 -6a3.86 3.12 129 1 0 -4.86 6M1681.39 1024.48a6.49 3.2 81 1 0 -2.03 -12.82a6.49 3.2 81 1 0 2.03 12.82M1572.49 1052.55a6.01 2.83 89 1 0 -0.21 -12.02a6.01 2.83 89 1 0 0.21 12.02"/>
<path fill="#252568" opacity="0.8" d="M1521.41 1079.09a5.39 4.26 47 1 0 -7.36 -7.89a5.39 4.26 47 1 0 7.36 7.89M1628.1 1124.38a5.24 2.75 18 1 0 -9.97 -3.24a5.24 2.75 18 1 0 9.97 3.24M1592.78 1094.68a3.47 2.5 113 1 0 2.71 -6.39a3.47 2.5 113 1 0 -2.71 6.39M1555.48 935.73a4.72 2.57 60 1 0 -4.72 -8.17a4.72 2.57 60 1 0 4.72 8.17M1616.17 943.59a4.45 3.55 89 1 0 -0.16 -8.89a4.45 3.55 89 1 0 0.16 8.89M1628.92 1063.09a4.82 3.44 154 1 0 8.67 -4.23a4.82 3.44 154 1 0 -8.67 4.23M1699.4 938.24a3.18 1.9 40 1 0 -4.88 -4.09a3.18 1.9 40 1 0 4.88 4.09M1481.06 1108.5a4.13 3.33 139 1 0 6.23 -5.42a4.13 3.33 139 1 0 -6.23 5.42M1695.71 916.83a3.92 3.06 12 1 0 -7.68 -1.63a3.92 3.06 12 1 0 7.68 1.63M1621.41 1144.34a4.82 3.94 112 1 0 3.61 -8.94a4.82 3.94 112 1 0 -3.61 8.94M1604.26 1061.29a5.94 4.8 29 1 0 -10.39 -5.76a5.94 4.8 29 1 0 10.39 5.76M1478.63 1005.49a4.36 2.64 38 1 0 -6.87 -5.36a4.36 2.64 38 1 0 6.87 5.36M1567.53 901.84a3.1 1.72 84 1 0 -0.65 -6.17a3.1 1.72 84 1 0 0.65 6.17M1691.61 967.55a5.98 4.73 106 1 0 3.29 -11.49a5.98 4.73 106 1 0 -3.29 11.49M1476.43 1132.87a5 3.7 14 1 0 -9.7 -2.42a5 3.7 14 1 0 9.7 2.42M1513.92 1038.09a3.03 1.91 87 1 0 -0.32 -6.06a3.03 1.91 87 1 0 0.32 6.06M1641.45 1073.3a5.07 2.8 34 1 0 -8.4 -5.67a5.07 2.8 34 1 0 8.4 5.67M1578.51 1129.28a3.21 1.77 0 1 0 -6.43 -0a3.21 1.77 0 1 0 6.43 0M1447.71 1061.94a6.07 4.55 167 1 0 11.82 -2.73a6.07 4.55 167 1 0 -11.82 2.73M1703.27 1041.68a5.2 2.99 4 1 0 -10.37 -0.73a5.2 2.99 4 1 0 10.37 0.73M1459.14 1139.12a5.47 3.85 35 1 0 -8.96 -6.28a5.47 3.85 35 1 0 8.96 6.28M1651.52 988.61a4.5 2.54 142 1 0 7.09 -5.54a4.5 2.54 142 1 0 -7.09 5.54M1669.61 953.54a5.56 3.61 38 1 0 -8.76 -6.84a5.56 3.61 38 1 0 8.76 6.84M1498.09 1020.98a3.68 3.12 0 1 0 -7.36 -0a3.68 3.12 0 1 0 7.36 0M1467.77 1103.02a3.23 2.22 99 1 0 1.01 -6.37a3.23 2.22 99 1 0 -1.01 6.37M1622.65 1156.56a3.5 2.45 162 1 0 6.66 -2.16a3.5 2.45 162 1 0 -6.66 2.16M1579.58 1014.64a5.84 3.56 105 1 0 3.02 -11.29a5.84 3.56 105 1 0 -3.02 11.29M1508.8 1076.63a5.86 3.25 118 1 0 5.5 -10.34a5.86 3.25 118 1 0 -5.5 10.34M1601.84 1054.54a6.19 4.53 0 1 0 -12.38 -0a6.19 4.53 0 1 0 12.38 0M1600.52 1079.46a4 3.1 106 1 0 2.2 -7.69a4 3.1 106 1 0 -2.2 7.69M1655.33 1095.3a5.6 3.48 108 1 0 3.46 -10.65a5.6 3.48 108 1 0 -3.46 10.65M1702 998.44a4.01 2.34 67 1 0 -3.13 -7.37a4.01 2.34 67 1 0 3.13 7.37M1572.78 992.8a4.45 2.04 66 1 0 -3.62 -8.14a4.45 2.04 66 1 0 3.62 8.14M1461.54 1020.21a6.38 2.88 27 1 0 -11.36 -5.79a6.38 2.88 27 1 0 11.36 5.79M1581.35 1103.83a6.1 4.01 36 1 0 -9.86 -7.17a6.1 4.01 36 1 0 9.86 7.17M1695.84 974.91a5.22 3.65 91 1 0 0.18 -10.44a5.22 3.65 91 1 0 -0.18 10.44M1494.84 1001.46a4.22 2.68 103 1 0 1.9 -8.23a4.22 2.68 103 1 0 -1.9 8.23M1505.69 945.84a4.64 3.92 109 1 0 3.02 -8.77a4.64 3.92 109 1 0 -3.02 8.77M1580.73 1074.69a5.32 3.77 115 1 0 4.5 -9.65a5.32 3.77 115 1 0 -4.5 9.65M1469.25 1158.89a4.9 2.44 142 1 0 7.72 -6.03a4.9 2.44 142 1 0 -7.72 6.03M1523 931.42a3.61 2.8 113 1 0 2.82 -6.64a3.61 2.8 113 1 0 -2.82 6.64M1515.43 916.45a5.55 3.52 76 1 0 -2.68 -10.77a5.55 3.52 76 1 0 2.68 10.77M1532.55 1112.18a3.4 1.63 3 1 0 -6.78 -0.36a3.4 1.63 3 1 0 6.78 0.36M1591.49 1025.63a4.87 3.11 130 1 0 6.27 -7.47a4.87 3.11 130 1 0 -6.27 7.47M1446.36 1158.23a6.39 3.58 136 1 0 9.19 -8.88a6.39 3.58 136 1 0 -9.19 8.88M1593.64 986.37a4.69 3.89 133 1 0 6.39 -6.86a4.69 3.89 133 1 0 -6.39 6.86M1616.87 1066.03a6.2 4.48 112 1 0 4.64 -11.49a6.2 4.48 112 1 0 -4.64 11.49M1543.93 1128.21a6.35 3.86 156 1 0 11.59 -5.16a6.35 3.86 156 1 0 -11.59 5.16M1615.83 1127.63a4.23 2.99 176 1 0 8.43 -0.59a4.23 2.99 176 1 0 -8.43 0.59M1468.52 1076.62a4.5 2.74 150 1 0 7.8 -4.5a4.5 2.74 150 1 0 -7.8 4.5M1651.8 965.71a5.84 3.39 87 1 0 -0.61 -11.67a5.84 3.39 87 1 0 0.61 11.67M1580.79 1123.48a5.05 3.5 56 1 0 -5.65 -8.38a5.05 3.5 56 1 0 5.65 8.38M1573.38 1115.15a3.28 1.55 103 1 0 1.48 -6.4a3.28 1.55 103 1 0 -1.48 6.4M1499.88 1047.19a4.6 3.53 179 1 0 9.21 -0.16a4.6 3.53 179 1 0 -9.21 0.16M1537.72 1081.92a4.42 2.36 129 1 0 5.56 -6.87a4.42 2.36 129 1 0 -5.56 6.87M1483.05 1147.28a3.28 2.32 3 1 0 -6.56 -0.34a3.28 2.32 3 1 0 6.56 0.34M1515.48 995.12a6.12 3.88 143 1 0 9.78 -7.37a6.12 3.88 143 1 0 -9.78 7.37M1702.68 1026.46a5.85 4.03 35 1 0 -9.58 -6.71a5.85 4.03 35 1 0 9.58 6.71M1675.56 974.39a5.73 3.52 49 1 0 -7.52 -8.65a5.73 3.52 49 1 0 7.52 8.65M1520.33 1063.34a3.85 1.82 139 1 0 5.81 -5.05a3.85 1.82 139 1 0 -5.81 5.05M1530.28 984.33a4.68 3.64 122 1 0 4.96 -7.93a4.68 3.64 122 1 0 -4.96 7.93M1566.74 1012.96a6.27 3.43 167 1 0 12.23 -2.82a6.27 3.43 167 1 0 -12.23 2.82M1693.5 1113.26a3.39 2.32 125 1 0 3.89 -5.56a3.39 2.32 125 1 0 -3.89 5.56M1464.93 948.19a5.79 4.41 172 1 0 11.47 -1.61a5.79 4.41 172 1 0 -11.47 1.61M1647.75 1040.36a5.1 2.89 0 1 0 -10.2 -0a5.1 2.89 0 1 0 10.2 0M1562.12 981.57a3.89 1.75 102 1 0 1.62 -7.62a3.89 1.75 102 1 0 -1.62 7.62M1564.56 1102.9a3.39 2.64 28 1 0 -5.99 -3.18a3.39 2.64 28 1 0 5.99 3.18M1627.64 954.14a3.82 1.91 56 1 0 -4.27 -6.33a3.82 1.91 56 1 0 4.27 6.33M1589.74 1106.71a4.23 3.23 136 1 0 6.09 -5.88a4.23 3.23 136 1 0 -6.09 5.88M1462.99 1017.94a3.77 3.2 107 1 0 2.2 -7.21a3.77 3.2 107 1 0 -2.2 7.21M1682.62 1007.57a3.91 2.06 25 1 0 -7.08 -3.3a3.91 2.06 25 1 0 7.08 3.3M1579.67 1036.84a6.34 4.97 17 1 0 -12.13 -3.71a6.34 4.97 17 1 0 12.13 3.71M1537.62 1009.02a5.72 2.81 177 1 0 11.41 -0.6a5.72 2.81 177 1 0 -11.41 0.6M1556.43 990.53a5.42 4.14 177 1 0 10.82 -0.57a5.42 4.14 177 1 0 -10.82 0.57M1683.22 1083.55a6.25 4.13 131 1 0 8.21 -9.44a6.25 4.13 131 1 0 -8.21 9.44M1682.24 921.21a3.91 3.08 175 1 0 7.78 -0.68a3.91 3.08 175 1 0 -7.78 0.68M1597.08 910.64a6.15 4.3 71 1 0 -4 -11.62a6.15 4.3 71 1 0 4 11.62M1589.05 1081.68a5.86 2.66 114 1 0 4.77 -10.71a5.86 2.66 114 1 0 -4.77 10.71M1565.79 1112.09a5.03 3.94 144 1 0 8.14 -5.92a5.03 3.94 144 1 0 -8.14 5.92M1493.08 979.59a3.35 1.51 17 1 0 -6.41 -1.96a3.35 1.51 17 1 0 6.41 1.96M1576.16 1005a3.37 2.64 143 1 0 5.39 -4.06a3.37 2.64 143 1 0 -5.39 4.06M1685.63 1059.49a3.29 2.28 24 1 0 -6.02 -2.68a3.29 2.28 24 1 0 6.02 2.68M1468.6 992.34a4.36 2.94 143 1 0 6.97 -5.25a4.36 2.94 143 1 0 -6.97 5.25M1572.39 1135.3a6.42 4.11 60 1 0 -6.42 -11.13a6.42 4.11 60 1 0 6.42 11.13M1701.47 1123.81a5.44 3.47 178 1 0 10.86 -0.38a5.44 3.47 178 1 0 -10.86 0.38M1669.52 949.82a4.72 3.65 13 1 0 -9.19 -2.12a4.72 3.65 13 1 0 9.19 2.12M1457.74 1087.14a3.19 2.48 113 1 0 2.49 -5.88a3.19 2.48 113 1 0 -2.49 5.88M1575.67 1014.67a6.05 3.31 74 1 0 -3.33 -11.63a6.05 3.31 74 1 0 3.33 11.63M1684.24 1137.82a5.43 3.93 133 1 0 7.4 -7.94a5.43 3.93 133 1 0 -7.4 7.94M1461.51 1117.79a4.02 2.94 179 1 0 8.03 -0.14a4.02 2.94 179 1 0 -8.03 0.14M1453.9 1055.46a3.01 2.25 96 1 0 0.63 -5.98a3.01 2.25 96 1 0 -0.63 5.98M1610.55 1144.44a3.54 1.81 41 1 0 -5.34 -4.64a3.54 1.81 41 1 0 5.34 4.64M1509.1 1046.68a6.36 3.74 149 1 0 10.91 -6.55a6.36 3.74 149 1 0 -10.91 6.55M1667.29 1120.2a5.12 2.51 104 1 0 2.48 -9.94a5.12 2.51 104 1 0 -2.48 9.94M1551.04 976.41a3.62 2.73 63 1 0 -3.29 -6.45a3.62 2.73 63 1 0 3.29 6.45M1715.39 1060.46a6.23 5.12 18 1 0 -11.86 -3.85a6.23 5.12 18 1 0 11.86 3.85M1658.71 1141.62a5 2.31 21 1 0 -9.33 -3.58a5 2.31 21 1 0 9.33 3.58M1701.29 935.91a6.21 5.24 169 1 0 12.2 -2.37a6.21 5.24 169 1 0 -12.2 2.37M1478.76 940.25a6.38 2.99 155 1 0 11.56 -5.39a6.38 2.99 155 1 0 -11.56 5.39M1666.07 1074.11a5.4 2.73 54 1 0 -6.34 -8.73a5.4 2.73 54 1 0 6.34 8.73M1531.57 1071.25a3.78 2.01 65 1 0 -3.2 -6.85a3.78 2.01 65 1 0 3.2 6.85M1599.72 906.66a3.01 2.23 101 1 0 1.15 -5.91a3.01 2.23 101 1 0 -1.15 5.91M1574.54 1127.61a6.14 2.78 31 1 0 -10.52 -6.32a6.14 2.78 31 1 0 10.52 6.32M1537.75 1133.07a4.36 2.49 129 1 0 5.48 -6.77a4.36 2.49 129 1 0 -5.48 6.77M1674.39 1106.18a3.85 3.04 142 1 0 6.07 -4.75a3.85 3.04 142 1 0 -6.07 4.75M1555.54 938.94a4.79 3.98 91 1 0 0.17 -9.57a4.79 3.98 91 1 0 -0.17 9.57M1635.52 1122.94a4.79 3.65 156 1 0 8.76 -3.9a4.79 3.65 156 1 0 -8.76 3.9M1702.49 949.13a4.25 2.16 58 1 0 -4.51 -7.21a4.25 2.16 58 1 0 4.51 7.21M1455.07 919.53a5.52 3.52 178 1 0 11.03 -0.39a5.52 3.52 178 1 0 -11.03 0.39M1543.19 930.6a5.2 2.38 110 1 0 3.56 -9.78a5.2 2.38 110 1 0 -3.56 9.78M1518.54 946.14a3.57 3.01 7 1 0 -7.08 -0.87a3.57 3.01 7 1 0 7.08 0.87M1459.5 1030.78a6.32 3.19 106 1 0 3.49 -12.16a6.32 3.19 106 1 0 -3.49 12.16M1452.62 1011.08a4.1 2.43 102 1 0 1.71 -8.03a4.1 2.43 102 1 0 -1.71 8.03M1623.73 906.61a4.27 2.26 48 1 0 -5.72 -6.35a4.27 2.26 48 1 0 5.72 6.35M1464.75 1084.14a3.53 2.48 147 1 0 5.93 -3.85a3.53 2.48 147 1 0 -5.93 3.85M1603.34 954.66a6.45 3.32 34 1 0 -10.7 -7.22a6.45 3.32 34 1 0 10.7 7.22M1707.04 979.2a3.45 1.97 112 1 0 2.59 -6.4a3.45 1.97 112 1 0 -2.59 6.4M1589.33 1065.57a4.96 2.55 38 1 0 -7.82 -6.11a4.96 2.55 38 1 0 7.82 6.11M1662.47 1035.85a3.91 2.77 173 1 0 7.77 -0.95a3.91 2.77 173 1 0 -7.77 0.95M1627.27 1062.12a5.33 3.12 132 1 0 7.14 -7.93a5.33 3.12 132 1 0 -7.14 7.93M1459.32 972.54a4.76 2.5 169 1 0 9.34 -1.82a4.76 2.5 169 1 0 -9.34 1.82M1492.91 954.37a5.81 4.3 86 1 0 -0.81 -11.59a5.81 4.3 86 1 0 0.81 11.59M1680.75 988.88a4.53 2.94 14 1 0 -8.79 -2.19a4.53 2.94 14 1 0 8.79 2.19M1527.69 959.96a3.5 2.97 153 1 0 6.24 -3.18a3.5 2.97 153 1 0 -6.24 3.18M1507.69 950.2a3.37 2.6 171 1 0 6.66 -1.06a3.37 2.6 171 1 0 -6.66 1.06M1458.93 1035.89a4.88 2.25 172 1 0 9.66 -1.36a4.88 2.25 172 1 0 -9.66 1.36M1658.08 965.01a5.52 4.65 169 1 0 10.83 -2.1a5.52 4.65 169 1 0 -10.83 2.1M1467.4 1149.8a5.3 3.79 14 1 0 -10.28 -2.56a5.3 3.79 14 1 0 10.28 2.56M1607.18 1123.62a6.05 4.67 136 1 0 8.71 -8.41a6.05 4.67 136 1 0 -8.71 8.41M1553.34 944.74a3.72 2.02 140 1 0 5.71 -4.79a3.72 2.02 140 1 0 -5.71 4.79M1690.48 966.13a3.06 2.14 146 1 0 5.07 -3.42a3.06 2.14 146 1 0 -5.07 3.42M1610.42 1133.22a4.89 3.52 107 1 0 2.86 -9.35a4.89 3.52 107 1 0 -2.86 9.35M1512.44 1101.97a4.37 2.26 98 1 0 1.22 -8.65a4.37 2.26 98 1 0 -1.22 8.65M1533.32 964.53a4.99 3.83 25 1 0 -9.04 -4.22a4.99 3.83 25 1 0 9.04 4.22M1476.55 959.65a5.99 4.84 119 1 0 5.81 -10.48a5.99 4.84 119 1 0 -5.81 10.48M1661.72 968.68a5.62 2.93 154 1 0 10.1 -4.92a5.62 2.93 154 1 0 -10.1 4.92M1475.91 932.95a5.06 2.33 102 1 0 2.1 -9.9a5.06 2.33 102 1 0 -2.1 9.9M1608.84 993.84a3.81 2.11 3 1 0 -7.61 -0.4a3.81 2.11 3 1 0 7.61 0.4M1571.01 1068.41a5.57 4.02 112 1 0 4.18 -10.34a5.57 4.02 112 1 0 -4.18 10.34M1591.98 982.12a5.52 3.47 34 1 0 -9.15 -6.17a5.52 3.47 34 1 0 9.15 6.17M1639.07 907.88a5.96 3.31 49 1 0 -7.82 -9a5.96 3.31 49 1 0 7.82 9M1556.77 1155.6a4.85 4.01 23 1 0 -8.93 -3.79a4.85 4.01 23 1 0 8.93 3.79M1674.06 1081.96a4.29 2.28 140 1 0 6.58 -5.52a4.29 2.28 140 1 0 -6.58 5.52M1496.86 919.83a5.58 3.44 104 1 0 2.7 -10.83a5.58 3.44 104 1 0 -2.7 10.83M1657.53 946.38a5.9 3.1 19 1 0 -11.16 -3.84a5.9 3.1 19 1 0 11.16 3.84M1460.34 924.02a5.36 2.64 7 1 0 -10.65 -1.31a5.36 2.64 7 1 0 10.65 1.31M1524.76 1111.28a5.39 2.6 1 1 0 -10.78 -0.19a5.39 2.6 1 1 0 10.78 0.19M1654.93 923.22a3.81 2.5 14 1 0 -7.4 -1.84a3.81 2.5 14 1 0 7.4 1.84M1669.21 1073.59a3.48 2.74 16 1 0 -6.68 -1.92a3.48 2.74 16 1 0 6.68 1.92M1703.45 992.5a4.31 2.72 105 1 0 2.23 -8.32a4.31 2.72 105 1 0 -2.23 8.32M1556.23 1059.72a4.7 2.98 82 1 0 -1.31 -9.31a4.7 2.98 82 1 0 1.31 9.31M1500.64 984.55a4.72 2.63 173 1 0 9.38 -1.15a4.72 2.63 173 1 0 -9.38 1.15M1515.35 1042.75a4.78 2.81 74 1 0 -2.63 -9.19a4.78 2.81 74 1 0 2.63 9.19M1666.53 1016.57a4.94 3.82 108 1 0 3.05 -9.4a4.94 3.82 108 1 0 -3.05 9.4M1546.58 903.36a5.29 3.07 13 1 0 -10.31 -2.38a5.29 3.07 13 1 0 10.31 2.38M1679.49 1140.16a3.16 1.52 131 1 0 4.15 -4.77a3.16 1.52 131 1 0 -4.15 4.77M1619.52 1153.65a6.1 4.52 6 1 0 -12.14 -1.28a6.1 4.52 6 1 0 12.14 1.28M1535.08 1145.87a3.85 2.08 128 1 0 4.74 -6.06a3.85 2.08 128 1 0 -4.74 6.06M1644.08 1061.85a3.71 2.06 44 1 0 -5.34 -5.15a3.71 2.06 44 1 0 5.34 5.15M1454.56 920.65a3.08 2.14 65 1 0 -2.6 -5.59a3.08 2.14 65 1 0 2.6 5.59M1482.03 998.42a4.27 3.15 170 1 0 8.42 -1.48a4.27 3.15 170 1 0 -8.42 1.48M1492.18 899.88a5.09 3.33 161 1 0 9.62 -3.31a5.09 3.33 161 1 0 -9.62 3.31M1534.36 1042.36a5.06 3.68 64 1 0 -4.44 -9.1a5.06 3.68 64 1 0 4.44 9.1M1579.63 987.94a3.08 1.9 45 1 0 -4.36 -4.36a3.08 1.9 45 1 0 4.36 4.36M1651.26 976.13a4.26 3.16 25 1 0 -7.73 -3.6a4.26 3.16 25 1 0 7.73 3.6M1549 1147.12a5.8 4.9 52 1 0 -7.14 -9.14a5.8 4.9 52 1 0 7.14 9.14M1553.89 990.84a3.77 2.95 106 1 0 2.08 -7.25a3.77 2.95 106 1 0 -2.08 7.25M1659.81 1116.89a5.22 3.84 13 1 0 -10.17 -2.35a5.22 3.84 13 1 0 10.17 2.35M1586.32 1023.93a4.35 3.43 32 1 0 -7.38 -4.61a4.35 3.43 32 1 0 7.38 4.61M1655.89 986.11a6.45 4.03 139 1 0 9.74 -8.46a6.45 4.03 139 1 0 -9.74 8.46M1642.68 1138.96a6.04 4.14 70 1 0 -4.13 -11.35a6.04 4.14 70 1 0 4.13 11.35M1607.45 907.14a6.18 3.47 59 1 0 -6.37 -10.6a6.18 3.47 59 1 0 6.37 10.6M1585.98 1142.75a4.37 2.29 19 1 0 -8.27 -2.85a4.37 2.29 19 1 0 8.27 2.85M1492.81 924.41a3.42 2.26 170 1 0 6.73 -1.19a3.42 2.26 170 1 0 -6.73 1.19M1473.37 1093.26a6.47 4.56 41 1 0 -9.77 -8.49a6.47 4.56 41 1 0 9.77 8.49"/>
<path fill="#2d2d78" opacity="0.8" d="M1646.86 905.74a3.44 2.49 3 1 0 -6.87 -0.36a3.44 2.49 3 1 0 6.87 0.36M1680.96 1046.11a6.43 4.62 110 1 0 4.4 -12.09a6.43 4.62 110 1 0 -4.4 12.09M1528.27 948.14a4.25 2.54 67 1 0 -3.32 -7.82a4.25 2.54 67 1 0 3.32 7.82M1706.48 1114.19a5.26 3.47 32 1 0 -8.92 -5.57a5.26 3.47 32 1 0 8.92 5.57M1599.11 1040.38a5.89 3.17 53 1 0 -7.08 -9.4a5.89 3.17 53 1 0 7.08 9.4M1661.82 998.46a5.5 2.82 37 1 0 -8.78 -6.62a5.5 2.82 37 1 0 8.78 6.62M1562.66 1114.35a3.75 2.33 60 1 0 -3.75 -6.5a3.75 2.33 60 1 0 3.75 6.5M1535.96 1017.08a3.24 1.52 1 1 0 -6.48 -0.11a3.24 1.52 1 1 0 6.48 0.11M1534.04 1055.62a4.02 2.37 25 1 0 -7.28 -3.4a4.02 2.37 25 1 0 7.28 3.4M1577.83 1054.3a5.04 3.14 89 1 0 -0.18 -10.08a5.04 3.14 89 1 0 0.18 10.08M1698.03 1097.13a4.3 2.62 38 1 0 -6.77 -5.29a4.3 2.62 38 1 0 6.77 5.29M1578.28 1029.33a3.44 1.55 34 1 0 -5.7 -3.85a3.44 1.55 34 1 0 5.7 3.85M1481.87 1137.89a6.26 4.86 34 1 0 -10.38 -7a6.26 4.86 34 1 0 10.38 7M1586.45 1159.67a5.94 3.93 110 1 0 4.06 -11.16a5.94 3.93 110 1 0 -4.06 11.16M1637.84 1105.45a5.99 3.06 13 1 0 -11.66 -2.69a5.99 3.06 13 1 0 11.66 2.69M1495.85 1125.04a6.38 3.52 56 1 0 -7.13 -10.58a6.38 3.52 56 1 0 7.13 10.58M1541.19 1013.22a4.53 2.68 84 1 0 -0.95 -9a4.53 2.68 84 1 0 0.95 9M1592.06 949.63a3.84 2.4 127 1 0 4.63 -6.14a3.84 2.4 127 1 0 -4.63 6.14M1496.99 1112.97a6.41 3.34 17 1 0 -12.25 -3.75a6.41 3.34 17 1 0 12.25 3.75M1683.77 1019.16a5.5 3.5 4 1 0 -10.98 -0.77a5.5 3.5 4 1 0 10.98 0.77M1583.9 926.16a4.88 2.78 19 1 0 -9.22 -3.18a4.88 2.78 19 1 0 9.22 3.18M1567.99 977.3a5.24 3.62 176 1 0 10.46 -0.73a5.24 3.62 176 1 0 -10.46 0.73M1519.41 1124.08a4.8 2.56 24 1 0 -8.78 -3.91a4.8 2.56 24 1 0 8.78 3.91M1670.56 1063.34a3.04 2.27 48 1 0 -4.07 -4.52a3.04 2.27 48 1 0 4.07 4.52M1464.29 928.95a3.76 2.71 167 1 0 7.34 -1.69a3.76 2.71 167 1 0 -7.34 1.69M1549.13 947.4a4.8 2.4 174 1 0 9.55 -1a4.8 2.4 174 1 0 -9.55 1M1627.16 904.37a5.89 4.59 127 1 0 7.09 -9.41a5.89 4.59 127 1 0 -7.09 9.41M1456.56 1141.66a5.66 4.73 166 1 0 10.98 -2.74a5.66 4.73 166 1 0 -10.98 2.74M1515.44 1158.84a4.59 3.43 47 1 0 -6.26 -6.71a4.59 3.43 47 1 0 6.26 6.71M1659.95 913.96a6.27 2.98 160 1 0 11.78 -4.29a6.27 2.98 160 1 0 -11.78 4.29M1675.9 1090.64a4.55 2.71 50 1 0 -5.85 -6.97a4.55 2.71 50 1 0 5.85 6.97M1582.43 1139.49a6.36 4.78 84 1 0 -1.33 -12.66a6.36 4.78 84 1 0 1.33 12.66M1481.8 1072.23a4.19 2.77 10 1 0 -8.26 -1.46a4.19 2.77 10 1 0 8.26 1.46M1628.1 910.46a3.2 2.31 18 1 0 -6.09 -1.98a3.2 2.31 18 1 0 6.09 1.98M1686.35 928.54a5.26 3.85 88 1 0 -0.37 -10.51a5.26 3.85 88 1 0 0.37 10.51M1569.28 1054.85a5.73 2.87 132 1 0 7.66 -8.51a5.73 2.87 132 1 0 -7.66 8.51M1665.31 1057.06a3.16 1.6 164 1 0 6.07 -1.74a3.16 1.6 164 1 0 -6.07 1.74M1655.19 1083.2a6.12 4.49 115 1 0 5.17 -11.09a6.12 4.49 115 1 0 -5.17 11.09M1582.3 995.61a3.73 2.55 107 1 0 2.18 -7.13a3.73 2.55 107 1 0 -2.18 7.13M1627.43 1077.64a6.01 3.69 109 1 0 3.91 -11.36a6.01 3.69 109 1 0 -3.91 11.36M1521.98 1037.94a3.72 2.4 105 1 0 1.92 -7.18a3.72 2.4 105 1 0 -1.92 7.18M1526.79 932.34a6.1 4.64 166 1 0 11.85 -2.95a6.1 4.64 166 1 0 -11.85 2.95M1535.98 1060.3a3.14 2.1 178 1 0 6.28 -0.22a3.14 2.1 178 1 0 -6.28 0.22M1509.83 947.07a5.02 3.65 45 1 0 -7.1 -7.1a5.02 3.65 45 1 0 7.1 7.1M1519.88 996.67a4.69 3.9 38 1 0 -7.4 -5.78a4.69 3.9 38 1 0 7.4 5.78M1614.74 1029.04a3.44 2.92 164 1 0 6.62 -1.9a3.44 2.92 164 1 0 -6.62 1.9M1654.21 1033.23a3.15 2 81 1 0 -0.99 -6.23a3.15 2 81 1 0 0.99 6.23M1711.69 1133.39a3.79 3.05 4 1 0 -7.57 -0.53a3.79 3.05 4 1 0 7.57 0.53M1568.84 1047.77a6.39 3.24 76 1 0 -3.09 -12.41a6.39 3.24 76 1 0 3.09 12.41M1602.51 1132.32a6.21 3.23 36 1 0 -10.05 -7.3a6.21 3.23 36 1 0 10.05 7.3M1529.76 1033.81a5.55 4.01 117 1 0 5.04 -9.89a5.55 4.01 117 1 0 -5.04 9.89M1464.66 916.69a6.31 3.98 85 1 0 -1.1 -12.58a6.31 3.98 85 1 0 1.1 12.58M1482.42 1107.04a5.36 2.57 11 1 0 -10.53 -2.05a5.36 2.57 11 1 0 10.53 2.05M1711.58 1093.54a5.76 4.56 13 1 0 -11.23 -2.59a5.76 4.56 13 1 0 11.23 2.59M1551.84 1053.36a3.38 2.71 116 1 0 2.96 -6.07a3.38 2.71 116 1 0 -2.96 6.07M1544.14 937.79a5.54 3.03 83 1 0 -1.35 -11a5.54 3.03 83 1 0 1.35 11M1531 927.12a3.51 1.59 43 1 0 -5.13 -4.79a3.51 1.59 43 1 0 5.13 4.79M1653.12 1006.18a5.33 2.49 123 1 0 5.81 -8.94a5.33 2.49 123 1 0 -5.81 8.94M1454.39 1065.91a4.65 2.77 151 1 0 8.13 -4.51a4.65 2.77 151 1 0 -8.13 4.51M1627.01 920.06a5.7 3.34 137 1 0 8.33 -7.77a5.7 3.34 137 1 0 -8.33 7.77M1533.82 1002.49a4.44 2.18 145 1 0 7.27 -5.09a4.44 2.18 145 1 0 -7.27 5.09M1670.37 986.76a6.36 4.61 20 1 0 -11.96 -4.35a6.36 4.61 20 1 0 11.96 4.35M1677.14 970.49a4.86 2.98 32 1 0 -8.24 -5.15a4.86 2.98 32 1 0 8.24 5.15M1596.3 1148.86a5.39 3.07 159 1 0 10.07 -3.87a5.39 3.07 159 1 0 -10.07 3.87M1455.87 1158.28a4.53 2.29 24 1 0 -8.28 -3.69a4.53 2.29 24 1 0 8.28 3.69M1690.27 986.88a5.89 4.41 35 1 0 -9.66 -6.76a5.89 4.41 35 1 0 9.66 6.76M1533.61 1072.92a6.27 3.23 156 1 0 11.45 -5.1a6.27 3.23 156 1 0 -11.45 5.1M1700.47 939.7a3.7 1.96 26 1 0 -6.65 -3.24a3.7 1.96 26 1 0 6.65 3.24M1681.16 1023.16a3.74 2.69 163 1 0 7.14 -2.18a3.74 2.69 163 1 0 -7.14 2.18M1488.42 1150.58a3.64 1.69 151 1 0 6.37 -3.53a3.64 1.69 151 1 0 -6.37 3.53M1527.42 941.76a5.7 3.82 85 1 0 -0.99 -11.36a5.7 3.82 85 1 0 0.99 11.36M1611.49 1030.12a4.98 3.65 75 1 0 -2.58 -9.63a4.98 3.65 75 1 0 2.58 9.63M1463.91 982.47a3.56 2.99 3 1 0 -7.11 -0.37a3.56 2.99 3 1 0 7.11 0.37M1579.14 1112.29a5.25 2.73 121 1 0 5.41 -9.01a5.25 2.73 121 1 0 -5.41 9.01M1516.69 1035.77a5.31 2.62 84 1 0 -1.11 -10.57a5.31 2.62 84 1 0 1.11 10.57M1621.25 918.28a3.47 2.92 32 1 0 -5.89 -3.68a3.47 2.92 32 1 0 5.89 3.68M1535.11 1037.48a4.94 4.14 110 1 0 3.38 -9.28a4.94 4.14 110 1 0 -3.38 9.28M1615.53 1016.76a3.79 2.36 170 1 0 7.46 -1.32a3.79 2.36 170 1 0 -7.46 1.32M1543.21 1095.16a5.55 3.95 140 1 0 8.51 -7.14a5.55 3.95 140 1 0 -8.51 7.14M1540.09 953.5a5.48 4.02 166 1 0 10.63 -2.65a5.48 4.02 166 1 0 -10.63 2.65M1542.56 966.22a6.2 4.04 115 1 0 5.24 -11.24a6.2 4.04 115 1 0 -5.24 11.24M1674.13 1143.31a6.07 2.87 105 1 0 3.14 -11.73a6.07 2.87 105 1 0 -3.14 11.73M1571.2 1050.44a6.09 5.06 65 1 0 -5.15 -11.04a6.09 5.06 65 1 0 5.15 11.04M1655.85 1002.13a5.26 2.48 139 1 0 7.94 -6.9a5.26 2.48 139 1 0 -7.94 6.9M1547.32 1158.01a3.39 1.93 138 1 0 5.04 -4.54a3.39 1.93 138 1 0 -5.04 4.54M1562.88 1145.88a4.08 2.06 156 1 0 7.45 -3.32a4.08 2.06 156 1 0 -7.45 3.32M1584.94 947.58a6.42 3.17 97 1 0 1.56 -12.74a6.42 3.17 97 1 0 -1.56 12.74M1454.45 1061.04a3.43 1.95 123 1 0 3.74 -5.75a3.43 1.95 123 1 0 -3.74 5.75M1573.27 1138.75a5.31 2.55 8 1 0 -10.53 -1.48a5.31 2.55 8 1 0 10.53 1.48M1670.12 1127.33a4.69 2.89 24 1 0 -8.56 -3.81a4.69 2.89 24 1 0 8.56 3.81M1620.14 1120.9a6.34 4.9 133 1 0 8.65 -9.27a6.34 4.9 133 1 0 -8.65 9.27M1615.8 972.62a6.15 4.85 165 1 0 11.87 -3.18a6.15 4.85 165 1 0 -11.87 3.18M1469.42 915.02a5.1 2.97 149 1 0 8.74 -5.25a5.1 2.97 149 1 0 -8.74 5.25M1659.18 1039.77a5.62 3.99 60 1 0 -5.62 -9.74a5.62 3.99 60 1 0 5.62 9.74M1680.55 936.31a4.26 3.09 32 1 0 -7.22 -4.51a4.26 3.09 32 1 0 7.22 4.51M1585.88 943.7a4.9 2.51 83 1 0 -1.19 -9.73a4.9 2.51 83 1 0 1.19 9.73M1571.71 962.52a3.15 2.5 122 1 0 3.34 -5.34a3.15 2.5 122 1 0 -3.34 5.34M1655.19 1085.55a3.25 2.2 86 1 0 -0.45 -6.49a3.25 2.2 86 1 0 0.45 6.49M1650.5 994.69a6.41 3.27 144 1 0 10.37 -7.53a6.41 3.27 144 1 0 -10.37 7.53M1627.04 905.1a4.53 3.69 48 1 0 -6.06 -6.73a4.53 3.69 48 1 0 6.06 6.73M1601.56 937.32a4.24 3.11 168 1 0 8.3 -1.76a4.24 3.11 168 1 0 -8.3 1.76M1619.64 1123a3.64 2.7 129 1 0 4.58 -5.66a3.64 2.7 129 1 0 -4.58 5.66M1560.5 1034.25a4.68 3.22 115 1 0 3.96 -8.48a4.68 3.22 115 1 0 -3.96 8.48M1461.8 1114.83a4.14 2.74 35 1 0 -6.79 -4.75a4.14 2.74 35 1 0 6.79 4.75M1681.64 1156.02a4.85 2.46 78 1 0 -2.02 -9.5a4.85 2.46 78 1 0 2.02 9.5M1463.37 926.57a4.04 1.95 138 1 0 6 -5.4a4.04 1.95 138 1 0 -6 5.4M1487.43 990.8a4.52 3.37 156 1 0 8.26 -3.68a4.52 3.37 156 1 0 -8.26 3.68M1520.83 1136.42a5.88 2.78 67 1 0 -4.6 -10.83a5.88 2.78 67 1 0 4.6 10.83M1528.85 1019.59a6.34 4.76 123 1 0 6.91 -10.64a6.34 4.76 123 1 0 -6.91 10.64M1504.28 1137.88a5.99 4.99 37 1 0 -9.56 -7.21a5.99 4.99 37 1 0 9.56 7.21M1706.44 1028.73a3.33 1.66 41 1 0 -5.03 -4.37a3.33 1.66 41 1 0 5.03 4.37M1653.83 913.91a6.2 3.69 74 1 0 -3.42 -11.91a6.2 3.69 74 1 0 3.42 11.91M1493.45 1019.53a5.74 4.82 43 1 0 -8.39 -7.82a5.74 4.82 43 1 0 8.39 7.82M1460.47 1069.07a6.01 4.62 56 1 0 -6.72 -9.97a6.01 4.62 56 1 0 6.72 9.97M1583.45 1105.35a5.33 3.74 48 1 0 -7.14 -7.92a5.33 3.74 48 1 0 7.14 7.92M1604.68 969.97a4.09 2.67 123 1 0 4.46 -6.86a4.09 2.67 123 1 0 -4.46 6.86M1545.79 971.59a3.2 1.82 11 1 0 -6.28 -1.22a3.2 1.82 11 1 0 6.28 1.22M1479.89 1147.31a4.98 3.66 95 1 0 0.87 -9.92a4.98 3.66 95 1 0 -0.87 9.92M1597.08 983.41a4.32 2.12 103 1 0 1.95 -8.43a4.32 2.12 103 1 0 -1.95 8.43M1524.42 970.71a5.93 2.73 76 1 0 -2.87 -11.52a5.93 2.73 76 1 0 2.87 11.52M1671.89 941.99a3.34 1.69 6 1 0 -6.65 -0.7a3.34 1.69 6 1 0 6.65 0.7M1538.73 1053.56a5.95 4.05 138 1 0 8.85 -7.97a5.95 4.05 138 1 0 -8.85 7.97M1661.33 1002.45a5.06 3.37 37 1 0 -8.08 -6.09a5.06 3.37 37 1 0 8.08 6.09M1682.67 1016.76a4.56 3.79 136 1 0 6.56 -6.33a4.56 3.79 136 1 0 -6.56 6.33M1633.92 962.82a4.03 2.55 51 1 0 -5.07 -6.26a4.03 2.55 51 1 0 5.07 6.26M1653.41 940.52a4.57 3.83 140 1 0 7 -5.88a4.57 3.83 140 1 0 -7 5.88M1662.16 963.48a4.47 2.24 159 1 0 8.34 -3.2a4.47 2.24 159 1 0 -8.34 3.2M1503.92 965.28a3.46 1.69 53 1 0 -4.16 -5.52a3.46 1.69 53 1 0 4.16 5.52M1505.81 1100.16a5.19 4.05 71 1 0 -3.38 -9.81a5.19 4.05 71 1 0 3.38 9.81M1642.29 940.73a3 2.22 138 1 0 4.47 -4.02a3 2.22 138 1 0 -4.47 4.02M1699.87 1152.43a5.52 2.96 118 1 0 5.18 -9.74a5.52 2.96 118 1 0 -5.18 9.74M1493.69 1108.33a6.24 4.89 28 1 0 -11.03 -5.86a6.24 4.89 28 1 0 11.03 5.86M1558.85 999.86a3.3 2.64 145 1 0 5.4 -3.78a3.3 2.64 145 1 0 -5.4 3.78M1535.38 946.41a3.07 1.72 119 1 0 2.98 -5.37a3.07 1.72 119 1 0 -2.98 5.37M1567.18 1136.45a5.96 3.16 149 1 0 10.23 -6.14a5.96 3.16 149 1 0 -10.23 6.14M1599.23 1047.94a3.46 2.72 170 1 0 6.81 -1.2a3.46 2.72 170 1 0 -6.81 1.2M1626.67 1130.61a3.27 2.57 85 1 0 -0.57 -6.52a3.27 2.57 85 1 0 0.57 6.52M1510.56 1107.47a3.77 1.78 36 1 0 -6.1 -4.43a3.77 1.78 36 1 0 6.1 4.43M1671.54 1059.71a3.65 2.52 19 1 0 -6.9 -2.38a3.65 2.52 19 1 0 6.9 2.38M1582.22 992.81a3.73 2.54 52 1 0 -4.6 -5.88a3.73 2.54 52 1 0 4.6 5.88M1551.29 1077.8a6.16 3.04 145 1 0 10.1 -7.07a6.16 3.04 145 1 0 -10.1 7.07M1704.21 927.91a3.94 3.3 9 1 0 -7.78 -1.23a3.94 3.3 9 1 0 7.78 1.23M1473.37 1100.63a5.57 3.85 96 1 0 1.17 -11.09a5.57 3.85 96 1 0 -1.17 11.09M1601.73 1131.45a4.07 2.63 102 1 0 1.69 -7.95a4.07 2.63 102 1 0 -1.69 7.95M1505.09 1116.78a4.11 1.89 33 1 0 -6.9 -4.48a4.11 1.89 33 1 0 6.9 4.48M1446.96 976.33a5.19 4.29 142 1 0 8.19 -6.4a5.19 4.29 142 1 0 -8.19 6.4M1696.4 1058.7a4.22 3.03 20 1 0 -7.94 -2.89a4.22 3.03 20 1 0 7.94 2.89M1481.68 1026.48a3.4 2.51 19 1 0 -6.43 -2.22a3.4 2.51 19 1 0 6.43 2.22M1500.17 1074.48a4.25 2.83 9 1 0 -8.41 -1.33a4.25 2.83 9 1 0 8.41 1.33M1690.66 1052.82a4.33 2.64 97 1 0 1.06 -8.59a4.33 2.64 97 1 0 -1.06 8.59M1561.2 952.16a6.3 3.78 145 1 0 10.32 -7.22a6.3 3.78 145 1 0 -10.32 7.22M1515.99 1065.7a3.33 2.66 38 1 0 -5.25 -4.1a3.33 2.66 38 1 0 5.25 4.1M1666.99 1148.62a4.38 3.16 150 1 0 7.59 -4.38a4.38 3.16 150 1 0 -7.59 4.38M1617.67 902.15a3.83 3.23 140 1 0 5.87 -4.92a3.83 3.23 140 1 0 -5.87 4.92M1503.44 1046.22a4.75 2.26 36 1 0 -7.68 -5.58a4.75 2.26 36 1 0 7.68 5.58M1702.43 1044.6a5.34 2.95 3 1 0 -10.67 -0.56a5.34 2.95 3 1 0 10.67 0.56M1577.06 949.7a6.1 3.38 54 1 0 -7.17 -9.87a6.1 3.38 54 1 0 7.17 9.87M1653.61 993.66a5.11 4.15 158 1 0 9.47 -3.83a5.11 4.15 158 1 0 -9.47 3.83M1673.95 978.11a3.37 1.99 4 1 0 -6.73 -0.47a3.37 1.99 4 1 0 6.73 0.47M1705.85 948.14a5.51 4.4 90 1 0 -0 -11.03a5.51 4.4 90 1 0 0 11.03M1676.19 996.73a4.58 2.88 39 1 0 -7.12 -5.76a4.58 2.88 39 1 0 7.12 5.76M1465.85 1140.94a4.98 3.41 21 1 0 -9.3 -3.57a4.98 3.41 21 1 0 9.3 3.57M1468.56 1015.89a3.29 2.78 97 1 0 0.8 -6.53a3.29 2.78 97 1 0 -0.8 6.53M1583.23 948.73a5.41 3.33 177 1 0 10.8 -0.57a5.41 3.33 177 1 0 -10.8 0.57M1639.85 982.14a3.55 1.75 68 1 0 -2.66 -6.59a3.55 1.75 68 1 0 2.66 6.59M1536.31 916.02a5.25 4.22 131 1 0 6.89 -7.93a5.25 4.22 131 1 0 -6.89 7.93M1630.6 1101.61a3.71 2.79 60 1 0 -3.71 -6.43a3.71 2.79 60 1 0 3.71 6.43M1480.61 1111.05a3.98 2.5 138 1 0 5.91 -5.32a3.98 2.5 138 1 0 -5.91 5.32M1636.13 1052.07a5.32 2.44 97 1 0 1.3 -10.57a5.32 2.44 97 1 0 -1.3 10.57M1570.54 953.77a4.61 2.39 161 1 0 8.71 -3a4.61 2.39 161 1 0 -8.71 3M1508.11 970.24a5.41 3.94 78 1 0 -2.25 -10.58a5.41 3.94 78 1 0 2.25 10.58M1553.41 1151.68a3.2 2.48 60 1 0 -3.2 -5.54a3.2 2.48 60 1 0 3.2 5.54"/>
<path fill="#1a1a4a" opacity="0.8" d="M1668.9 925.11a5.78 4.65 67 1 0 -4.52 -10.64a5.78 4.65 67 1 0 4.52 10.64M1646.42 1148.44a5.78 3.19 59 1 0 -5.95 -9.91a5.78 3.19 59 1 0 5.95 9.91M1622.26 992.02a5.08 3.57 67 1 0 -3.97 -9.35a5.08 3.57 67 1 0 3.97 9.35M1630.14 935.71a4.51 3.16 118 1 0 4.23 -7.96a4.51 3.16 118 1 0 -4.23 7.96M1447.63 1012.43a6.04 3.26 127 1 0 7.27 -9.64a6.04 3.26 127 1 0 -7.27 9.64M1485.87 977.11a3.94 2.72 19 1 0 -7.45 -2.57a3.94 2.72 19 1 0 7.45 2.57M1588.23 1120.17a3.13 1.81 39 1 0 -4.86 -3.93a3.13 1.81 39 1 0 4.86 3.93M1501.34 1026.96a4.94 2.88 74 1 0 -2.72 -9.5a4.94 2.88 74 1 0 2.72 9.5M1689.97 1131.63a6.19 4.48 22 1 0 -11.48 -4.64a6.19 4.48 22 1 0 11.48 4.64M1583.22 969.14a3.32 1.94 160 1 0 6.24 -2.27a3.32 1.94 160 1 0 -6.24 2.27M1705.55 1099.11a4.69 2.6 118 1 0 4.41 -8.29a4.69 2.6 118 1 0 -4.41 8.29M1648.67 1128.06a4.33 3.36 127 1 0 5.22 -6.92a4.33 3.36 127 1 0 -5.22 6.92M1684.61 1078.38a4.31 2.08 122 1 0 4.57 -7.32a4.31 2.08 122 1 0 -4.57 7.32M1527.89 1141.04a3.09 2.27 99 1 0 0.97 -6.11a3.09 2.27 99 1 0 -0.97 6.11M1634.1 913.25a3.81 2.58 45 1 0 -5.39 -5.39a3.81 2.58 45 1 0 5.39 5.39M1634.82 1012.43a4.48 2.45 72 1 0 -2.77 -8.51a4.48 2.45 72 1 0 2.77 8.51M1472.35 1028.17a5.1 2.39 147 1 0 8.55 -5.55a5.1 2.39 147 1 0 -8.55 5.55M1637.13 1029.64a5.44 4.12 68 1 0 -4.07 -10.08a5.44 4.12 68 1 0 4.07 10.08M1638.66 927.3a5.6 3.78 161 1 0 10.58 -3.64a5.6 3.78 161 1 0 -10.58 3.64M1691.91 1108.66a5.1 3.86 125 1 0 5.85 -8.35a5.1 3.86 125 1 0 -5.85 8.35M1598.62 1109.8a5.17 3.1 5 1 0 -10.3 -0.9a5.17 3.1 5 1 0 10.3 0.9M1552.08 1118.13a5.08 3.42 118 1 0 4.77 -8.97a5.08 3.42 118 1 0 -4.77 8.97M1681.52 912.59a4.22 3.15 117 1 0 3.84 -7.53a4.22 3.15 117 1 0 -3.84 7.53M1665.59 942.43a5.7 3.55 145 1 0 9.34 -6.54a5.7 3.55 145 1 0 -9.34 6.54M1460.74 1005.47a5.81 4.32 144 1 0 9.4 -6.83a5.81 4.32 144 1 0 -9.4 6.83M1500.61 907.66a3.06 2.02 175 1 0 6.09 -0.53a3.06 2.02 175 1 0 -6.09 0.53M1557.97 1125.44a3.46 2.89 22 1 0 -6.42 -2.59a3.46 2.89 22 1 0 6.42 2.59M1565.38 1140.77a6.05 3.85 9 1 0 -11.94 -1.89a6.05 3.85 9 1 0 11.94 1.89M1503.82 1138.92a5.56 3.35 52 1 0 -6.85 -8.77a5.56 3.35 52 1 0 6.85 8.77M1649.84 977.24a5.7 2.58 113 1 0 4.45 -10.49a5.7 2.58 113 1 0 -4.45 10.49M1697.25 923.79a5.68 4.31 45 1 0 -8.03 -8.03a5.68 4.31 45 1 0 8.03 8.03M1608.12 1144.93a3.54 2.41 19 1 0 -6.7 -2.31a3.54 2.41 19 1 0 6.7 2.31M1627.37 1011.32a4.29 2.22 93 1 0 0.45 -8.58a4.29 2.22 93 1 0 -0.45 8.58M1703.32 914.01a3.77 2.23 152 1 0 6.66 -3.54a3.77 2.23 152 1 0 -6.66 3.54M1706.81 917.3a5.56 3.04 26 1 0 -9.99 -4.87a5.56 3.04 26 1 0 9.99 4.87M1680.99 1013.41a4.03 2.72 16 1 0 -7.75 -2.22a4.03 2.72 16 1 0 7.75 2.22M1700 1023.16a4.48 2.73 93 1 0 0.47 -8.94a4.48 2.73 93 1 0 -0.47 8.94M1609.21 993.58a5.03 3.1 132 1 0 6.73 -7.47a5.03 3.1 132 1 0 -6.73 7.47M1606.46 956.37a5.34 3.75 104 1 0 2.58 -10.36a5.34 3.75 104 1 0 -2.58 10.36M1626.39 1126.2a4.41 2.11 69 1 0 -3.16 -8.24a4.41 2.11 69 1 0 3.16 8.24M1688.66 1123.99a4.28 2.74 45 1 0 -6.05 -6.05a4.28 2.74 45 1 0 6.05 6.05M1708.76 1105.72a5.96 2.71 27 1 0 -10.63 -5.42a5.96 2.71 27 1 0 10.63 5.42M1474.22 1105.1a4.84 2.41 149 1 0 8.29 -4.98a4.84 2.41 149 1 0 -8.29 4.98M1678.26 1038.51a4.45 2.57 68 1 0 -3.34 -8.26a4.45 2.57 68 1 0 3.34 8.26M1493.29 1140.64a4.93 2.38 53 1 0 -5.94 -7.88a4.93 2.38 53 1 0 5.94 7.88M1662.69 1042.85a5.88 4.6 88 1 0 -0.41 -11.75a5.88 4.6 88 1 0 0.41 11.75M1607.11 954.7a4.99 4.02 122 1 0 5.29 -8.46a4.99 4.02 122 1 0 -5.29 8.46M1525.18 963.71a5.75 3.07 141 1 0 8.93 -7.23a5.75 3.07 141 1 0 -8.93 7.23M1683.94 1030.87a4.03 2.3 148 1 0 6.84 -4.27a4.03 2.3 148 1 0 -6.84 4.27M1481.95 1041.26a6.36 4.56 119 1 0 6.17 -11.13a6.36 4.56 119 1 0 -6.17 11.13M1546.69 965.89a5.96 5.04 149 1 0 10.21 -6.14a5.96 5.04 149 1 0 -10.21 6.14M1631.39 983.21a3.55 1.68 157 1 0 6.54 -2.78a3.55 1.68 157 1 0 -6.54 2.78M1464.82 958.71a4.64 3.41 61 1 0 -4.5 -8.11a4.64 3.41 61 1 0 4.5 8.11M1610.13 1131.11a6.22 2.91 24 1 0 -11.37 -5.06a6.22 2.91 24 1 0 11.37 5.06M1671.34 924.88a6 2.92 161 1 0 11.34 -3.91a6 2.92 161 1 0 -11.34 3.91M1694.23 1110.08a3.95 2.71 139 1 0 5.96 -5.18a3.95 2.71 139 1 0 -5.96 5.18M1532.6 916.18a4.87 2.37 165 1 0 9.4 -2.52a4.87 2.37 165 1 0 -9.4 2.52M1528.38 1138.38a5.75 4.79 21 1 0 -10.74 -4.12a5.75 4.79 21 1 0 10.74 4.12M1665.4 1052.58a4.05 2.49 152 1 0 7.15 -3.8a4.05 2.49 152 1 0 -7.15 3.8M1556.46 995.1a5.52 2.86 28 1 0 -9.75 -5.18a5.52 2.86 28 1 0 9.75 5.18M1465.68 1031.85a3.6 2.61 39 1 0 -5.6 -4.53a3.6 2.61 39 1 0 5.6 4.53M1522.59 970.72a6.27 3.6 133 1 0 8.55 -9.17a6.27 3.6 133 1 0 -8.55 9.17M1571.79 990.34a3.45 2.36 80 1 0 -1.2 -6.8a3.45 2.36 80 1 0 1.2 6.8M1602.44 1052.38a4.9 2.52 128 1 0 6.03 -7.71a4.9 2.52 128 1 0 -6.03 7.71M1681.12 994.2a4.57 3.65 11 1 0 -8.97 -1.74a4.57 3.65 11 1 0 8.97 1.74M1709.83 1026.04a4.64 2.58 82 1 0 -1.29 -9.18a4.64 2.58 82 1 0 1.29 9.18M1694.39 1001.29a3.48 2.4 124 1 0 3.9 -5.78a3.48 2.4 124 1 0 -3.9 5.78M1697.89 1107.68a4.41 2.04 89 1 0 -0.15 -8.82a4.41 2.04 89 1 0 0.15 8.82M1541.78 1117.83a5.05 2.59 168 1 0 9.89 -2.1a5.05 2.59 168 1 0 -9.89 2.1M1699.69 1012.15a3.07 2.37 92 1 0 0.21 -6.14a3.07 2.37 92 1 0 -0.21 6.14M1515.43 901.92a6.4 4.37 1 1 0 -12.8 -0.22a6.4 4.37 1 1 0 12.8 0.22M1643.97 1074.42a6.35 4.99 131 1 0 8.33 -9.58a6.35 4.99 131 1 0 -8.33 9.58M1515.8 974.22a3.99 2.27 28 1 0 -7.04 -3.75a3.99 2.27 28 1 0 7.04 3.75M1480.62 1083.24a5.18 3.01 52 1 0 -6.38 -8.17a5.18 3.01 52 1 0 6.38 8.17M1472.59 1069.99a6.18 4.92 13 1 0 -12.04 -2.78a6.18 4.92 13 1 0 12.04 2.78M1662.05 1105.53a5.31 3.24 142 1 0 8.36 -6.53a5.31 3.24 142 1 0 -8.36 6.53M1508.45 1019.79a4.25 2.47 41 1 0 -6.42 -5.58a4.25 2.47 41 1 0 6.42 5.58M1702.04 1096.41a6.28 3.99 152 1 0 11.08 -5.89a6.28 3.99 152 1 0 -11.08 5.89M1538.56 1094.41a4.27 3.36 62 1 0 -4.01 -7.54a4.27 3.36 62 1 0 4.01 7.54M1498.31 1097.32a5.8 4.05 125 1 0 6.66 -9.51a5.8 4.05 125 1 0 -6.66 9.51M1606.81 998.86a6.34 3.17 162 1 0 12.07 -3.92a6.34 3.17 162 1 0 -12.07 3.92M1484.91 942.31a5.42 3.32 145 1 0 8.88 -6.22a5.42 3.32 145 1 0 -8.88 6.22M1599.39 974.07a5.81 3.31 122 1 0 6.16 -9.86a5.81 3.31 122 1 0 -6.16 9.86M1598.1 1026.59a5.1 2.36 88 1 0 -0.36 -10.2a5.1 2.36 88 1 0 0.36 10.2M1619.45 1003.06a5.55 2.89 149 1 0 9.52 -5.72a5.55 2.89 149 1 0 -9.52 5.72M1559.71 1074.45a4.55 2.59 161 1 0 8.6 -2.96a4.55 2.59 161 1 0 -8.6 2.96M1461.88 1047.23a6.07 2.76 102 1 0 2.52 -11.87a6.07 2.76 102 1 0 -2.52 11.87M1568.79 1133.07a3.47 2.59 127 1 0 4.17 -5.54a3.47 2.59 127 1 0 -4.17 5.54M1596.64 1062.58a4.97 4.02 4 1 0 -9.91 -0.69a4.97 4.02 4 1 0 9.91 0.69M1463.9 1089.93a5.05 3.67 75 1 0 -2.62 -9.76a5.05 3.67 75 1 0 2.62 9.76M1472.82 1141.18a3.13 1.66 34 1 0 -5.19 -3.5a3.13 1.66 34 1 0 5.19 3.5M1481.77 1105.98a3.47 1.61 60 1 0 -3.47 -6a3.47 1.61 60 1 0 3.47 6M1575.25 987.79a5.31 3.91 42 1 0 -7.89 -7.1a5.31 3.91 42 1 0 7.89 7.1M1536.31 1122.75a5.87 3.98 66 1 0 -4.77 -10.72a5.87 3.98 66 1 0 4.77 10.72M1532.79 933.1a4.9 2.74 129 1 0 6.17 -7.62a4.9 2.74 129 1 0 -6.17 7.62M1682.38 1072.38a5.69 3.04 107 1 0 3.33 -10.88a5.69 3.04 107 1 0 -3.33 10.88M1458.98 1031.61a4.31 2.36 44 1 0 -6.19 -5.98a4.31 2.36 44 1 0 6.19 5.98M1607.34 1122.12a5.68 4.52 135 1 0 8.03 -8.03a5.68 4.52 135 1 0 -8.03 8.03M1496.94 1085.6a5.49 3.1 121 1 0 5.65 -9.41a5.49 3.1 121 1 0 -5.65 9.41M1613.15 929.39a6.03 3.01 38 1 0 -9.5 -7.43a6.03 3.01 38 1 0 9.5 7.43M1520.93 1040.8a5.97 3.84 119 1 0 5.79 -10.44a5.97 3.84 119 1 0 -5.79 10.44M1684.34 1078.58a4.38 2.84 173 1 0 8.69 -1.07a4.38 2.84 173 1 0 -8.69 1.07M1707.8 1139.56a5.14 4.25 108 1 0 3.18 -9.77a5.14 4.25 108 1 0 -3.18 9.77M1587.87 1100.03a4.66 3.21 66 1 0 -3.79 -8.51a4.66 3.21 66 1 0 3.79 8.51M1698.62 1131.31a3.05 2.13 177 1 0 6.09 -0.32a3.05 2.13 177 1 0 -6.09 0.32M1591.5 1144.21a3.28 1.85 163 1 0 6.28 -1.92a3.28 1.85 163 1 0 -6.28 1.92M1568.28 971.83a4.04 3.28 42 1 0 -6.01 -5.41a4.04 3.28 42 1 0 6.01 5.41M1624.45 1039.27a4.58 2.91 26 1 0 -8.23 -4.01a4.58 2.91 26 1 0 8.23 4.01M1644.01 1030.63a5.3 4.36 155 1 0 9.6 -4.48a5.3 4.36 155 1 0 -9.6 4.48M1701.62 913.97a5.75 4.72 72 1 0 -3.55 -10.94a5.75 4.72 72 1 0 3.55 10.94M1665.55 1086.04a6.29 3.86 71 1 0 -4.1 -11.9a6.29 3.86 71 1 0 4.1 11.9M1660.45 991.32a3.21 2.57 159 1 0 5.99 -2.3a3.21 2.57 159 1 0 -5.99 2.3M1469.12 1152.28a6.23 4.18 80 1 0 -2.16 -12.28a6.23 4.18 80 1 0 2.16 12.28M1647.27 1110.32a5.97 4.06 53 1 0 -7.19 -9.54a5.97 4.06 53 1 0 7.19 9.54M1451.05 985.82a3.18 2.63 108 1 0 1.97 -6.05a3.18 2.63 108 1 0 -1.97 6.05M1558.79 1011.15a3.07 1.78 108 1 0 1.9 -5.83a3.07 1.78 108 1 0 -1.9 5.83M1495.11 928.45a4.29 2.8 127 1 0 5.16 -6.85a4.29 2.8 127 1 0 -5.16 6.85M1598.59 909.35a5.59 3.59 95 1 0 0.97 -11.14a5.59 3.59 95 1 0 -0.97 11.14M1509.55 1141.65a6.15 2.89 166 1 0 11.94 -2.98a6.15 2.89 166 1 0 -11.94 2.98M1533.94 997.42a3.51 2.29 99 1 0 1.1 -6.94a3.51 2.29 99 1 0 -1.1 6.94M1647.42 1075.53a4.18 3.31 164 1 0 8.04 -2.31a4.18 3.31 164 1 0 -8.04 2.31M1664.34 1058.39a5.32 2.88 73 1 0 -3.11 -10.18a5.32 2.88 73 1 0 3.11 10.18M1693.26 1038.9a3.61 1.69 6 1 0 -7.18 -0.75a3.61 1.69 6 1 0 7.18 0.75M1494.81 957.68a5.62 3.19 146 1 0 9.32 -6.29a5.62 3.19 146 1 0 -9.32 6.29M1564.35 911.2a4.4 3.5 46 1 0 -6.12 -6.33a4.4 3.5 46 1 0 6.12 6.33M1638.04 1123.38a4.23 2.03 76 1 0 -2.04 -8.2a4.23 2.03 76 1 0 2.04 8.2M1499.6 1100.43a4.8 3.14 131 1 0 6.3 -7.25a4.8 3.14 131 1 0 -6.3 7.25M1705.7 997.67a4.18 3.3 149 1 0 7.17 -4.31a4.18 3.3 149 1 0 -7.17 4.31M1581.99 1018.48a4.16 1.94 34 1 0 -6.89 -4.65a4.16 1.94 34 1 0 6.89 4.65M1643.3 1047.91a5.85 2.76 120 1 0 5.85 -10.13a5.85 2.76 120 1 0 -5.85 10.13M1700.57 1019.09a6.17 4.27 173 1 0 12.25 -1.5a6.17 4.27 173 1 0 -12.25 1.5M1572.77 1105.35a5.5 2.79 91 1 0 0.19 -10.99a5.5 2.79 91 1 0 -0.19 10.99M1514.24 940.56a3.45 1.76 13 1 0 -6.72 -1.55a3.45 1.76 13 1 0 6.72 1.55M1647.08 1097.13a3.08 1.94 129 1 0 3.88 -4.79a3.08 1.94 129 1 0 -3.88 4.79M1580.69 1066.45a4.05 2.17 109 1 0 2.64 -7.65a4.05 2.17 109 1 0 -2.64 7.65M1594.03 1040.74a3.64 2.16 74 1 0 -2 -6.99a3.64 2.16 74 1 0 2 6.99M1699.72 1119.28a4.13 2.17 33 1 0 -6.93 -4.5a4.13 2.17 33 1 0 6.93 4.5M1563.57 1039.88a4.12 2.94 145 1 0 6.75 -4.72a4.12 2.94 145 1 0 -6.75 4.72M1556.65 969.76a5.05 3.21 36 1 0 -8.18 -5.94a5.05 3.21 36 1 0 8.18 5.94M1654.03 984.83a4.88 3.93 105 1 0 2.53 -9.43a4.88 3.93 105 1 0 -2.53 9.43M1700.06 943.19a3.88 2.68 178 1 0 7.76 -0.27a3.88 2.68 178 1 0 -7.76 0.27M1599.88 1087.22a3.82 2.13 48 1 0 -5.11 -5.68a3.82 2.13 48 1 0 5.11 5.68M1576.3 1078.33a5.36 2.69 139 1 0 8.09 -7.03a5.36 2.69 139 1 0 -8.09 7.03M1592.82 947.86a3.39 2.85 167 1 0 6.61 -1.53a3.39 2.85 167 1 0 -6.61 1.53M1680.69 1011.51a3.38 2.36 80 1 0 -1.17 -6.65a3.38 2.36 80 1 0 1.17 6.65M1579.98 1013.18a5.53 3.68 146 1 0 9.17 -6.18a5.53 3.68 146 1 0 -9.17 6.18M1704.28 1121.55a5.61 2.87 3 1 0 -11.2 -0.59a5.61 2.87 3 1 0 11.2 0.59M1470.88 1085.37a4.97 2.68 26 1 0 -8.94 -4.36a4.97 2.68 26 1 0 8.94 4.36M1670.65 978.81a5.71 3.08 121 1 0 5.88 -9.79a5.71 3.08 121 1 0 -5.88 9.79M1590.44 1031.19a4.92 3.12 111 1 0 3.53 -9.19a4.92 3.12 111 1 0 -3.53 9.19M1557.49 1076.57a6.13 5.18 0 1 0 -12.26 -0a6.13 5.18 0 1 0 12.26 0M1510.95 1132.95a3.95 1.81 5 1 0 -7.88 -0.69a3.95 1.81 5 1 0 7.88 0.69M1523.05 1133.87a4.96 3.34 74 1 0 -2.73 -9.53a4.96 3.34 74 1 0 2.73 9.53M1458.54 1038.16a5.41 3.08 175 1 0 10.77 -0.94a5.41 3.08 175 1 0 -10.77 0.94M1584 1108.54a4.57 3.59 179 1 0 9.13 -0.16a4.57 3.59 179 1 0 -9.13 0.16M1561.32 922.9a3.07 2.05 17 1 0 -5.87 -1.8a3.07 2.05 17 1 0 5.87 1.8M1613.96 1142.49a4.08 3.26 178 1 0 8.16 -0.29a4.08 3.26 178 1 0 -8.16 0.29M1668.8 1022.39a3.5 2.04 131 1 0 4.59 -5.29a3.5 2.04 131 1 0 -4.59 5.29M1477.7 930.88a4.65 3.85 146 1 0 7.72 -5.21a4.65 3.85 146 1 0 -7.72 5.21M1692.3 1117.27a5.35 2.61 7 1 0 -10.62 -1.3a5.35 2.61 7 1 0 10.62 1.3M1643.75 946.15a6.24 2.83 143 1 0 9.97 -7.51a6.24 2.83 143 1 0 -9.97 7.51M1680.61 910.52a3.97 2.87 57 1 0 -4.33 -6.67a3.97 2.87 57 1 0 4.33 6.67M1509.85 911.93a6.49 2.96 77 1 0 -2.92 -12.65a6.49 2.96 77 1 0 2.92 12.65M1587.54 1155.87a4.24 3.48 134 1 0 5.9 -6.11a4.24 3.48 134 1 0 -5.9 6.11M1490.37 1099.95a4.29 3.48 112 1 0 3.21 -7.96a4.29 3.48 112 1 0 -3.21 7.96M1639.25 1074.89a3.63 2.52 141 1 0 5.64 -4.57a3.63 2.52 141 1 0 -5.64 4.57M1457.97 928.38a4.39 3.08 116 1 0 3.85 -7.9a4.39 3.08 116 1 0 -3.85 7.9M1555 1069.01a6.37 4.43 68 1 0 -4.77 -11.81a6.37 4.43 68 1 0 4.77 11.81M1514.59 915.33a3.67 2.49 115 1 0 3.11 -6.66a3.67 2.49 115 1 0 -3.11 6.66M1530.34 1013.15a4.61 2.7 158 1 0 8.54 -3.45a4.61 2.7 158 1 0 -8.54 3.45M1667.12 958.99a6.1 3.89 54 1 0 -7.17 -9.87a6.1 3.89 54 1 0 7.17 9.87M1538.34 952.57a3.18 2.48 23 1 0 -5.85 -2.48a3.18 2.48 23 1 0 5.85 2.48M1659.66 1113.91a4.82 3.94 67 1 0 -3.76 -8.87a4.82 3.94 67 1 0 3.76 8.87M1507.5 1098.92a3.68 2.18 179 1 0 7.36 -0.13a3.68 2.18 179 1 0 -7.36 0.13M1712.58 1142.45a6.21 5.22 55 1 0 -7.13 -10.18a6.21 5.22 55 1 0 7.13 10.18M1658.18 991.74a5.2 3.01 56 1 0 -5.82 -8.63a5.2 3.01 56 1 0 5.82 8.63M1700 1152a4.4 2.61 114 1 0 3.58 -8.05a4.4 2.61 114 1 0 -3.58 8.05M1505.86 1023.13a4.96 2.97 19 1 0 -9.38 -3.23a4.96 2.97 19 1 0 9.38 3.23M1637.59 987.15a6.26 3.67 125 1 0 7.18 -10.25a6.26 3.67 125 1 0 -7.18 10.25M1552.98 927.55a4.39 2.96 15 1 0 -8.47 -2.27a4.39 2.96 15 1 0 8.47 2.27M1469.18 1063.76a4 2.74 55 1 0 -4.59 -6.56a4 2.74 55 1 0 4.59 6.56M1487.98 1158.15a3.44 1.88 37 1 0 -5.49 -4.14a3.44 1.88 37 1 0 5.49 4.14M1593.46 963.61a3.57 2.43 65 1 0 -3.02 -6.48a3.57 2.43 65 1 0 3.02 6.48M1464.16 941.25a3.95 2.01 61 1 0 -3.83 -6.9a3.95 2.01 61 1 0 3.83 6.9M1598.06 944.97a5.11 4.33 115 1 0 4.32 -9.26a5.11 4.33 115 1 0 -4.32 9.26M1601.27 959.29a5.77 3.66 44 1 0 -8.29 -8.01a5.77 3.66 44 1 0 8.29 8.01M1581.45 1005.8a5.95 4.95 135 1 0 8.42 -8.42a5.95 4.95 135 1 0 -8.42 8.42M1461.71 1088.65a4.24 3.02 44 1 0 -6.1 -5.89a4.24 3.02 44 1 0 6.1 5.89M1465.23 1066.6a3.68 2.57 110 1 0 2.52 -6.91a3.68 2.57 110 1 0 -2.52 6.91M1691.54 967.91a5.48 3.45 139 1 0 8.26 -7.18a5.48 3.45 139 1 0 -8.26 7.18M1467.51 1135.18a4.42 3.24 139 1 0 6.68 -5.81a4.42 3.24 139 1 0 -6.68 5.81M1512.43 952.14a3.99 2.62 118 1 0 3.74 -7.04a3.99 2.62 118 1 0 -3.74 7.04M1459.57 994.44a4.39 3.46 120 1 0 4.39 -7.6a4.39 3.46 120 1 0 -4.39 7.6M1488.9 1126.32a5.6 4.45 50 1 0 -7.2 -8.58a5.6 4.45 50 1 0 7.2 8.58M1611.23 978.13a6.25 4.48 10 1 0 -12.3 -2.17a6.25 4.48 10 1 0 12.3 2.17M1599.63 1158.12a5.31 4.37 80 1 0 -1.84 -10.45a5.31 4.37 80 1 0 1.84 10.45M1669.62 1030.75a4.33 3.08 98 1 0 1.21 -8.58a4.33 3.08 98 1 0 -1.21 8.58"/>
</g></g>
<circle cx="1212" cy="997.5" r="1.8" fill="#3ccf5a"/>
<line x1="1212" y1="1011.1" x2="1212" y2="1036.9" stroke="#ffffff" stroke-width="3.4"/>
<path d="M1206.8,1014.6 L1212,1005.1 L1217.2,1014.6 Z" fill="#ffffff"/>
<circle cx="1676.1" cy="914.8" r="2" fill="#3fd866"/>
<line x1="1677.7" y1="928.2" x2="1677.7" y2="952.9" stroke="#ffffff" stroke-width="3.4"/>
<path d="M1672.5,931.7 L1677.7,922.2 L1682.9,931.7 Z" fill="#ffffff"/>
<circle cx="1632.1" cy="978.8" r="2" fill="#3fd866"/>
<line x1="1632.9" y1="992.7" x2="1632.9" y2="1018.1" stroke="#ffffff" stroke-width="3.4"/>
<path d="M1627.7,996.2 L1632.9,986.7 L1638.1,996.2 Z" fill="#ffffff"/>
<circle cx="1464.2" cy="995" r="2" fill="#3fd866"/>
<line x1="1464.2" y1="1008" x2="1464.2" y2="1033.4" stroke="#ffffff" stroke-width="3.4"/>
<path d="M1459,1011.5 L1464.2,1002 L1469.4,1011.5 Z" fill="#ffffff"/>
<circle cx="1543.6" cy="1003.5" r="2" fill="#3fd866"/>
<line x1="1542.5" y1="1015.5" x2="1542.5" y2="1041.3" stroke="#ffffff" stroke-width="3.4"/>
<path d="M1537.3,1019 L1542.5,1009.5 L1547.7,1019 Z" fill="#ffffff"/>
<circle cx="1620.1" cy="1026.8" r="2" fill="#3fd866"/>
<line x1="1621.4" y1="1041.4" x2="1621.4" y2="1066.9" stroke="#ffffff" stroke-width="3.4"/>
<path d="M1616.2,1044.9 L1621.4,1035.4 L1626.6,1044.9 Z" fill="#ffffff"/>
<circle cx="1672" cy="1029.6" r="2" fill="#3fd866"/>
<line x1="1673" y1="1040.7" x2="1673" y2="1066.4" stroke="#ffffff" stroke-width="3.4"/>
<path d="M1667.8,1044.2 L1673,1034.7 L1678.2,1044.2 Z" fill="#ffffff"/>
<circle cx="1650" cy="1045.7" r="2" fill="#3fd866"/>
<line x1="1650.5" y1="1056.4" x2="1650.5" y2="1082.1" stroke="#ffffff" stroke-width="3.4"/>
<path d="M1645.3,1059.9 L1650.5,1050.4 L1655.7,1059.9 Z" fill="#ffffff"/>
<circle cx="1700.3" cy="1066.9" r="2" fill="#3fd866"/>
<line x1="1700.8" y1="1080.3" x2="1700.8" y2="1105.7" stroke="#ffffff" stroke-width="3.4"/>
<path d="M1695.6,1083.8 L1700.8,1074.3 L1706,1083.8 Z" fill="#ffffff"/>
<circle cx="1555" cy="1094.1" r="2" fill="#3fd866"/>
<line x1="1555.7" y1="1105.9" x2="1555.7" y2="1131.4" stroke="#ffffff" stroke-width="3.4"/>
<path d="M1550.5,1109.4 L1555.7,1099.9 L1560.9,1109.4 Z" fill="#ffffff"/>
<text x="1216.49" y="599" font-size="36" fill="#0a0a0a" textLength="128.24" lengthAdjust="spacingAndGlyphs">sh-CON</text>
<text x="1540.59" y="599" font-size="36" fill="#0a0a0a" textLength="67.18" lengthAdjust="spacingAndGlyphs">sh-1</text>
<text transform="translate(1125,778.13) rotate(-90)" font-size="43" fill="#0a0a0a" textLength="86.5" lengthAdjust="spacingAndGlyphs">Ki67</text>
<text transform="translate(1125,1077.85) rotate(-90)" font-size="43" fill="#0a0a0a" textLength="107.84" lengthAdjust="spacingAndGlyphs">Tunel</text>
<text x="1718.31" y="761.5" font-size="30" fill="#0a0a0a" textLength="67.17" lengthAdjust="spacingAndGlyphs">400×</text>
<text x="1717.5" y="1038.2" font-size="30" fill="#0a0a0a" textLength="67.98" lengthAdjust="spacingAndGlyphs">200×</text>
</svg>
</body></html>
